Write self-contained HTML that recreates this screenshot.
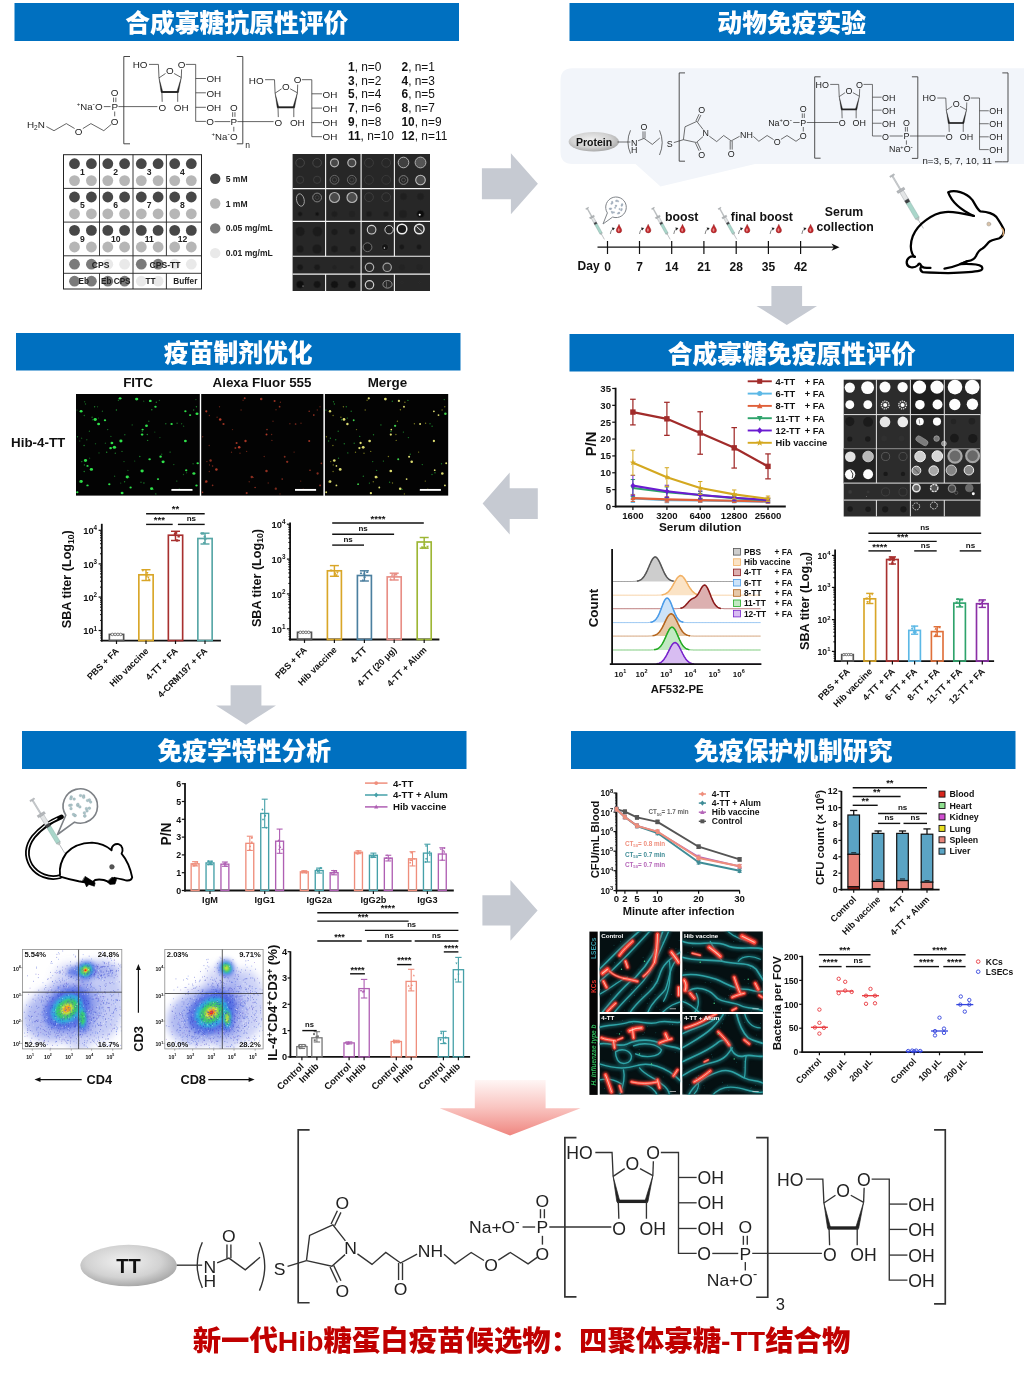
<!DOCTYPE html>
<html lang="zh"><head><meta charset="utf-8"><title>Hib glycoconjugate vaccine</title>
<style>
html,body{margin:0;padding:0;background:#fff;}
svg{display:block;font-family:"Liberation Sans","Noto Sans CJK SC",sans-serif;}
text{font-family:"Liberation Sans","Noto Sans CJK SC",sans-serif;}
</style></head><body>
<svg width="1024" height="1374" viewBox="0 0 1024 1374">
<rect width="1024" height="1374" fill="#fff"/>
<rect x="14.5" y="3" width="444.5" height="38" fill="#0070C0"/>
<text x="236.75" y="31.88" font-size="24.8" font-weight="900" fill="#fff"  text-anchor="middle">合成寡糖抗原性评价</text>
<rect x="569.5" y="3" width="444.5" height="38" fill="#0070C0"/>
<text x="791.75" y="31.88" font-size="24.8" font-weight="900" fill="#fff"  text-anchor="middle">动物免疫实验</text>
<rect x="16" y="333" width="444.5" height="37.5" fill="#0070C0"/>
<text x="238.25" y="361.63" font-size="24.8" font-weight="900" fill="#fff"  text-anchor="middle">疫苗制剂优化</text>
<rect x="569.5" y="334" width="444.5" height="37.5" fill="#0070C0"/>
<text x="791.75" y="362.63" font-size="24.8" font-weight="900" fill="#fff"  text-anchor="middle">合成寡糖免疫原性评价</text>
<rect x="22" y="731" width="444.5" height="38" fill="#0070C0"/>
<text x="244.25" y="759.88" font-size="24.8" font-weight="900" fill="#fff"  text-anchor="middle">免疫学特性分析</text>
<rect x="571" y="731" width="444.5" height="38" fill="#0070C0"/>
<text x="793.25" y="759.88" font-size="24.8" font-weight="900" fill="#fff"  text-anchor="middle">免疫保护机制研究</text>
<polygon points="481.9,168.3 510.9,168.3 510.9,153.3 537.9,183.8 510.9,214.3 510.9,199.3 481.9,199.3" fill="#C6CAD2"/>
<polygon points="802.1,286.1 802.1,305.9 817.0,305.9 786.8,324.9 756.5,305.9 771.4,305.9 771.4,286.1" fill="#C6CAD2"/>
<polygon points="537.8,519.1 509.7,519.1 509.7,534.6 482.6,503.6 509.7,472.6 509.7,488.2 537.8,488.2" fill="#C6CAD2"/>
<polygon points="261.4,685.3 261.4,705.4 276.0,705.4 246.0,724.7 216.0,705.4 230.6,705.4 230.6,685.3" fill="#C6CAD2"/>
<polygon points="482.4,895.2 510.4,895.2 510.4,880.1 537.6,910.4 510.4,940.7 510.4,925.6 482.4,925.6" fill="#C6CAD2"/>
<g id="panel1"><polyline points="130.00,56.50 123.80,56.50 123.80,143.80 130.00,143.80" fill="none" stroke="#333" stroke-width="0.9" stroke-linejoin="miter"/><polyline points="236.80,56.50 242.80,56.50 242.80,143.80 236.80,143.80" fill="none" stroke="#333" stroke-width="0.9" stroke-linejoin="miter"/><text x="245.20" y="148.34" font-size="8.5" text-anchor="start" fill="#222" font-weight="normal">n</text><text x="147.50" y="68.24" font-size="9.9" text-anchor="end" fill="#222" font-weight="normal">HO</text><polyline points="149.00,64.40 158.40,64.40 159.00,77.90" fill="none" stroke="#333" stroke-width="0.75" stroke-linejoin="miter"/><text x="169.80" y="74.44" font-size="9.9" text-anchor="middle" fill="#222" font-weight="normal">O</text><polyline points="165.50,73.50 159.00,77.90" fill="none" stroke="#333" stroke-width="0.75" stroke-linejoin="miter"/><polyline points="174.10,73.50 181.30,77.50" fill="none" stroke="#333" stroke-width="0.75" stroke-linejoin="miter"/><polygon points="159.00,77.90 161.07,92.17 162.73,91.83" fill="#222" stroke="#222" stroke-width="0.4"/><polygon points="181.30,77.50 176.88,91.80 178.52,92.20" fill="#222" stroke="#222" stroke-width="0.4"/><polyline points="161.20,92.00 178.40,92.00" fill="none" stroke="#222" stroke-width="1.9" stroke-linejoin="miter"/><polyline points="181.30,77.50 181.60,69.30" fill="none" stroke="#333" stroke-width="0.75" stroke-linejoin="miter"/><text x="181.50" y="68.14" font-size="9.9" text-anchor="middle" fill="#222" font-weight="normal">O</text><polyline points="161.90,92.00 162.20,101.80" fill="none" stroke="#333" stroke-width="0.75" stroke-linejoin="miter"/><text x="162.30" y="110.74" font-size="9.9" text-anchor="middle" fill="#222" font-weight="normal">O</text><polyline points="177.70,92.00 177.70,101.80" fill="none" stroke="#333" stroke-width="0.75" stroke-linejoin="miter"/><text x="173.80" y="110.74" font-size="9.9" text-anchor="start" fill="#222" font-weight="normal">OH</text><polyline points="185.80,64.40 195.70,64.40 195.70,121.40 205.90,121.40" fill="none" stroke="#333" stroke-width="0.75" stroke-linejoin="miter"/><polyline points="195.70,78.50 205.90,78.50" fill="none" stroke="#333" stroke-width="0.75" stroke-linejoin="miter"/><text x="206.40" y="82.24" font-size="9.9" text-anchor="start" fill="#222" font-weight="normal">OH</text><polyline points="195.70,92.80 205.90,92.80" fill="none" stroke="#333" stroke-width="0.75" stroke-linejoin="miter"/><text x="206.40" y="96.54" font-size="9.9" text-anchor="start" fill="#222" font-weight="normal">OH</text><polyline points="195.70,107.30 205.90,107.30" fill="none" stroke="#333" stroke-width="0.75" stroke-linejoin="miter"/><text x="206.40" y="111.04" font-size="9.9" text-anchor="start" fill="#222" font-weight="normal">OH</text><text x="210.10" y="125.34" font-size="9.9" text-anchor="middle" fill="#222" font-weight="normal">O</text><text x="263.60" y="83.54" font-size="9.9" text-anchor="end" fill="#222" font-weight="normal">HO</text><polyline points="265.10,79.70 274.50,79.70 275.10,93.20" fill="none" stroke="#333" stroke-width="0.75" stroke-linejoin="miter"/><text x="285.90" y="89.74" font-size="9.9" text-anchor="middle" fill="#222" font-weight="normal">O</text><polyline points="281.60,88.80 275.10,93.20" fill="none" stroke="#333" stroke-width="0.75" stroke-linejoin="miter"/><polyline points="290.20,88.80 297.40,92.80" fill="none" stroke="#333" stroke-width="0.75" stroke-linejoin="miter"/><polygon points="275.10,93.20 277.17,107.47 278.83,107.13" fill="#222" stroke="#222" stroke-width="0.4"/><polygon points="297.40,92.80 292.98,107.10 294.62,107.50" fill="#222" stroke="#222" stroke-width="0.4"/><polyline points="277.30,107.30 294.50,107.30" fill="none" stroke="#222" stroke-width="1.9" stroke-linejoin="miter"/><polyline points="297.40,92.80 297.70,84.60" fill="none" stroke="#333" stroke-width="0.75" stroke-linejoin="miter"/><text x="297.60" y="83.44" font-size="9.9" text-anchor="middle" fill="#222" font-weight="normal">O</text><polyline points="278.00,107.30 278.30,117.10" fill="none" stroke="#333" stroke-width="0.75" stroke-linejoin="miter"/><text x="278.40" y="126.04" font-size="9.9" text-anchor="middle" fill="#222" font-weight="normal">O</text><polyline points="293.80,107.30 293.80,117.10" fill="none" stroke="#333" stroke-width="0.75" stroke-linejoin="miter"/><text x="289.90" y="126.04" font-size="9.9" text-anchor="start" fill="#222" font-weight="normal">OH</text><polyline points="301.90,79.70 311.80,79.70 311.80,136.70 322.00,136.70" fill="none" stroke="#333" stroke-width="0.75" stroke-linejoin="miter"/><polyline points="311.80,93.80 322.00,93.80" fill="none" stroke="#333" stroke-width="0.75" stroke-linejoin="miter"/><text x="322.50" y="97.54" font-size="9.9" text-anchor="start" fill="#222" font-weight="normal">OH</text><polyline points="311.80,108.10 322.00,108.10" fill="none" stroke="#333" stroke-width="0.75" stroke-linejoin="miter"/><text x="322.50" y="111.84" font-size="9.9" text-anchor="start" fill="#222" font-weight="normal">OH</text><polyline points="311.80,122.60 322.00,122.60" fill="none" stroke="#333" stroke-width="0.75" stroke-linejoin="miter"/><text x="322.50" y="126.34" font-size="9.9" text-anchor="start" fill="#222" font-weight="normal">OH</text><text x="322.50" y="140.44" font-size="9.9" text-anchor="start" fill="#222" font-weight="normal">OH</text><text x="44.80" y="128.14" font-size="9.9" text-anchor="end" fill="#222" font-weight="normal">H<tspan font-size="6.5" dy="2">2</tspan><tspan dy="-2">N</tspan></text><polyline points="46.40,126.60 54.00,130.70 66.30,123.60 74.60,128.50" fill="none" stroke="#333" stroke-width="0.75" stroke-linejoin="miter"/><text x="78.70" y="134.74" font-size="9.9" text-anchor="middle" fill="#222" font-weight="normal">O</text><polyline points="82.80,128.60 90.90,123.60 103.80,130.70 111.50,124.20" fill="none" stroke="#333" stroke-width="0.75" stroke-linejoin="miter"/><text x="114.70" y="124.84" font-size="9.9" text-anchor="middle" fill="#222" font-weight="normal">O</text><polyline points="114.70,111.50 114.70,116.30" fill="none" stroke="#333" stroke-width="0.75" stroke-linejoin="miter"/><text x="114.70" y="110.34" font-size="9.9" text-anchor="middle" fill="#222" font-weight="normal">P</text><text x="114.70" y="96.14" font-size="9.9" text-anchor="middle" fill="#222" font-weight="normal">O</text><polyline points="113.55,97.60 113.55,102.10" fill="none" stroke="#333" stroke-width="0.75" stroke-linejoin="miter"/><polyline points="115.85,97.60 115.85,102.10" fill="none" stroke="#333" stroke-width="0.75" stroke-linejoin="miter"/><text x="98.80" y="110.34" font-size="9.9" text-anchor="middle" fill="#222" font-weight="normal">O</text><polyline points="103.80,106.60 110.60,106.60" fill="none" stroke="#333" stroke-width="0.75" stroke-linejoin="miter"/><text x="76.8" y="110.2" font-size="9.6" fill="#222"><tspan font-size="6" dy="-4">+</tspan><tspan dy="4">Na</tspan><tspan font-size="7" dy="-4">-</tspan></text><polyline points="118.40,106.60 157.40,106.60" fill="none" stroke="#333" stroke-width="0.75" stroke-linejoin="miter"/><polyline points="214.60,121.60 230.30,121.60" fill="none" stroke="#333" stroke-width="0.75" stroke-linejoin="miter"/><text x="233.80" y="125.44" font-size="9.9" text-anchor="middle" fill="#222" font-weight="normal">P</text><text x="233.80" y="111.04" font-size="9.9" text-anchor="middle" fill="#222" font-weight="normal">O</text><polyline points="232.65,112.20 232.65,116.90" fill="none" stroke="#333" stroke-width="0.75" stroke-linejoin="miter"/><polyline points="234.95,112.20 234.95,116.90" fill="none" stroke="#333" stroke-width="0.75" stroke-linejoin="miter"/><polyline points="233.80,126.80 233.80,131.50" fill="none" stroke="#333" stroke-width="0.75" stroke-linejoin="miter"/><text x="233.80" y="140.14" font-size="9.9" text-anchor="middle" fill="#222" font-weight="normal">O</text><text x="211.6" y="140" font-size="9.6" fill="#222"><tspan font-size="6" dy="-4">+</tspan><tspan dy="4">Na</tspan><tspan font-size="7" dy="-4">-</tspan></text><polyline points="237.40,121.60 273.60,121.60" fill="none" stroke="#333" stroke-width="0.75" stroke-linejoin="miter"/><text x="348" y="70.5" font-size="11.9" fill="#111"><tspan font-weight="bold">1</tspan>, n=0</text><text x="401.5" y="70.5" font-size="11.9" fill="#111"><tspan font-weight="bold">2</tspan>, n=1</text><text x="348" y="84.5" font-size="11.9" fill="#111"><tspan font-weight="bold">3</tspan>, n=2</text><text x="401.5" y="84.5" font-size="11.9" fill="#111"><tspan font-weight="bold">4</tspan>, n=3</text><text x="348" y="98.2" font-size="11.9" fill="#111"><tspan font-weight="bold">5</tspan>, n=4</text><text x="401.5" y="98.2" font-size="11.9" fill="#111"><tspan font-weight="bold">6</tspan>, n=5</text><text x="348" y="112" font-size="11.9" fill="#111"><tspan font-weight="bold">7</tspan>, n=6</text><text x="401.5" y="112" font-size="11.9" fill="#111"><tspan font-weight="bold">8</tspan>, n=7</text><text x="348" y="126" font-size="11.9" fill="#111"><tspan font-weight="bold">9</tspan>, n=8</text><text x="401.5" y="126" font-size="11.9" fill="#111"><tspan font-weight="bold">10</tspan>, n=9</text><text x="348" y="139.8" font-size="11.9" fill="#111"><tspan font-weight="bold">11</tspan>, n=10</text><text x="401.5" y="139.8" font-size="11.9" fill="#111"><tspan font-weight="bold">12</tspan>, n=11</text><rect x="63.5" y="154.7" width="138.0" height="134.3" fill="#fff" stroke="#222" stroke-width="1"/><polyline points="63.50,188.40 201.50,188.40" fill="none" stroke="#222" stroke-width="0.9" stroke-linejoin="miter"/><polyline points="63.50,222.10 201.50,222.10" fill="none" stroke="#222" stroke-width="0.9" stroke-linejoin="miter"/><polyline points="63.50,255.80 201.50,255.80" fill="none" stroke="#222" stroke-width="0.9" stroke-linejoin="miter"/><polyline points="63.50,273.30 201.50,273.30" fill="none" stroke="#222" stroke-width="0.9" stroke-linejoin="miter"/><polyline points="99.50,154.70 99.50,255.80" fill="none" stroke="#222" stroke-width="0.9" stroke-linejoin="miter"/><polyline points="99.50,273.30 99.50,289.00" fill="none" stroke="#222" stroke-width="0.9" stroke-linejoin="miter"/><polyline points="133.00,154.70 133.00,255.80" fill="none" stroke="#222" stroke-width="0.9" stroke-linejoin="miter"/><polyline points="133.00,273.30 133.00,289.00" fill="none" stroke="#222" stroke-width="0.9" stroke-linejoin="miter"/><polyline points="166.40,154.70 166.40,255.80" fill="none" stroke="#222" stroke-width="0.9" stroke-linejoin="miter"/><polyline points="166.40,273.30 166.40,289.00" fill="none" stroke="#222" stroke-width="0.9" stroke-linejoin="miter"/><polyline points="133.00,255.80 133.00,273.30" fill="none" stroke="#222" stroke-width="0.9" stroke-linejoin="miter"/><circle cx="74.5" cy="163.7" r="5.4" fill="#474747"/><circle cx="74.5" cy="180.6" r="5.4" fill="#b6b6b6"/><circle cx="91.4" cy="163.7" r="5.4" fill="#474747"/><circle cx="91.4" cy="180.6" r="5.4" fill="#b6b6b6"/><text x="82.45" y="175.0" font-size="8.6" font-weight="bold" text-anchor="middle" fill="#222">1</text><circle cx="107.8" cy="163.7" r="5.4" fill="#474747"/><circle cx="107.8" cy="180.6" r="5.4" fill="#b6b6b6"/><circle cx="124.6" cy="163.7" r="5.4" fill="#474747"/><circle cx="124.6" cy="180.6" r="5.4" fill="#b6b6b6"/><text x="115.69999999999999" y="175.0" font-size="8.6" font-weight="bold" text-anchor="middle" fill="#222">2</text><circle cx="141.3" cy="163.7" r="5.4" fill="#474747"/><circle cx="141.3" cy="180.6" r="5.4" fill="#b6b6b6"/><circle cx="158.1" cy="163.7" r="5.4" fill="#474747"/><circle cx="158.1" cy="180.6" r="5.4" fill="#b6b6b6"/><text x="149.2" y="175.0" font-size="8.6" font-weight="bold" text-anchor="middle" fill="#222">3</text><circle cx="174.7" cy="163.7" r="5.4" fill="#474747"/><circle cx="174.7" cy="180.6" r="5.4" fill="#b6b6b6"/><circle cx="191.3" cy="163.7" r="5.4" fill="#474747"/><circle cx="191.3" cy="180.6" r="5.4" fill="#b6b6b6"/><text x="182.5" y="175.0" font-size="8.6" font-weight="bold" text-anchor="middle" fill="#222">4</text><circle cx="74.5" cy="197" r="5.4" fill="#474747"/><circle cx="74.5" cy="213.8" r="5.4" fill="#b6b6b6"/><circle cx="91.4" cy="197" r="5.4" fill="#474747"/><circle cx="91.4" cy="213.8" r="5.4" fill="#b6b6b6"/><text x="82.45" y="208.3" font-size="8.6" font-weight="bold" text-anchor="middle" fill="#222">5</text><circle cx="107.8" cy="197" r="5.4" fill="#474747"/><circle cx="107.8" cy="213.8" r="5.4" fill="#b6b6b6"/><circle cx="124.6" cy="197" r="5.4" fill="#474747"/><circle cx="124.6" cy="213.8" r="5.4" fill="#b6b6b6"/><text x="115.69999999999999" y="208.3" font-size="8.6" font-weight="bold" text-anchor="middle" fill="#222">6</text><circle cx="141.3" cy="197" r="5.4" fill="#474747"/><circle cx="141.3" cy="213.8" r="5.4" fill="#b6b6b6"/><circle cx="158.1" cy="197" r="5.4" fill="#474747"/><circle cx="158.1" cy="213.8" r="5.4" fill="#b6b6b6"/><text x="149.2" y="208.3" font-size="8.6" font-weight="bold" text-anchor="middle" fill="#222">7</text><circle cx="174.7" cy="197" r="5.4" fill="#474747"/><circle cx="174.7" cy="213.8" r="5.4" fill="#b6b6b6"/><circle cx="191.3" cy="197" r="5.4" fill="#474747"/><circle cx="191.3" cy="213.8" r="5.4" fill="#b6b6b6"/><text x="182.5" y="208.3" font-size="8.6" font-weight="bold" text-anchor="middle" fill="#222">8</text><circle cx="74.5" cy="230.4" r="5.4" fill="#474747"/><circle cx="74.5" cy="247" r="5.4" fill="#b6b6b6"/><circle cx="91.4" cy="230.4" r="5.4" fill="#474747"/><circle cx="91.4" cy="247" r="5.4" fill="#b6b6b6"/><text x="82.45" y="241.70000000000002" font-size="8.6" font-weight="bold" text-anchor="middle" fill="#222">9</text><circle cx="107.8" cy="230.4" r="5.4" fill="#474747"/><circle cx="107.8" cy="247" r="5.4" fill="#b6b6b6"/><circle cx="124.6" cy="230.4" r="5.4" fill="#474747"/><circle cx="124.6" cy="247" r="5.4" fill="#b6b6b6"/><text x="115.69999999999999" y="241.70000000000002" font-size="8.6" font-weight="bold" text-anchor="middle" fill="#222">10</text><circle cx="141.3" cy="230.4" r="5.4" fill="#474747"/><circle cx="141.3" cy="247" r="5.4" fill="#b6b6b6"/><circle cx="158.1" cy="230.4" r="5.4" fill="#474747"/><circle cx="158.1" cy="247" r="5.4" fill="#b6b6b6"/><text x="149.2" y="241.70000000000002" font-size="8.6" font-weight="bold" text-anchor="middle" fill="#222">11</text><circle cx="174.7" cy="230.4" r="5.4" fill="#474747"/><circle cx="174.7" cy="247" r="5.4" fill="#b6b6b6"/><circle cx="191.3" cy="230.4" r="5.4" fill="#474747"/><circle cx="191.3" cy="247" r="5.4" fill="#b6b6b6"/><text x="182.5" y="241.70000000000002" font-size="8.6" font-weight="bold" text-anchor="middle" fill="#222">12</text><circle cx="74.5" cy="264.2" r="5.4" fill="#7a7a7a"/><circle cx="91.4" cy="264.2" r="5.4" fill="#7a7a7a"/><circle cx="107.8" cy="264.2" r="5.4" fill="#e9e9e9"/><circle cx="124.6" cy="264.2" r="5.4" fill="#e9e9e9"/><circle cx="141.3" cy="264.2" r="5.4" fill="#7a7a7a"/><circle cx="158.1" cy="264.2" r="5.4" fill="#7a7a7a"/><circle cx="174.7" cy="264.2" r="5.4" fill="#e9e9e9"/><circle cx="191.3" cy="264.2" r="5.4" fill="#e9e9e9"/><circle cx="74.5" cy="281.2" r="5.4" fill="#7a7a7a"/><circle cx="91.4" cy="281.2" r="5.4" fill="#7a7a7a"/><circle cx="107.8" cy="281.2" r="5.4" fill="#7a7a7a"/><circle cx="124.6" cy="281.2" r="5.4" fill="#7a7a7a"/><circle cx="141.3" cy="281.2" r="5.4" fill="#e9e9e9"/><circle cx="158.1" cy="281.2" r="5.4" fill="#e9e9e9"/><text x="100.6" y="267.6" font-size="8.6" font-weight="bold" text-anchor="middle" fill="#222">CPS</text><text x="165" y="267.6" font-size="8.6" font-weight="bold" text-anchor="middle" fill="#222">CPS-TT</text><text x="83.8" y="284.3" font-size="8.2" font-weight="bold" text-anchor="middle" fill="#222">Eb</text><text x="115.8" y="284.3" font-size="8.2" font-weight="bold" text-anchor="middle" fill="#222">Eb CPS</text><text x="150.5" y="284.3" font-size="8.2" font-weight="bold" text-anchor="middle" fill="#222">TT</text><text x="185.3" y="284.3" font-size="8.2" font-weight="bold" text-anchor="middle" fill="#222">Buffer</text><circle cx="215.2" cy="178.8" r="5.2" fill="#474747"/><text x="225.7" y="181.8" font-size="8.55" font-weight="bold" text-anchor="start" fill="#222">5 mM</text><circle cx="215.2" cy="203.5" r="5.2" fill="#b6b6b6"/><text x="225.7" y="206.5" font-size="8.55" font-weight="bold" text-anchor="start" fill="#222">1 mM</text><circle cx="215.2" cy="228.4" r="5.2" fill="#7a7a7a"/><text x="225.7" y="231.4" font-size="8.55" font-weight="bold" text-anchor="start" fill="#222">0.05 mg/mL</text><circle cx="215.2" cy="253.1" r="5.2" fill="#e9e9e9"/><text x="225.7" y="256.1" font-size="8.55" font-weight="bold" text-anchor="start" fill="#222">0.01 mg/mL</text><rect x="292.6" y="154" width="137.39999999999998" height="137" fill="#272727"/><circle cx="300.1" cy="162.8" r="4.3" fill="none" stroke="#474747" stroke-width="1.0" opacity="1"/><circle cx="300.1" cy="179.8" r="3.6" fill="none" stroke="#3d3d3d" stroke-width="1.0" opacity="1"/><circle cx="317.1" cy="162.8" r="4.3" fill="none" stroke="#474747" stroke-width="1.0" opacity="1"/><circle cx="317.1" cy="179.8" r="3.6" fill="none" stroke="#3d3d3d" stroke-width="1.0" opacity="1"/><circle cx="334.5" cy="162.8" r="4.0" fill="#484848" stroke="#b4b4b4" stroke-width="1.2" opacity="1"/><circle cx="334.5" cy="179.8" r="4.4" fill="none" stroke="#777" stroke-width="0.8" opacity="1"/><circle cx="334.5" cy="179.8" r="2.2" fill="none" stroke="#555" stroke-width="0.6" opacity="1"/><circle cx="351.8" cy="162.8" r="4.0" fill="#484848" stroke="#b4b4b4" stroke-width="1.2" opacity="1"/><circle cx="351.8" cy="179.8" r="4.4" fill="none" stroke="#777" stroke-width="0.8" opacity="1"/><circle cx="351.8" cy="179.8" r="2.2" fill="none" stroke="#555" stroke-width="0.6" opacity="1"/><circle cx="369.0" cy="162.8" r="4.4" fill="none" stroke="#3c3c3c" stroke-width="1.0" opacity="1"/><circle cx="369.0" cy="179.8" r="4.4" fill="none" stroke="#383838" stroke-width="1.0" opacity="1"/><circle cx="386.2" cy="162.8" r="4.4" fill="none" stroke="#3c3c3c" stroke-width="1.0" opacity="1"/><circle cx="386.2" cy="179.8" r="4.4" fill="none" stroke="#383838" stroke-width="1.0" opacity="1"/><circle cx="403.5" cy="162.5" r="5.3" fill="#404040" stroke="#bdbdbd" stroke-width="0.9" opacity="1"/><circle cx="420.5" cy="162.5" r="5.4" fill="#555" stroke="#b0b0b0" stroke-width="1.0" opacity="1"/><circle cx="403.5" cy="180" r="4.4" fill="none" stroke="#8a8a8a" stroke-width="0.9" opacity="1"/><circle cx="403.5" cy="180" r="2" fill="none" stroke="#666" stroke-width="0.6" opacity="1"/><circle cx="420.5" cy="180" r="4.8" fill="#4c4c4c" stroke="#bdbdbd" stroke-width="1.1" opacity="1"/><ellipse cx="300.4" cy="200" rx="3.8" ry="6.3" fill="none" stroke="#a5a5a5" stroke-width="0.9" transform="rotate(-12 300.4 200)"/><circle cx="317.1" cy="197.5" r="4.4" fill="none" stroke="#8c8c8c" stroke-width="0.9" opacity="1"/><circle cx="317.1" cy="197.5" r="2" fill="none" stroke="#555" stroke-width="0.5" opacity="1"/><circle cx="334.5" cy="197.5" r="5" fill="#4a4a4a" stroke="#b0b0b0" stroke-width="1.2" opacity="1"/><circle cx="352" cy="197.5" r="5" fill="#4d4d4d" stroke="#b4b4b4" stroke-width="1.2" opacity="1"/><circle cx="369.0" cy="197.2" r="4.4" fill="none" stroke="#3e3e3e" stroke-width="1.0" opacity="1"/><circle cx="386.2" cy="197.2" r="4.4" fill="none" stroke="#3e3e3e" stroke-width="1.0" opacity="1"/><circle cx="403.5" cy="196.5" r="3.2" fill="#1f1f1f" stroke="#222" stroke-width="1.0" opacity="1"/><circle cx="420.5" cy="196.5" r="3.2" fill="#1f1f1f" stroke="#222" stroke-width="1.0" opacity="1"/><circle cx="300.1" cy="214" r="2.3" fill="#161616" stroke="#232323" stroke-width="0.8" opacity="1"/><circle cx="317.1" cy="214" r="2.0" fill="#121212" stroke="#232323" stroke-width="0.8" opacity="1"/><circle cx="334.5" cy="214" r="2.8" fill="#1e1e1e" stroke="#232323" stroke-width="0.8" opacity="1"/><circle cx="352" cy="214" r="3.0" fill="#222" stroke="#232323" stroke-width="0.8" opacity="1"/><circle cx="369" cy="214" r="2.8" fill="#1c1c1c" stroke="#232323" stroke-width="0.8" opacity="1"/><circle cx="386" cy="214" r="2.6" fill="#1d1d1d" stroke="#232323" stroke-width="0.8" opacity="1"/><circle cx="403" cy="214" r="4" fill="#1f1f1f" stroke="#232323" stroke-width="0.8" opacity="1"/><circle cx="420.5" cy="214" r="3.8" fill="#0c0c0c" stroke="#232323" stroke-width="0.8" opacity="1"/><circle cx="419.7" cy="214.8" r="1" fill="#fff"/><circle cx="300.1" cy="231.5" r="4.5" fill="#1b1b1b" stroke="#222" stroke-width="0.5" opacity="1"/><circle cx="317.5" cy="231.5" r="4.8" fill="#1b1b1b" stroke="#222" stroke-width="0.5" opacity="1"/><circle cx="300" cy="249" r="3.6" fill="#1b1b1b" stroke="#222" stroke-width="0.5" opacity="1"/><circle cx="317" cy="249" r="4.6" fill="#1b1b1b" stroke="#222" stroke-width="0.5" opacity="1"/><circle cx="334.5" cy="232" r="3" fill="#1b1b1b" stroke="#222" stroke-width="0.5" opacity="1"/><circle cx="352" cy="231.5" r="3" fill="#1b1b1b" stroke="#222" stroke-width="0.5" opacity="1"/><circle cx="334.5" cy="249" r="3.2" fill="#1b1b1b" stroke="#222" stroke-width="0.5" opacity="1"/><circle cx="353" cy="249" r="3" fill="#1b1b1b" stroke="#222" stroke-width="0.5" opacity="1"/><circle cx="371.6" cy="229.7" r="4.3" fill="#3a3a3a" stroke="#d0d0d0" stroke-width="1.1" opacity="1"/><circle cx="389.1" cy="229.7" r="4.2" fill="#222" stroke="#cfcfcf" stroke-width="1.0" opacity="1"/><circle cx="367.5" cy="247.2" r="4.4" fill="#1d1d1d" stroke="#7c7c7c" stroke-width="0.9" opacity="1"/><circle cx="385" cy="247.2" r="3.6" fill="#151515" stroke="#333" stroke-width="0.8" opacity="1"/><circle cx="384.4" cy="248" r="0.7" fill="#ddd"/><circle cx="402" cy="229" r="4.8" fill="#1a1a1a" stroke="#f0f0f0" stroke-width="1.5" opacity="1"/><circle cx="419.3" cy="229" r="4.8" fill="#333" stroke="#eaeaea" stroke-width="1.4" opacity="1"/><polyline points="416.50,226.50 422.00,231.50" fill="none" stroke="#ddd" stroke-width="1" stroke-linejoin="miter"/><circle cx="401.8" cy="247" r="2.4" fill="#181818" stroke="#222" stroke-width="0.5" opacity="1"/><circle cx="419" cy="247" r="2.4" fill="#181818" stroke="#222" stroke-width="0.5" opacity="1"/><circle cx="300.1" cy="267.3" r="3" fill="#181818" stroke="#252525" stroke-width="0.6" opacity="1"/><circle cx="317.1" cy="267.3" r="3" fill="#1a1a1a" stroke="#252525" stroke-width="0.6" opacity="1"/><circle cx="334.5" cy="267.3" r="2" fill="#222" stroke="#252525" stroke-width="0.6" opacity="1"/><circle cx="352" cy="267.3" r="1.8" fill="#222" stroke="#252525" stroke-width="0.6" opacity="1"/><circle cx="402" cy="267.3" r="2.8" fill="#232323" stroke="#252525" stroke-width="0.6" opacity="1"/><circle cx="419.5" cy="267.3" r="2.8" fill="#242424" stroke="#252525" stroke-width="0.6" opacity="1"/><circle cx="369.5" cy="267.3" r="4.2" fill="#2a2a2a" stroke="#b0b0b0" stroke-width="1.2" opacity="1"/><circle cx="387.2" cy="267.3" r="4.2" fill="#333" stroke="#a0a0a0" stroke-width="1.2" opacity="1"/><circle cx="300.1" cy="284.5" r="3.7" fill="#0e0e0e" stroke="#202020" stroke-width="0.6" opacity="1"/><circle cx="317.1" cy="284.5" r="3.4" fill="#141414" stroke="#202020" stroke-width="0.6" opacity="1"/><circle cx="334.5" cy="284.5" r="3.6" fill="#121212" stroke="#202020" stroke-width="0.6" opacity="1"/><circle cx="352" cy="284.5" r="3.8" fill="#131313" stroke="#202020" stroke-width="0.6" opacity="1"/><circle cx="303" cy="286" r="0.6" fill="#ccc"/><circle cx="369.5" cy="284.8" r="4.2" fill="#2c2c2c" stroke="#d0d0d0" stroke-width="1.2" opacity="1"/><ellipse cx="387.5" cy="284.3" rx="4.6" ry="3.8" fill="#2a2a2a" stroke="#9a9a9a" stroke-width="0.9"/><polyline points="386.50,281.50 386.50,287.30" fill="none" stroke="#888" stroke-width="0.6" stroke-linejoin="miter"/><circle cx="402" cy="282.5" r="1" fill="#262626" stroke="#333" stroke-width="0.4" opacity="1"/><circle cx="419.5" cy="282.5" r="1" fill="#262626" stroke="#333" stroke-width="0.4" opacity="1"/><polyline points="292.60,188.60 430.00,188.60" fill="none" stroke="#f4f4f4" stroke-width="1.1" stroke-linejoin="miter"/><polyline points="292.60,221.40 430.00,221.40" fill="none" stroke="#f4f4f4" stroke-width="1.1" stroke-linejoin="miter"/><polyline points="292.60,256.20 430.00,256.20" fill="none" stroke="#f4f4f4" stroke-width="1.1" stroke-linejoin="miter"/><polyline points="292.60,274.10 430.00,274.10" fill="none" stroke="#f4f4f4" stroke-width="1.1" stroke-linejoin="miter"/><polyline points="325.60,154.00 325.60,256.20" fill="none" stroke="#f4f4f4" stroke-width="1.1" stroke-linejoin="miter"/><polyline points="325.60,274.10 325.60,291.00" fill="none" stroke="#f4f4f4" stroke-width="1.1" stroke-linejoin="miter"/><polyline points="361.10,154.00 361.10,256.20" fill="none" stroke="#f4f4f4" stroke-width="1.1" stroke-linejoin="miter"/><polyline points="361.10,274.10 361.10,291.00" fill="none" stroke="#f4f4f4" stroke-width="1.1" stroke-linejoin="miter"/><polyline points="394.40,154.00 394.40,256.20" fill="none" stroke="#f4f4f4" stroke-width="1.1" stroke-linejoin="miter"/><polyline points="394.40,274.10 394.40,291.00" fill="none" stroke="#f4f4f4" stroke-width="1.1" stroke-linejoin="miter"/><polyline points="361.10,256.20 361.10,274.10" fill="none" stroke="#f4f4f4" stroke-width="1.1" stroke-linejoin="miter"/></g>
<g id="panel2"><path d="M572.5,68.3 H1024 V164 H755 L660.5,186.5 L635.5,164 H572.5 Q560.5,164 560.5,152 V80.3 Q560.5,68.3 572.5,68.3Z" fill="#f2f5fa"/><defs><radialGradient id="gPro" cx="0.45" cy="0.4" r="0.65"><stop offset="0" stop-color="#f1f1f1"/><stop offset="0.6" stop-color="#d2d2d2"/><stop offset="1" stop-color="#9f9f9f"/></radialGradient></defs><ellipse cx="593.8" cy="141.8" rx="25.2" ry="9.8" fill="url(#gPro)"/><text x="594" y="145.5" font-size="10.5" font-weight="bold" text-anchor="middle" fill="#111">Protein</text><polyline points="617.50,142.00 630.40,142.00" fill="none" stroke="#333" stroke-width="0.7" stroke-linejoin="miter"/><path d="M630.5,130.3 Q625.3,142 630.5,153.7" fill="none" stroke="#333" stroke-width="0.7"/><text x="634.30" y="145.79" font-size="8.9" text-anchor="middle" fill="#222" font-weight="normal">N</text><text x="634.30" y="153.19" font-size="8.9" text-anchor="middle" fill="#222" font-weight="normal">H</text><polyline points="638.00,140.80 644.00,138.40 652.30,144.40 659.80,138.00" fill="none" stroke="#333" stroke-width="0.7" stroke-linejoin="miter"/><polyline points="645.00,138.40 645.00,131.40" fill="none" stroke="#333" stroke-width="0.7" stroke-linejoin="miter"/><polyline points="643.00,138.40 643.00,131.40" fill="none" stroke="#333" stroke-width="0.7" stroke-linejoin="miter"/><text x="644.00" y="129.99" font-size="8.9" text-anchor="middle" fill="#222" font-weight="normal">O</text><path d="M659.5,130.3 Q664.9,142.5 659.5,155" fill="none" stroke="#333" stroke-width="0.7"/><text x="669.80" y="147.09" font-size="8.9" text-anchor="middle" fill="#222" font-weight="normal">S</text><polyline points="673.80,142.60 683.40,139.70" fill="none" stroke="#333" stroke-width="0.7" stroke-linejoin="miter"/><polyline points="685.00,72.90 679.20,72.90 679.20,161.20 685.00,161.20" fill="none" stroke="#333" stroke-width="0.85" stroke-linejoin="miter"/><polyline points="683.40,139.70 685.00,126.80 696.80,121.40 703.20,129.60" fill="none" stroke="#333" stroke-width="0.7" stroke-linejoin="miter"/><polyline points="683.40,139.70 696.30,142.50 703.00,136.60" fill="none" stroke="#333" stroke-width="0.7" stroke-linejoin="miter"/><text x="705.80" y="136.39" font-size="8.9" text-anchor="middle" fill="#222" font-weight="normal">N</text><polyline points="697.70,121.83 700.90,115.03" fill="none" stroke="#333" stroke-width="0.7" stroke-linejoin="miter"/><polyline points="695.90,120.97 699.10,114.17" fill="none" stroke="#333" stroke-width="0.7" stroke-linejoin="miter"/><text x="701.60" y="113.49" font-size="8.9" text-anchor="middle" fill="#222" font-weight="normal">O</text><polyline points="695.39,142.92 699.09,150.82" fill="none" stroke="#333" stroke-width="0.7" stroke-linejoin="miter"/><polyline points="697.21,142.08 700.91,149.98" fill="none" stroke="#333" stroke-width="0.7" stroke-linejoin="miter"/><text x="701.60" y="158.09" font-size="8.9" text-anchor="middle" fill="#222" font-weight="normal">O</text><polyline points="709.30,136.20 716.70,141.60 723.70,135.50 731.20,140.90 739.60,136.30" fill="none" stroke="#333" stroke-width="0.7" stroke-linejoin="miter"/><polyline points="730.20,140.90 730.20,149.60" fill="none" stroke="#333" stroke-width="0.7" stroke-linejoin="miter"/><polyline points="732.20,140.90 732.20,149.60" fill="none" stroke="#333" stroke-width="0.7" stroke-linejoin="miter"/><text x="731.20" y="157.39" font-size="8.9" text-anchor="middle" fill="#222" font-weight="normal">O</text><text x="740.00" y="137.79" font-size="8.9" text-anchor="start" fill="#222" font-weight="normal">NH</text><polyline points="753.30,136.40 758.90,141.30 767.10,135.50 773.60,139.60" fill="none" stroke="#333" stroke-width="0.7" stroke-linejoin="miter"/><text x="777.20" y="145.19" font-size="8.9" text-anchor="middle" fill="#222" font-weight="normal">O</text><polyline points="780.90,139.40 787.00,135.50 796.00,141.30 800.60,138.00" fill="none" stroke="#333" stroke-width="0.7" stroke-linejoin="miter"/><text x="803.30" y="139.19" font-size="8.9" text-anchor="middle" fill="#222" font-weight="normal">O</text><polyline points="803.30,127.00 803.30,131.50" fill="none" stroke="#333" stroke-width="0.7" stroke-linejoin="miter"/><text x="803.30" y="125.79" font-size="8.9" text-anchor="middle" fill="#222" font-weight="normal">P</text><text x="803.30" y="112.19" font-size="8.9" text-anchor="middle" fill="#222" font-weight="normal">O</text><polyline points="802.30,113.40 802.30,118.00" fill="none" stroke="#333" stroke-width="0.7" stroke-linejoin="miter"/><polyline points="804.30,113.40 804.30,118.00" fill="none" stroke="#333" stroke-width="0.7" stroke-linejoin="miter"/><text x="768.2" y="125.79" font-size="8.9" fill="#222">Na<tspan font-size="5.6" dy="-3.6">+</tspan><tspan dy="3.6">O</tspan><tspan font-size="6.5" dy="-3.8">-</tspan></text><polyline points="793.20,122.50 799.60,122.50" fill="none" stroke="#333" stroke-width="0.7" stroke-linejoin="miter"/><polyline points="806.80,122.50 838.30,122.50" fill="none" stroke="#333" stroke-width="0.7" stroke-linejoin="miter"/><polyline points="820.60,76.80 814.70,76.80 814.70,158.20 820.60,158.20" fill="none" stroke="#333" stroke-width="0.85" stroke-linejoin="miter"/><polyline points="911.90,76.80 917.80,76.80 917.80,158.40 911.90,158.40" fill="none" stroke="#333" stroke-width="0.85" stroke-linejoin="miter"/><g transform="translate(849,90.3) scale(0.905)"><text x="-22.30" y="-2.66" font-size="9.9" text-anchor="end" fill="#222" font-weight="normal">HO</text><polyline points="-20.80,-6.50 -11.40,-6.50 -10.80,7.00" fill="none" stroke="#333" stroke-width="0.75" stroke-linejoin="miter"/><text x="0.00" y="3.54" font-size="9.9" text-anchor="middle" fill="#222" font-weight="normal">O</text><polyline points="-4.30,2.60 -10.80,7.00" fill="none" stroke="#333" stroke-width="0.75" stroke-linejoin="miter"/><polyline points="4.30,2.60 11.50,6.60" fill="none" stroke="#333" stroke-width="0.75" stroke-linejoin="miter"/><polygon points="-10.80,7.00 -8.73,21.27 -7.07,20.93" fill="#222" stroke="#222" stroke-width="0.4"/><polygon points="11.50,6.60 7.08,20.90 8.72,21.30" fill="#222" stroke="#222" stroke-width="0.4"/><polyline points="-8.60,21.10 8.60,21.10" fill="none" stroke="#222" stroke-width="1.9" stroke-linejoin="miter"/><polyline points="11.50,6.60 11.80,-1.60" fill="none" stroke="#333" stroke-width="0.75" stroke-linejoin="miter"/><text x="11.70" y="-2.76" font-size="9.9" text-anchor="middle" fill="#222" font-weight="normal">O</text><polyline points="-7.90,21.10 -7.60,30.90" fill="none" stroke="#333" stroke-width="0.75" stroke-linejoin="miter"/><text x="-7.50" y="39.84" font-size="9.9" text-anchor="middle" fill="#222" font-weight="normal">O</text><polyline points="7.90,21.10 7.90,30.90" fill="none" stroke="#333" stroke-width="0.75" stroke-linejoin="miter"/><text x="4.00" y="39.84" font-size="9.9" text-anchor="start" fill="#222" font-weight="normal">OH</text><polyline points="16.00,-6.50 25.90,-6.50 25.90,50.50 36.10,50.50" fill="none" stroke="#333" stroke-width="0.75" stroke-linejoin="miter"/><polyline points="25.90,7.60 36.10,7.60" fill="none" stroke="#333" stroke-width="0.75" stroke-linejoin="miter"/><text x="36.60" y="11.34" font-size="9.9" text-anchor="start" fill="#222" font-weight="normal">OH</text><polyline points="25.90,21.90 36.10,21.90" fill="none" stroke="#333" stroke-width="0.75" stroke-linejoin="miter"/><text x="36.60" y="25.64" font-size="9.9" text-anchor="start" fill="#222" font-weight="normal">OH</text><polyline points="25.90,36.40 36.10,36.40" fill="none" stroke="#333" stroke-width="0.75" stroke-linejoin="miter"/><text x="36.60" y="40.14" font-size="9.9" text-anchor="start" fill="#222" font-weight="normal">OH</text><text x="40.30" y="54.44" font-size="9.9" text-anchor="middle" fill="#222" font-weight="normal">O</text></g><g transform="translate(956.1,103.9) scale(0.905)"><text x="-22.30" y="-2.66" font-size="9.9" text-anchor="end" fill="#222" font-weight="normal">HO</text><polyline points="-20.80,-6.50 -11.40,-6.50 -10.80,7.00" fill="none" stroke="#333" stroke-width="0.75" stroke-linejoin="miter"/><text x="0.00" y="3.54" font-size="9.9" text-anchor="middle" fill="#222" font-weight="normal">O</text><polyline points="-4.30,2.60 -10.80,7.00" fill="none" stroke="#333" stroke-width="0.75" stroke-linejoin="miter"/><polyline points="4.30,2.60 11.50,6.60" fill="none" stroke="#333" stroke-width="0.75" stroke-linejoin="miter"/><polygon points="-10.80,7.00 -8.73,21.27 -7.07,20.93" fill="#222" stroke="#222" stroke-width="0.4"/><polygon points="11.50,6.60 7.08,20.90 8.72,21.30" fill="#222" stroke="#222" stroke-width="0.4"/><polyline points="-8.60,21.10 8.60,21.10" fill="none" stroke="#222" stroke-width="1.9" stroke-linejoin="miter"/><polyline points="11.50,6.60 11.80,-1.60" fill="none" stroke="#333" stroke-width="0.75" stroke-linejoin="miter"/><text x="11.70" y="-2.76" font-size="9.9" text-anchor="middle" fill="#222" font-weight="normal">O</text><polyline points="-7.90,21.10 -7.60,30.90" fill="none" stroke="#333" stroke-width="0.75" stroke-linejoin="miter"/><text x="-7.50" y="39.84" font-size="9.9" text-anchor="middle" fill="#222" font-weight="normal">O</text><polyline points="7.90,21.10 7.90,30.90" fill="none" stroke="#333" stroke-width="0.75" stroke-linejoin="miter"/><text x="4.00" y="39.84" font-size="9.9" text-anchor="start" fill="#222" font-weight="normal">OH</text><polyline points="16.00,-6.50 25.90,-6.50 25.90,50.50 36.10,50.50" fill="none" stroke="#333" stroke-width="0.75" stroke-linejoin="miter"/><polyline points="25.90,7.60 36.10,7.60" fill="none" stroke="#333" stroke-width="0.75" stroke-linejoin="miter"/><text x="36.60" y="11.34" font-size="9.9" text-anchor="start" fill="#222" font-weight="normal">OH</text><polyline points="25.90,21.90 36.10,21.90" fill="none" stroke="#333" stroke-width="0.75" stroke-linejoin="miter"/><text x="36.60" y="25.64" font-size="9.9" text-anchor="start" fill="#222" font-weight="normal">OH</text><polyline points="25.90,36.40 36.10,36.40" fill="none" stroke="#333" stroke-width="0.75" stroke-linejoin="miter"/><text x="36.60" y="40.14" font-size="9.9" text-anchor="start" fill="#222" font-weight="normal">OH</text><text x="36.60" y="54.24" font-size="9.9" text-anchor="start" fill="#222" font-weight="normal">OH</text></g><polyline points="889.60,136.00 902.80,136.00" fill="none" stroke="#333" stroke-width="0.7" stroke-linejoin="miter"/><text x="906.40" y="139.19" font-size="8.9" text-anchor="middle" fill="#222" font-weight="normal">P</text><text x="906.40" y="125.79" font-size="8.9" text-anchor="middle" fill="#222" font-weight="normal">O</text><polyline points="905.40,127.00 905.40,131.60" fill="none" stroke="#333" stroke-width="0.7" stroke-linejoin="miter"/><polyline points="907.40,127.00 907.40,131.60" fill="none" stroke="#333" stroke-width="0.7" stroke-linejoin="miter"/><polyline points="906.40,140.40 906.40,144.70" fill="none" stroke="#333" stroke-width="0.7" stroke-linejoin="miter"/><text x="889" y="152.39" font-size="8.9" fill="#222">Na<tspan font-size="5.6" dy="-3.6">+</tspan><tspan dy="3.6">O</tspan><tspan font-size="6.5" dy="-3.8">-</tspan></text><polyline points="909.90,136.00 945.30,136.00" fill="none" stroke="#333" stroke-width="0.7" stroke-linejoin="miter"/><polyline points="1002.30,72.90 1008.00,72.90 1008.00,161.80 1002.30,161.80" fill="none" stroke="#333" stroke-width="0.85" stroke-linejoin="miter"/><polyline points="995.00,161.80 1002.30,161.80" fill="none" stroke="#333" stroke-width="0.85" stroke-linejoin="miter"/><text x="922.40" y="163.87" font-size="9.7" text-anchor="start" fill="#222" font-weight="normal">n=3, 5, 7, 10, 11</text><line x1="597.5" y1="247.2" x2="834" y2="247.2" stroke="#111" stroke-width="1.3"/><polygon points="839.5,247.2 831.5,243.6 833.8,247.2 831.5,250.8" fill="#111"/><line x1="607.5" y1="241" x2="607.5" y2="254" stroke="#111" stroke-width="1.2"/><text x="607.5" y="270.6" font-size="12" font-weight="bold" text-anchor="middle" fill="#111">0</text><line x1="639.5" y1="241" x2="639.5" y2="254" stroke="#111" stroke-width="1.2"/><text x="639.5" y="270.6" font-size="12" font-weight="bold" text-anchor="middle" fill="#111">7</text><line x1="671.7" y1="241" x2="671.7" y2="254" stroke="#111" stroke-width="1.2"/><text x="671.7" y="270.6" font-size="12" font-weight="bold" text-anchor="middle" fill="#111">14</text><line x1="703.9" y1="241" x2="703.9" y2="254" stroke="#111" stroke-width="1.2"/><text x="703.9" y="270.6" font-size="12" font-weight="bold" text-anchor="middle" fill="#111">21</text><line x1="736.2" y1="241" x2="736.2" y2="254" stroke="#111" stroke-width="1.2"/><text x="736.2" y="270.6" font-size="12" font-weight="bold" text-anchor="middle" fill="#111">28</text><line x1="768.4" y1="241" x2="768.4" y2="254" stroke="#111" stroke-width="1.2"/><text x="768.4" y="270.6" font-size="12" font-weight="bold" text-anchor="middle" fill="#111">35</text><line x1="800.6" y1="241" x2="800.6" y2="254" stroke="#111" stroke-width="1.2"/><text x="800.6" y="270.6" font-size="12" font-weight="bold" text-anchor="middle" fill="#111">42</text><text x="577.6" y="269.6" font-size="12" font-weight="bold" fill="#111">Day</text><path d="M619.00,224.30 C619.81,226.88 621.70,228.60 621.70,230.20 A2.70,2.70 0 0 1 616.30,230.20 C616.30,228.60 618.19,226.88 619.00,224.30Z" fill="#c3272b" stroke="#7d1416" stroke-width="0.4"/><ellipse cx="618.70" cy="229.93" rx="0.92" ry="1.72" fill="#e9a3a0" opacity="0.8"/><path d="M610.30,234.00 q0.30,-3.60 2.60,-5.20" fill="none" stroke="#333" stroke-width="0.6"/><polygon points="611.80,227.40 614.90,228.10 613.00,230.40" fill="#222"/><path d="M648.20,224.30 C649.01,226.88 650.90,228.60 650.90,230.20 A2.70,2.70 0 0 1 645.50,230.20 C645.50,228.60 647.39,226.88 648.20,224.30Z" fill="#c3272b" stroke="#7d1416" stroke-width="0.4"/><ellipse cx="647.90" cy="229.93" rx="0.92" ry="1.72" fill="#e9a3a0" opacity="0.8"/><path d="M639.50,234.00 q0.30,-3.60 2.60,-5.20" fill="none" stroke="#333" stroke-width="0.6"/><polygon points="641.00,227.40 644.10,228.10 642.20,230.40" fill="#222"/><path d="M682.50,224.30 C683.31,226.88 685.20,228.60 685.20,230.20 A2.70,2.70 0 0 1 679.80,230.20 C679.80,228.60 681.69,226.88 682.50,224.30Z" fill="#c3272b" stroke="#7d1416" stroke-width="0.4"/><ellipse cx="682.20" cy="229.93" rx="0.92" ry="1.72" fill="#e9a3a0" opacity="0.8"/><path d="M673.80,234.00 q0.30,-3.60 2.60,-5.20" fill="none" stroke="#333" stroke-width="0.6"/><polygon points="675.30,227.40 678.40,228.10 676.50,230.40" fill="#222"/><path d="M713.80,224.30 C714.61,226.88 716.50,228.60 716.50,230.20 A2.70,2.70 0 0 1 711.10,230.20 C711.10,228.60 712.99,226.88 713.80,224.30Z" fill="#c3272b" stroke="#7d1416" stroke-width="0.4"/><ellipse cx="713.50" cy="229.93" rx="0.92" ry="1.72" fill="#e9a3a0" opacity="0.8"/><path d="M705.10,234.00 q0.30,-3.60 2.60,-5.20" fill="none" stroke="#333" stroke-width="0.6"/><polygon points="706.60,227.40 709.70,228.10 707.80,230.40" fill="#222"/><path d="M747.20,224.30 C748.01,226.88 749.90,228.60 749.90,230.20 A2.70,2.70 0 0 1 744.50,230.20 C744.50,228.60 746.39,226.88 747.20,224.30Z" fill="#c3272b" stroke="#7d1416" stroke-width="0.4"/><ellipse cx="746.90" cy="229.93" rx="0.92" ry="1.72" fill="#e9a3a0" opacity="0.8"/><path d="M738.50,234.00 q0.30,-3.60 2.60,-5.20" fill="none" stroke="#333" stroke-width="0.6"/><polygon points="740.00,227.40 743.10,228.10 741.20,230.40" fill="#222"/><path d="M778.80,224.30 C779.61,226.88 781.50,228.60 781.50,230.20 A2.70,2.70 0 0 1 776.10,230.20 C776.10,228.60 777.99,226.88 778.80,224.30Z" fill="#c3272b" stroke="#7d1416" stroke-width="0.4"/><ellipse cx="778.50" cy="229.93" rx="0.92" ry="1.72" fill="#e9a3a0" opacity="0.8"/><path d="M770.10,234.00 q0.30,-3.60 2.60,-5.20" fill="none" stroke="#333" stroke-width="0.6"/><polygon points="771.60,227.40 774.70,228.10 772.80,230.40" fill="#222"/><path d="M810.60,224.30 C811.41,226.88 813.30,228.60 813.30,230.20 A2.70,2.70 0 0 1 807.90,230.20 C807.90,228.60 809.79,226.88 810.60,224.30Z" fill="#c3272b" stroke="#7d1416" stroke-width="0.4"/><ellipse cx="810.30" cy="229.93" rx="0.92" ry="1.72" fill="#e9a3a0" opacity="0.8"/><path d="M801.90,234.00 q0.30,-3.60 2.60,-5.20" fill="none" stroke="#333" stroke-width="0.6"/><polygon points="803.40,227.40 806.50,228.10 804.60,230.40" fill="#222"/><text x="665" y="221.3" font-size="12.3" font-weight="bold" fill="#111">boost</text><text x="730.8" y="221.3" font-size="12.3" font-weight="bold" fill="#111">final boost</text><text x="844" y="215.6" font-size="12.3" font-weight="bold" text-anchor="middle" fill="#111">Serum</text><text x="845.2" y="231.2" font-size="12.3" font-weight="bold" text-anchor="middle" fill="#111">collection</text><path d="M612.65,217.04 A10.3,10.3 0 1 0 607.38,212.94 L603.00,224.00Z" fill="#fff" stroke="#7d8186" stroke-width="0.98" stroke-linejoin="round"/><circle cx="611.45" cy="203.73" r="0.83" fill="#aab6c4" stroke="#8593a3" stroke-width="0.2"/><circle cx="612.14" cy="201.92" r="0.83" fill="#aab6c4" stroke="#8593a3" stroke-width="0.2"/><circle cx="612.41" cy="202.92" r="0.83" fill="#aab6c4" stroke="#8593a3" stroke-width="0.2"/><circle cx="616.18" cy="200.99" r="0.83" fill="#aab6c4" stroke="#8593a3" stroke-width="0.2"/><circle cx="618.07" cy="201.37" r="0.83" fill="#aab6c4" stroke="#8593a3" stroke-width="0.2"/><circle cx="616.92" cy="200.57" r="0.83" fill="#aab6c4" stroke="#8593a3" stroke-width="0.2"/><circle cx="622.22" cy="204.81" r="0.83" fill="#aab6c4" stroke="#8593a3" stroke-width="0.2"/><circle cx="621.66" cy="205.67" r="0.83" fill="#aab6c4" stroke="#8593a3" stroke-width="0.2"/><circle cx="622.11" cy="204.25" r="0.83" fill="#aab6c4" stroke="#8593a3" stroke-width="0.2"/><circle cx="610.44" cy="208.88" r="0.83" fill="#aab6c4" stroke="#8593a3" stroke-width="0.2"/><circle cx="609.82" cy="208.76" r="0.83" fill="#aab6c4" stroke="#8593a3" stroke-width="0.2"/><circle cx="611.03" cy="208.63" r="0.83" fill="#aab6c4" stroke="#8593a3" stroke-width="0.2"/><circle cx="616.04" cy="205.87" r="0.83" fill="#aab6c4" stroke="#8593a3" stroke-width="0.2"/><circle cx="615.88" cy="205.79" r="0.83" fill="#aab6c4" stroke="#8593a3" stroke-width="0.2"/><circle cx="615.11" cy="207.79" r="0.83" fill="#aab6c4" stroke="#8593a3" stroke-width="0.2"/><circle cx="621.26" cy="210.23" r="0.83" fill="#aab6c4" stroke="#8593a3" stroke-width="0.2"/><circle cx="621.69" cy="209.15" r="0.83" fill="#aab6c4" stroke="#8593a3" stroke-width="0.2"/><circle cx="619.59" cy="209.12" r="0.83" fill="#aab6c4" stroke="#8593a3" stroke-width="0.2"/><circle cx="611.85" cy="211.78" r="0.83" fill="#aab6c4" stroke="#8593a3" stroke-width="0.2"/><circle cx="613.86" cy="212.42" r="0.83" fill="#aab6c4" stroke="#8593a3" stroke-width="0.2"/><circle cx="612.34" cy="212.84" r="0.83" fill="#aab6c4" stroke="#8593a3" stroke-width="0.2"/><circle cx="619.05" cy="212.87" r="0.83" fill="#aab6c4" stroke="#8593a3" stroke-width="0.2"/><circle cx="618.96" cy="213.04" r="0.83" fill="#aab6c4" stroke="#8593a3" stroke-width="0.2"/><circle cx="618.00" cy="213.52" r="0.83" fill="#aab6c4" stroke="#8593a3" stroke-width="0.2"/><g transform="translate(587.00,208.00) rotate(61.01)"><rect x="0.00" y="-1.49" width="0.78" height="2.99" fill="#bfc2c4" stroke="#8d9296" stroke-width="0.35"/><rect x="0.78" y="-0.39" width="8.97" height="0.78" fill="#cfd2d4" stroke="#8d9296" stroke-width="0.35"/><rect x="10.98" y="-1.30" width="5.75" height="2.60" fill="#e3e5e6" stroke="#8d9296" stroke-width="0.35"/><rect x="9.58" y="-2.47" width="1.39" height="4.94" fill="#b4b7ba" stroke="#8d9296" stroke-width="0.35"/><rect x="16.73" y="-1.30" width="1.92" height="2.60" fill="#3c3f42" stroke="#3c3f42" stroke-width="0.35"/><rect x="18.65" y="-1.30" width="10.28" height="2.60" fill="#a9d6ca" stroke="#7fa39b" stroke-width="0.35"/><polygon points="28.93,-1.30 30.15,-0.47 30.15,0.47 28.93,1.30" fill="#b9c9c5" stroke="#8d9296" stroke-width="0.3"/><line x1="30.15" y1="0" x2="35.90" y2="0" stroke="#8a8f94" stroke-width="0.50"/></g><g transform="translate(652.80,208.00) rotate(61.01)"><rect x="0.00" y="-1.49" width="0.78" height="2.99" fill="#bfc2c4" stroke="#8d9296" stroke-width="0.35"/><rect x="0.78" y="-0.39" width="8.97" height="0.78" fill="#cfd2d4" stroke="#8d9296" stroke-width="0.35"/><rect x="10.98" y="-1.30" width="5.75" height="2.60" fill="#e3e5e6" stroke="#8d9296" stroke-width="0.35"/><rect x="9.58" y="-2.47" width="1.39" height="4.94" fill="#b4b7ba" stroke="#8d9296" stroke-width="0.35"/><rect x="16.73" y="-1.30" width="1.92" height="2.60" fill="#3c3f42" stroke="#3c3f42" stroke-width="0.35"/><rect x="18.65" y="-1.30" width="10.28" height="2.60" fill="#a9d6ca" stroke="#7fa39b" stroke-width="0.35"/><polygon points="28.93,-1.30 30.15,-0.47 30.15,0.47 28.93,1.30" fill="#b9c9c5" stroke="#8d9296" stroke-width="0.3"/><line x1="30.15" y1="0" x2="35.90" y2="0" stroke="#8a8f94" stroke-width="0.50"/></g><g transform="translate(719.40,208.00) rotate(61.01)"><rect x="0.00" y="-1.49" width="0.78" height="2.99" fill="#bfc2c4" stroke="#8d9296" stroke-width="0.35"/><rect x="0.78" y="-0.39" width="8.97" height="0.78" fill="#cfd2d4" stroke="#8d9296" stroke-width="0.35"/><rect x="10.98" y="-1.30" width="5.75" height="2.60" fill="#e3e5e6" stroke="#8d9296" stroke-width="0.35"/><rect x="9.58" y="-2.47" width="1.39" height="4.94" fill="#b4b7ba" stroke="#8d9296" stroke-width="0.35"/><rect x="16.73" y="-1.30" width="1.92" height="2.60" fill="#3c3f42" stroke="#3c3f42" stroke-width="0.35"/><rect x="18.65" y="-1.30" width="10.28" height="2.60" fill="#a9d6ca" stroke="#7fa39b" stroke-width="0.35"/><polygon points="28.93,-1.30 30.15,-0.47 30.15,0.47 28.93,1.30" fill="#b9c9c5" stroke="#8d9296" stroke-width="0.3"/><line x1="30.15" y1="0" x2="35.90" y2="0" stroke="#8a8f94" stroke-width="0.50"/></g><g transform="translate(891.80,175.00) rotate(59.38)"><rect x="0.00" y="-2.47" width="1.36" height="4.94" fill="#bfc2c4" stroke="#8d9296" stroke-width="0.35"/><rect x="1.36" y="-0.64" width="15.51" height="1.29" fill="#cfd2d4" stroke="#8d9296" stroke-width="0.35"/><rect x="18.98" y="-2.15" width="9.94" height="4.30" fill="#e3e5e6" stroke="#8d9296" stroke-width="0.35"/><rect x="16.57" y="-4.08" width="2.41" height="8.17" fill="#b4b7ba" stroke="#8d9296" stroke-width="0.35"/><rect x="28.92" y="-2.15" width="3.31" height="4.30" fill="#3c3f42" stroke="#3c3f42" stroke-width="0.35"/><rect x="32.23" y="-2.15" width="17.77" height="4.30" fill="#a9d6ca" stroke="#7fa39b" stroke-width="0.35"/><polygon points="50.00,-2.15 52.11,-0.77 52.11,0.77 50.00,2.15" fill="#b9c9c5" stroke="#8d9296" stroke-width="0.3"/><line x1="52.11" y1="0" x2="62.05" y2="0" stroke="#8a8f94" stroke-width="0.56"/></g><g transform="translate(870,160) scale(0.1504)" fill="none" stroke="#000" stroke-width="15" stroke-linecap="round" stroke-linejoin="round"><path d="M690,372 C640,360 560,340 500,346 C450,350 400,378 372,400 C330,430 300,470 285,505 C270,545 268,590 280,620 C284,632 290,640 298,644 " /><path d="M690,372 C600,330 540,270 520,215 C560,195 640,215 680,265 C700,295 712,330 735,342 C780,345 815,352 840,378 C862,410 880,440 890,462 C892,490 880,508 860,520 C835,528 815,530 798,540 C780,552 770,575 748,588 C725,598 715,615 705,638 C695,658 675,668 650,672 C630,682 610,688 600,692 C650,690 720,692 742,708 C752,722 745,732 730,736 C690,746 600,750 520,752 C460,750 400,750 352,746 C338,740 332,728 338,712"/><path d="M298,644 C270,632 242,655 244,685 C248,715 290,725 318,700 C322,690 328,686 334,692 C338,704 345,712 360,715 C375,718 390,718 402,718"/><path d="M495,722 C530,718 560,708 590,696 C615,686 635,678 650,672"/><circle cx="790" cy="426" r="13" fill="#d9c2a8" stroke="#a9a39b" stroke-width="4"/><path d="M874,452 C888,462 892,480 884,500" stroke="#e9b27a" stroke-width="9"/></g></g>
<g id="panel3"><text x="138.00" y="387.30" font-size="13.4" font-weight="bold" text-anchor="middle" fill="#111">FITC</text><text x="262.00" y="387.30" font-size="13.4" font-weight="bold" text-anchor="middle" fill="#111">Alexa Fluor 555</text><text x="387.40" y="387.30" font-size="13.4" font-weight="bold" text-anchor="middle" fill="#111">Merge</text><text x="11.00" y="446.80" font-size="13.4" font-weight="bold" text-anchor="start" fill="#111">Hib-4-TT</text><rect x="76" y="394" width="123.8" height="101.6" fill="#030303"/><ellipse cx="120.1" cy="398.3" rx="1.37" ry="1.17" fill="#2fe24a"/><ellipse cx="136.7" cy="399.1" rx="1.65" ry="1.45" fill="#2fe24a"/><ellipse cx="150.3" cy="400.9" rx="1.40" ry="1.20" fill="#2fe24a"/><ellipse cx="155.5" cy="406.7" rx="1.21" ry="1.01" fill="#2fe24a"/><ellipse cx="81.1" cy="411.3" rx="1.48" ry="1.28" fill="#2fe24a"/><ellipse cx="185.4" cy="411.3" rx="1.16" ry="0.96" fill="#2fe24a"/><ellipse cx="190.1" cy="415.1" rx="1.15" ry="0.95" fill="#2fe24a"/><ellipse cx="197.0" cy="413.8" rx="1.52" ry="1.32" fill="#2fe24a"/><ellipse cx="95.2" cy="419.4" rx="1.69" ry="1.49" fill="#2fe24a"/><ellipse cx="98.6" cy="424.0" rx="1.49" ry="1.29" fill="#2fe24a"/><ellipse cx="105.0" cy="420.2" rx="1.19" ry="0.99" fill="#2fe24a"/><ellipse cx="146.5" cy="425.8" rx="1.42" ry="1.22" fill="#2fe24a"/><ellipse cx="171.6" cy="424.0" rx="1.21" ry="1.01" fill="#2fe24a"/><ellipse cx="142.6" cy="429.6" rx="1.12" ry="0.92" fill="#2fe24a"/><ellipse cx="142.1" cy="434.6" rx="1.36" ry="1.16" fill="#2fe24a"/><ellipse cx="185.4" cy="441.0" rx="1.41" ry="1.21" fill="#2fe24a"/><ellipse cx="111.9" cy="443.0" rx="1.40" ry="1.20" fill="#2fe24a"/><ellipse cx="110.6" cy="448.1" rx="1.37" ry="1.17" fill="#2fe24a"/><ellipse cx="114.4" cy="447.3" rx="1.70" ry="1.50" fill="#2fe24a"/><ellipse cx="120.9" cy="441.0" rx="1.60" ry="1.40" fill="#2fe24a"/><ellipse cx="160.6" cy="456.7" rx="1.29" ry="1.09" fill="#2fe24a"/><ellipse cx="149.6" cy="459.3" rx="1.27" ry="1.07" fill="#2fe24a"/><ellipse cx="163.1" cy="461.8" rx="1.56" ry="1.36" fill="#2fe24a"/><ellipse cx="85.5" cy="460.5" rx="1.61" ry="1.41" fill="#2fe24a"/><ellipse cx="91.4" cy="469.4" rx="1.67" ry="1.47" fill="#2fe24a"/><ellipse cx="87.5" cy="465.9" rx="1.10" ry="0.90" fill="#2fe24a"/><ellipse cx="142.1" cy="471.0" rx="1.65" ry="1.45" fill="#2fe24a"/><ellipse cx="127.3" cy="477.1" rx="1.69" ry="1.49" fill="#2fe24a"/><ellipse cx="186.2" cy="470.2" rx="1.14" ry="0.94" fill="#2fe24a"/><ellipse cx="193.9" cy="473.5" rx="1.57" ry="1.37" fill="#2fe24a"/><ellipse cx="158.0" cy="479.1" rx="1.15" ry="0.95" fill="#2fe24a"/><ellipse cx="81.1" cy="481.6" rx="1.68" ry="1.48" fill="#2fe24a"/><ellipse cx="87.5" cy="485.4" rx="1.17" ry="0.97" fill="#2fe24a"/><ellipse cx="109.3" cy="484.2" rx="1.16" ry="0.96" fill="#2fe24a"/><ellipse cx="151.6" cy="488.7" rx="1.58" ry="1.38" fill="#2fe24a"/><ellipse cx="122.1" cy="493.1" rx="1.44" ry="1.24" fill="#2fe24a"/><ellipse cx="196.5" cy="485.4" rx="1.21" ry="1.01" fill="#2fe24a"/><ellipse cx="77.3" cy="492.3" rx="1.18" ry="0.98" fill="#2fe24a"/><ellipse cx="130.6" cy="487.5" rx="1.17" ry="0.97" fill="#2fe24a"/><ellipse cx="197.7" cy="463.3" rx="1.23" ry="1.03" fill="#2fe24a"/><circle cx="116.4" cy="410.0" r="0.7" fill="#1f8f30" opacity="0.99"/><circle cx="156.3" cy="402.2" r="0.7" fill="#1f8f30" opacity="0.90"/><circle cx="142.3" cy="431.4" r="0.7" fill="#1f8f30" opacity="0.65"/><circle cx="84.1" cy="445.5" r="0.7" fill="#1f8f30" opacity="0.94"/><circle cx="81.6" cy="438.2" r="0.7" fill="#1f8f30" opacity="0.61"/><circle cx="85.5" cy="404.0" r="0.7" fill="#1f8f30" opacity="0.70"/><circle cx="128.7" cy="477.4" r="0.7" fill="#1f8f30" opacity="0.93"/><circle cx="92.1" cy="417.2" r="0.7" fill="#1f8f30" opacity="0.82"/><circle cx="153.4" cy="489.4" r="0.7" fill="#1f8f30" opacity="0.55"/><circle cx="147.3" cy="434.5" r="0.7" fill="#1f8f30" opacity="0.99"/><circle cx="195.9" cy="399.6" r="0.7" fill="#1f8f30" opacity="0.61"/><circle cx="181.6" cy="423.8" r="0.7" fill="#1f8f30" opacity="0.63"/><circle cx="94.6" cy="406.7" r="0.7" fill="#1f8f30" opacity="0.89"/><circle cx="114.6" cy="476.3" r="0.7" fill="#1f8f30" opacity="0.66"/><circle cx="99.0" cy="452.9" r="0.7" fill="#1f8f30" opacity="0.65"/><circle cx="154.8" cy="432.1" r="0.7" fill="#1f8f30" opacity="0.54"/><circle cx="143.7" cy="401.3" r="0.7" fill="#1f8f30" opacity="0.55"/><circle cx="84.3" cy="415.5" r="0.7" fill="#1f8f30" opacity="0.79"/><circle cx="159.9" cy="437.6" r="0.7" fill="#1f8f30" opacity="0.62"/><circle cx="115.3" cy="453.3" r="0.7" fill="#1f8f30" opacity="0.80"/><circle cx="132.2" cy="424.9" r="0.7" fill="#1f8f30" opacity="0.69"/><circle cx="173.8" cy="464.6" r="0.7" fill="#1f8f30" opacity="0.73"/><circle cx="106.7" cy="452.2" r="0.7" fill="#1f8f30" opacity="0.98"/><circle cx="141.0" cy="482.2" r="0.7" fill="#1f8f30" opacity="0.74"/><circle cx="165.8" cy="423.7" r="0.7" fill="#1f8f30" opacity="0.79"/><circle cx="196.4" cy="406.8" r="0.7" fill="#1f8f30" opacity="0.93"/><circle cx="127.9" cy="470.4" r="0.7" fill="#1f8f30" opacity="0.59"/><circle cx="95.5" cy="443.7" r="0.7" fill="#1f8f30" opacity="0.58"/><circle cx="81.8" cy="461.6" r="0.7" fill="#1f8f30" opacity="0.95"/><circle cx="170.1" cy="452.1" r="0.7" fill="#1f8f30" opacity="0.91"/><circle cx="183.6" cy="426.2" r="0.7" fill="#1f8f30" opacity="0.62"/><circle cx="161.7" cy="454.2" r="0.7" fill="#1f8f30" opacity="0.59"/><circle cx="147.6" cy="440.4" r="0.7" fill="#1f8f30" opacity="0.87"/><circle cx="179.3" cy="489.1" r="0.7" fill="#1f8f30" opacity="0.97"/><circle cx="134.7" cy="461.1" r="0.7" fill="#1f8f30" opacity="0.60"/><circle cx="84.4" cy="464.9" r="0.7" fill="#1f8f30" opacity="0.98"/><circle cx="155.8" cy="493.9" r="0.7" fill="#1f8f30" opacity="0.94"/><circle cx="177.1" cy="423.3" r="0.7" fill="#1f8f30" opacity="0.80"/><circle cx="124.0" cy="461.6" r="0.7" fill="#1f8f30" opacity="0.71"/><circle cx="79.7" cy="441.0" r="0.7" fill="#1f8f30" opacity="0.55"/><circle cx="97.5" cy="406.7" r="0.7" fill="#1f8f30" opacity="0.52"/><circle cx="84.2" cy="471.5" r="0.7" fill="#1f8f30" opacity="0.98"/><circle cx="92.8" cy="419.7" r="0.7" fill="#1f8f30" opacity="0.62"/><circle cx="124.6" cy="481.8" r="0.7" fill="#1f8f30" opacity="0.85"/><circle cx="86.8" cy="439.7" r="0.7" fill="#1f8f30" opacity="0.63"/><circle cx="143.9" cy="483.0" r="0.7" fill="#1f8f30" opacity="0.91"/><circle cx="176.8" cy="481.1" r="0.7" fill="#1f8f30" opacity="0.80"/><circle cx="110.9" cy="436.4" r="0.7" fill="#1f8f30" opacity="0.65"/><circle cx="120.7" cy="483.1" r="0.7" fill="#1f8f30" opacity="0.59"/><circle cx="193.7" cy="410.0" r="0.7" fill="#1f8f30" opacity="0.86"/><circle cx="98.5" cy="418.1" r="0.7" fill="#1f8f30" opacity="0.53"/><circle cx="105.4" cy="443.3" r="0.7" fill="#1f8f30" opacity="0.61"/><circle cx="148.8" cy="421.2" r="0.7" fill="#1f8f30" opacity="0.78"/><circle cx="77.5" cy="436.7" r="0.7" fill="#1f8f30" opacity="0.93"/><circle cx="122.0" cy="451.4" r="0.7" fill="#1f8f30" opacity="0.81"/><circle cx="193.1" cy="463.8" r="0.7" fill="#1f8f30" opacity="0.64"/><circle cx="139.8" cy="456.5" r="0.7" fill="#1f8f30" opacity="0.96"/><circle cx="159.4" cy="400.4" r="0.7" fill="#1f8f30" opacity="0.60"/><circle cx="186.6" cy="472.7" r="0.7" fill="#1f8f30" opacity="0.51"/><circle cx="183.5" cy="474.5" r="0.7" fill="#1f8f30" opacity="0.63"/><circle cx="124.8" cy="434.7" r="0.7" fill="#1f8f30" opacity="0.72"/><circle cx="89.6" cy="458.2" r="0.7" fill="#1f8f30" opacity="0.53"/><circle cx="84.6" cy="401.7" r="0.7" fill="#1f8f30" opacity="0.59"/><circle cx="102.4" cy="411.2" r="0.7" fill="#1f8f30" opacity="0.68"/><circle cx="118.4" cy="400.2" r="0.7" fill="#1f8f30" opacity="0.79"/><circle cx="77.0" cy="410.1" r="0.7" fill="#1f8f30" opacity="0.57"/><circle cx="89.4" cy="431.2" r="0.7" fill="#1f8f30" opacity="0.68"/><circle cx="80.1" cy="482.1" r="0.7" fill="#1f8f30" opacity="0.95"/><circle cx="151.8" cy="409.8" r="0.7" fill="#1f8f30" opacity="0.99"/><circle cx="107.7" cy="429.6" r="0.7" fill="#1f8f30" opacity="0.83"/><line x1="171.40" y1="489.90" x2="192.50" y2="489.90" stroke="#fff" stroke-width="1.9" stroke-linecap="butt"/><rect x="201.2" y="394" width="122.2" height="101.6" fill="#030303"/><circle cx="244.7" cy="398.3" r="1.00" fill="#c4402c" opacity="0.77"/><circle cx="261.2" cy="399.1" r="1.24" fill="#c4402c" opacity="0.74"/><circle cx="274.6" cy="400.9" r="1.02" fill="#c4402c" opacity="0.78"/><circle cx="279.6" cy="406.7" r="0.86" fill="#c4402c" opacity="0.75"/><circle cx="206.3" cy="411.3" r="1.09" fill="#c4402c" opacity="0.87"/><circle cx="309.2" cy="411.3" r="0.81" fill="#c4402c" opacity="0.67"/><circle cx="313.8" cy="415.1" r="0.81" fill="#c4402c" opacity="0.87"/><circle cx="220.2" cy="419.4" r="1.27" fill="#c4402c" opacity="0.94"/><circle cx="223.5" cy="424.0" r="1.10" fill="#c4402c" opacity="0.80"/><circle cx="295.6" cy="424.0" r="0.86" fill="#c4402c" opacity="0.65"/><circle cx="267.0" cy="429.6" r="0.78" fill="#c4402c" opacity="0.74"/><circle cx="266.5" cy="434.6" r="0.99" fill="#c4402c" opacity="0.89"/><circle cx="309.2" cy="441.0" r="1.03" fill="#c4402c" opacity="0.81"/><circle cx="236.6" cy="443.0" r="1.02" fill="#c4402c" opacity="0.81"/><circle cx="235.4" cy="448.1" r="1.00" fill="#c4402c" opacity="0.66"/><circle cx="239.2" cy="447.3" r="1.27" fill="#c4402c" opacity="0.95"/><circle cx="245.5" cy="441.0" r="1.19" fill="#c4402c" opacity="0.83"/><circle cx="284.7" cy="456.7" r="0.93" fill="#c4402c" opacity="0.64"/><circle cx="287.2" cy="461.8" r="1.16" fill="#c4402c" opacity="0.71"/><circle cx="210.6" cy="460.5" r="1.20" fill="#c4402c" opacity="0.70"/><circle cx="216.4" cy="469.4" r="1.25" fill="#c4402c" opacity="0.89"/><circle cx="212.6" cy="465.9" r="0.77" fill="#c4402c" opacity="0.63"/><circle cx="266.5" cy="471.0" r="1.23" fill="#c4402c" opacity="0.74"/><circle cx="251.8" cy="477.1" r="1.26" fill="#c4402c" opacity="0.71"/><circle cx="310.0" cy="470.2" r="0.80" fill="#c4402c" opacity="0.80"/><circle cx="317.6" cy="473.5" r="1.16" fill="#c4402c" opacity="0.66"/><circle cx="282.2" cy="479.1" r="0.81" fill="#c4402c" opacity="0.68"/><circle cx="206.3" cy="481.6" r="1.26" fill="#c4402c" opacity="0.85"/><circle cx="212.6" cy="485.4" r="0.83" fill="#c4402c" opacity="0.65"/><circle cx="275.8" cy="488.7" r="1.17" fill="#c4402c" opacity="0.62"/><circle cx="246.7" cy="493.1" r="1.05" fill="#c4402c" opacity="0.73"/><circle cx="320.1" cy="485.4" r="0.86" fill="#c4402c" opacity="0.84"/><circle cx="202.5" cy="492.3" r="0.83" fill="#c4402c" opacity="0.81"/><circle cx="255.1" cy="487.5" r="0.82" fill="#c4402c" opacity="0.72"/><circle cx="321.4" cy="463.3" r="0.87" fill="#c4402c" opacity="0.66"/><circle cx="241.1" cy="410.0" r="0.7" fill="#7a2a1c" opacity="0.8"/><circle cx="280.4" cy="402.2" r="0.7" fill="#7a2a1c" opacity="0.8"/><circle cx="209.2" cy="445.5" r="0.7" fill="#7a2a1c" opacity="0.8"/><circle cx="253.2" cy="477.4" r="0.7" fill="#7a2a1c" opacity="0.8"/><circle cx="217.1" cy="417.2" r="0.7" fill="#7a2a1c" opacity="0.8"/><circle cx="271.6" cy="434.5" r="0.7" fill="#7a2a1c" opacity="0.8"/><circle cx="219.5" cy="406.7" r="0.7" fill="#7a2a1c" opacity="0.8"/><circle cx="209.4" cy="415.5" r="0.7" fill="#7a2a1c" opacity="0.8"/><circle cx="240.0" cy="453.3" r="0.7" fill="#7a2a1c" opacity="0.8"/><circle cx="231.5" cy="452.2" r="0.7" fill="#7a2a1c" opacity="0.8"/><circle cx="289.9" cy="423.7" r="0.7" fill="#7a2a1c" opacity="0.8"/><circle cx="320.0" cy="406.8" r="0.7" fill="#7a2a1c" opacity="0.8"/><circle cx="206.9" cy="461.6" r="0.7" fill="#7a2a1c" opacity="0.8"/><circle cx="294.1" cy="452.1" r="0.7" fill="#7a2a1c" opacity="0.8"/><circle cx="271.9" cy="440.4" r="0.7" fill="#7a2a1c" opacity="0.8"/><circle cx="303.2" cy="489.1" r="0.7" fill="#7a2a1c" opacity="0.8"/><circle cx="209.5" cy="464.9" r="0.7" fill="#7a2a1c" opacity="0.8"/><circle cx="280.0" cy="493.9" r="0.7" fill="#7a2a1c" opacity="0.8"/><circle cx="301.0" cy="423.3" r="0.7" fill="#7a2a1c" opacity="0.8"/><circle cx="209.3" cy="471.5" r="0.7" fill="#7a2a1c" opacity="0.8"/><circle cx="249.2" cy="481.8" r="0.7" fill="#7a2a1c" opacity="0.8"/><circle cx="268.2" cy="483.0" r="0.7" fill="#7a2a1c" opacity="0.8"/><circle cx="300.7" cy="481.1" r="0.7" fill="#7a2a1c" opacity="0.8"/><circle cx="317.3" cy="410.0" r="0.7" fill="#7a2a1c" opacity="0.8"/><circle cx="273.0" cy="421.2" r="0.7" fill="#7a2a1c" opacity="0.8"/><circle cx="202.7" cy="436.7" r="0.7" fill="#7a2a1c" opacity="0.8"/><circle cx="246.6" cy="451.4" r="0.7" fill="#7a2a1c" opacity="0.8"/><circle cx="264.2" cy="456.5" r="0.7" fill="#7a2a1c" opacity="0.8"/><circle cx="243.1" cy="400.2" r="0.7" fill="#7a2a1c" opacity="0.8"/><circle cx="205.3" cy="482.1" r="0.7" fill="#7a2a1c" opacity="0.8"/><circle cx="276.0" cy="409.8" r="0.7" fill="#7a2a1c" opacity="0.8"/><circle cx="232.5" cy="429.6" r="0.7" fill="#7a2a1c" opacity="0.8"/><line x1="295.00" y1="489.90" x2="316.10" y2="489.90" stroke="#fff" stroke-width="1.9" stroke-linecap="butt"/><rect x="324.9" y="394" width="123.3" height="101.6" fill="#030303"/><circle cx="368.8" cy="398.3" r="1.11" fill="#dcdc70"/><circle cx="385.4" cy="399.1" r="1.38" fill="#dcdc70"/><circle cx="398.9" cy="400.9" r="1.14" fill="#dcdc70"/><circle cx="404.0" cy="406.7" r="0.96" fill="#dcdc70"/><circle cx="330.0" cy="411.3" r="1.21" fill="#dcdc70"/><circle cx="433.9" cy="411.3" r="0.91" fill="#dcdc70"/><circle cx="438.5" cy="415.1" r="0.91" fill="#dcdc70"/><circle cx="445.4" cy="413.8" r="1.25" fill="#3fd24a"/><circle cx="344.0" cy="419.4" r="1.41" fill="#dcdc70"/><circle cx="347.4" cy="424.0" r="1.23" fill="#dcdc70"/><circle cx="353.7" cy="420.2" r="0.94" fill="#3fd24a"/><circle cx="395.1" cy="425.8" r="1.16" fill="#3fd24a"/><circle cx="420.1" cy="424.0" r="0.96" fill="#dcdc70"/><circle cx="391.3" cy="429.6" r="0.87" fill="#dcdc70"/><circle cx="390.8" cy="434.6" r="1.11" fill="#dcdc70"/><circle cx="433.9" cy="441.0" r="1.15" fill="#dcdc70"/><circle cx="360.6" cy="443.0" r="1.14" fill="#dcdc70"/><circle cx="359.4" cy="448.1" r="1.12" fill="#dcdc70"/><circle cx="363.2" cy="447.3" r="1.42" fill="#dcdc70"/><circle cx="369.6" cy="441.0" r="1.33" fill="#dcdc70"/><circle cx="409.1" cy="456.7" r="1.03" fill="#dcdc70"/><circle cx="398.2" cy="459.3" r="1.02" fill="#3fd24a"/><circle cx="411.7" cy="461.8" r="1.29" fill="#dcdc70"/><circle cx="334.3" cy="460.5" r="1.34" fill="#dcdc70"/><circle cx="340.2" cy="469.4" r="1.40" fill="#dcdc70"/><circle cx="336.4" cy="465.9" r="0.86" fill="#dcdc70"/><circle cx="390.8" cy="471.0" r="1.37" fill="#dcdc70"/><circle cx="376.0" cy="477.1" r="1.41" fill="#dcdc70"/><circle cx="434.7" cy="470.2" r="0.90" fill="#dcdc70"/><circle cx="442.3" cy="473.5" r="1.30" fill="#dcdc70"/><circle cx="406.6" cy="479.1" r="0.90" fill="#dcdc70"/><circle cx="330.0" cy="481.6" r="1.40" fill="#dcdc70"/><circle cx="336.4" cy="485.4" r="0.92" fill="#dcdc70"/><circle cx="358.1" cy="484.2" r="0.91" fill="#3fd24a"/><circle cx="400.2" cy="488.7" r="1.31" fill="#dcdc70"/><circle cx="370.9" cy="493.1" r="1.17" fill="#dcdc70"/><circle cx="444.9" cy="485.4" r="0.96" fill="#dcdc70"/><circle cx="326.2" cy="492.3" r="0.93" fill="#dcdc70"/><circle cx="379.3" cy="487.5" r="0.92" fill="#dcdc70"/><circle cx="446.2" cy="463.3" r="0.98" fill="#dcdc70"/><circle cx="365.2" cy="410.0" r="0.7" fill="#8a8a22" opacity="0.85"/><circle cx="404.9" cy="402.2" r="0.7" fill="#8a8a22" opacity="0.85"/><circle cx="390.9" cy="431.4" r="0.7" fill="#1f8f30" opacity="0.85"/><circle cx="332.9" cy="445.5" r="0.7" fill="#8a8a22" opacity="0.85"/><circle cx="330.4" cy="438.2" r="0.7" fill="#1f8f30" opacity="0.85"/><circle cx="334.4" cy="404.0" r="0.7" fill="#1f8f30" opacity="0.85"/><circle cx="377.4" cy="477.4" r="0.7" fill="#8a8a22" opacity="0.85"/><circle cx="340.9" cy="417.2" r="0.7" fill="#8a8a22" opacity="0.85"/><circle cx="402.0" cy="489.4" r="0.7" fill="#1f8f30" opacity="0.85"/><circle cx="395.9" cy="434.5" r="0.7" fill="#8a8a22" opacity="0.85"/><circle cx="444.3" cy="399.6" r="0.7" fill="#1f8f30" opacity="0.85"/><circle cx="430.0" cy="423.8" r="0.7" fill="#1f8f30" opacity="0.85"/><circle cx="343.4" cy="406.7" r="0.7" fill="#8a8a22" opacity="0.85"/><circle cx="363.3" cy="476.3" r="0.7" fill="#1f8f30" opacity="0.85"/><circle cx="347.8" cy="452.9" r="0.7" fill="#1f8f30" opacity="0.85"/><circle cx="403.4" cy="432.1" r="0.7" fill="#1f8f30" opacity="0.85"/><circle cx="392.3" cy="401.3" r="0.7" fill="#1f8f30" opacity="0.85"/><circle cx="333.1" cy="415.5" r="0.7" fill="#8a8a22" opacity="0.85"/><circle cx="408.4" cy="437.6" r="0.7" fill="#1f8f30" opacity="0.85"/><circle cx="364.0" cy="453.3" r="0.7" fill="#8a8a22" opacity="0.85"/><circle cx="380.9" cy="424.9" r="0.7" fill="#1f8f30" opacity="0.85"/><circle cx="422.3" cy="464.6" r="0.7" fill="#1f8f30" opacity="0.85"/><circle cx="355.5" cy="452.2" r="0.7" fill="#8a8a22" opacity="0.85"/><circle cx="389.6" cy="482.2" r="0.7" fill="#1f8f30" opacity="0.85"/><circle cx="414.4" cy="423.7" r="0.7" fill="#8a8a22" opacity="0.85"/><circle cx="444.8" cy="406.8" r="0.7" fill="#8a8a22" opacity="0.85"/><circle cx="376.6" cy="470.4" r="0.7" fill="#1f8f30" opacity="0.85"/><circle cx="344.3" cy="443.7" r="0.7" fill="#1f8f30" opacity="0.85"/><circle cx="330.7" cy="461.6" r="0.7" fill="#8a8a22" opacity="0.85"/><circle cx="418.6" cy="452.1" r="0.7" fill="#8a8a22" opacity="0.85"/><circle cx="432.1" cy="426.2" r="0.7" fill="#1f8f30" opacity="0.85"/><circle cx="410.2" cy="454.2" r="0.7" fill="#1f8f30" opacity="0.85"/><circle cx="396.2" cy="440.4" r="0.7" fill="#8a8a22" opacity="0.85"/><circle cx="427.8" cy="489.1" r="0.7" fill="#8a8a22" opacity="0.85"/><circle cx="383.4" cy="461.1" r="0.7" fill="#1f8f30" opacity="0.85"/><circle cx="333.3" cy="464.9" r="0.7" fill="#8a8a22" opacity="0.85"/><circle cx="404.4" cy="493.9" r="0.7" fill="#8a8a22" opacity="0.85"/><circle cx="425.6" cy="423.3" r="0.7" fill="#8a8a22" opacity="0.85"/><circle cx="372.7" cy="461.6" r="0.7" fill="#1f8f30" opacity="0.85"/><circle cx="328.6" cy="441.0" r="0.7" fill="#1f8f30" opacity="0.85"/><circle cx="346.3" cy="406.7" r="0.7" fill="#1f8f30" opacity="0.85"/><circle cx="333.1" cy="471.5" r="0.7" fill="#8a8a22" opacity="0.85"/><circle cx="341.6" cy="419.7" r="0.7" fill="#1f8f30" opacity="0.85"/><circle cx="373.3" cy="481.8" r="0.7" fill="#8a8a22" opacity="0.85"/><circle cx="335.7" cy="439.7" r="0.7" fill="#1f8f30" opacity="0.85"/><circle cx="392.5" cy="483.0" r="0.7" fill="#8a8a22" opacity="0.85"/><circle cx="425.3" cy="481.1" r="0.7" fill="#8a8a22" opacity="0.85"/><circle cx="359.7" cy="436.4" r="0.7" fill="#1f8f30" opacity="0.85"/><circle cx="369.4" cy="483.1" r="0.7" fill="#1f8f30" opacity="0.85"/><circle cx="442.1" cy="410.0" r="0.7" fill="#8a8a22" opacity="0.85"/><circle cx="347.3" cy="418.1" r="0.7" fill="#1f8f30" opacity="0.85"/><circle cx="354.2" cy="443.3" r="0.7" fill="#1f8f30" opacity="0.85"/><circle cx="397.4" cy="421.2" r="0.7" fill="#8a8a22" opacity="0.85"/><circle cx="326.4" cy="436.7" r="0.7" fill="#8a8a22" opacity="0.85"/><circle cx="370.7" cy="451.4" r="0.7" fill="#8a8a22" opacity="0.85"/><circle cx="441.5" cy="463.8" r="0.7" fill="#1f8f30" opacity="0.85"/><circle cx="388.4" cy="456.5" r="0.7" fill="#8a8a22" opacity="0.85"/><circle cx="407.9" cy="400.4" r="0.7" fill="#1f8f30" opacity="0.85"/><circle cx="435.0" cy="472.7" r="0.7" fill="#1f8f30" opacity="0.85"/><circle cx="432.0" cy="474.5" r="0.7" fill="#1f8f30" opacity="0.85"/><circle cx="373.5" cy="434.7" r="0.7" fill="#1f8f30" opacity="0.85"/><circle cx="338.5" cy="458.2" r="0.7" fill="#1f8f30" opacity="0.85"/><circle cx="333.5" cy="401.7" r="0.7" fill="#1f8f30" opacity="0.85"/><circle cx="351.2" cy="411.2" r="0.7" fill="#1f8f30" opacity="0.85"/><circle cx="367.1" cy="400.2" r="0.7" fill="#8a8a22" opacity="0.85"/><circle cx="325.9" cy="410.1" r="0.7" fill="#1f8f30" opacity="0.85"/><circle cx="338.2" cy="431.2" r="0.7" fill="#1f8f30" opacity="0.85"/><circle cx="329.0" cy="482.1" r="0.7" fill="#8a8a22" opacity="0.85"/><circle cx="400.4" cy="409.8" r="0.7" fill="#8a8a22" opacity="0.85"/><circle cx="356.5" cy="429.6" r="0.7" fill="#8a8a22" opacity="0.85"/><line x1="419.80" y1="489.90" x2="440.90" y2="489.90" stroke="#fff" stroke-width="1.9" stroke-linecap="butt"/><line x1="101.80" y1="523.80" x2="101.80" y2="641.50" stroke="#111" stroke-width="1.8" stroke-linecap="butt"/><line x1="98.60" y1="630.50" x2="101.80" y2="630.50" stroke="#111" stroke-width="1.2" stroke-linecap="butt"/><text x="97.10" y="634.41" font-size="9.3" font-weight="bold" text-anchor="end" fill="#111">10<tspan font-size="6.32" dy="-3.91">1</tspan></text><line x1="100.20" y1="620.45" x2="101.80" y2="620.45" stroke="#111" stroke-width="0.8" stroke-linecap="butt"/><line x1="100.20" y1="614.56" x2="101.80" y2="614.56" stroke="#111" stroke-width="0.8" stroke-linecap="butt"/><line x1="100.20" y1="610.39" x2="101.80" y2="610.39" stroke="#111" stroke-width="0.8" stroke-linecap="butt"/><line x1="100.20" y1="607.15" x2="101.80" y2="607.15" stroke="#111" stroke-width="0.8" stroke-linecap="butt"/><line x1="100.20" y1="640.55" x2="101.80" y2="640.55" stroke="#111" stroke-width="0.8" stroke-linecap="butt"/><line x1="100.20" y1="604.51" x2="101.80" y2="604.51" stroke="#111" stroke-width="0.8" stroke-linecap="butt"/><line x1="100.20" y1="637.91" x2="101.80" y2="637.91" stroke="#111" stroke-width="0.8" stroke-linecap="butt"/><line x1="100.20" y1="602.27" x2="101.80" y2="602.27" stroke="#111" stroke-width="0.8" stroke-linecap="butt"/><line x1="100.20" y1="635.67" x2="101.80" y2="635.67" stroke="#111" stroke-width="0.8" stroke-linecap="butt"/><line x1="100.20" y1="600.34" x2="101.80" y2="600.34" stroke="#111" stroke-width="0.8" stroke-linecap="butt"/><line x1="100.20" y1="633.74" x2="101.80" y2="633.74" stroke="#111" stroke-width="0.8" stroke-linecap="butt"/><line x1="100.20" y1="598.63" x2="101.80" y2="598.63" stroke="#111" stroke-width="0.8" stroke-linecap="butt"/><line x1="100.20" y1="632.03" x2="101.80" y2="632.03" stroke="#111" stroke-width="0.8" stroke-linecap="butt"/><line x1="98.60" y1="597.10" x2="101.80" y2="597.10" stroke="#111" stroke-width="1.2" stroke-linecap="butt"/><text x="97.10" y="601.01" font-size="9.3" font-weight="bold" text-anchor="end" fill="#111">10<tspan font-size="6.32" dy="-3.91">2</tspan></text><line x1="100.20" y1="587.05" x2="101.80" y2="587.05" stroke="#111" stroke-width="0.8" stroke-linecap="butt"/><line x1="100.20" y1="620.45" x2="101.80" y2="620.45" stroke="#111" stroke-width="0.8" stroke-linecap="butt"/><line x1="100.20" y1="581.16" x2="101.80" y2="581.16" stroke="#111" stroke-width="0.8" stroke-linecap="butt"/><line x1="100.20" y1="614.56" x2="101.80" y2="614.56" stroke="#111" stroke-width="0.8" stroke-linecap="butt"/><line x1="100.20" y1="576.99" x2="101.80" y2="576.99" stroke="#111" stroke-width="0.8" stroke-linecap="butt"/><line x1="100.20" y1="610.39" x2="101.80" y2="610.39" stroke="#111" stroke-width="0.8" stroke-linecap="butt"/><line x1="100.20" y1="573.75" x2="101.80" y2="573.75" stroke="#111" stroke-width="0.8" stroke-linecap="butt"/><line x1="100.20" y1="607.15" x2="101.80" y2="607.15" stroke="#111" stroke-width="0.8" stroke-linecap="butt"/><line x1="100.20" y1="571.11" x2="101.80" y2="571.11" stroke="#111" stroke-width="0.8" stroke-linecap="butt"/><line x1="100.20" y1="604.51" x2="101.80" y2="604.51" stroke="#111" stroke-width="0.8" stroke-linecap="butt"/><line x1="100.20" y1="568.87" x2="101.80" y2="568.87" stroke="#111" stroke-width="0.8" stroke-linecap="butt"/><line x1="100.20" y1="602.27" x2="101.80" y2="602.27" stroke="#111" stroke-width="0.8" stroke-linecap="butt"/><line x1="100.20" y1="566.94" x2="101.80" y2="566.94" stroke="#111" stroke-width="0.8" stroke-linecap="butt"/><line x1="100.20" y1="600.34" x2="101.80" y2="600.34" stroke="#111" stroke-width="0.8" stroke-linecap="butt"/><line x1="100.20" y1="565.23" x2="101.80" y2="565.23" stroke="#111" stroke-width="0.8" stroke-linecap="butt"/><line x1="100.20" y1="598.63" x2="101.80" y2="598.63" stroke="#111" stroke-width="0.8" stroke-linecap="butt"/><line x1="98.60" y1="563.90" x2="101.80" y2="563.90" stroke="#111" stroke-width="1.2" stroke-linecap="butt"/><text x="97.10" y="567.81" font-size="9.3" font-weight="bold" text-anchor="end" fill="#111">10<tspan font-size="6.32" dy="-3.91">3</tspan></text><line x1="100.20" y1="553.85" x2="101.80" y2="553.85" stroke="#111" stroke-width="0.8" stroke-linecap="butt"/><line x1="100.20" y1="587.25" x2="101.80" y2="587.25" stroke="#111" stroke-width="0.8" stroke-linecap="butt"/><line x1="100.20" y1="547.96" x2="101.80" y2="547.96" stroke="#111" stroke-width="0.8" stroke-linecap="butt"/><line x1="100.20" y1="581.36" x2="101.80" y2="581.36" stroke="#111" stroke-width="0.8" stroke-linecap="butt"/><line x1="100.20" y1="543.79" x2="101.80" y2="543.79" stroke="#111" stroke-width="0.8" stroke-linecap="butt"/><line x1="100.20" y1="577.19" x2="101.80" y2="577.19" stroke="#111" stroke-width="0.8" stroke-linecap="butt"/><line x1="100.20" y1="540.55" x2="101.80" y2="540.55" stroke="#111" stroke-width="0.8" stroke-linecap="butt"/><line x1="100.20" y1="573.95" x2="101.80" y2="573.95" stroke="#111" stroke-width="0.8" stroke-linecap="butt"/><line x1="100.20" y1="537.91" x2="101.80" y2="537.91" stroke="#111" stroke-width="0.8" stroke-linecap="butt"/><line x1="100.20" y1="571.31" x2="101.80" y2="571.31" stroke="#111" stroke-width="0.8" stroke-linecap="butt"/><line x1="100.20" y1="535.67" x2="101.80" y2="535.67" stroke="#111" stroke-width="0.8" stroke-linecap="butt"/><line x1="100.20" y1="569.07" x2="101.80" y2="569.07" stroke="#111" stroke-width="0.8" stroke-linecap="butt"/><line x1="100.20" y1="533.74" x2="101.80" y2="533.74" stroke="#111" stroke-width="0.8" stroke-linecap="butt"/><line x1="100.20" y1="567.14" x2="101.80" y2="567.14" stroke="#111" stroke-width="0.8" stroke-linecap="butt"/><line x1="100.20" y1="532.03" x2="101.80" y2="532.03" stroke="#111" stroke-width="0.8" stroke-linecap="butt"/><line x1="100.20" y1="565.43" x2="101.80" y2="565.43" stroke="#111" stroke-width="0.8" stroke-linecap="butt"/><line x1="98.60" y1="530.30" x2="101.80" y2="530.30" stroke="#111" stroke-width="1.2" stroke-linecap="butt"/><text x="97.10" y="534.21" font-size="9.3" font-weight="bold" text-anchor="end" fill="#111">10<tspan font-size="6.32" dy="-3.91">4</tspan></text><line x1="100.20" y1="553.65" x2="101.80" y2="553.65" stroke="#111" stroke-width="0.8" stroke-linecap="butt"/><line x1="100.20" y1="547.76" x2="101.80" y2="547.76" stroke="#111" stroke-width="0.8" stroke-linecap="butt"/><line x1="100.20" y1="543.59" x2="101.80" y2="543.59" stroke="#111" stroke-width="0.8" stroke-linecap="butt"/><line x1="100.20" y1="540.35" x2="101.80" y2="540.35" stroke="#111" stroke-width="0.8" stroke-linecap="butt"/><line x1="100.20" y1="537.71" x2="101.80" y2="537.71" stroke="#111" stroke-width="0.8" stroke-linecap="butt"/><line x1="100.20" y1="535.47" x2="101.80" y2="535.47" stroke="#111" stroke-width="0.8" stroke-linecap="butt"/><line x1="100.20" y1="533.54" x2="101.80" y2="533.54" stroke="#111" stroke-width="0.8" stroke-linecap="butt"/><line x1="100.20" y1="531.83" x2="101.80" y2="531.83" stroke="#111" stroke-width="0.8" stroke-linecap="butt"/><line x1="100.90" y1="640.60" x2="220.90" y2="640.60" stroke="#111" stroke-width="1.8" stroke-linecap="butt"/><text x="71.00" y="579.20" font-size="12.6" font-weight="bold" text-anchor="middle" fill="#111" transform="rotate(-90 71.00 579.20)">SBA titer (Log<tspan font-size="8.57" dy="2.52">10</tspan><tspan dy="-2.52">)</tspan></text><rect x="109.35" y="634.40" width="14.30" height="6.20" fill="none" stroke="#555" stroke-width="1.65"/><line x1="116.50" y1="640.60" x2="116.50" y2="644.00" stroke="#111" stroke-width="1.2" stroke-linecap="butt"/><circle cx="112.30" cy="634.40" r="1.3" fill="#fff" stroke="#555" stroke-width="0.7"/><circle cx="115.10" cy="634.40" r="1.3" fill="#fff" stroke="#555" stroke-width="0.7"/><circle cx="117.90" cy="634.40" r="1.3" fill="#fff" stroke="#555" stroke-width="0.7"/><circle cx="120.70" cy="634.40" r="1.3" fill="#fff" stroke="#555" stroke-width="0.7"/><rect x="138.85" y="574.80" width="14.30" height="65.80" fill="none" stroke="#d9a627" stroke-width="1.65"/><line x1="146.00" y1="640.60" x2="146.00" y2="644.00" stroke="#111" stroke-width="1.2" stroke-linecap="butt"/><line x1="146.00" y1="569.70" x2="146.00" y2="580.50" stroke="#d9a627" stroke-width="1.45" stroke-linecap="butt"/><line x1="141.50" y1="569.70" x2="150.50" y2="569.70" stroke="#d9a627" stroke-width="1.45" stroke-linecap="butt"/><line x1="141.50" y1="580.50" x2="150.50" y2="580.50" stroke="#d9a627" stroke-width="1.45" stroke-linecap="butt"/><polygon points="149.19,581.38 150.51,578.86 147.87,578.86" fill="#d9a627"/><polygon points="142.90,572.06 144.22,569.54 141.58,569.54" fill="#d9a627"/><polygon points="148.35,579.09 149.67,576.57 147.03,576.57" fill="#d9a627"/><polygon points="147.19,574.47 148.51,571.95 145.87,571.95" fill="#d9a627"/><polygon points="146.74,577.69 148.06,575.17 145.42,575.17" fill="#d9a627"/><rect x="168.35" y="535.20" width="14.30" height="105.40" fill="none" stroke="#a8302f" stroke-width="1.65"/><line x1="175.50" y1="640.60" x2="175.50" y2="644.00" stroke="#111" stroke-width="1.2" stroke-linecap="butt"/><line x1="175.50" y1="531.30" x2="175.50" y2="540.50" stroke="#a8302f" stroke-width="1.45" stroke-linecap="butt"/><line x1="171.00" y1="531.30" x2="180.00" y2="531.30" stroke="#a8302f" stroke-width="1.45" stroke-linecap="butt"/><line x1="171.00" y1="540.50" x2="180.00" y2="540.50" stroke="#a8302f" stroke-width="1.45" stroke-linecap="butt"/><rect x="174.87" y="531.56" width="2.4" height="2.4" fill="#a8302f"/><rect x="173.81" y="533.72" width="2.4" height="2.4" fill="#a8302f"/><rect x="175.86" y="539.25" width="2.4" height="2.4" fill="#a8302f"/><rect x="177.45" y="535.11" width="2.4" height="2.4" fill="#a8302f"/><rect x="173.91" y="532.57" width="2.4" height="2.4" fill="#a8302f"/><rect x="197.85" y="538.50" width="14.30" height="102.10" fill="none" stroke="#57a6a6" stroke-width="1.65"/><line x1="205.00" y1="640.60" x2="205.00" y2="644.00" stroke="#111" stroke-width="1.2" stroke-linecap="butt"/><line x1="205.00" y1="533.20" x2="205.00" y2="544.00" stroke="#57a6a6" stroke-width="1.45" stroke-linecap="butt"/><line x1="200.50" y1="533.20" x2="209.50" y2="533.20" stroke="#57a6a6" stroke-width="1.45" stroke-linecap="butt"/><line x1="200.50" y1="544.00" x2="209.50" y2="544.00" stroke="#57a6a6" stroke-width="1.45" stroke-linecap="butt"/><circle cx="201.75" cy="533.50" r="1.2" fill="#57a6a6"/><circle cx="204.75" cy="536.64" r="1.2" fill="#57a6a6"/><circle cx="204.16" cy="542.83" r="1.2" fill="#57a6a6"/><circle cx="205.18" cy="539.25" r="1.2" fill="#57a6a6"/><circle cx="203.15" cy="533.46" r="1.2" fill="#57a6a6"/><line x1="146.10" y1="513.70" x2="204.70" y2="513.70" stroke="#111" stroke-width="1.4" stroke-linecap="butt"/><text x="175.40" y="512.40" font-size="9.5" font-weight="bold" text-anchor="middle" fill="#111">**</text><line x1="146.10" y1="524.40" x2="172.70" y2="524.40" stroke="#111" stroke-width="1.4" stroke-linecap="butt"/><text x="159.40" y="523.10" font-size="9.5" font-weight="bold" text-anchor="middle" fill="#111">***</text><line x1="177.90" y1="524.40" x2="204.70" y2="524.40" stroke="#111" stroke-width="1.4" stroke-linecap="butt"/><text x="191.30" y="521.20" font-size="8" font-weight="bold" text-anchor="middle" fill="#111">ns</text><text x="119.50" y="651.60" font-size="9.1" font-weight="bold" text-anchor="end" fill="#111" transform="rotate(-45 119.50 651.60)">PBS + FA</text><text x="149.00" y="651.60" font-size="9.1" font-weight="bold" text-anchor="end" fill="#111" transform="rotate(-45 149.00 651.60)">Hib vaccine</text><text x="178.50" y="651.60" font-size="9.1" font-weight="bold" text-anchor="end" fill="#111" transform="rotate(-45 178.50 651.60)">4-TT + FA</text><text x="208.00" y="651.60" font-size="9.1" font-weight="bold" text-anchor="end" fill="#111" transform="rotate(-45 208.00 651.60)">4-CRM197 + FA</text><line x1="290.10" y1="522.60" x2="290.10" y2="640.40" stroke="#111" stroke-width="1.8" stroke-linecap="butt"/><line x1="286.90" y1="628.80" x2="290.10" y2="628.80" stroke="#111" stroke-width="1.2" stroke-linecap="butt"/><text x="285.40" y="632.71" font-size="9.3" font-weight="bold" text-anchor="end" fill="#111">10<tspan font-size="6.32" dy="-3.91">1</tspan></text><line x1="288.50" y1="618.29" x2="290.10" y2="618.29" stroke="#111" stroke-width="0.8" stroke-linecap="butt"/><line x1="288.50" y1="612.15" x2="290.10" y2="612.15" stroke="#111" stroke-width="0.8" stroke-linecap="butt"/><line x1="288.50" y1="607.79" x2="290.10" y2="607.79" stroke="#111" stroke-width="0.8" stroke-linecap="butt"/><line x1="288.50" y1="604.41" x2="290.10" y2="604.41" stroke="#111" stroke-width="0.8" stroke-linecap="butt"/><line x1="288.50" y1="639.31" x2="290.10" y2="639.31" stroke="#111" stroke-width="0.8" stroke-linecap="butt"/><line x1="288.50" y1="601.64" x2="290.10" y2="601.64" stroke="#111" stroke-width="0.8" stroke-linecap="butt"/><line x1="288.50" y1="636.54" x2="290.10" y2="636.54" stroke="#111" stroke-width="0.8" stroke-linecap="butt"/><line x1="288.50" y1="599.31" x2="290.10" y2="599.31" stroke="#111" stroke-width="0.8" stroke-linecap="butt"/><line x1="288.50" y1="634.21" x2="290.10" y2="634.21" stroke="#111" stroke-width="0.8" stroke-linecap="butt"/><line x1="288.50" y1="597.28" x2="290.10" y2="597.28" stroke="#111" stroke-width="0.8" stroke-linecap="butt"/><line x1="288.50" y1="632.18" x2="290.10" y2="632.18" stroke="#111" stroke-width="0.8" stroke-linecap="butt"/><line x1="288.50" y1="595.50" x2="290.10" y2="595.50" stroke="#111" stroke-width="0.8" stroke-linecap="butt"/><line x1="288.50" y1="630.40" x2="290.10" y2="630.40" stroke="#111" stroke-width="0.8" stroke-linecap="butt"/><line x1="286.90" y1="593.90" x2="290.10" y2="593.90" stroke="#111" stroke-width="1.2" stroke-linecap="butt"/><text x="285.40" y="597.81" font-size="9.3" font-weight="bold" text-anchor="end" fill="#111">10<tspan font-size="6.32" dy="-3.91">2</tspan></text><line x1="288.50" y1="583.39" x2="290.10" y2="583.39" stroke="#111" stroke-width="0.8" stroke-linecap="butt"/><line x1="288.50" y1="618.29" x2="290.10" y2="618.29" stroke="#111" stroke-width="0.8" stroke-linecap="butt"/><line x1="288.50" y1="577.25" x2="290.10" y2="577.25" stroke="#111" stroke-width="0.8" stroke-linecap="butt"/><line x1="288.50" y1="612.15" x2="290.10" y2="612.15" stroke="#111" stroke-width="0.8" stroke-linecap="butt"/><line x1="288.50" y1="572.89" x2="290.10" y2="572.89" stroke="#111" stroke-width="0.8" stroke-linecap="butt"/><line x1="288.50" y1="607.79" x2="290.10" y2="607.79" stroke="#111" stroke-width="0.8" stroke-linecap="butt"/><line x1="288.50" y1="569.51" x2="290.10" y2="569.51" stroke="#111" stroke-width="0.8" stroke-linecap="butt"/><line x1="288.50" y1="604.41" x2="290.10" y2="604.41" stroke="#111" stroke-width="0.8" stroke-linecap="butt"/><line x1="288.50" y1="566.74" x2="290.10" y2="566.74" stroke="#111" stroke-width="0.8" stroke-linecap="butt"/><line x1="288.50" y1="601.64" x2="290.10" y2="601.64" stroke="#111" stroke-width="0.8" stroke-linecap="butt"/><line x1="288.50" y1="564.41" x2="290.10" y2="564.41" stroke="#111" stroke-width="0.8" stroke-linecap="butt"/><line x1="288.50" y1="599.31" x2="290.10" y2="599.31" stroke="#111" stroke-width="0.8" stroke-linecap="butt"/><line x1="288.50" y1="562.38" x2="290.10" y2="562.38" stroke="#111" stroke-width="0.8" stroke-linecap="butt"/><line x1="288.50" y1="597.28" x2="290.10" y2="597.28" stroke="#111" stroke-width="0.8" stroke-linecap="butt"/><line x1="288.50" y1="560.60" x2="290.10" y2="560.60" stroke="#111" stroke-width="0.8" stroke-linecap="butt"/><line x1="288.50" y1="595.50" x2="290.10" y2="595.50" stroke="#111" stroke-width="0.8" stroke-linecap="butt"/><line x1="286.90" y1="559.10" x2="290.10" y2="559.10" stroke="#111" stroke-width="1.2" stroke-linecap="butt"/><text x="285.40" y="563.01" font-size="9.3" font-weight="bold" text-anchor="end" fill="#111">10<tspan font-size="6.32" dy="-3.91">3</tspan></text><line x1="288.50" y1="548.59" x2="290.10" y2="548.59" stroke="#111" stroke-width="0.8" stroke-linecap="butt"/><line x1="288.50" y1="583.49" x2="290.10" y2="583.49" stroke="#111" stroke-width="0.8" stroke-linecap="butt"/><line x1="288.50" y1="542.45" x2="290.10" y2="542.45" stroke="#111" stroke-width="0.8" stroke-linecap="butt"/><line x1="288.50" y1="577.35" x2="290.10" y2="577.35" stroke="#111" stroke-width="0.8" stroke-linecap="butt"/><line x1="288.50" y1="538.09" x2="290.10" y2="538.09" stroke="#111" stroke-width="0.8" stroke-linecap="butt"/><line x1="288.50" y1="572.99" x2="290.10" y2="572.99" stroke="#111" stroke-width="0.8" stroke-linecap="butt"/><line x1="288.50" y1="534.71" x2="290.10" y2="534.71" stroke="#111" stroke-width="0.8" stroke-linecap="butt"/><line x1="288.50" y1="569.61" x2="290.10" y2="569.61" stroke="#111" stroke-width="0.8" stroke-linecap="butt"/><line x1="288.50" y1="531.94" x2="290.10" y2="531.94" stroke="#111" stroke-width="0.8" stroke-linecap="butt"/><line x1="288.50" y1="566.84" x2="290.10" y2="566.84" stroke="#111" stroke-width="0.8" stroke-linecap="butt"/><line x1="288.50" y1="529.61" x2="290.10" y2="529.61" stroke="#111" stroke-width="0.8" stroke-linecap="butt"/><line x1="288.50" y1="564.51" x2="290.10" y2="564.51" stroke="#111" stroke-width="0.8" stroke-linecap="butt"/><line x1="288.50" y1="527.58" x2="290.10" y2="527.58" stroke="#111" stroke-width="0.8" stroke-linecap="butt"/><line x1="288.50" y1="562.48" x2="290.10" y2="562.48" stroke="#111" stroke-width="0.8" stroke-linecap="butt"/><line x1="288.50" y1="525.80" x2="290.10" y2="525.80" stroke="#111" stroke-width="0.8" stroke-linecap="butt"/><line x1="288.50" y1="560.70" x2="290.10" y2="560.70" stroke="#111" stroke-width="0.8" stroke-linecap="butt"/><line x1="286.90" y1="524.20" x2="290.10" y2="524.20" stroke="#111" stroke-width="1.2" stroke-linecap="butt"/><text x="285.40" y="528.11" font-size="9.3" font-weight="bold" text-anchor="end" fill="#111">10<tspan font-size="6.32" dy="-3.91">4</tspan></text><line x1="288.50" y1="548.59" x2="290.10" y2="548.59" stroke="#111" stroke-width="0.8" stroke-linecap="butt"/><line x1="288.50" y1="542.45" x2="290.10" y2="542.45" stroke="#111" stroke-width="0.8" stroke-linecap="butt"/><line x1="288.50" y1="538.09" x2="290.10" y2="538.09" stroke="#111" stroke-width="0.8" stroke-linecap="butt"/><line x1="288.50" y1="534.71" x2="290.10" y2="534.71" stroke="#111" stroke-width="0.8" stroke-linecap="butt"/><line x1="288.50" y1="531.94" x2="290.10" y2="531.94" stroke="#111" stroke-width="0.8" stroke-linecap="butt"/><line x1="288.50" y1="529.61" x2="290.10" y2="529.61" stroke="#111" stroke-width="0.8" stroke-linecap="butt"/><line x1="288.50" y1="527.58" x2="290.10" y2="527.58" stroke="#111" stroke-width="0.8" stroke-linecap="butt"/><line x1="288.50" y1="525.80" x2="290.10" y2="525.80" stroke="#111" stroke-width="0.8" stroke-linecap="butt"/><line x1="289.20" y1="639.50" x2="439.40" y2="639.50" stroke="#111" stroke-width="1.8" stroke-linecap="butt"/><text x="260.60" y="578.05" font-size="12.6" font-weight="bold" text-anchor="middle" fill="#111" transform="rotate(-90 260.60 578.05)">SBA titer (Log<tspan font-size="8.57" dy="2.52">10</tspan><tspan dy="-2.52">)</tspan></text><rect x="297.50" y="632.30" width="14.00" height="7.20" fill="none" stroke="#555" stroke-width="1.65"/><line x1="304.50" y1="639.50" x2="304.50" y2="642.90" stroke="#111" stroke-width="1.2" stroke-linecap="butt"/><circle cx="300.30" cy="632.30" r="1.3" fill="#fff" stroke="#555" stroke-width="0.7"/><circle cx="303.10" cy="632.30" r="1.3" fill="#fff" stroke="#555" stroke-width="0.7"/><circle cx="305.90" cy="632.30" r="1.3" fill="#fff" stroke="#555" stroke-width="0.7"/><circle cx="308.70" cy="632.30" r="1.3" fill="#fff" stroke="#555" stroke-width="0.7"/><rect x="327.40" y="570.80" width="14.00" height="68.70" fill="none" stroke="#d9a627" stroke-width="1.65"/><line x1="334.40" y1="639.50" x2="334.40" y2="642.90" stroke="#111" stroke-width="1.2" stroke-linecap="butt"/><line x1="334.40" y1="565.60" x2="334.40" y2="576.30" stroke="#d9a627" stroke-width="1.45" stroke-linecap="butt"/><line x1="329.90" y1="565.60" x2="338.90" y2="565.60" stroke="#d9a627" stroke-width="1.45" stroke-linecap="butt"/><line x1="329.90" y1="576.30" x2="338.90" y2="576.30" stroke="#d9a627" stroke-width="1.45" stroke-linecap="butt"/><polygon points="335.26,574.98 336.58,572.46 333.94,572.46" fill="#d9a627"/><polygon points="336.47,577.12 337.79,574.60 335.15,574.60" fill="#d9a627"/><polygon points="336.08,576.91 337.40,574.39 334.76,574.39" fill="#d9a627"/><polygon points="331.10,572.02 332.42,569.50 329.78,569.50" fill="#d9a627"/><polygon points="337.50,573.98 338.82,571.46 336.18,571.46" fill="#d9a627"/><rect x="357.40" y="575.50" width="14.00" height="64.00" fill="none" stroke="#4b7f9f" stroke-width="1.65"/><line x1="364.40" y1="639.50" x2="364.40" y2="642.90" stroke="#111" stroke-width="1.2" stroke-linecap="butt"/><line x1="364.40" y1="570.80" x2="364.40" y2="581.00" stroke="#4b7f9f" stroke-width="1.45" stroke-linecap="butt"/><line x1="359.90" y1="570.80" x2="368.90" y2="570.80" stroke="#4b7f9f" stroke-width="1.45" stroke-linecap="butt"/><line x1="359.90" y1="581.00" x2="368.90" y2="581.00" stroke="#4b7f9f" stroke-width="1.45" stroke-linecap="butt"/><polygon points="367.21,570.51 368.53,573.03 365.89,573.03" fill="#4b7f9f"/><polygon points="364.18,571.88 365.50,574.40 362.86,574.40" fill="#4b7f9f"/><polygon points="364.71,575.21 366.03,577.73 363.39,577.73" fill="#4b7f9f"/><polygon points="360.99,571.57 362.31,574.09 359.67,574.09" fill="#4b7f9f"/><polygon points="362.86,578.71 364.18,581.23 361.54,581.23" fill="#4b7f9f"/><rect x="387.20" y="576.90" width="14.00" height="62.60" fill="none" stroke="#e88e85" stroke-width="1.65"/><line x1="394.20" y1="639.50" x2="394.20" y2="642.90" stroke="#111" stroke-width="1.2" stroke-linecap="butt"/><line x1="394.20" y1="573.20" x2="394.20" y2="580.00" stroke="#e88e85" stroke-width="1.45" stroke-linecap="butt"/><line x1="389.70" y1="573.20" x2="398.70" y2="573.20" stroke="#e88e85" stroke-width="1.45" stroke-linecap="butt"/><line x1="389.70" y1="580.00" x2="398.70" y2="580.00" stroke="#e88e85" stroke-width="1.45" stroke-linecap="butt"/><polygon points="396.06,572.85 397.38,575.37 394.74,575.37" fill="#e88e85"/><polygon points="396.28,572.70 397.60,575.22 394.96,575.22" fill="#e88e85"/><polygon points="395.02,572.62 396.34,575.14 393.70,575.14" fill="#e88e85"/><polygon points="390.71,577.69 392.03,580.21 389.39,580.21" fill="#e88e85"/><polygon points="392.17,573.23 393.49,575.75 390.85,575.75" fill="#e88e85"/><rect x="417.20" y="542.00" width="14.00" height="97.50" fill="none" stroke="#9db634" stroke-width="1.65"/><line x1="424.20" y1="639.50" x2="424.20" y2="642.90" stroke="#111" stroke-width="1.2" stroke-linecap="butt"/><line x1="424.20" y1="537.50" x2="424.20" y2="548.20" stroke="#9db634" stroke-width="1.45" stroke-linecap="butt"/><line x1="419.70" y1="537.50" x2="428.70" y2="537.50" stroke="#9db634" stroke-width="1.45" stroke-linecap="butt"/><line x1="419.70" y1="548.20" x2="428.70" y2="548.20" stroke="#9db634" stroke-width="1.45" stroke-linecap="butt"/><polygon points="427.58,548.27 428.90,545.75 426.26,545.75" fill="#9db634"/><polygon points="422.73,549.23 424.05,546.71 421.41,546.71" fill="#9db634"/><polygon points="424.47,546.19 425.79,543.67 423.15,543.67" fill="#9db634"/><polygon points="422.13,549.01 423.45,546.49 420.81,546.49" fill="#9db634"/><polygon points="425.53,549.28 426.85,546.76 424.21,546.76" fill="#9db634"/><line x1="332.20" y1="523.00" x2="423.80" y2="523.00" stroke="#111" stroke-width="1.4" stroke-linecap="butt"/><text x="378.00" y="521.70" font-size="9.5" font-weight="bold" text-anchor="middle" fill="#111">****</text><line x1="332.20" y1="534.20" x2="394.10" y2="534.20" stroke="#111" stroke-width="1.4" stroke-linecap="butt"/><text x="363.15" y="531.00" font-size="8" font-weight="bold" text-anchor="middle" fill="#111">ns</text><line x1="332.20" y1="545.10" x2="364.00" y2="545.10" stroke="#111" stroke-width="1.4" stroke-linecap="butt"/><text x="348.10" y="541.90" font-size="8" font-weight="bold" text-anchor="middle" fill="#111">ns</text><text x="307.50" y="650.50" font-size="9.1" font-weight="bold" text-anchor="end" fill="#111" transform="rotate(-45 307.50 650.50)">PBS + FA</text><text x="337.40" y="650.50" font-size="9.1" font-weight="bold" text-anchor="end" fill="#111" transform="rotate(-45 337.40 650.50)">Hib vaccine</text><text x="367.40" y="650.50" font-size="9.1" font-weight="bold" text-anchor="end" fill="#111" transform="rotate(-45 367.40 650.50)">4-TT</text><text x="397.20" y="650.50" font-size="9.1" font-weight="bold" text-anchor="end" fill="#111" transform="rotate(-45 397.20 650.50)">4-TT (20 μg)</text><text x="427.20" y="650.50" font-size="9.1" font-weight="bold" text-anchor="end" fill="#111" transform="rotate(-45 427.20 650.50)">4-TT + Alum</text></g>
<g id="panel4"><line x1="615.60" y1="387.70" x2="615.60" y2="507.40" stroke="#111" stroke-width="1.8" stroke-linecap="butt"/><line x1="614.85" y1="506.50" x2="785.80" y2="506.50" stroke="#111" stroke-width="1.8" stroke-linecap="butt"/><line x1="612.20" y1="506.50" x2="615.60" y2="506.50" stroke="#111" stroke-width="1.2" stroke-linecap="butt"/><text x="611.00" y="509.90" font-size="9.6" font-weight="bold" text-anchor="end" fill="#111">0</text><line x1="612.20" y1="489.64" x2="615.60" y2="489.64" stroke="#111" stroke-width="1.2" stroke-linecap="butt"/><text x="611.00" y="493.04" font-size="9.6" font-weight="bold" text-anchor="end" fill="#111">5</text><line x1="612.20" y1="472.78" x2="615.60" y2="472.78" stroke="#111" stroke-width="1.2" stroke-linecap="butt"/><text x="611.00" y="476.18" font-size="9.6" font-weight="bold" text-anchor="end" fill="#111">10</text><line x1="612.20" y1="455.92" x2="615.60" y2="455.92" stroke="#111" stroke-width="1.2" stroke-linecap="butt"/><text x="611.00" y="459.32" font-size="9.6" font-weight="bold" text-anchor="end" fill="#111">15</text><line x1="612.20" y1="439.06" x2="615.60" y2="439.06" stroke="#111" stroke-width="1.2" stroke-linecap="butt"/><text x="611.00" y="442.46" font-size="9.6" font-weight="bold" text-anchor="end" fill="#111">20</text><line x1="612.20" y1="422.20" x2="615.60" y2="422.20" stroke="#111" stroke-width="1.2" stroke-linecap="butt"/><text x="611.00" y="425.60" font-size="9.6" font-weight="bold" text-anchor="end" fill="#111">25</text><line x1="612.20" y1="405.34" x2="615.60" y2="405.34" stroke="#111" stroke-width="1.2" stroke-linecap="butt"/><text x="611.00" y="408.74" font-size="9.6" font-weight="bold" text-anchor="end" fill="#111">30</text><line x1="612.20" y1="388.48" x2="615.60" y2="388.48" stroke="#111" stroke-width="1.2" stroke-linecap="butt"/><text x="611.00" y="391.88" font-size="9.6" font-weight="bold" text-anchor="end" fill="#111">35</text><line x1="632.90" y1="506.50" x2="632.90" y2="509.90" stroke="#111" stroke-width="1.2" stroke-linecap="butt"/><text x="632.90" y="518.80" font-size="9.6" font-weight="bold" text-anchor="middle" fill="#111">1600</text><line x1="666.90" y1="506.50" x2="666.90" y2="509.90" stroke="#111" stroke-width="1.2" stroke-linecap="butt"/><text x="666.90" y="518.80" font-size="9.6" font-weight="bold" text-anchor="middle" fill="#111">3200</text><line x1="700.20" y1="506.50" x2="700.20" y2="509.90" stroke="#111" stroke-width="1.2" stroke-linecap="butt"/><text x="700.20" y="518.80" font-size="9.6" font-weight="bold" text-anchor="middle" fill="#111">6400</text><line x1="734.20" y1="506.50" x2="734.20" y2="509.90" stroke="#111" stroke-width="1.2" stroke-linecap="butt"/><text x="734.20" y="518.80" font-size="9.6" font-weight="bold" text-anchor="middle" fill="#111">12800</text><line x1="768.00" y1="506.50" x2="768.00" y2="509.90" stroke="#111" stroke-width="1.2" stroke-linecap="butt"/><text x="768.00" y="518.80" font-size="9.6" font-weight="bold" text-anchor="middle" fill="#111">25600</text><text x="700.20" y="531.00" font-size="11.8" font-weight="bold" text-anchor="middle" fill="#111">Serum dilution</text><text x="596.30" y="444.00" font-size="14.8" font-weight="bold" text-anchor="middle" fill="#111" transform="rotate(-90 596.30 444.00)">P/N</text><line x1="632.90" y1="494.36" x2="632.90" y2="502.45" stroke="#5cb8e6" stroke-width="1.0" stroke-linecap="butt"/><line x1="630.70" y1="494.36" x2="635.10" y2="494.36" stroke="#5cb8e6" stroke-width="1.0" stroke-linecap="butt"/><line x1="630.70" y1="502.45" x2="635.10" y2="502.45" stroke="#5cb8e6" stroke-width="1.0" stroke-linecap="butt"/><line x1="666.90" y1="497.40" x2="666.90" y2="502.79" stroke="#5cb8e6" stroke-width="1.0" stroke-linecap="butt"/><line x1="664.70" y1="497.40" x2="669.10" y2="497.40" stroke="#5cb8e6" stroke-width="1.0" stroke-linecap="butt"/><line x1="664.70" y1="502.79" x2="669.10" y2="502.79" stroke="#5cb8e6" stroke-width="1.0" stroke-linecap="butt"/><line x1="700.20" y1="498.41" x2="700.20" y2="502.45" stroke="#5cb8e6" stroke-width="1.0" stroke-linecap="butt"/><line x1="698.00" y1="498.41" x2="702.40" y2="498.41" stroke="#5cb8e6" stroke-width="1.0" stroke-linecap="butt"/><line x1="698.00" y1="502.45" x2="702.40" y2="502.45" stroke="#5cb8e6" stroke-width="1.0" stroke-linecap="butt"/><line x1="734.20" y1="499.42" x2="734.20" y2="502.79" stroke="#5cb8e6" stroke-width="1.0" stroke-linecap="butt"/><line x1="732.00" y1="499.42" x2="736.40" y2="499.42" stroke="#5cb8e6" stroke-width="1.0" stroke-linecap="butt"/><line x1="732.00" y1="502.79" x2="736.40" y2="502.79" stroke="#5cb8e6" stroke-width="1.0" stroke-linecap="butt"/><line x1="768.00" y1="500.43" x2="768.00" y2="503.13" stroke="#5cb8e6" stroke-width="1.0" stroke-linecap="butt"/><line x1="765.80" y1="500.43" x2="770.20" y2="500.43" stroke="#5cb8e6" stroke-width="1.0" stroke-linecap="butt"/><line x1="765.80" y1="503.13" x2="770.20" y2="503.13" stroke="#5cb8e6" stroke-width="1.0" stroke-linecap="butt"/><polyline points="632.9,498.4 666.9,500.1 700.2,500.4 734.2,501.1 768.0,501.8" fill="none" stroke="#5cb8e6" stroke-width="2.1" stroke-linejoin="round"/><circle cx="632.90" cy="498.41" r="2.2" fill="#5cb8e6"/><circle cx="666.90" cy="500.09" r="2.2" fill="#5cb8e6"/><circle cx="700.20" cy="500.43" r="2.2" fill="#5cb8e6"/><circle cx="734.20" cy="501.10" r="2.2" fill="#5cb8e6"/><circle cx="768.00" cy="501.78" r="2.2" fill="#5cb8e6"/><line x1="632.90" y1="494.70" x2="632.90" y2="501.44" stroke="#e0603a" stroke-width="1.0" stroke-linecap="butt"/><line x1="630.70" y1="494.70" x2="635.10" y2="494.70" stroke="#e0603a" stroke-width="1.0" stroke-linecap="butt"/><line x1="630.70" y1="501.44" x2="635.10" y2="501.44" stroke="#e0603a" stroke-width="1.0" stroke-linecap="butt"/><line x1="666.90" y1="496.72" x2="666.90" y2="502.12" stroke="#e0603a" stroke-width="1.0" stroke-linecap="butt"/><line x1="664.70" y1="496.72" x2="669.10" y2="496.72" stroke="#e0603a" stroke-width="1.0" stroke-linecap="butt"/><line x1="664.70" y1="502.12" x2="669.10" y2="502.12" stroke="#e0603a" stroke-width="1.0" stroke-linecap="butt"/><line x1="700.20" y1="498.07" x2="700.20" y2="502.12" stroke="#e0603a" stroke-width="1.0" stroke-linecap="butt"/><line x1="698.00" y1="498.07" x2="702.40" y2="498.07" stroke="#e0603a" stroke-width="1.0" stroke-linecap="butt"/><line x1="698.00" y1="502.12" x2="702.40" y2="502.12" stroke="#e0603a" stroke-width="1.0" stroke-linecap="butt"/><line x1="734.20" y1="499.08" x2="734.20" y2="502.45" stroke="#e0603a" stroke-width="1.0" stroke-linecap="butt"/><line x1="732.00" y1="499.08" x2="736.40" y2="499.08" stroke="#e0603a" stroke-width="1.0" stroke-linecap="butt"/><line x1="732.00" y1="502.45" x2="736.40" y2="502.45" stroke="#e0603a" stroke-width="1.0" stroke-linecap="butt"/><line x1="768.00" y1="500.09" x2="768.00" y2="502.79" stroke="#e0603a" stroke-width="1.0" stroke-linecap="butt"/><line x1="765.80" y1="500.09" x2="770.20" y2="500.09" stroke="#e0603a" stroke-width="1.0" stroke-linecap="butt"/><line x1="765.80" y1="502.79" x2="770.20" y2="502.79" stroke="#e0603a" stroke-width="1.0" stroke-linecap="butt"/><polyline points="632.9,498.1 666.9,499.4 700.2,500.1 734.2,500.8 768.0,501.4" fill="none" stroke="#e0603a" stroke-width="2.1" stroke-linejoin="round"/><polygon points="632.90,495.43 635.32,500.05 630.48,500.05" fill="#e0603a"/><polygon points="666.90,496.78 669.32,501.40 664.48,501.40" fill="#e0603a"/><polygon points="700.20,497.45 702.62,502.07 697.78,502.07" fill="#e0603a"/><polygon points="734.20,498.13 736.62,502.75 731.78,502.75" fill="#e0603a"/><polygon points="768.00,498.80 770.42,503.42 765.58,503.42" fill="#e0603a"/><line x1="632.90" y1="479.52" x2="632.90" y2="496.38" stroke="#2ea36b" stroke-width="1.0" stroke-linecap="butt"/><line x1="630.70" y1="479.52" x2="635.10" y2="479.52" stroke="#2ea36b" stroke-width="1.0" stroke-linecap="butt"/><line x1="630.70" y1="496.38" x2="635.10" y2="496.38" stroke="#2ea36b" stroke-width="1.0" stroke-linecap="butt"/><line x1="666.90" y1="486.94" x2="666.90" y2="497.73" stroke="#2ea36b" stroke-width="1.0" stroke-linecap="butt"/><line x1="664.70" y1="486.94" x2="669.10" y2="486.94" stroke="#2ea36b" stroke-width="1.0" stroke-linecap="butt"/><line x1="664.70" y1="497.73" x2="669.10" y2="497.73" stroke="#2ea36b" stroke-width="1.0" stroke-linecap="butt"/><line x1="700.20" y1="491.66" x2="700.20" y2="498.41" stroke="#2ea36b" stroke-width="1.0" stroke-linecap="butt"/><line x1="698.00" y1="491.66" x2="702.40" y2="491.66" stroke="#2ea36b" stroke-width="1.0" stroke-linecap="butt"/><line x1="698.00" y1="498.41" x2="702.40" y2="498.41" stroke="#2ea36b" stroke-width="1.0" stroke-linecap="butt"/><line x1="734.20" y1="495.37" x2="734.20" y2="500.77" stroke="#2ea36b" stroke-width="1.0" stroke-linecap="butt"/><line x1="732.00" y1="495.37" x2="736.40" y2="495.37" stroke="#2ea36b" stroke-width="1.0" stroke-linecap="butt"/><line x1="732.00" y1="500.77" x2="736.40" y2="500.77" stroke="#2ea36b" stroke-width="1.0" stroke-linecap="butt"/><line x1="768.00" y1="498.74" x2="768.00" y2="502.12" stroke="#2ea36b" stroke-width="1.0" stroke-linecap="butt"/><line x1="765.80" y1="498.74" x2="770.20" y2="498.74" stroke="#2ea36b" stroke-width="1.0" stroke-linecap="butt"/><line x1="765.80" y1="502.12" x2="770.20" y2="502.12" stroke="#2ea36b" stroke-width="1.0" stroke-linecap="butt"/><polyline points="632.9,488.0 666.9,492.3 700.2,495.0 734.2,498.1 768.0,500.4" fill="none" stroke="#2ea36b" stroke-width="2.1" stroke-linejoin="round"/><polygon points="632.90,490.59 635.32,485.97 630.48,485.97" fill="#2ea36b"/><polygon points="666.90,494.98 669.32,490.36 664.48,490.36" fill="#2ea36b"/><polygon points="700.20,497.68 702.62,493.06 697.78,493.06" fill="#2ea36b"/><polygon points="734.20,500.71 736.62,496.09 731.78,496.09" fill="#2ea36b"/><polygon points="768.00,503.07 770.42,498.45 765.58,498.45" fill="#2ea36b"/><line x1="632.90" y1="475.48" x2="632.90" y2="495.71" stroke="#6a1bd1" stroke-width="1.0" stroke-linecap="butt"/><line x1="630.70" y1="475.48" x2="635.10" y2="475.48" stroke="#6a1bd1" stroke-width="1.0" stroke-linecap="butt"/><line x1="630.70" y1="495.71" x2="635.10" y2="495.71" stroke="#6a1bd1" stroke-width="1.0" stroke-linecap="butt"/><line x1="666.90" y1="485.26" x2="666.90" y2="497.40" stroke="#6a1bd1" stroke-width="1.0" stroke-linecap="butt"/><line x1="664.70" y1="485.26" x2="669.10" y2="485.26" stroke="#6a1bd1" stroke-width="1.0" stroke-linecap="butt"/><line x1="664.70" y1="497.40" x2="669.10" y2="497.40" stroke="#6a1bd1" stroke-width="1.0" stroke-linecap="butt"/><line x1="700.20" y1="490.99" x2="700.20" y2="499.08" stroke="#6a1bd1" stroke-width="1.0" stroke-linecap="butt"/><line x1="698.00" y1="490.99" x2="702.40" y2="490.99" stroke="#6a1bd1" stroke-width="1.0" stroke-linecap="butt"/><line x1="698.00" y1="499.08" x2="702.40" y2="499.08" stroke="#6a1bd1" stroke-width="1.0" stroke-linecap="butt"/><line x1="734.20" y1="494.70" x2="734.20" y2="500.77" stroke="#6a1bd1" stroke-width="1.0" stroke-linecap="butt"/><line x1="732.00" y1="494.70" x2="736.40" y2="494.70" stroke="#6a1bd1" stroke-width="1.0" stroke-linecap="butt"/><line x1="732.00" y1="500.77" x2="736.40" y2="500.77" stroke="#6a1bd1" stroke-width="1.0" stroke-linecap="butt"/><line x1="768.00" y1="498.07" x2="768.00" y2="502.12" stroke="#6a1bd1" stroke-width="1.0" stroke-linecap="butt"/><line x1="765.80" y1="498.07" x2="770.20" y2="498.07" stroke="#6a1bd1" stroke-width="1.0" stroke-linecap="butt"/><line x1="765.80" y1="502.12" x2="770.20" y2="502.12" stroke="#6a1bd1" stroke-width="1.0" stroke-linecap="butt"/><polyline points="632.9,485.6 666.9,491.3 700.2,495.0 734.2,497.7 768.0,500.1" fill="none" stroke="#6a1bd1" stroke-width="2.1" stroke-linejoin="round"/><polygon points="632.90,482.73 635.32,485.59 632.90,488.45 630.48,485.59" fill="#6a1bd1"/><polygon points="666.90,488.47 669.32,491.33 666.90,494.19 664.48,491.33" fill="#6a1bd1"/><polygon points="700.20,492.18 702.62,495.04 700.20,497.90 697.78,495.04" fill="#6a1bd1"/><polygon points="734.20,494.87 736.62,497.73 734.20,500.59 731.78,497.73" fill="#6a1bd1"/><polygon points="768.00,497.23 770.42,500.09 768.00,502.95 765.58,500.09" fill="#6a1bd1"/><line x1="632.90" y1="450.19" x2="632.90" y2="475.14" stroke="#d4a820" stroke-width="1.0" stroke-linecap="butt"/><line x1="630.70" y1="450.19" x2="635.10" y2="450.19" stroke="#d4a820" stroke-width="1.0" stroke-linecap="butt"/><line x1="630.70" y1="475.14" x2="635.10" y2="475.14" stroke="#d4a820" stroke-width="1.0" stroke-linecap="butt"/><line x1="666.90" y1="467.72" x2="666.90" y2="486.61" stroke="#d4a820" stroke-width="1.0" stroke-linecap="butt"/><line x1="664.70" y1="467.72" x2="669.10" y2="467.72" stroke="#d4a820" stroke-width="1.0" stroke-linecap="butt"/><line x1="664.70" y1="486.61" x2="669.10" y2="486.61" stroke="#d4a820" stroke-width="1.0" stroke-linecap="butt"/><line x1="700.20" y1="481.55" x2="700.20" y2="494.36" stroke="#d4a820" stroke-width="1.0" stroke-linecap="butt"/><line x1="698.00" y1="481.55" x2="702.40" y2="481.55" stroke="#d4a820" stroke-width="1.0" stroke-linecap="butt"/><line x1="698.00" y1="494.36" x2="702.40" y2="494.36" stroke="#d4a820" stroke-width="1.0" stroke-linecap="butt"/><line x1="734.20" y1="489.98" x2="734.20" y2="498.74" stroke="#d4a820" stroke-width="1.0" stroke-linecap="butt"/><line x1="732.00" y1="489.98" x2="736.40" y2="489.98" stroke="#d4a820" stroke-width="1.0" stroke-linecap="butt"/><line x1="732.00" y1="498.74" x2="736.40" y2="498.74" stroke="#d4a820" stroke-width="1.0" stroke-linecap="butt"/><line x1="768.00" y1="496.05" x2="768.00" y2="501.44" stroke="#d4a820" stroke-width="1.0" stroke-linecap="butt"/><line x1="765.80" y1="496.05" x2="770.20" y2="496.05" stroke="#d4a820" stroke-width="1.0" stroke-linecap="butt"/><line x1="765.80" y1="501.44" x2="770.20" y2="501.44" stroke="#d4a820" stroke-width="1.0" stroke-linecap="butt"/><polyline points="632.9,462.7 666.9,477.2 700.2,488.0 734.2,494.4 768.0,498.7" fill="none" stroke="#d4a820" stroke-width="2.1" stroke-linejoin="round"/><polygon points="632.90,459.36 633.68,461.60 636.04,461.64 634.16,463.07 634.84,465.33 632.90,463.98 630.96,465.33 631.64,463.07 629.76,461.64 632.12,461.60" fill="#d4a820"/><polygon points="666.90,473.86 667.68,476.10 670.04,476.14 668.16,477.57 668.84,479.83 666.90,478.48 664.96,479.83 665.64,477.57 663.76,476.14 666.12,476.10" fill="#d4a820"/><polygon points="700.20,484.65 700.98,486.89 703.34,486.93 701.46,488.36 702.14,490.62 700.20,489.27 698.26,490.62 698.94,488.36 697.06,486.93 699.42,486.89" fill="#d4a820"/><polygon points="734.20,491.06 734.98,493.29 737.34,493.34 735.46,494.77 736.14,497.03 734.20,495.68 732.26,497.03 732.94,494.77 731.06,493.34 733.42,493.29" fill="#d4a820"/><polygon points="768.00,495.44 768.78,497.68 771.14,497.72 769.26,499.15 769.94,501.41 768.00,500.06 766.06,501.41 766.74,499.15 764.86,497.72 767.22,497.68" fill="#d4a820"/><line x1="632.90" y1="399.27" x2="632.90" y2="424.90" stroke="#a12b2a" stroke-width="1.25" stroke-linecap="butt"/><line x1="630.10" y1="399.27" x2="635.70" y2="399.27" stroke="#a12b2a" stroke-width="1.25" stroke-linecap="butt"/><line x1="630.10" y1="424.90" x2="635.70" y2="424.90" stroke="#a12b2a" stroke-width="1.25" stroke-linecap="butt"/><line x1="666.90" y1="402.31" x2="666.90" y2="435.35" stroke="#a12b2a" stroke-width="1.25" stroke-linecap="butt"/><line x1="664.10" y1="402.31" x2="669.70" y2="402.31" stroke="#a12b2a" stroke-width="1.25" stroke-linecap="butt"/><line x1="664.10" y1="435.35" x2="669.70" y2="435.35" stroke="#a12b2a" stroke-width="1.25" stroke-linecap="butt"/><line x1="700.20" y1="411.75" x2="700.20" y2="454.23" stroke="#a12b2a" stroke-width="1.25" stroke-linecap="butt"/><line x1="697.40" y1="411.75" x2="703.00" y2="411.75" stroke="#a12b2a" stroke-width="1.25" stroke-linecap="butt"/><line x1="697.40" y1="454.23" x2="703.00" y2="454.23" stroke="#a12b2a" stroke-width="1.25" stroke-linecap="butt"/><line x1="734.20" y1="427.60" x2="734.20" y2="468.06" stroke="#a12b2a" stroke-width="1.25" stroke-linecap="butt"/><line x1="731.40" y1="427.60" x2="737.00" y2="427.60" stroke="#a12b2a" stroke-width="1.25" stroke-linecap="butt"/><line x1="731.40" y1="468.06" x2="737.00" y2="468.06" stroke="#a12b2a" stroke-width="1.25" stroke-linecap="butt"/><line x1="768.00" y1="453.90" x2="768.00" y2="478.85" stroke="#a12b2a" stroke-width="1.25" stroke-linecap="butt"/><line x1="765.20" y1="453.90" x2="770.80" y2="453.90" stroke="#a12b2a" stroke-width="1.25" stroke-linecap="butt"/><line x1="765.20" y1="478.85" x2="770.80" y2="478.85" stroke="#a12b2a" stroke-width="1.25" stroke-linecap="butt"/><polyline points="632.9,412.1 666.9,418.8 700.2,433.0 734.2,447.8 768.0,466.4" fill="none" stroke="#a12b2a" stroke-width="2.3" stroke-linejoin="round"/><rect x="630.20" y="409.38" width="5.4" height="5.4" fill="#a12b2a"/><rect x="664.20" y="416.13" width="5.4" height="5.4" fill="#a12b2a"/><rect x="697.50" y="430.29" width="5.4" height="5.4" fill="#a12b2a"/><rect x="731.50" y="445.13" width="5.4" height="5.4" fill="#a12b2a"/><rect x="765.30" y="463.67" width="5.4" height="5.4" fill="#a12b2a"/><line x1="747.70" y1="381.30" x2="771.80" y2="381.30" stroke="#a12b2a" stroke-width="1.9" stroke-linecap="butt"/><rect x="757.20" y="378.80" width="5.0" height="5.0" fill="#a12b2a"/><text x="775.60" y="384.60" font-size="9.3" font-weight="bold" text-anchor="start" fill="#111">4-TT</text><text x="804.80" y="384.60" font-size="9.3" font-weight="bold" text-anchor="start" fill="#111">+ FA</text><line x1="747.70" y1="393.60" x2="771.80" y2="393.60" stroke="#5cb8e6" stroke-width="1.9" stroke-linecap="butt"/><circle cx="759.70" cy="393.60" r="2.5" fill="#5cb8e6"/><text x="775.60" y="396.90" font-size="9.3" font-weight="bold" text-anchor="start" fill="#111">6-TT</text><text x="804.80" y="396.90" font-size="9.3" font-weight="bold" text-anchor="start" fill="#111">+ FA</text><line x1="747.70" y1="405.90" x2="771.80" y2="405.90" stroke="#e0603a" stroke-width="1.9" stroke-linecap="butt"/><polygon points="759.70,402.90 762.45,408.15 756.95,408.15" fill="#e0603a"/><text x="775.60" y="409.20" font-size="9.3" font-weight="bold" text-anchor="start" fill="#111">8-TT</text><text x="804.80" y="409.20" font-size="9.3" font-weight="bold" text-anchor="start" fill="#111">+ FA</text><line x1="747.70" y1="418.20" x2="771.80" y2="418.20" stroke="#2ea36b" stroke-width="1.9" stroke-linecap="butt"/><polygon points="759.70,421.20 762.45,415.95 756.95,415.95" fill="#2ea36b"/><text x="775.60" y="421.50" font-size="9.3" font-weight="bold" text-anchor="start" fill="#111">11-TT</text><text x="804.80" y="421.50" font-size="9.3" font-weight="bold" text-anchor="start" fill="#111">+ FA</text><line x1="747.70" y1="430.50" x2="771.80" y2="430.50" stroke="#6a1bd1" stroke-width="1.9" stroke-linecap="butt"/><polygon points="759.70,427.25 762.45,430.50 759.70,433.75 756.95,430.50" fill="#6a1bd1"/><text x="775.60" y="433.80" font-size="9.3" font-weight="bold" text-anchor="start" fill="#111">12-TT</text><text x="804.80" y="433.80" font-size="9.3" font-weight="bold" text-anchor="start" fill="#111">+ FA</text><line x1="747.70" y1="442.80" x2="771.80" y2="442.80" stroke="#d4a820" stroke-width="1.9" stroke-linecap="butt"/><polygon points="759.70,439.05 760.58,441.59 763.27,441.64 761.13,443.26 761.90,445.83 759.70,444.30 757.50,445.83 758.27,443.26 756.13,441.64 758.82,441.59" fill="#d4a820"/><text x="775.60" y="446.10" font-size="9.3" font-weight="bold" text-anchor="start" fill="#111">Hib vaccine</text><rect x="843.7" y="379.7" width="136.8" height="136.8" fill="#2c2c2c"/><rect x="910.4" y="379.7" width="34.0" height="34.9" fill="#1d1d1d"/><rect x="944.3" y="379.7" width="36.2" height="34.9" fill="#252525"/><rect x="910.4" y="414.6" width="34.0" height="34.1" fill="#242424"/><rect x="843.7" y="448.7" width="32.7" height="34.3" fill="#222"/><rect x="910.4" y="483.1" width="70.1" height="17.1" fill="#252525"/><circle cx="849.8" cy="387.6" r="5.14" fill="#fdfdfd" opacity="1"/><circle cx="867.6" cy="387.6" r="6.43" fill="#fdfdfd" opacity="1"/><circle cx="885.0" cy="387.1" r="5.51" fill="#fdfdfd" opacity="1"/><circle cx="902.6" cy="387.1" r="5.14" fill="#fdfdfd" opacity="1"/><circle cx="919.5" cy="387.1" r="6.61" fill="#fdfdfd" opacity="1"/><circle cx="937.0" cy="387.1" r="6.61" fill="#fdfdfd" opacity="1"/><circle cx="955.0" cy="387.1" r="7.34" fill="#fdfdfd" opacity="1"/><circle cx="972.2" cy="387.1" r="7.34" fill="#fdfdfd" opacity="1"/><circle cx="849.8" cy="404.7" r="4.41" fill="#fdfdfd" opacity="1"/><circle cx="867.8" cy="404.7" r="4.41" fill="#fdfdfd" opacity="1"/><circle cx="919.9" cy="404.7" r="4.77" fill="#fdfdfd" opacity="1"/><circle cx="937.5" cy="404.5" r="4.96" fill="#fdfdfd" opacity="1"/><circle cx="954.8" cy="404.5" r="5.69" fill="#fdfdfd" opacity="1"/><circle cx="972.4" cy="404.3" r="5.69" fill="#fdfdfd" opacity="1"/><circle cx="885.2" cy="405.0" r="3.86" fill="#3a3a3a" stroke="#e8e8e8" stroke-width="1.3" stroke-dasharray="1.2 0.9" opacity="1"/><circle cx="885.2" cy="405.0" r="2.02" fill="#fdfdfd" opacity="1"/><circle cx="902.6" cy="405.0" r="3.86" fill="#3a3a3a" stroke="#e8e8e8" stroke-width="1.3" stroke-dasharray="1.2 0.9" opacity="1"/><circle cx="902.6" cy="405.0" r="2.02" fill="#fdfdfd" opacity="1"/><circle cx="849.8" cy="421.6" r="4.59" fill="#1b1b1b" opacity="1"/><circle cx="868.1" cy="421.9" r="4.96" fill="#1b1b1b" opacity="1"/><circle cx="885.0" cy="421.9" r="5.32" fill="#e6e6e6" opacity="1"/><circle cx="902.8" cy="421.9" r="5.32" fill="#ececec" opacity="1"/><circle cx="919.9" cy="421.6" r="3.86" fill="#fdfdfd" opacity="1"/><circle cx="937.0" cy="421.6" r="4.04" fill="#fdfdfd" opacity="1"/><line x1="919.17" y1="419.37" x2="919.72" y2="423.77" stroke="#666" stroke-width="0.7" stroke-linecap="butt"/><circle cx="953.5" cy="421.6" r="2.75" fill="#242424" opacity="1"/><circle cx="971.9" cy="421.2" r="3.30" fill="#222" opacity="1"/><circle cx="849.8" cy="439.0" r="2.57" fill="#1a1a1a" opacity="1"/><circle cx="867.8" cy="439.0" r="2.75" fill="#1a1a1a" opacity="1"/><circle cx="954.4" cy="438.1" r="4.41" fill="#1a1a1a" opacity="1"/><circle cx="972.8" cy="438.5" r="4.59" fill="#1a1a1a" opacity="1"/><circle cx="884.1" cy="438.5" r="2.94" fill="#303030" opacity="1"/><circle cx="901.5" cy="438.5" r="2.94" fill="#303030" opacity="1"/><rect x="915.3" y="437.9" width="13.2" height="5.8" rx="2.9" fill="#7c7c7c" stroke="#9c9c9c" stroke-width="0.6" transform="rotate(32 921.9 440.8)"/><circle cx="936.6" cy="438.6" r="2.75" fill="#777" stroke="#a5a5a5" stroke-width="0.8" opacity="1"/><circle cx="943.9" cy="443.6" r="2.39" fill="#8a8a8a" stroke="#bbb" stroke-width="0.8" opacity="1"/><circle cx="850.3" cy="456.8" r="5.32" fill="#e2e2e2" opacity="1"/><circle cx="868.1" cy="456.5" r="5.32" fill="#b8b8b8" stroke="#d8d8d8" stroke-width="0.8" opacity="1"/><circle cx="885.6" cy="456.5" r="4.04" fill="none" stroke="#6c6c6c" stroke-width="0.7" opacity="1"/><circle cx="903.0" cy="456.5" r="4.04" fill="none" stroke="#5c5c5c" stroke-width="0.7" opacity="1"/><circle cx="920.1" cy="456.5" r="5.32" fill="#cfcfcf" stroke="#f4f4f4" stroke-width="1.0" opacity="1"/><circle cx="937.3" cy="456.1" r="5.32" fill="#d6d6d6" stroke="#f4f4f4" stroke-width="1.0" opacity="1"/><circle cx="955.0" cy="456.1" r="6.61" fill="#6a6a6a" stroke="#a8a8a8" stroke-width="2.2" opacity="1"/><circle cx="972.6" cy="455.7" r="6.43" fill="#686868" stroke="#a4a4a4" stroke-width="2.2" opacity="1"/><circle cx="850.1" cy="474.3" r="5.14" fill="#fdfdfd" opacity="1"/><circle cx="868.1" cy="474.3" r="4.96" fill="#fdfdfd" opacity="1"/><path d="M850.7,470.2 Q854.4,473.9 852.2,478.1" fill="none" stroke="#222" stroke-width="0.9"/><circle cx="885.6" cy="473.9" r="2.20" fill="#181818" opacity="1"/><circle cx="903.0" cy="473.9" r="2.20" fill="#1a1a1a" opacity="1"/><circle cx="916.4" cy="470.6" r="4.41" fill="#8c8c8c" stroke="#f0f0f0" stroke-width="1.0" opacity="1"/><circle cx="933.7" cy="470.6" r="4.77" fill="#a8a8a8" stroke="#f2f2f2" stroke-width="1.0" opacity="1"/><line x1="914.02" y1="468.38" x2="918.98" y2="473.34" stroke="#444" stroke-width="0.8" stroke-linecap="butt"/><circle cx="951.3" cy="470.2" r="5.14" fill="#858585" stroke="#cfcfcf" stroke-width="1.0" opacity="1"/><circle cx="968.9" cy="470.2" r="4.77" fill="#8a8a8a" stroke="#f0f0f0" stroke-width="1.0" opacity="1"/><circle cx="850.1" cy="491.9" r="1.84" fill="#3a3a3a" opacity="1"/><circle cx="868.1" cy="491.9" r="1.47" fill="#363636" opacity="1"/><circle cx="885.6" cy="491.9" r="4.04" fill="#2a2a2a" stroke="#3f3f3f" stroke-width="1.0" opacity="1"/><circle cx="903.0" cy="491.9" r="4.04" fill="#2a2a2a" stroke="#3f3f3f" stroke-width="1.0" opacity="1"/><circle cx="916.4" cy="488.0" r="3.67" fill="#6a6a6a" stroke="#e4e4e4" stroke-width="1.5" opacity="1"/><circle cx="934.2" cy="488.0" r="3.67" fill="#555" stroke="#e0e0e0" stroke-width="1.4" stroke-dasharray="2.2 0.8" opacity="1"/><circle cx="952.0" cy="488.6" r="3.67" fill="#4a4a4a" stroke="#8a8a8a" stroke-width="1.2" opacity="1"/><circle cx="969.3" cy="488.0" r="3.86" fill="#6a6a6a" stroke="#777" stroke-width="0.6" opacity="1"/><circle cx="956.2" cy="492.8" r="1.65" fill="none" stroke="#777" stroke-width="0.5" opacity="1"/><circle cx="973.3" cy="493.7" r="1.47" fill="#fdfdfd" opacity="1"/><circle cx="866.3" cy="496.5" r="0.37" fill="#fff" opacity="1"/><circle cx="850.1" cy="509.1" r="2.75" fill="#1a1a1a" opacity="1"/><circle cx="868.1" cy="509.3" r="2.75" fill="#1a1a1a" opacity="1"/><circle cx="885.2" cy="509.3" r="3.12" fill="#1a1a1a" opacity="1"/><circle cx="903.4" cy="509.3" r="3.12" fill="#1a1a1a" opacity="1"/><circle cx="916.2" cy="506.4" r="3.49" fill="none" stroke="#dcdcdc" stroke-width="0.9" stroke-dasharray="1.6 1.1" opacity="1"/><circle cx="933.9" cy="505.5" r="3.49" fill="none" stroke="#dcdcdc" stroke-width="0.9" stroke-dasharray="1.8 0.9" opacity="1"/><line x1="843.70" y1="414.60" x2="980.50" y2="414.60" stroke="#e6e6e6" stroke-width="1.0" stroke-linecap="butt"/><line x1="843.70" y1="483.10" x2="980.50" y2="483.10" stroke="#e6e6e6" stroke-width="1.0" stroke-linecap="butt"/><line x1="843.70" y1="500.10" x2="980.50" y2="500.10" stroke="#e6e6e6" stroke-width="1.0" stroke-linecap="butt"/><line x1="843.70" y1="448.70" x2="980.50" y2="448.70" stroke="#8f8f8f" stroke-width="1.0" stroke-linecap="butt"/><line x1="876.40" y1="379.70" x2="876.40" y2="483.10" stroke="#e6e6e6" stroke-width="1.0" stroke-linecap="butt"/><line x1="876.40" y1="500.10" x2="876.40" y2="516.50" stroke="#e6e6e6" stroke-width="1.0" stroke-linecap="butt"/><line x1="910.40" y1="379.70" x2="910.40" y2="483.10" stroke="#e6e6e6" stroke-width="1.0" stroke-linecap="butt"/><line x1="910.40" y1="500.10" x2="910.40" y2="516.50" stroke="#e6e6e6" stroke-width="1.0" stroke-linecap="butt"/><line x1="944.30" y1="379.70" x2="944.30" y2="483.10" stroke="#e6e6e6" stroke-width="1.0" stroke-linecap="butt"/><line x1="944.30" y1="500.10" x2="944.30" y2="516.50" stroke="#e6e6e6" stroke-width="1.0" stroke-linecap="butt"/><line x1="910.40" y1="483.10" x2="910.40" y2="500.10" stroke="#e6e6e6" stroke-width="1.0" stroke-linecap="butt"/><path d="M636.9,581.5 L636.9,581.1 L637.6,581.0 L638.4,580.8 L639.1,580.6 L639.9,580.2 L640.6,579.8 L641.4,579.3 L642.1,578.7 L642.9,577.9 L643.6,577.0 L644.4,575.9 L645.1,574.7 L645.9,573.4 L646.6,571.9 L647.4,570.2 L648.1,568.5 L648.9,566.8 L649.6,565.0 L650.4,563.3 L651.1,561.7 L651.9,560.2 L652.6,559.0 L653.4,558.0 L654.1,557.4 L654.9,557.0 L655.6,557.0 L656.4,557.4 L657.1,558.1 L657.9,559.1 L658.6,560.3 L659.4,561.8 L660.1,563.4 L660.9,565.1 L661.6,566.9 L662.4,568.6 L663.1,570.3 L663.9,572.0 L664.6,573.5 L665.4,574.8 L666.1,576.0 L666.9,577.1 L667.6,578.0 L668.4,578.7 L669.1,579.4 L669.9,579.9 L670.6,580.3 L671.4,580.6 L672.1,580.8 L672.9,581.0 L673.6,581.2 L673.6,581.5Z" fill="#cdcdcd"/><path d="M612.1,581.5 L612.9,581.5 L613.6,581.5 L614.4,581.5 L615.1,581.5 L615.9,581.5 L616.6,581.5 L617.4,581.5 L618.1,581.5 L618.9,581.5 L619.6,581.5 L620.4,581.5 L621.1,581.5 L621.9,581.5 L622.6,581.5 L623.4,581.5 L624.1,581.5 L624.9,581.5 L625.6,581.5 L626.4,581.5 L627.1,581.5 L627.9,581.5 L628.6,581.5 L629.4,581.5 L630.1,581.5 L630.9,581.5 L631.6,581.5 L632.4,581.5 L633.1,581.4 L633.9,581.4 L634.6,581.4 L635.4,581.3 L636.1,581.3 L636.9,581.1 L637.6,581.0 L638.4,580.8 L639.1,580.6 L639.9,580.2 L640.6,579.8 L641.4,579.3 L642.1,578.7 L642.9,577.9 L643.6,577.0 L644.4,575.9 L645.1,574.7 L645.9,573.4 L646.6,571.9 L647.4,570.2 L648.1,568.5 L648.9,566.8 L649.6,565.0 L650.4,563.3 L651.1,561.7 L651.9,560.2 L652.6,559.0 L653.4,558.0 L654.1,557.4 L654.9,557.0 L655.6,557.0 L656.4,557.4 L657.1,558.1 L657.9,559.1 L658.6,560.3 L659.4,561.8 L660.1,563.4 L660.9,565.1 L661.6,566.9 L662.4,568.6 L663.1,570.3 L663.9,572.0 L664.6,573.5 L665.4,574.8 L666.1,576.0 L666.9,577.1 L667.6,578.0 L668.4,578.7 L669.1,579.4 L669.9,579.9 L670.6,580.3 L671.4,580.6 L672.1,580.8 L672.9,581.0 L673.6,581.2 L674.4,581.3 L675.1,581.3 L675.9,581.4 L676.6,581.4 L677.4,581.4 L678.1,581.5 L678.9,581.5 L679.6,581.5 L680.4,581.5 L681.1,581.5 L681.9,581.5 L682.6,581.5 L683.4,581.5 L684.1,581.5 L684.9,581.5 L685.6,581.5 L686.4,581.5 L687.1,581.5 L687.9,581.5 L688.6,581.5 L689.4,581.5 L690.1,581.5 L690.9,581.5 L691.6,581.5 L692.4,581.5 L693.1,581.5 L693.9,581.5 L694.6,581.5 L695.4,581.5 L696.1,581.5 L696.9,581.5 L697.6,581.5 L698.4,581.5 L699.1,581.5 L699.9,581.5 L700.6,581.5 L701.4,581.5 L702.1,581.5 L702.9,581.5 L703.6,581.5 L704.4,581.5 L705.1,581.5 L705.9,581.5 L706.6,581.5 L707.4,581.5 L708.1,581.5 L708.9,581.5 L709.6,581.5 L710.4,581.5 L711.1,581.5 L711.9,581.5 L712.6,581.5 L713.4,581.5 L714.1,581.5 L714.9,581.5 L715.6,581.5 L716.4,581.5 L717.1,581.5 L717.9,581.5 L718.6,581.5 L719.4,581.5 L720.1,581.5 L720.9,581.5 L721.6,581.5 L722.4,581.5 L723.1,581.5 L723.9,581.5 L724.6,581.5 L725.4,581.5 L726.1,581.5 L726.9,581.5 L727.6,581.5 L728.4,581.5 L729.1,581.5 L729.9,581.5 L730.6,581.5 L731.4,581.5 L732.1,581.5 L732.9,581.5" fill="none" stroke="#555" stroke-width="0.6"/><path d="M636.9,581.1 L637.6,581.0 L638.4,580.8 L639.1,580.6 L639.9,580.2 L640.6,579.8 L641.4,579.3 L642.1,578.7 L642.9,577.9 L643.6,577.0 L644.4,575.9 L645.1,574.7 L645.9,573.4 L646.6,571.9 L647.4,570.2 L648.1,568.5 L648.9,566.8 L649.6,565.0 L650.4,563.3 L651.1,561.7 L651.9,560.2 L652.6,559.0 L653.4,558.0 L654.1,557.4 L654.9,557.0 L655.6,557.0 L656.4,557.4 L657.1,558.1 L657.9,559.1 L658.6,560.3 L659.4,561.8 L660.1,563.4 L660.9,565.1 L661.6,566.9 L662.4,568.6 L663.1,570.3 L663.9,572.0 L664.6,573.5 L665.4,574.8 L666.1,576.0 L666.9,577.1 L667.6,578.0 L668.4,578.7 L669.1,579.4 L669.9,579.9 L670.6,580.3 L671.4,580.6 L672.1,580.8 L672.9,581.0 L673.6,581.2" fill="none" stroke="#555" stroke-width="1.5" stroke-linejoin="round"/><path d="M661.6,595.2 L661.6,594.9 L662.4,594.8 L663.1,594.6 L663.9,594.4 L664.6,594.2 L665.4,593.8 L666.1,593.4 L666.9,593.0 L667.6,592.4 L668.4,591.7 L669.1,590.9 L669.9,590.0 L670.6,589.0 L671.4,587.9 L672.1,586.6 L672.9,585.4 L673.6,584.0 L674.4,582.7 L675.1,581.3 L675.9,580.1 L676.6,578.9 L677.4,577.8 L678.1,577.0 L678.9,576.3 L679.6,575.8 L680.4,575.6 L681.1,575.7 L681.9,575.9 L682.6,576.5 L683.4,577.2 L684.1,578.2 L684.9,579.3 L685.6,580.5 L686.4,581.8 L687.1,583.1 L687.9,584.5 L688.6,585.8 L689.4,587.1 L690.1,588.2 L690.9,589.3 L691.6,590.3 L692.4,591.2 L693.1,591.9 L693.9,592.6 L694.6,593.1 L695.4,593.6 L696.1,594.0 L696.9,594.3 L697.6,594.5 L698.4,594.7 L699.1,594.8 L699.9,594.9 L699.9,595.2Z" fill="#fbe3c5"/><path d="M612.1,595.2 L612.9,595.2 L613.6,595.2 L614.4,595.2 L615.1,595.2 L615.9,595.2 L616.6,595.2 L617.4,595.2 L618.1,595.2 L618.9,595.2 L619.6,595.2 L620.4,595.2 L621.1,595.2 L621.9,595.2 L622.6,595.2 L623.4,595.2 L624.1,595.2 L624.9,595.2 L625.6,595.2 L626.4,595.2 L627.1,595.2 L627.9,595.2 L628.6,595.2 L629.4,595.2 L630.1,595.2 L630.9,595.2 L631.6,595.2 L632.4,595.2 L633.1,595.2 L633.9,595.2 L634.6,595.2 L635.4,595.2 L636.1,595.2 L636.9,595.2 L637.6,595.2 L638.4,595.2 L639.1,595.2 L639.9,595.2 L640.6,595.2 L641.4,595.2 L642.1,595.2 L642.9,595.2 L643.6,595.2 L644.4,595.2 L645.1,595.2 L645.9,595.2 L646.6,595.2 L647.4,595.2 L648.1,595.2 L648.9,595.2 L649.6,595.2 L650.4,595.2 L651.1,595.2 L651.9,595.2 L652.6,595.2 L653.4,595.2 L654.1,595.2 L654.9,595.2 L655.6,595.2 L656.4,595.2 L657.1,595.2 L657.9,595.1 L658.6,595.1 L659.4,595.1 L660.1,595.0 L660.9,595.0 L661.6,594.9 L662.4,594.8 L663.1,594.6 L663.9,594.4 L664.6,594.2 L665.4,593.8 L666.1,593.4 L666.9,593.0 L667.6,592.4 L668.4,591.7 L669.1,590.9 L669.9,590.0 L670.6,589.0 L671.4,587.9 L672.1,586.6 L672.9,585.4 L673.6,584.0 L674.4,582.7 L675.1,581.3 L675.9,580.1 L676.6,578.9 L677.4,577.8 L678.1,577.0 L678.9,576.3 L679.6,575.8 L680.4,575.6 L681.1,575.7 L681.9,575.9 L682.6,576.5 L683.4,577.2 L684.1,578.2 L684.9,579.3 L685.6,580.5 L686.4,581.8 L687.1,583.1 L687.9,584.5 L688.6,585.8 L689.4,587.1 L690.1,588.2 L690.9,589.3 L691.6,590.3 L692.4,591.2 L693.1,591.9 L693.9,592.6 L694.6,593.1 L695.4,593.6 L696.1,594.0 L696.9,594.3 L697.6,594.5 L698.4,594.7 L699.1,594.8 L699.9,594.9 L700.6,595.0 L701.4,595.1 L702.1,595.1 L702.9,595.1 L703.6,595.2 L704.4,595.2 L705.1,595.2 L705.9,595.2 L706.6,595.2 L707.4,595.2 L708.1,595.2 L708.9,595.2 L709.6,595.2 L710.4,595.2 L711.1,595.2 L711.9,595.2 L712.6,595.2 L713.4,595.2 L714.1,595.2 L714.9,595.2 L715.6,595.2 L716.4,595.2 L717.1,595.2 L717.9,595.2 L718.6,595.2 L719.4,595.2 L720.1,595.2 L720.9,595.2 L721.6,595.2 L722.4,595.2 L723.1,595.2 L723.9,595.2 L724.6,595.2 L725.4,595.2 L726.1,595.2 L726.9,595.2 L727.6,595.2 L728.4,595.2 L729.1,595.2 L729.9,595.2 L730.6,595.2 L731.4,595.2 L732.1,595.2 L732.9,595.2 L733.6,595.2 L734.4,595.2 L735.1,595.2 L735.9,595.2 L736.6,595.2 L737.4,595.2 L738.1,595.2 L738.9,595.2 L739.6,595.2 L740.4,595.2 L741.1,595.2 L741.9,595.2 L742.6,595.2 L743.4,595.2 L744.1,595.2 L744.9,595.2 L745.6,595.2 L746.4,595.2 L747.1,595.2 L747.9,595.2 L748.6,595.2 L749.4,595.2 L750.1,595.2 L750.9,595.2 L751.6,595.2 L752.4,595.2 L753.1,595.2 L753.9,595.2 L754.6,595.2 L755.4,595.2 L756.1,595.2 L756.9,595.2 L757.6,595.2 L758.4,595.2 L759.1,595.2 L759.9,595.2 L760.6,595.2" fill="none" stroke="#f2b266" stroke-width="0.6"/><path d="M661.6,594.9 L662.4,594.8 L663.1,594.6 L663.9,594.4 L664.6,594.2 L665.4,593.8 L666.1,593.4 L666.9,593.0 L667.6,592.4 L668.4,591.7 L669.1,590.9 L669.9,590.0 L670.6,589.0 L671.4,587.9 L672.1,586.6 L672.9,585.4 L673.6,584.0 L674.4,582.7 L675.1,581.3 L675.9,580.1 L676.6,578.9 L677.4,577.8 L678.1,577.0 L678.9,576.3 L679.6,575.8 L680.4,575.6 L681.1,575.7 L681.9,575.9 L682.6,576.5 L683.4,577.2 L684.1,578.2 L684.9,579.3 L685.6,580.5 L686.4,581.8 L687.1,583.1 L687.9,584.5 L688.6,585.8 L689.4,587.1 L690.1,588.2 L690.9,589.3 L691.6,590.3 L692.4,591.2 L693.1,591.9 L693.9,592.6 L694.6,593.1 L695.4,593.6 L696.1,594.0 L696.9,594.3 L697.6,594.5 L698.4,594.7 L699.1,594.8 L699.9,594.9" fill="none" stroke="#f2b266" stroke-width="1.5" stroke-linejoin="round"/><path d="M680.4,608.7 L680.4,608.3 L681.1,608.1 L681.9,607.9 L682.6,607.6 L683.4,607.1 L684.1,606.6 L684.9,606.0 L685.6,605.2 L686.4,604.4 L687.1,603.6 L687.9,602.7 L688.6,601.8 L689.4,601.0 L690.1,600.3 L690.9,599.6 L691.6,599.1 L692.4,598.7 L693.1,598.3 L693.9,598.0 L694.6,597.6 L695.4,597.1 L696.1,596.5 L696.9,595.7 L697.6,594.7 L698.4,593.6 L699.1,592.3 L699.9,590.9 L700.6,589.5 L701.4,588.1 L702.1,586.9 L702.9,586.0 L703.6,585.4 L704.4,585.1 L705.1,585.2 L705.9,585.7 L706.6,586.6 L707.4,587.9 L708.1,589.4 L708.9,591.1 L709.6,592.9 L710.4,594.8 L711.1,596.7 L711.9,598.5 L712.6,600.2 L713.4,601.8 L714.1,603.1 L714.9,604.3 L715.6,605.3 L716.4,606.1 L717.1,606.8 L717.9,607.3 L718.6,607.7 L719.4,608.0 L720.1,608.2 L720.9,608.4 L720.9,608.7Z" fill="#dcb0b0"/><path d="M612.1,608.7 L612.9,608.7 L613.6,608.7 L614.4,608.7 L615.1,608.7 L615.9,608.7 L616.6,608.7 L617.4,608.7 L618.1,608.7 L618.9,608.7 L619.6,608.7 L620.4,608.7 L621.1,608.7 L621.9,608.7 L622.6,608.7 L623.4,608.7 L624.1,608.7 L624.9,608.7 L625.6,608.7 L626.4,608.7 L627.1,608.7 L627.9,608.7 L628.6,608.7 L629.4,608.7 L630.1,608.7 L630.9,608.7 L631.6,608.7 L632.4,608.7 L633.1,608.7 L633.9,608.7 L634.6,608.7 L635.4,608.7 L636.1,608.7 L636.9,608.7 L637.6,608.7 L638.4,608.7 L639.1,608.7 L639.9,608.7 L640.6,608.7 L641.4,608.7 L642.1,608.7 L642.9,608.7 L643.6,608.7 L644.4,608.7 L645.1,608.7 L645.9,608.7 L646.6,608.7 L647.4,608.7 L648.1,608.7 L648.9,608.7 L649.6,608.7 L650.4,608.7 L651.1,608.7 L651.9,608.7 L652.6,608.7 L653.4,608.7 L654.1,608.7 L654.9,608.7 L655.6,608.7 L656.4,608.7 L657.1,608.7 L657.9,608.7 L658.6,608.7 L659.4,608.7 L660.1,608.7 L660.9,608.7 L661.6,608.7 L662.4,608.7 L663.1,608.7 L663.9,608.7 L664.6,608.7 L665.4,608.7 L666.1,608.7 L666.9,608.7 L667.6,608.7 L668.4,608.7 L669.1,608.7 L669.9,608.7 L670.6,608.7 L671.4,608.7 L672.1,608.7 L672.9,608.7 L673.6,608.7 L674.4,608.7 L675.1,608.7 L675.9,608.7 L676.6,608.7 L677.4,608.6 L678.1,608.6 L678.9,608.5 L679.6,608.5 L680.4,608.3 L681.1,608.1 L681.9,607.9 L682.6,607.6 L683.4,607.1 L684.1,606.6 L684.9,606.0 L685.6,605.2 L686.4,604.4 L687.1,603.6 L687.9,602.7 L688.6,601.8 L689.4,601.0 L690.1,600.3 L690.9,599.6 L691.6,599.1 L692.4,598.7 L693.1,598.3 L693.9,598.0 L694.6,597.6 L695.4,597.1 L696.1,596.5 L696.9,595.7 L697.6,594.7 L698.4,593.6 L699.1,592.3 L699.9,590.9 L700.6,589.5 L701.4,588.1 L702.1,586.9 L702.9,586.0 L703.6,585.4 L704.4,585.1 L705.1,585.2 L705.9,585.7 L706.6,586.6 L707.4,587.9 L708.1,589.4 L708.9,591.1 L709.6,592.9 L710.4,594.8 L711.1,596.7 L711.9,598.5 L712.6,600.2 L713.4,601.8 L714.1,603.1 L714.9,604.3 L715.6,605.3 L716.4,606.1 L717.1,606.8 L717.9,607.3 L718.6,607.7 L719.4,608.0 L720.1,608.2 L720.9,608.4 L721.6,608.5 L722.4,608.5 L723.1,608.6 L723.9,608.6 L724.6,608.7 L725.4,608.7 L726.1,608.7 L726.9,608.7 L727.6,608.7 L728.4,608.7 L729.1,608.7 L729.9,608.7 L730.6,608.7 L731.4,608.7 L732.1,608.7 L732.9,608.7 L733.6,608.7 L734.4,608.7 L735.1,608.7 L735.9,608.7 L736.6,608.7 L737.4,608.7 L738.1,608.7 L738.9,608.7 L739.6,608.7 L740.4,608.7 L741.1,608.7 L741.9,608.7 L742.6,608.7 L743.4,608.7 L744.1,608.7 L744.9,608.7 L745.6,608.7 L746.4,608.7 L747.1,608.7 L747.9,608.7 L748.6,608.7 L749.4,608.7 L750.1,608.7 L750.9,608.7 L751.6,608.7 L752.4,608.7 L753.1,608.7 L753.9,608.7 L754.6,608.7 L755.4,608.7 L756.1,608.7 L756.9,608.7 L757.6,608.7 L758.4,608.7 L759.1,608.7 L759.9,608.7 L760.6,608.7" fill="none" stroke="#8b1a1a" stroke-width="0.6"/><path d="M680.4,608.3 L681.1,608.1 L681.9,607.9 L682.6,607.6 L683.4,607.1 L684.1,606.6 L684.9,606.0 L685.6,605.2 L686.4,604.4 L687.1,603.6 L687.9,602.7 L688.6,601.8 L689.4,601.0 L690.1,600.3 L690.9,599.6 L691.6,599.1 L692.4,598.7 L693.1,598.3 L693.9,598.0 L694.6,597.6 L695.4,597.1 L696.1,596.5 L696.9,595.7 L697.6,594.7 L698.4,593.6 L699.1,592.3 L699.9,590.9 L700.6,589.5 L701.4,588.1 L702.1,586.9 L702.9,586.0 L703.6,585.4 L704.4,585.1 L705.1,585.2 L705.9,585.7 L706.6,586.6 L707.4,587.9 L708.1,589.4 L708.9,591.1 L709.6,592.9 L710.4,594.8 L711.1,596.7 L711.9,598.5 L712.6,600.2 L713.4,601.8 L714.1,603.1 L714.9,604.3 L715.6,605.3 L716.4,606.1 L717.1,606.8 L717.9,607.3 L718.6,607.7 L719.4,608.0 L720.1,608.2 L720.9,608.4" fill="none" stroke="#8b1a1a" stroke-width="1.5" stroke-linejoin="round"/><path d="M650.4,622.6 L650.4,622.3 L651.1,622.2 L651.9,622.0 L652.6,621.7 L653.4,621.4 L654.1,620.9 L654.9,620.4 L655.6,619.6 L656.4,618.7 L657.1,617.6 L657.9,616.3 L658.6,614.9 L659.4,613.2 L660.1,611.4 L660.9,609.5 L661.6,607.5 L662.4,605.5 L663.1,603.6 L663.9,601.9 L664.6,600.4 L665.4,599.3 L666.1,598.5 L666.9,598.1 L667.6,598.2 L668.4,598.7 L669.1,599.6 L669.9,600.9 L670.6,602.4 L671.4,604.2 L672.1,606.2 L672.9,608.1 L673.6,610.1 L674.4,612.0 L675.1,613.8 L675.9,615.4 L676.6,616.8 L677.4,618.0 L678.1,619.0 L678.9,619.9 L679.6,620.6 L680.4,621.1 L681.1,621.5 L681.9,621.8 L682.6,622.1 L683.4,622.2 L683.4,622.6Z" fill="#cde3f8"/><path d="M612.1,622.6 L612.9,622.6 L613.6,622.6 L614.4,622.6 L615.1,622.6 L615.9,622.6 L616.6,622.6 L617.4,622.6 L618.1,622.6 L618.9,622.6 L619.6,622.6 L620.4,622.6 L621.1,622.6 L621.9,622.6 L622.6,622.6 L623.4,622.6 L624.1,622.6 L624.9,622.6 L625.6,622.6 L626.4,622.6 L627.1,622.6 L627.9,622.6 L628.6,622.6 L629.4,622.6 L630.1,622.6 L630.9,622.6 L631.6,622.6 L632.4,622.6 L633.1,622.6 L633.9,622.6 L634.6,622.6 L635.4,622.6 L636.1,622.6 L636.9,622.6 L637.6,622.6 L638.4,622.6 L639.1,622.6 L639.9,622.6 L640.6,622.6 L641.4,622.6 L642.1,622.6 L642.9,622.6 L643.6,622.6 L644.4,622.6 L645.1,622.6 L645.9,622.6 L646.6,622.6 L647.4,622.6 L648.1,622.5 L648.9,622.5 L649.6,622.4 L650.4,622.3 L651.1,622.2 L651.9,622.0 L652.6,621.7 L653.4,621.4 L654.1,620.9 L654.9,620.4 L655.6,619.6 L656.4,618.7 L657.1,617.6 L657.9,616.3 L658.6,614.9 L659.4,613.2 L660.1,611.4 L660.9,609.5 L661.6,607.5 L662.4,605.5 L663.1,603.6 L663.9,601.9 L664.6,600.4 L665.4,599.3 L666.1,598.5 L666.9,598.1 L667.6,598.2 L668.4,598.7 L669.1,599.6 L669.9,600.9 L670.6,602.4 L671.4,604.2 L672.1,606.2 L672.9,608.1 L673.6,610.1 L674.4,612.0 L675.1,613.8 L675.9,615.4 L676.6,616.8 L677.4,618.0 L678.1,619.0 L678.9,619.9 L679.6,620.6 L680.4,621.1 L681.1,621.5 L681.9,621.8 L682.6,622.1 L683.4,622.2 L684.1,622.4 L684.9,622.4 L685.6,622.5 L686.4,622.5 L687.1,622.6 L687.9,622.6 L688.6,622.6 L689.4,622.6 L690.1,622.6 L690.9,622.6 L691.6,622.6 L692.4,622.6 L693.1,622.6 L693.9,622.6 L694.6,622.6 L695.4,622.6 L696.1,622.6 L696.9,622.6 L697.6,622.6 L698.4,622.6 L699.1,622.6 L699.9,622.6 L700.6,622.6 L701.4,622.6 L702.1,622.6 L702.9,622.6 L703.6,622.6 L704.4,622.6 L705.1,622.6 L705.9,622.6 L706.6,622.6 L707.4,622.6 L708.1,622.6 L708.9,622.6 L709.6,622.6 L710.4,622.6 L711.1,622.6 L711.9,622.6 L712.6,622.6 L713.4,622.6 L714.1,622.6 L714.9,622.6 L715.6,622.6 L716.4,622.6 L717.1,622.6 L717.9,622.6 L718.6,622.6 L719.4,622.6 L720.1,622.6 L720.9,622.6 L721.6,622.6 L722.4,622.6 L723.1,622.6 L723.9,622.6 L724.6,622.6 L725.4,622.6 L726.1,622.6 L726.9,622.6 L727.6,622.6 L728.4,622.6 L729.1,622.6 L729.9,622.6 L730.6,622.6 L731.4,622.6 L732.1,622.6 L732.9,622.6 L733.6,622.6 L734.4,622.6 L735.1,622.6 L735.9,622.6 L736.6,622.6 L737.4,622.6 L738.1,622.6 L738.9,622.6 L739.6,622.6 L740.4,622.6 L741.1,622.6 L741.9,622.6 L742.6,622.6 L743.4,622.6 L744.1,622.6 L744.9,622.6 L745.6,622.6 L746.4,622.6 L747.1,622.6 L747.9,622.6 L748.6,622.6 L749.4,622.6 L750.1,622.6 L750.9,622.6 L751.6,622.6 L752.4,622.6 L753.1,622.6 L753.9,622.6 L754.6,622.6 L755.4,622.6 L756.1,622.6 L756.9,622.6 L757.6,622.6 L758.4,622.6 L759.1,622.6 L759.9,622.6 L760.6,622.6" fill="none" stroke="#4a9be8" stroke-width="0.6"/><path d="M650.4,622.3 L651.1,622.2 L651.9,622.0 L652.6,621.7 L653.4,621.4 L654.1,620.9 L654.9,620.4 L655.6,619.6 L656.4,618.7 L657.1,617.6 L657.9,616.3 L658.6,614.9 L659.4,613.2 L660.1,611.4 L660.9,609.5 L661.6,607.5 L662.4,605.5 L663.1,603.6 L663.9,601.9 L664.6,600.4 L665.4,599.3 L666.1,598.5 L666.9,598.1 L667.6,598.2 L668.4,598.7 L669.1,599.6 L669.9,600.9 L670.6,602.4 L671.4,604.2 L672.1,606.2 L672.9,608.1 L673.6,610.1 L674.4,612.0 L675.1,613.8 L675.9,615.4 L676.6,616.8 L677.4,618.0 L678.1,619.0 L678.9,619.9 L679.6,620.6 L680.4,621.1 L681.1,621.5 L681.9,621.8 L682.6,622.1 L683.4,622.2" fill="none" stroke="#4a9be8" stroke-width="1.5" stroke-linejoin="round"/><path d="M652.6,636.1 L652.6,635.8 L653.4,635.6 L654.1,635.4 L654.9,635.2 L655.6,634.9 L656.4,634.5 L657.1,634.1 L657.9,633.5 L658.6,632.8 L659.4,632.0 L660.1,631.0 L660.9,629.9 L661.6,628.7 L662.4,627.3 L663.1,625.9 L663.9,624.4 L664.6,622.8 L665.4,621.2 L666.1,619.7 L666.9,618.2 L667.6,616.9 L668.4,615.8 L669.1,614.9 L669.9,614.2 L670.6,613.9 L671.4,613.8 L672.1,614.1 L672.9,614.6 L673.6,615.4 L674.4,616.5 L675.1,617.8 L675.9,619.2 L676.6,620.7 L677.4,622.3 L678.1,623.8 L678.9,625.4 L679.6,626.9 L680.4,628.3 L681.1,629.5 L681.9,630.7 L682.6,631.7 L683.4,632.5 L684.1,633.3 L684.9,633.9 L685.6,634.4 L686.4,634.8 L687.1,635.1 L687.9,635.4 L688.6,635.6 L689.4,635.7 L690.1,635.8 L690.1,636.1Z" fill="#e6c8a8"/><path d="M612.1,636.1 L612.9,636.1 L613.6,636.1 L614.4,636.1 L615.1,636.1 L615.9,636.1 L616.6,636.1 L617.4,636.1 L618.1,636.1 L618.9,636.1 L619.6,636.1 L620.4,636.1 L621.1,636.1 L621.9,636.1 L622.6,636.1 L623.4,636.1 L624.1,636.1 L624.9,636.1 L625.6,636.1 L626.4,636.1 L627.1,636.1 L627.9,636.1 L628.6,636.1 L629.4,636.1 L630.1,636.1 L630.9,636.1 L631.6,636.1 L632.4,636.1 L633.1,636.1 L633.9,636.1 L634.6,636.1 L635.4,636.1 L636.1,636.1 L636.9,636.1 L637.6,636.1 L638.4,636.1 L639.1,636.1 L639.9,636.1 L640.6,636.1 L641.4,636.1 L642.1,636.1 L642.9,636.1 L643.6,636.1 L644.4,636.1 L645.1,636.1 L645.9,636.1 L646.6,636.1 L647.4,636.1 L648.1,636.1 L648.9,636.0 L649.6,636.0 L650.4,636.0 L651.1,635.9 L651.9,635.9 L652.6,635.8 L653.4,635.6 L654.1,635.4 L654.9,635.2 L655.6,634.9 L656.4,634.5 L657.1,634.1 L657.9,633.5 L658.6,632.8 L659.4,632.0 L660.1,631.0 L660.9,629.9 L661.6,628.7 L662.4,627.3 L663.1,625.9 L663.9,624.4 L664.6,622.8 L665.4,621.2 L666.1,619.7 L666.9,618.2 L667.6,616.9 L668.4,615.8 L669.1,614.9 L669.9,614.2 L670.6,613.9 L671.4,613.8 L672.1,614.1 L672.9,614.6 L673.6,615.4 L674.4,616.5 L675.1,617.8 L675.9,619.2 L676.6,620.7 L677.4,622.3 L678.1,623.8 L678.9,625.4 L679.6,626.9 L680.4,628.3 L681.1,629.5 L681.9,630.7 L682.6,631.7 L683.4,632.5 L684.1,633.3 L684.9,633.9 L685.6,634.4 L686.4,634.8 L687.1,635.1 L687.9,635.4 L688.6,635.6 L689.4,635.7 L690.1,635.8 L690.9,635.9 L691.6,636.0 L692.4,636.0 L693.1,636.0 L693.9,636.1 L694.6,636.1 L695.4,636.1 L696.1,636.1 L696.9,636.1 L697.6,636.1 L698.4,636.1 L699.1,636.1 L699.9,636.1 L700.6,636.1 L701.4,636.1 L702.1,636.1 L702.9,636.1 L703.6,636.1 L704.4,636.1 L705.1,636.1 L705.9,636.1 L706.6,636.1 L707.4,636.1 L708.1,636.1 L708.9,636.1 L709.6,636.1 L710.4,636.1 L711.1,636.1 L711.9,636.1 L712.6,636.1 L713.4,636.1 L714.1,636.1 L714.9,636.1 L715.6,636.1 L716.4,636.1 L717.1,636.1 L717.9,636.1 L718.6,636.1 L719.4,636.1 L720.1,636.1 L720.9,636.1 L721.6,636.1 L722.4,636.1 L723.1,636.1 L723.9,636.1 L724.6,636.1 L725.4,636.1 L726.1,636.1 L726.9,636.1 L727.6,636.1 L728.4,636.1 L729.1,636.1 L729.9,636.1 L730.6,636.1 L731.4,636.1 L732.1,636.1 L732.9,636.1 L733.6,636.1 L734.4,636.1 L735.1,636.1 L735.9,636.1 L736.6,636.1 L737.4,636.1 L738.1,636.1 L738.9,636.1 L739.6,636.1 L740.4,636.1 L741.1,636.1 L741.9,636.1 L742.6,636.1 L743.4,636.1 L744.1,636.1 L744.9,636.1 L745.6,636.1 L746.4,636.1 L747.1,636.1 L747.9,636.1 L748.6,636.1 L749.4,636.1 L750.1,636.1 L750.9,636.1 L751.6,636.1 L752.4,636.1 L753.1,636.1 L753.9,636.1 L754.6,636.1 L755.4,636.1 L756.1,636.1 L756.9,636.1 L757.6,636.1 L758.4,636.1 L759.1,636.1 L759.9,636.1 L760.6,636.1" fill="none" stroke="#b5651d" stroke-width="0.6"/><path d="M652.6,635.8 L653.4,635.6 L654.1,635.4 L654.9,635.2 L655.6,634.9 L656.4,634.5 L657.1,634.1 L657.9,633.5 L658.6,632.8 L659.4,632.0 L660.1,631.0 L660.9,629.9 L661.6,628.7 L662.4,627.3 L663.1,625.9 L663.9,624.4 L664.6,622.8 L665.4,621.2 L666.1,619.7 L666.9,618.2 L667.6,616.9 L668.4,615.8 L669.1,614.9 L669.9,614.2 L670.6,613.9 L671.4,613.8 L672.1,614.1 L672.9,614.6 L673.6,615.4 L674.4,616.5 L675.1,617.8 L675.9,619.2 L676.6,620.7 L677.4,622.3 L678.1,623.8 L678.9,625.4 L679.6,626.9 L680.4,628.3 L681.1,629.5 L681.9,630.7 L682.6,631.7 L683.4,632.5 L684.1,633.3 L684.9,633.9 L685.6,634.4 L686.4,634.8 L687.1,635.1 L687.9,635.4 L688.6,635.6 L689.4,635.7 L690.1,635.8" fill="none" stroke="#b5651d" stroke-width="1.5" stroke-linejoin="round"/><path d="M654.1,650.0 L654.1,649.7 L654.9,649.6 L655.6,649.5 L656.4,649.2 L657.1,649.0 L657.9,648.6 L658.6,648.1 L659.4,647.5 L660.1,646.8 L660.9,645.9 L661.6,644.9 L662.4,643.7 L663.1,642.4 L663.9,640.9 L664.6,639.3 L665.4,637.7 L666.1,635.9 L666.9,634.2 L667.6,632.6 L668.4,631.1 L669.1,629.7 L669.9,628.6 L670.6,627.8 L671.4,627.3 L672.1,627.2 L672.9,627.4 L673.6,628.0 L674.4,628.9 L675.1,630.0 L675.9,631.4 L676.6,633.0 L677.4,634.7 L678.1,636.4 L678.9,638.1 L679.6,639.8 L680.4,641.3 L681.1,642.8 L681.9,644.1 L682.6,645.2 L683.4,646.2 L684.1,647.0 L684.9,647.7 L685.6,648.3 L686.4,648.7 L687.1,649.0 L687.9,649.3 L688.6,649.5 L689.4,649.7 L689.4,650.0Z" fill="#c2e9c2"/><path d="M612.1,650.0 L612.9,650.0 L613.6,650.0 L614.4,650.0 L615.1,650.0 L615.9,650.0 L616.6,650.0 L617.4,650.0 L618.1,650.0 L618.9,650.0 L619.6,650.0 L620.4,650.0 L621.1,650.0 L621.9,650.0 L622.6,650.0 L623.4,650.0 L624.1,650.0 L624.9,650.0 L625.6,650.0 L626.4,650.0 L627.1,650.0 L627.9,650.0 L628.6,650.0 L629.4,650.0 L630.1,650.0 L630.9,650.0 L631.6,650.0 L632.4,650.0 L633.1,650.0 L633.9,650.0 L634.6,650.0 L635.4,650.0 L636.1,650.0 L636.9,650.0 L637.6,650.0 L638.4,650.0 L639.1,650.0 L639.9,650.0 L640.6,650.0 L641.4,650.0 L642.1,650.0 L642.9,650.0 L643.6,650.0 L644.4,650.0 L645.1,650.0 L645.9,650.0 L646.6,650.0 L647.4,650.0 L648.1,650.0 L648.9,650.0 L649.6,650.0 L650.4,650.0 L651.1,649.9 L651.9,649.9 L652.6,649.9 L653.4,649.8 L654.1,649.7 L654.9,649.6 L655.6,649.5 L656.4,649.2 L657.1,649.0 L657.9,648.6 L658.6,648.1 L659.4,647.5 L660.1,646.8 L660.9,645.9 L661.6,644.9 L662.4,643.7 L663.1,642.4 L663.9,640.9 L664.6,639.3 L665.4,637.7 L666.1,635.9 L666.9,634.2 L667.6,632.6 L668.4,631.1 L669.1,629.7 L669.9,628.6 L670.6,627.8 L671.4,627.3 L672.1,627.2 L672.9,627.4 L673.6,628.0 L674.4,628.9 L675.1,630.0 L675.9,631.4 L676.6,633.0 L677.4,634.7 L678.1,636.4 L678.9,638.1 L679.6,639.8 L680.4,641.3 L681.1,642.8 L681.9,644.1 L682.6,645.2 L683.4,646.2 L684.1,647.0 L684.9,647.7 L685.6,648.3 L686.4,648.7 L687.1,649.0 L687.9,649.3 L688.6,649.5 L689.4,649.7 L690.1,649.8 L690.9,649.8 L691.6,649.9 L692.4,649.9 L693.1,650.0 L693.9,650.0 L694.6,650.0 L695.4,650.0 L696.1,650.0 L696.9,650.0 L697.6,650.0 L698.4,650.0 L699.1,650.0 L699.9,650.0 L700.6,650.0 L701.4,650.0 L702.1,650.0 L702.9,650.0 L703.6,650.0 L704.4,650.0 L705.1,650.0 L705.9,650.0 L706.6,650.0 L707.4,650.0 L708.1,650.0 L708.9,650.0 L709.6,650.0 L710.4,650.0 L711.1,650.0 L711.9,650.0 L712.6,650.0 L713.4,650.0 L714.1,650.0 L714.9,650.0 L715.6,650.0 L716.4,650.0 L717.1,650.0 L717.9,650.0 L718.6,650.0 L719.4,650.0 L720.1,650.0 L720.9,650.0 L721.6,650.0 L722.4,650.0 L723.1,650.0 L723.9,650.0 L724.6,650.0 L725.4,650.0 L726.1,650.0 L726.9,650.0 L727.6,650.0 L728.4,650.0 L729.1,650.0 L729.9,650.0 L730.6,650.0 L731.4,650.0 L732.1,650.0 L732.9,650.0 L733.6,650.0 L734.4,650.0 L735.1,650.0 L735.9,650.0 L736.6,650.0 L737.4,650.0 L738.1,650.0 L738.9,650.0 L739.6,650.0 L740.4,650.0 L741.1,650.0 L741.9,650.0 L742.6,650.0 L743.4,650.0 L744.1,650.0 L744.9,650.0 L745.6,650.0 L746.4,650.0 L747.1,650.0 L747.9,650.0 L748.6,650.0 L749.4,650.0 L750.1,650.0 L750.9,650.0 L751.6,650.0 L752.4,650.0 L753.1,650.0 L753.9,650.0 L754.6,650.0 L755.4,650.0 L756.1,650.0 L756.9,650.0 L757.6,650.0 L758.4,650.0 L759.1,650.0 L759.9,650.0 L760.6,650.0" fill="none" stroke="#22aa22" stroke-width="0.6"/><path d="M654.1,649.7 L654.9,649.6 L655.6,649.5 L656.4,649.2 L657.1,649.0 L657.9,648.6 L658.6,648.1 L659.4,647.5 L660.1,646.8 L660.9,645.9 L661.6,644.9 L662.4,643.7 L663.1,642.4 L663.9,640.9 L664.6,639.3 L665.4,637.7 L666.1,635.9 L666.9,634.2 L667.6,632.6 L668.4,631.1 L669.1,629.7 L669.9,628.6 L670.6,627.8 L671.4,627.3 L672.1,627.2 L672.9,627.4 L673.6,628.0 L674.4,628.9 L675.1,630.0 L675.9,631.4 L676.6,633.0 L677.4,634.7 L678.1,636.4 L678.9,638.1 L679.6,639.8 L680.4,641.3 L681.1,642.8 L681.9,644.1 L682.6,645.2 L683.4,646.2 L684.1,647.0 L684.9,647.7 L685.6,648.3 L686.4,648.7 L687.1,649.0 L687.9,649.3 L688.6,649.5 L689.4,649.7" fill="none" stroke="#22aa22" stroke-width="1.5" stroke-linejoin="round"/><path d="M656.4,664.2 L656.4,663.9 L657.1,663.8 L657.9,663.6 L658.6,663.4 L659.4,663.1 L660.1,662.8 L660.9,662.3 L661.6,661.8 L662.4,661.1 L663.1,660.4 L663.9,659.5 L664.6,658.4 L665.4,657.3 L666.1,656.0 L666.9,654.6 L667.6,653.1 L668.4,651.6 L669.1,650.1 L669.9,648.6 L670.6,647.1 L671.4,645.8 L672.1,644.7 L672.9,643.8 L673.6,643.1 L674.4,642.7 L675.1,642.6 L675.9,642.8 L676.6,643.3 L677.4,644.0 L678.1,645.0 L678.9,646.2 L679.6,647.5 L680.4,649.0 L681.1,650.5 L681.9,652.0 L682.6,653.5 L683.4,655.0 L684.1,656.3 L684.9,657.6 L685.6,658.7 L686.4,659.7 L687.1,660.6 L687.9,661.3 L688.6,661.9 L689.4,662.5 L690.1,662.9 L690.9,663.2 L691.6,663.5 L692.4,663.7 L693.1,663.8 L693.9,663.9 L693.9,664.2Z" fill="#d8bdf2"/><path d="M612.1,664.2 L612.9,664.2 L613.6,664.2 L614.4,664.2 L615.1,664.2 L615.9,664.2 L616.6,664.2 L617.4,664.2 L618.1,664.2 L618.9,664.2 L619.6,664.2 L620.4,664.2 L621.1,664.2 L621.9,664.2 L622.6,664.2 L623.4,664.2 L624.1,664.2 L624.9,664.2 L625.6,664.2 L626.4,664.2 L627.1,664.2 L627.9,664.2 L628.6,664.2 L629.4,664.2 L630.1,664.2 L630.9,664.2 L631.6,664.2 L632.4,664.2 L633.1,664.2 L633.9,664.2 L634.6,664.2 L635.4,664.2 L636.1,664.2 L636.9,664.2 L637.6,664.2 L638.4,664.2 L639.1,664.2 L639.9,664.2 L640.6,664.2 L641.4,664.2 L642.1,664.2 L642.9,664.2 L643.6,664.2 L644.4,664.2 L645.1,664.2 L645.9,664.2 L646.6,664.2 L647.4,664.2 L648.1,664.2 L648.9,664.2 L649.6,664.2 L650.4,664.2 L651.1,664.2 L651.9,664.2 L652.6,664.2 L653.4,664.1 L654.1,664.1 L654.9,664.0 L655.6,664.0 L656.4,663.9 L657.1,663.8 L657.9,663.6 L658.6,663.4 L659.4,663.1 L660.1,662.8 L660.9,662.3 L661.6,661.8 L662.4,661.1 L663.1,660.4 L663.9,659.5 L664.6,658.4 L665.4,657.3 L666.1,656.0 L666.9,654.6 L667.6,653.1 L668.4,651.6 L669.1,650.1 L669.9,648.6 L670.6,647.1 L671.4,645.8 L672.1,644.7 L672.9,643.8 L673.6,643.1 L674.4,642.7 L675.1,642.6 L675.9,642.8 L676.6,643.3 L677.4,644.0 L678.1,645.0 L678.9,646.2 L679.6,647.5 L680.4,649.0 L681.1,650.5 L681.9,652.0 L682.6,653.5 L683.4,655.0 L684.1,656.3 L684.9,657.6 L685.6,658.7 L686.4,659.7 L687.1,660.6 L687.9,661.3 L688.6,661.9 L689.4,662.5 L690.1,662.9 L690.9,663.2 L691.6,663.5 L692.4,663.7 L693.1,663.8 L693.9,663.9 L694.6,664.0 L695.4,664.1 L696.1,664.1 L696.9,664.1 L697.6,664.2 L698.4,664.2 L699.1,664.2 L699.9,664.2 L700.6,664.2 L701.4,664.2 L702.1,664.2 L702.9,664.2 L703.6,664.2 L704.4,664.2 L705.1,664.2 L705.9,664.2 L706.6,664.2 L707.4,664.2 L708.1,664.2 L708.9,664.2 L709.6,664.2 L710.4,664.2 L711.1,664.2 L711.9,664.2 L712.6,664.2 L713.4,664.2 L714.1,664.2 L714.9,664.2 L715.6,664.2 L716.4,664.2 L717.1,664.2 L717.9,664.2 L718.6,664.2 L719.4,664.2 L720.1,664.2 L720.9,664.2 L721.6,664.2 L722.4,664.2 L723.1,664.2 L723.9,664.2 L724.6,664.2 L725.4,664.2 L726.1,664.2 L726.9,664.2 L727.6,664.2 L728.4,664.2 L729.1,664.2 L729.9,664.2 L730.6,664.2 L731.4,664.2 L732.1,664.2 L732.9,664.2 L733.6,664.2 L734.4,664.2 L735.1,664.2 L735.9,664.2 L736.6,664.2 L737.4,664.2 L738.1,664.2 L738.9,664.2 L739.6,664.2 L740.4,664.2 L741.1,664.2 L741.9,664.2 L742.6,664.2 L743.4,664.2 L744.1,664.2 L744.9,664.2 L745.6,664.2 L746.4,664.2 L747.1,664.2 L747.9,664.2 L748.6,664.2 L749.4,664.2 L750.1,664.2 L750.9,664.2 L751.6,664.2 L752.4,664.2 L753.1,664.2 L753.9,664.2 L754.6,664.2 L755.4,664.2 L756.1,664.2 L756.9,664.2 L757.6,664.2 L758.4,664.2 L759.1,664.2 L759.9,664.2 L760.6,664.2" fill="none" stroke="#7722cc" stroke-width="0.6"/><path d="M656.4,663.9 L657.1,663.8 L657.9,663.6 L658.6,663.4 L659.4,663.1 L660.1,662.8 L660.9,662.3 L661.6,661.8 L662.4,661.1 L663.1,660.4 L663.9,659.5 L664.6,658.4 L665.4,657.3 L666.1,656.0 L666.9,654.6 L667.6,653.1 L668.4,651.6 L669.1,650.1 L669.9,648.6 L670.6,647.1 L671.4,645.8 L672.1,644.7 L672.9,643.8 L673.6,643.1 L674.4,642.7 L675.1,642.6 L675.9,642.8 L676.6,643.3 L677.4,644.0 L678.1,645.0 L678.9,646.2 L679.6,647.5 L680.4,649.0 L681.1,650.5 L681.9,652.0 L682.6,653.5 L683.4,655.0 L684.1,656.3 L684.9,657.6 L685.6,658.7 L686.4,659.7 L687.1,660.6 L687.9,661.3 L688.6,661.9 L689.4,662.5 L690.1,662.9 L690.9,663.2 L691.6,663.5 L692.4,663.7 L693.1,663.8 L693.9,663.9" fill="none" stroke="#7722cc" stroke-width="1.5" stroke-linejoin="round"/><line x1="612.10" y1="548.90" x2="612.10" y2="665.10" stroke="#111" stroke-width="1.8" stroke-linecap="butt"/><line x1="609.80" y1="664.20" x2="761.40" y2="664.20" stroke="#111" stroke-width="1.8" stroke-linecap="butt"/><text x="626.20" y="676.60" font-size="8.0" font-weight="bold" text-anchor="end" fill="#111">10<tspan font-size="5.44" dy="-3.36">1</tspan></text><text x="647.50" y="676.60" font-size="8.0" font-weight="bold" text-anchor="end" fill="#111">10<tspan font-size="5.44" dy="-3.36">2</tspan></text><text x="672.20" y="676.60" font-size="8.0" font-weight="bold" text-anchor="end" fill="#111">10<tspan font-size="5.44" dy="-3.36">3</tspan></text><text x="696.20" y="676.60" font-size="8.0" font-weight="bold" text-anchor="end" fill="#111">10<tspan font-size="5.44" dy="-3.36">4</tspan></text><text x="720.50" y="676.60" font-size="8.0" font-weight="bold" text-anchor="end" fill="#111">10<tspan font-size="5.44" dy="-3.36">5</tspan></text><text x="744.70" y="676.60" font-size="8.0" font-weight="bold" text-anchor="end" fill="#111">10<tspan font-size="5.44" dy="-3.36">6</tspan></text><text x="677.20" y="692.90" font-size="11.3" font-weight="bold" text-anchor="middle" fill="#111">AF532-PE</text><text x="597.70" y="608.00" font-size="13.4" font-weight="bold" text-anchor="middle" fill="#111" transform="rotate(-90 597.70 608.00)">Count</text><rect x="733.6" y="548.5" width="6.8" height="6.6" fill="#cdcdcd" stroke="#555" stroke-width="0.8"/><text x="743.90" y="554.80" font-size="8.4" font-weight="bold" text-anchor="start" fill="#111">PBS</text><text x="774.60" y="554.80" font-size="8.4" font-weight="bold" text-anchor="start" fill="#111">+ FA</text><rect x="733.6" y="558.8" width="6.8" height="6.6" fill="#fbe3c5" stroke="#f2b266" stroke-width="0.8"/><text x="743.90" y="565.10" font-size="8.4" font-weight="bold" text-anchor="start" fill="#111">Hib vaccine</text><rect x="733.6" y="569.1" width="6.8" height="6.6" fill="#dcb0b0" stroke="#8b1a1a" stroke-width="0.8"/><text x="743.90" y="575.40" font-size="8.4" font-weight="bold" text-anchor="start" fill="#111">4-TT</text><text x="774.60" y="575.40" font-size="8.4" font-weight="bold" text-anchor="start" fill="#111">+ FA</text><rect x="733.6" y="579.4" width="6.8" height="6.6" fill="#cde3f8" stroke="#4a9be8" stroke-width="0.8"/><text x="743.90" y="585.70" font-size="8.4" font-weight="bold" text-anchor="start" fill="#111">6-TT</text><text x="774.60" y="585.70" font-size="8.4" font-weight="bold" text-anchor="start" fill="#111">+ FA</text><rect x="733.6" y="589.7" width="6.8" height="6.6" fill="#e6c8a8" stroke="#b5651d" stroke-width="0.8"/><text x="743.90" y="596.00" font-size="8.4" font-weight="bold" text-anchor="start" fill="#111">8-TT</text><text x="774.60" y="596.00" font-size="8.4" font-weight="bold" text-anchor="start" fill="#111">+ FA</text><rect x="733.6" y="600.0" width="6.8" height="6.6" fill="#c2e9c2" stroke="#22aa22" stroke-width="0.8"/><text x="743.90" y="606.30" font-size="8.4" font-weight="bold" text-anchor="start" fill="#111">11-TT</text><text x="774.60" y="606.30" font-size="8.4" font-weight="bold" text-anchor="start" fill="#111">+ FA</text><rect x="733.6" y="610.3" width="6.8" height="6.6" fill="#d8bdf2" stroke="#7722cc" stroke-width="0.8"/><text x="743.90" y="616.60" font-size="8.4" font-weight="bold" text-anchor="start" fill="#111">12-TT</text><text x="774.60" y="616.60" font-size="8.4" font-weight="bold" text-anchor="start" fill="#111">+ FA</text><line x1="835.10" y1="549.40" x2="835.10" y2="662.00" stroke="#111" stroke-width="1.8" stroke-linecap="butt"/><line x1="831.90" y1="651.40" x2="835.10" y2="651.40" stroke="#111" stroke-width="1.2" stroke-linecap="butt"/><text x="830.40" y="655.01" font-size="8.6" font-weight="bold" text-anchor="end" fill="#111">10<tspan font-size="5.85" dy="-3.61">1</tspan></text><line x1="833.50" y1="641.83" x2="835.10" y2="641.83" stroke="#111" stroke-width="0.8" stroke-linecap="butt"/><line x1="833.50" y1="636.23" x2="835.10" y2="636.23" stroke="#111" stroke-width="0.8" stroke-linecap="butt"/><line x1="833.50" y1="632.25" x2="835.10" y2="632.25" stroke="#111" stroke-width="0.8" stroke-linecap="butt"/><line x1="833.50" y1="629.17" x2="835.10" y2="629.17" stroke="#111" stroke-width="0.8" stroke-linecap="butt"/><line x1="833.50" y1="660.97" x2="835.10" y2="660.97" stroke="#111" stroke-width="0.8" stroke-linecap="butt"/><line x1="833.50" y1="626.65" x2="835.10" y2="626.65" stroke="#111" stroke-width="0.8" stroke-linecap="butt"/><line x1="833.50" y1="658.45" x2="835.10" y2="658.45" stroke="#111" stroke-width="0.8" stroke-linecap="butt"/><line x1="833.50" y1="624.53" x2="835.10" y2="624.53" stroke="#111" stroke-width="0.8" stroke-linecap="butt"/><line x1="833.50" y1="656.33" x2="835.10" y2="656.33" stroke="#111" stroke-width="0.8" stroke-linecap="butt"/><line x1="833.50" y1="622.68" x2="835.10" y2="622.68" stroke="#111" stroke-width="0.8" stroke-linecap="butt"/><line x1="833.50" y1="654.48" x2="835.10" y2="654.48" stroke="#111" stroke-width="0.8" stroke-linecap="butt"/><line x1="833.50" y1="621.06" x2="835.10" y2="621.06" stroke="#111" stroke-width="0.8" stroke-linecap="butt"/><line x1="833.50" y1="652.86" x2="835.10" y2="652.86" stroke="#111" stroke-width="0.8" stroke-linecap="butt"/><line x1="831.90" y1="619.60" x2="835.10" y2="619.60" stroke="#111" stroke-width="1.2" stroke-linecap="butt"/><text x="830.40" y="623.21" font-size="8.6" font-weight="bold" text-anchor="end" fill="#111">10<tspan font-size="5.85" dy="-3.61">2</tspan></text><line x1="833.50" y1="610.03" x2="835.10" y2="610.03" stroke="#111" stroke-width="0.8" stroke-linecap="butt"/><line x1="833.50" y1="641.83" x2="835.10" y2="641.83" stroke="#111" stroke-width="0.8" stroke-linecap="butt"/><line x1="833.50" y1="604.43" x2="835.10" y2="604.43" stroke="#111" stroke-width="0.8" stroke-linecap="butt"/><line x1="833.50" y1="636.23" x2="835.10" y2="636.23" stroke="#111" stroke-width="0.8" stroke-linecap="butt"/><line x1="833.50" y1="600.45" x2="835.10" y2="600.45" stroke="#111" stroke-width="0.8" stroke-linecap="butt"/><line x1="833.50" y1="632.25" x2="835.10" y2="632.25" stroke="#111" stroke-width="0.8" stroke-linecap="butt"/><line x1="833.50" y1="597.37" x2="835.10" y2="597.37" stroke="#111" stroke-width="0.8" stroke-linecap="butt"/><line x1="833.50" y1="629.17" x2="835.10" y2="629.17" stroke="#111" stroke-width="0.8" stroke-linecap="butt"/><line x1="833.50" y1="594.85" x2="835.10" y2="594.85" stroke="#111" stroke-width="0.8" stroke-linecap="butt"/><line x1="833.50" y1="626.65" x2="835.10" y2="626.65" stroke="#111" stroke-width="0.8" stroke-linecap="butt"/><line x1="833.50" y1="592.73" x2="835.10" y2="592.73" stroke="#111" stroke-width="0.8" stroke-linecap="butt"/><line x1="833.50" y1="624.53" x2="835.10" y2="624.53" stroke="#111" stroke-width="0.8" stroke-linecap="butt"/><line x1="833.50" y1="590.88" x2="835.10" y2="590.88" stroke="#111" stroke-width="0.8" stroke-linecap="butt"/><line x1="833.50" y1="622.68" x2="835.10" y2="622.68" stroke="#111" stroke-width="0.8" stroke-linecap="butt"/><line x1="833.50" y1="589.26" x2="835.10" y2="589.26" stroke="#111" stroke-width="0.8" stroke-linecap="butt"/><line x1="833.50" y1="621.06" x2="835.10" y2="621.06" stroke="#111" stroke-width="0.8" stroke-linecap="butt"/><line x1="831.90" y1="587.40" x2="835.10" y2="587.40" stroke="#111" stroke-width="1.2" stroke-linecap="butt"/><text x="830.40" y="591.01" font-size="8.6" font-weight="bold" text-anchor="end" fill="#111">10<tspan font-size="5.85" dy="-3.61">3</tspan></text><line x1="833.50" y1="577.83" x2="835.10" y2="577.83" stroke="#111" stroke-width="0.8" stroke-linecap="butt"/><line x1="833.50" y1="609.63" x2="835.10" y2="609.63" stroke="#111" stroke-width="0.8" stroke-linecap="butt"/><line x1="833.50" y1="572.23" x2="835.10" y2="572.23" stroke="#111" stroke-width="0.8" stroke-linecap="butt"/><line x1="833.50" y1="604.03" x2="835.10" y2="604.03" stroke="#111" stroke-width="0.8" stroke-linecap="butt"/><line x1="833.50" y1="568.25" x2="835.10" y2="568.25" stroke="#111" stroke-width="0.8" stroke-linecap="butt"/><line x1="833.50" y1="600.05" x2="835.10" y2="600.05" stroke="#111" stroke-width="0.8" stroke-linecap="butt"/><line x1="833.50" y1="565.17" x2="835.10" y2="565.17" stroke="#111" stroke-width="0.8" stroke-linecap="butt"/><line x1="833.50" y1="596.97" x2="835.10" y2="596.97" stroke="#111" stroke-width="0.8" stroke-linecap="butt"/><line x1="833.50" y1="562.65" x2="835.10" y2="562.65" stroke="#111" stroke-width="0.8" stroke-linecap="butt"/><line x1="833.50" y1="594.45" x2="835.10" y2="594.45" stroke="#111" stroke-width="0.8" stroke-linecap="butt"/><line x1="833.50" y1="560.53" x2="835.10" y2="560.53" stroke="#111" stroke-width="0.8" stroke-linecap="butt"/><line x1="833.50" y1="592.33" x2="835.10" y2="592.33" stroke="#111" stroke-width="0.8" stroke-linecap="butt"/><line x1="833.50" y1="558.68" x2="835.10" y2="558.68" stroke="#111" stroke-width="0.8" stroke-linecap="butt"/><line x1="833.50" y1="590.48" x2="835.10" y2="590.48" stroke="#111" stroke-width="0.8" stroke-linecap="butt"/><line x1="833.50" y1="557.06" x2="835.10" y2="557.06" stroke="#111" stroke-width="0.8" stroke-linecap="butt"/><line x1="833.50" y1="588.86" x2="835.10" y2="588.86" stroke="#111" stroke-width="0.8" stroke-linecap="butt"/><line x1="831.90" y1="555.40" x2="835.10" y2="555.40" stroke="#111" stroke-width="1.2" stroke-linecap="butt"/><text x="830.40" y="559.01" font-size="8.6" font-weight="bold" text-anchor="end" fill="#111">10<tspan font-size="5.85" dy="-3.61">4</tspan></text><line x1="833.50" y1="577.63" x2="835.10" y2="577.63" stroke="#111" stroke-width="0.8" stroke-linecap="butt"/><line x1="833.50" y1="572.03" x2="835.10" y2="572.03" stroke="#111" stroke-width="0.8" stroke-linecap="butt"/><line x1="833.50" y1="568.05" x2="835.10" y2="568.05" stroke="#111" stroke-width="0.8" stroke-linecap="butt"/><line x1="833.50" y1="564.97" x2="835.10" y2="564.97" stroke="#111" stroke-width="0.8" stroke-linecap="butt"/><line x1="833.50" y1="562.45" x2="835.10" y2="562.45" stroke="#111" stroke-width="0.8" stroke-linecap="butt"/><line x1="833.50" y1="560.33" x2="835.10" y2="560.33" stroke="#111" stroke-width="0.8" stroke-linecap="butt"/><line x1="833.50" y1="558.48" x2="835.10" y2="558.48" stroke="#111" stroke-width="0.8" stroke-linecap="butt"/><line x1="833.50" y1="556.86" x2="835.10" y2="556.86" stroke="#111" stroke-width="0.8" stroke-linecap="butt"/><line x1="834.20" y1="661.10" x2="994.10" y2="661.10" stroke="#111" stroke-width="1.8" stroke-linecap="butt"/><text x="809.40" y="601.00" font-size="12.6" font-weight="bold" text-anchor="middle" fill="#111" transform="rotate(-90 809.40 601.00)">SBA titer (Log<tspan font-size="8.57" dy="2.52">10</tspan><tspan dy="-2.52">)</tspan></text><rect x="841.70" y="654.60" width="11.60" height="6.50" fill="none" stroke="#555" stroke-width="1.65"/><line x1="847.50" y1="661.10" x2="847.50" y2="664.50" stroke="#111" stroke-width="1.2" stroke-linecap="butt"/><circle cx="843.90" cy="654.60" r="1.2" fill="#fff" stroke="#555" stroke-width="0.7"/><circle cx="846.30" cy="654.60" r="1.2" fill="#fff" stroke="#555" stroke-width="0.7"/><circle cx="848.70" cy="654.60" r="1.2" fill="#fff" stroke="#555" stroke-width="0.7"/><circle cx="851.10" cy="654.60" r="1.2" fill="#fff" stroke="#555" stroke-width="0.7"/><rect x="864.00" y="598.80" width="11.60" height="62.30" fill="none" stroke="#d9a627" stroke-width="1.65"/><line x1="869.80" y1="661.10" x2="869.80" y2="664.50" stroke="#111" stroke-width="1.2" stroke-linecap="butt"/><line x1="869.80" y1="593.40" x2="869.80" y2="603.50" stroke="#d9a627" stroke-width="1.45" stroke-linecap="butt"/><line x1="866.20" y1="593.40" x2="873.40" y2="593.40" stroke="#d9a627" stroke-width="1.45" stroke-linecap="butt"/><line x1="866.20" y1="603.50" x2="873.40" y2="603.50" stroke="#d9a627" stroke-width="1.45" stroke-linecap="butt"/><polygon points="869.58,598.61 870.90,596.09 868.26,596.09" fill="#d9a627"/><polygon points="867.63,603.59 868.95,601.07 866.31,601.07" fill="#d9a627"/><polygon points="866.84,599.92 868.16,597.40 865.52,597.40" fill="#d9a627"/><polygon points="872.19,595.66 873.51,593.14 870.87,593.14" fill="#d9a627"/><polygon points="870.13,601.07 871.45,598.55 868.81,598.55" fill="#d9a627"/><rect x="886.60" y="559.50" width="11.60" height="101.60" fill="none" stroke="#a8302f" stroke-width="1.65"/><line x1="892.40" y1="661.10" x2="892.40" y2="664.50" stroke="#111" stroke-width="1.2" stroke-linecap="butt"/><line x1="892.40" y1="556.90" x2="892.40" y2="564.00" stroke="#a8302f" stroke-width="1.45" stroke-linecap="butt"/><line x1="888.80" y1="556.90" x2="896.00" y2="556.90" stroke="#a8302f" stroke-width="1.45" stroke-linecap="butt"/><line x1="888.80" y1="564.00" x2="896.00" y2="564.00" stroke="#a8302f" stroke-width="1.45" stroke-linecap="butt"/><rect x="888.45" y="558.39" width="2.4" height="2.4" fill="#a8302f"/><rect x="892.42" y="558.91" width="2.4" height="2.4" fill="#a8302f"/><rect x="892.55" y="556.82" width="2.4" height="2.4" fill="#a8302f"/><rect x="889.63" y="556.49" width="2.4" height="2.4" fill="#a8302f"/><rect x="891.24" y="562.26" width="2.4" height="2.4" fill="#a8302f"/><rect x="908.80" y="630.40" width="11.60" height="30.70" fill="none" stroke="#5cb8e6" stroke-width="1.65"/><line x1="914.60" y1="661.10" x2="914.60" y2="664.50" stroke="#111" stroke-width="1.2" stroke-linecap="butt"/><line x1="914.60" y1="626.10" x2="914.60" y2="634.20" stroke="#5cb8e6" stroke-width="1.45" stroke-linecap="butt"/><line x1="911.00" y1="626.10" x2="918.20" y2="626.10" stroke="#5cb8e6" stroke-width="1.45" stroke-linecap="butt"/><line x1="911.00" y1="634.20" x2="918.20" y2="634.20" stroke="#5cb8e6" stroke-width="1.45" stroke-linecap="butt"/><polygon points="915.14,630.81 916.46,632.37 915.14,633.93 913.82,632.37" fill="#5cb8e6"/><polygon points="913.90,630.58 915.22,632.14 913.90,633.70 912.58,632.14" fill="#5cb8e6"/><polygon points="912.21,626.90 913.53,628.46 912.21,630.02 910.89,628.46" fill="#5cb8e6"/><polygon points="915.65,630.42 916.97,631.98 915.65,633.54 914.33,631.98" fill="#5cb8e6"/><polygon points="914.13,625.25 915.45,626.81 914.13,628.37 912.81,626.81" fill="#5cb8e6"/><rect x="931.40" y="631.60" width="11.60" height="29.50" fill="none" stroke="#e0703a" stroke-width="1.65"/><line x1="937.20" y1="661.10" x2="937.20" y2="664.50" stroke="#111" stroke-width="1.2" stroke-linecap="butt"/><line x1="937.20" y1="626.70" x2="937.20" y2="636.40" stroke="#e0703a" stroke-width="1.45" stroke-linecap="butt"/><line x1="933.60" y1="626.70" x2="940.80" y2="626.70" stroke="#e0703a" stroke-width="1.45" stroke-linecap="butt"/><line x1="933.60" y1="636.40" x2="940.80" y2="636.40" stroke="#e0703a" stroke-width="1.45" stroke-linecap="butt"/><polygon points="935.80,627.30 937.12,629.82 934.48,629.82" fill="#e0703a"/><polygon points="935.89,633.11 937.21,635.63 934.57,635.63" fill="#e0703a"/><polygon points="935.40,633.86 936.72,636.38 934.08,636.38" fill="#e0703a"/><polygon points="939.48,625.79 940.80,628.31 938.16,628.31" fill="#e0703a"/><polygon points="936.47,630.03 937.79,632.55 935.15,632.55" fill="#e0703a"/><rect x="953.80" y="603.10" width="11.60" height="58.00" fill="none" stroke="#2ea36b" stroke-width="1.65"/><line x1="959.60" y1="661.10" x2="959.60" y2="664.50" stroke="#111" stroke-width="1.2" stroke-linecap="butt"/><line x1="959.60" y1="599.20" x2="959.60" y2="606.90" stroke="#2ea36b" stroke-width="1.45" stroke-linecap="butt"/><line x1="956.00" y1="599.20" x2="963.20" y2="599.20" stroke="#2ea36b" stroke-width="1.45" stroke-linecap="butt"/><line x1="956.00" y1="606.90" x2="963.20" y2="606.90" stroke="#2ea36b" stroke-width="1.45" stroke-linecap="butt"/><polygon points="956.74,603.91 958.06,601.39 955.42,601.39" fill="#2ea36b"/><polygon points="962.04,601.50 963.36,598.98 960.72,598.98" fill="#2ea36b"/><polygon points="960.18,601.57 961.50,599.05 958.86,599.05" fill="#2ea36b"/><polygon points="960.07,607.53 961.39,605.01 958.75,605.01" fill="#2ea36b"/><polygon points="957.82,600.70 959.14,598.18 956.50,598.18" fill="#2ea36b"/><rect x="976.50" y="603.70" width="11.60" height="57.40" fill="none" stroke="#8b2fa6" stroke-width="1.65"/><line x1="982.30" y1="661.10" x2="982.30" y2="664.50" stroke="#111" stroke-width="1.2" stroke-linecap="butt"/><line x1="982.30" y1="599.90" x2="982.30" y2="607.40" stroke="#8b2fa6" stroke-width="1.45" stroke-linecap="butt"/><line x1="978.70" y1="599.90" x2="985.90" y2="599.90" stroke="#8b2fa6" stroke-width="1.45" stroke-linecap="butt"/><line x1="978.70" y1="607.40" x2="985.90" y2="607.40" stroke="#8b2fa6" stroke-width="1.45" stroke-linecap="butt"/><polygon points="979.80,602.51 981.12,605.03 978.48,605.03" fill="#8b2fa6"/><polygon points="979.40,599.10 980.72,601.62 978.08,601.62" fill="#8b2fa6"/><polygon points="982.28,605.37 983.60,607.89 980.96,607.89" fill="#8b2fa6"/><polygon points="981.82,601.45 983.14,603.97 980.50,603.97" fill="#8b2fa6"/><polygon points="983.13,599.16 984.45,601.68 981.81,601.68" fill="#8b2fa6"/><line x1="868.40" y1="533.30" x2="981.20" y2="533.30" stroke="#111" stroke-width="1.4" stroke-linecap="butt"/><text x="924.80" y="530.10" font-size="8" font-weight="bold" text-anchor="middle" fill="#111">ns</text><line x1="868.40" y1="541.40" x2="936.70" y2="541.40" stroke="#111" stroke-width="1.4" stroke-linecap="butt"/><text x="902.55" y="540.10" font-size="9.5" font-weight="bold" text-anchor="middle" fill="#111">***</text><line x1="868.40" y1="550.90" x2="891.00" y2="550.90" stroke="#111" stroke-width="1.4" stroke-linecap="butt"/><text x="879.70" y="549.60" font-size="9.5" font-weight="bold" text-anchor="middle" fill="#111">****</text><line x1="914.20" y1="550.90" x2="936.70" y2="550.90" stroke="#111" stroke-width="1.4" stroke-linecap="butt"/><text x="925.45" y="547.70" font-size="8" font-weight="bold" text-anchor="middle" fill="#111">ns</text><line x1="959.70" y1="550.90" x2="981.20" y2="550.90" stroke="#111" stroke-width="1.4" stroke-linecap="butt"/><text x="970.45" y="547.70" font-size="8" font-weight="bold" text-anchor="middle" fill="#111">ns</text><text x="850.50" y="672.00" font-size="9.1" font-weight="bold" text-anchor="end" fill="#111" transform="rotate(-45 850.50 672.00)">PBS + FA</text><text x="872.80" y="672.00" font-size="9.1" font-weight="bold" text-anchor="end" fill="#111" transform="rotate(-45 872.80 672.00)">Hib vaccine</text><text x="895.40" y="672.00" font-size="9.1" font-weight="bold" text-anchor="end" fill="#111" transform="rotate(-45 895.40 672.00)">4-TT + FA</text><text x="917.60" y="672.00" font-size="9.1" font-weight="bold" text-anchor="end" fill="#111" transform="rotate(-45 917.60 672.00)">6-TT + FA</text><text x="940.20" y="672.00" font-size="9.1" font-weight="bold" text-anchor="end" fill="#111" transform="rotate(-45 940.20 672.00)">8-TT + FA</text><text x="962.60" y="672.00" font-size="9.1" font-weight="bold" text-anchor="end" fill="#111" transform="rotate(-45 962.60 672.00)">11-TT + FA</text><text x="985.30" y="672.00" font-size="9.1" font-weight="bold" text-anchor="end" fill="#111" transform="rotate(-45 985.30 672.00)">12-TT + FA</text></g>
<g id="panel5"><g transform="translate(10,775) scale(0.15625)" fill="none" stroke="#000" stroke-linecap="round" stroke-linejoin="round"><path d="M322,650 C250,670 175,640 135,580 C100,520 105,455 150,395 C200,335 265,295 330,268" stroke-width="30"/><path d="M322,650 C250,670 175,640 135,580 C100,520 105,455 150,395 C200,335 262,297 300,280" stroke="#fff" stroke-width="8"/><path d="M320,640 C315,600 325,550 360,500 C400,455 460,435 525,433 C580,436 620,455 650,482 C648,452 672,438 695,442 C722,452 726,482 714,503 C745,540 770,595 782,655 C778,672 762,678 740,674 C720,670 700,662 668,658 L650,690 C630,684 615,676 600,672 C580,668 560,668 545,672 L520,694 C490,690 470,684 440,680 C400,672 360,662 322,650" fill="#fff" stroke-width="12"/><path d="M482,650 L545,690 L540,712 L505,700 L490,716 L478,688 L462,684Z" fill="#000" stroke-width="4"/><path d="M655,655 L682,668 L672,698 L640,700 L622,684Z" fill="#000" stroke-width="4"/><circle cx="652" cy="588" r="15" fill="#555" stroke="#444" stroke-width="3"/></g><path d="M74.49,822.19 A17.2,17.2 0 1 0 65.78,815.22 L57.50,834.50Z" fill="#fff" stroke="#7d8186" stroke-width="1.63" stroke-linejoin="round"/><circle cx="71.28" cy="797.01" r="1.39" fill="#a9c4c6" stroke="#8593a3" stroke-width="0.2"/><circle cx="74.15" cy="799.08" r="1.39" fill="#a9c4c6" stroke="#8593a3" stroke-width="0.2"/><circle cx="70.82" cy="798.67" r="1.39" fill="#a9c4c6" stroke="#8593a3" stroke-width="0.2"/><circle cx="83.69" cy="795.90" r="1.39" fill="#a9c4c6" stroke="#8593a3" stroke-width="0.2"/><circle cx="83.62" cy="797.34" r="1.39" fill="#a9c4c6" stroke="#8593a3" stroke-width="0.2"/><circle cx="80.51" cy="795.58" r="1.39" fill="#a9c4c6" stroke="#8593a3" stroke-width="0.2"/><circle cx="90.66" cy="802.02" r="1.39" fill="#a9c4c6" stroke="#8593a3" stroke-width="0.2"/><circle cx="89.45" cy="800.00" r="1.39" fill="#a9c4c6" stroke="#8593a3" stroke-width="0.2"/><circle cx="87.53" cy="800.55" r="1.39" fill="#a9c4c6" stroke="#8593a3" stroke-width="0.2"/><circle cx="69.78" cy="805.42" r="1.39" fill="#a9c4c6" stroke="#8593a3" stroke-width="0.2"/><circle cx="71.01" cy="808.64" r="1.39" fill="#a9c4c6" stroke="#8593a3" stroke-width="0.2"/><circle cx="71.19" cy="805.11" r="1.39" fill="#a9c4c6" stroke="#8593a3" stroke-width="0.2"/><circle cx="77.69" cy="805.49" r="1.39" fill="#a9c4c6" stroke="#8593a3" stroke-width="0.2"/><circle cx="77.88" cy="804.27" r="1.39" fill="#a9c4c6" stroke="#8593a3" stroke-width="0.2"/><circle cx="79.86" cy="806.88" r="1.39" fill="#a9c4c6" stroke="#8593a3" stroke-width="0.2"/><circle cx="86.44" cy="808.64" r="1.39" fill="#a9c4c6" stroke="#8593a3" stroke-width="0.2"/><circle cx="87.01" cy="810.90" r="1.39" fill="#a9c4c6" stroke="#8593a3" stroke-width="0.2"/><circle cx="89.38" cy="808.26" r="1.39" fill="#a9c4c6" stroke="#8593a3" stroke-width="0.2"/><circle cx="74.81" cy="815.50" r="1.39" fill="#a9c4c6" stroke="#8593a3" stroke-width="0.2"/><circle cx="75.14" cy="815.53" r="1.39" fill="#a9c4c6" stroke="#8593a3" stroke-width="0.2"/><circle cx="73.50" cy="814.46" r="1.39" fill="#a9c4c6" stroke="#8593a3" stroke-width="0.2"/><circle cx="84.70" cy="816.11" r="1.39" fill="#a9c4c6" stroke="#8593a3" stroke-width="0.2"/><circle cx="84.96" cy="815.91" r="1.39" fill="#a9c4c6" stroke="#8593a3" stroke-width="0.2"/><circle cx="84.37" cy="812.93" r="1.39" fill="#a9c4c6" stroke="#8593a3" stroke-width="0.2"/><g transform="translate(31.90,799.20) rotate(58.68)"><rect x="0.00" y="-2.47" width="1.38" height="4.94" fill="#bfc2c4" stroke="#8d9296" stroke-width="0.35"/><rect x="1.38" y="-0.64" width="15.77" height="1.29" fill="#cfd2d4" stroke="#8d9296" stroke-width="0.35"/><rect x="19.30" y="-2.15" width="10.11" height="4.30" fill="#e3e5e6" stroke="#8d9296" stroke-width="0.35"/><rect x="16.85" y="-4.08" width="2.45" height="8.17" fill="#b4b7ba" stroke="#8d9296" stroke-width="0.35"/><rect x="29.40" y="-2.15" width="3.37" height="4.30" fill="#3c3f42" stroke="#3c3f42" stroke-width="0.35"/><rect x="32.77" y="-2.15" width="18.07" height="4.30" fill="#a9d6ca" stroke="#7fa39b" stroke-width="0.35"/><polygon points="50.84,-2.15 52.99,-0.77 52.99,0.77 50.84,2.15" fill="#b9c9c5" stroke="#8d9296" stroke-width="0.3"/><line x1="52.99" y1="0" x2="63.10" y2="0" stroke="#8a8f94" stroke-width="0.56"/></g><line x1="185.00" y1="783.10" x2="185.00" y2="891.40" stroke="#111" stroke-width="1.8" stroke-linecap="butt"/><line x1="184.25" y1="890.50" x2="453.80" y2="890.50" stroke="#111" stroke-width="1.8" stroke-linecap="butt"/><line x1="181.80" y1="890.50" x2="185.00" y2="890.50" stroke="#111" stroke-width="1.2" stroke-linecap="butt"/><text x="181.20" y="893.70" font-size="8.9" font-weight="bold" text-anchor="end" fill="#111">0</text><line x1="181.80" y1="872.70" x2="185.00" y2="872.70" stroke="#111" stroke-width="1.2" stroke-linecap="butt"/><text x="181.20" y="875.90" font-size="8.9" font-weight="bold" text-anchor="end" fill="#111">1</text><line x1="181.80" y1="854.90" x2="185.00" y2="854.90" stroke="#111" stroke-width="1.2" stroke-linecap="butt"/><text x="181.20" y="858.10" font-size="8.9" font-weight="bold" text-anchor="end" fill="#111">2</text><line x1="181.80" y1="837.10" x2="185.00" y2="837.10" stroke="#111" stroke-width="1.2" stroke-linecap="butt"/><text x="181.20" y="840.30" font-size="8.9" font-weight="bold" text-anchor="end" fill="#111">3</text><line x1="181.80" y1="819.30" x2="185.00" y2="819.30" stroke="#111" stroke-width="1.2" stroke-linecap="butt"/><text x="181.20" y="822.50" font-size="8.9" font-weight="bold" text-anchor="end" fill="#111">4</text><line x1="181.80" y1="801.50" x2="185.00" y2="801.50" stroke="#111" stroke-width="1.2" stroke-linecap="butt"/><text x="181.20" y="804.70" font-size="8.9" font-weight="bold" text-anchor="end" fill="#111">5</text><line x1="181.80" y1="783.70" x2="185.00" y2="783.70" stroke="#111" stroke-width="1.2" stroke-linecap="butt"/><text x="181.20" y="786.90" font-size="8.9" font-weight="bold" text-anchor="end" fill="#111">6</text><text x="171.00" y="834.00" font-size="13.8" font-weight="bold" text-anchor="middle" fill="#111" transform="rotate(-90 171.00 834.00)">P/N</text><line x1="210.00" y1="890.50" x2="210.00" y2="893.90" stroke="#111" stroke-width="1.2" stroke-linecap="butt"/><text x="210.00" y="903.40" font-size="9.2" font-weight="bold" text-anchor="middle" fill="#111">IgM</text><rect x="191.15" y="863.80" width="7.90" height="26.70" fill="none" stroke="#ef8e7c" stroke-width="1.35"/><line x1="195.10" y1="861.66" x2="195.10" y2="865.94" stroke="#ef8e7c" stroke-width="1.1" stroke-linecap="butt"/><line x1="192.10" y1="861.66" x2="198.10" y2="861.66" stroke="#ef8e7c" stroke-width="1.1" stroke-linecap="butt"/><line x1="192.10" y1="865.94" x2="198.10" y2="865.94" stroke="#ef8e7c" stroke-width="1.1" stroke-linecap="butt"/><circle cx="193.78" cy="865.66" r="0.9" fill="#ef8e7c"/><circle cx="194.58" cy="865.42" r="0.9" fill="#ef8e7c"/><circle cx="192.93" cy="864.26" r="0.9" fill="#ef8e7c"/><circle cx="197.19" cy="862.39" r="0.9" fill="#ef8e7c"/><circle cx="196.43" cy="865.11" r="0.9" fill="#ef8e7c"/><rect x="206.05" y="862.91" width="7.90" height="27.59" fill="none" stroke="#45a0a8" stroke-width="1.35"/><line x1="210.00" y1="861.13" x2="210.00" y2="864.69" stroke="#45a0a8" stroke-width="1.1" stroke-linecap="butt"/><line x1="207.00" y1="861.13" x2="213.00" y2="861.13" stroke="#45a0a8" stroke-width="1.1" stroke-linecap="butt"/><line x1="207.00" y1="864.69" x2="213.00" y2="864.69" stroke="#45a0a8" stroke-width="1.1" stroke-linecap="butt"/><polygon points="210.18,862.61 211.17,863.78 210.18,864.95 209.19,863.78" fill="#45a0a8"/><polygon points="208.36,863.28 209.35,864.45 208.36,865.62 207.37,864.45" fill="#45a0a8"/><polygon points="208.57,860.07 209.56,861.24 208.57,862.41 207.58,861.24" fill="#45a0a8"/><polygon points="211.64,860.54 212.63,861.71 211.64,862.88 210.65,861.71" fill="#45a0a8"/><polygon points="211.50,862.94 212.49,864.11 211.50,865.28 210.51,864.11" fill="#45a0a8"/><rect x="220.95" y="864.16" width="7.90" height="26.34" fill="none" stroke="#af5fb3" stroke-width="1.35"/><line x1="224.90" y1="862.02" x2="224.90" y2="866.29" stroke="#af5fb3" stroke-width="1.1" stroke-linecap="butt"/><line x1="221.90" y1="862.02" x2="227.90" y2="862.02" stroke="#af5fb3" stroke-width="1.1" stroke-linecap="butt"/><line x1="221.90" y1="866.29" x2="227.90" y2="866.29" stroke="#af5fb3" stroke-width="1.1" stroke-linecap="butt"/><polygon points="223.95,862.48 224.94,864.37 222.96,864.37" fill="#af5fb3"/><polygon points="226.06,861.41 227.05,863.30 225.07,863.30" fill="#af5fb3"/><polygon points="226.80,865.02 227.79,866.91 225.81,866.91" fill="#af5fb3"/><polygon points="225.43,862.27 226.42,864.16 224.44,864.16" fill="#af5fb3"/><polygon points="224.93,864.59 225.92,866.48 223.94,866.48" fill="#af5fb3"/><line x1="264.70" y1="890.50" x2="264.70" y2="893.90" stroke="#111" stroke-width="1.2" stroke-linecap="butt"/><text x="264.70" y="903.40" font-size="9.2" font-weight="bold" text-anchor="middle" fill="#111">IgG1</text><rect x="245.85" y="843.33" width="7.90" height="47.17" fill="none" stroke="#ef8e7c" stroke-width="1.35"/><line x1="249.80" y1="836.21" x2="249.80" y2="850.45" stroke="#ef8e7c" stroke-width="1.1" stroke-linecap="butt"/><line x1="246.80" y1="836.21" x2="252.80" y2="836.21" stroke="#ef8e7c" stroke-width="1.1" stroke-linecap="butt"/><line x1="246.80" y1="850.45" x2="252.80" y2="850.45" stroke="#ef8e7c" stroke-width="1.1" stroke-linecap="butt"/><circle cx="249.67" cy="849.76" r="0.9" fill="#ef8e7c"/><circle cx="251.97" cy="837.61" r="0.9" fill="#ef8e7c"/><circle cx="250.04" cy="846.46" r="0.9" fill="#ef8e7c"/><circle cx="251.84" cy="842.20" r="0.9" fill="#ef8e7c"/><circle cx="251.71" cy="837.88" r="0.9" fill="#ef8e7c"/><rect x="260.75" y="813.43" width="7.90" height="77.07" fill="none" stroke="#45a0a8" stroke-width="1.35"/><line x1="264.70" y1="799.19" x2="264.70" y2="827.67" stroke="#45a0a8" stroke-width="1.1" stroke-linecap="butt"/><line x1="261.70" y1="799.19" x2="267.70" y2="799.19" stroke="#45a0a8" stroke-width="1.1" stroke-linecap="butt"/><line x1="261.70" y1="827.67" x2="267.70" y2="827.67" stroke="#45a0a8" stroke-width="1.1" stroke-linecap="butt"/><polygon points="264.74,814.95 265.73,816.12 264.74,817.29 263.75,816.12" fill="#45a0a8"/><polygon points="265.19,814.42 266.18,815.59 265.19,816.76 264.20,815.59" fill="#45a0a8"/><polygon points="263.01,818.36 264.00,819.53 263.01,820.70 262.02,819.53" fill="#45a0a8"/><polygon points="266.26,826.57 267.25,827.74 266.26,828.91 265.27,827.74" fill="#45a0a8"/><polygon points="262.43,808.30 263.42,809.47 262.43,810.64 261.44,809.47" fill="#45a0a8"/><rect x="275.65" y="841.19" width="7.90" height="49.31" fill="none" stroke="#af5fb3" stroke-width="1.35"/><line x1="279.60" y1="829.09" x2="279.60" y2="853.30" stroke="#af5fb3" stroke-width="1.1" stroke-linecap="butt"/><line x1="276.60" y1="829.09" x2="282.60" y2="829.09" stroke="#af5fb3" stroke-width="1.1" stroke-linecap="butt"/><line x1="276.60" y1="853.30" x2="282.60" y2="853.30" stroke="#af5fb3" stroke-width="1.1" stroke-linecap="butt"/><polygon points="278.50,839.19 279.49,841.08 277.51,841.08" fill="#af5fb3"/><polygon points="279.46,844.30 280.45,846.19 278.47,846.19" fill="#af5fb3"/><polygon points="282.09,848.22 283.08,850.11 281.10,850.11" fill="#af5fb3"/><polygon points="279.16,848.03 280.15,849.92 278.17,849.92" fill="#af5fb3"/><polygon points="280.26,846.07 281.25,847.96 279.27,847.96" fill="#af5fb3"/><line x1="319.20" y1="890.50" x2="319.20" y2="893.90" stroke="#111" stroke-width="1.2" stroke-linecap="butt"/><text x="319.20" y="903.40" font-size="9.2" font-weight="bold" text-anchor="middle" fill="#111">IgG2a</text><rect x="300.35" y="871.81" width="7.90" height="18.69" fill="none" stroke="#ef8e7c" stroke-width="1.35"/><line x1="304.30" y1="870.74" x2="304.30" y2="872.88" stroke="#ef8e7c" stroke-width="1.1" stroke-linecap="butt"/><line x1="301.30" y1="870.74" x2="307.30" y2="870.74" stroke="#ef8e7c" stroke-width="1.1" stroke-linecap="butt"/><line x1="301.30" y1="872.88" x2="307.30" y2="872.88" stroke="#ef8e7c" stroke-width="1.1" stroke-linecap="butt"/><circle cx="303.58" cy="871.23" r="0.9" fill="#ef8e7c"/><circle cx="303.40" cy="871.67" r="0.9" fill="#ef8e7c"/><circle cx="306.32" cy="872.75" r="0.9" fill="#ef8e7c"/><circle cx="302.11" cy="872.45" r="0.9" fill="#ef8e7c"/><circle cx="305.63" cy="871.54" r="0.9" fill="#ef8e7c"/><rect x="315.25" y="870.56" width="7.90" height="19.94" fill="none" stroke="#45a0a8" stroke-width="1.35"/><line x1="319.20" y1="868.07" x2="319.20" y2="873.06" stroke="#45a0a8" stroke-width="1.1" stroke-linecap="butt"/><line x1="316.20" y1="868.07" x2="322.20" y2="868.07" stroke="#45a0a8" stroke-width="1.1" stroke-linecap="butt"/><line x1="316.20" y1="873.06" x2="322.20" y2="873.06" stroke="#45a0a8" stroke-width="1.1" stroke-linecap="butt"/><polygon points="317.89,870.32 318.88,871.49 317.89,872.66 316.90,871.49" fill="#45a0a8"/><polygon points="317.59,869.62 318.58,870.79 317.59,871.96 316.60,870.79" fill="#45a0a8"/><polygon points="316.91,868.31 317.90,869.48 316.91,870.65 315.92,869.48" fill="#45a0a8"/><polygon points="321.18,866.90 322.17,868.07 321.18,869.24 320.19,868.07" fill="#45a0a8"/><polygon points="320.37,866.87 321.36,868.04 320.37,869.21 319.38,868.04" fill="#45a0a8"/><rect x="330.15" y="872.70" width="7.90" height="17.80" fill="none" stroke="#af5fb3" stroke-width="1.35"/><line x1="334.10" y1="870.56" x2="334.10" y2="874.84" stroke="#af5fb3" stroke-width="1.1" stroke-linecap="butt"/><line x1="331.10" y1="870.56" x2="337.10" y2="870.56" stroke="#af5fb3" stroke-width="1.1" stroke-linecap="butt"/><line x1="331.10" y1="874.84" x2="337.10" y2="874.84" stroke="#af5fb3" stroke-width="1.1" stroke-linecap="butt"/><polygon points="331.69,872.61 332.68,874.50 330.70,874.50" fill="#af5fb3"/><polygon points="336.43,870.33 337.42,872.22 335.44,872.22" fill="#af5fb3"/><polygon points="333.65,869.54 334.64,871.43 332.66,871.43" fill="#af5fb3"/><polygon points="334.70,870.13 335.69,872.02 333.71,872.02" fill="#af5fb3"/><polygon points="333.07,873.07 334.06,874.96 332.08,874.96" fill="#af5fb3"/><line x1="373.40" y1="890.50" x2="373.40" y2="893.90" stroke="#111" stroke-width="1.2" stroke-linecap="butt"/><text x="373.40" y="903.40" font-size="9.2" font-weight="bold" text-anchor="middle" fill="#111">IgG2b</text><rect x="354.55" y="852.23" width="7.90" height="38.27" fill="none" stroke="#ef8e7c" stroke-width="1.35"/><line x1="358.50" y1="850.81" x2="358.50" y2="853.65" stroke="#ef8e7c" stroke-width="1.1" stroke-linecap="butt"/><line x1="355.50" y1="850.81" x2="361.50" y2="850.81" stroke="#ef8e7c" stroke-width="1.1" stroke-linecap="butt"/><line x1="355.50" y1="853.65" x2="361.50" y2="853.65" stroke="#ef8e7c" stroke-width="1.1" stroke-linecap="butt"/><circle cx="358.22" cy="853.37" r="0.9" fill="#ef8e7c"/><circle cx="357.91" cy="850.78" r="0.9" fill="#ef8e7c"/><circle cx="357.66" cy="853.77" r="0.9" fill="#ef8e7c"/><circle cx="356.22" cy="853.27" r="0.9" fill="#ef8e7c"/><circle cx="359.92" cy="852.66" r="0.9" fill="#ef8e7c"/><rect x="369.45" y="855.26" width="7.90" height="35.24" fill="none" stroke="#45a0a8" stroke-width="1.35"/><line x1="373.40" y1="853.12" x2="373.40" y2="857.39" stroke="#45a0a8" stroke-width="1.1" stroke-linecap="butt"/><line x1="370.40" y1="853.12" x2="376.40" y2="853.12" stroke="#45a0a8" stroke-width="1.1" stroke-linecap="butt"/><line x1="370.40" y1="857.39" x2="376.40" y2="857.39" stroke="#45a0a8" stroke-width="1.1" stroke-linecap="butt"/><polygon points="372.35,855.98 373.34,857.15 372.35,858.32 371.36,857.15" fill="#45a0a8"/><polygon points="375.81,854.44 376.80,855.61 375.81,856.78 374.82,855.61" fill="#45a0a8"/><polygon points="371.94,856.16 372.93,857.33 371.94,858.50 370.95,857.33" fill="#45a0a8"/><polygon points="371.18,855.64 372.17,856.81 371.18,857.98 370.19,856.81" fill="#45a0a8"/><polygon points="374.28,855.73 375.27,856.90 374.28,858.07 373.29,856.90" fill="#45a0a8"/><rect x="384.35" y="858.10" width="7.90" height="32.40" fill="none" stroke="#af5fb3" stroke-width="1.35"/><line x1="388.30" y1="855.26" x2="388.30" y2="860.95" stroke="#af5fb3" stroke-width="1.1" stroke-linecap="butt"/><line x1="385.30" y1="855.26" x2="391.30" y2="855.26" stroke="#af5fb3" stroke-width="1.1" stroke-linecap="butt"/><line x1="385.30" y1="860.95" x2="391.30" y2="860.95" stroke="#af5fb3" stroke-width="1.1" stroke-linecap="butt"/><polygon points="386.00,857.08 386.99,858.97 385.01,858.97" fill="#af5fb3"/><polygon points="387.05,853.91 388.04,855.80 386.06,855.80" fill="#af5fb3"/><polygon points="386.41,856.84 387.40,858.73 385.42,858.73" fill="#af5fb3"/><polygon points="389.67,857.59 390.66,859.48 388.68,859.48" fill="#af5fb3"/><polygon points="390.74,857.16 391.73,859.05 389.75,859.05" fill="#af5fb3"/><line x1="427.40" y1="890.50" x2="427.40" y2="893.90" stroke="#111" stroke-width="1.2" stroke-linecap="butt"/><text x="427.40" y="903.40" font-size="9.2" font-weight="bold" text-anchor="middle" fill="#111">IgG3</text><rect x="408.55" y="858.82" width="7.90" height="31.68" fill="none" stroke="#ef8e7c" stroke-width="1.35"/><line x1="412.50" y1="851.70" x2="412.50" y2="865.94" stroke="#ef8e7c" stroke-width="1.1" stroke-linecap="butt"/><line x1="409.50" y1="851.70" x2="415.50" y2="851.70" stroke="#ef8e7c" stroke-width="1.1" stroke-linecap="butt"/><line x1="409.50" y1="865.94" x2="415.50" y2="865.94" stroke="#ef8e7c" stroke-width="1.1" stroke-linecap="butt"/><circle cx="411.21" cy="860.22" r="0.9" fill="#ef8e7c"/><circle cx="410.18" cy="860.05" r="0.9" fill="#ef8e7c"/><circle cx="411.24" cy="852.72" r="0.9" fill="#ef8e7c"/><circle cx="414.16" cy="858.84" r="0.9" fill="#ef8e7c"/><circle cx="410.16" cy="862.66" r="0.9" fill="#ef8e7c"/><rect x="423.45" y="853.12" width="7.90" height="37.38" fill="none" stroke="#45a0a8" stroke-width="1.35"/><line x1="427.40" y1="844.22" x2="427.40" y2="862.02" stroke="#45a0a8" stroke-width="1.1" stroke-linecap="butt"/><line x1="424.40" y1="844.22" x2="430.40" y2="844.22" stroke="#45a0a8" stroke-width="1.1" stroke-linecap="butt"/><line x1="424.40" y1="862.02" x2="430.40" y2="862.02" stroke="#45a0a8" stroke-width="1.1" stroke-linecap="butt"/><polygon points="426.11,857.67 427.10,858.84 426.11,860.01 425.12,858.84" fill="#45a0a8"/><polygon points="426.06,844.71 427.05,845.88 426.06,847.05 425.07,845.88" fill="#45a0a8"/><polygon points="425.61,860.74 426.60,861.91 425.61,863.08 424.62,861.91" fill="#45a0a8"/><polygon points="429.54,850.67 430.53,851.84 429.54,853.01 428.55,851.84" fill="#45a0a8"/><polygon points="429.85,853.85 430.84,855.02 429.85,856.19 428.86,855.02" fill="#45a0a8"/><rect x="438.35" y="854.01" width="7.90" height="36.49" fill="none" stroke="#af5fb3" stroke-width="1.35"/><line x1="442.30" y1="847.78" x2="442.30" y2="860.24" stroke="#af5fb3" stroke-width="1.1" stroke-linecap="butt"/><line x1="439.30" y1="847.78" x2="445.30" y2="847.78" stroke="#af5fb3" stroke-width="1.1" stroke-linecap="butt"/><line x1="439.30" y1="860.24" x2="445.30" y2="860.24" stroke="#af5fb3" stroke-width="1.1" stroke-linecap="butt"/><polygon points="444.30,850.82 445.29,852.71 443.31,852.71" fill="#af5fb3"/><polygon points="443.75,849.58 444.74,851.47 442.76,851.47" fill="#af5fb3"/><polygon points="442.27,858.51 443.26,860.40 441.28,860.40" fill="#af5fb3"/><polygon points="440.85,847.81 441.84,849.70 439.86,849.70" fill="#af5fb3"/><polygon points="444.30,847.11 445.29,849.00 443.31,849.00" fill="#af5fb3"/><line x1="365.00" y1="783.10" x2="387.50" y2="783.10" stroke="#ef8e7c" stroke-width="1.5" stroke-linecap="butt"/><circle cx="376.20" cy="783.10" r="1.9" fill="#ef8e7c"/><text x="393.00" y="786.50" font-size="9.6" font-weight="bold" text-anchor="start" fill="#111">4-TT</text><line x1="365.00" y1="795.00" x2="387.50" y2="795.00" stroke="#45a0a8" stroke-width="1.5" stroke-linecap="butt"/><polygon points="376.20,792.53 378.29,795.00 376.20,797.47 374.11,795.00" fill="#45a0a8"/><text x="393.00" y="798.40" font-size="9.6" font-weight="bold" text-anchor="start" fill="#111">4-TT + Alum</text><line x1="365.00" y1="806.90" x2="387.50" y2="806.90" stroke="#af5fb3" stroke-width="1.5" stroke-linecap="butt"/><polygon points="376.20,804.62 378.29,808.61 374.11,808.61" fill="#af5fb3"/><text x="393.00" y="810.30" font-size="9.6" font-weight="bold" text-anchor="start" fill="#111">Hib vaccine</text><defs><filter id="fb0" x="-30%" y="-30%" width="160%" height="160%"><feGaussianBlur stdDeviation="0.6"/></filter><filter id="fb1" x="-30%" y="-30%" width="160%" height="160%"><feGaussianBlur stdDeviation="1.0"/></filter><filter id="fb2" x="-30%" y="-30%" width="160%" height="160%"><feGaussianBlur stdDeviation="1.8"/></filter><filter id="fb3" x="-30%" y="-30%" width="160%" height="160%"><feGaussianBlur stdDeviation="2.8"/></filter><filter id="fb5" x="-30%" y="-30%" width="160%" height="160%"><feGaussianBlur stdDeviation="4.5"/></filter></defs><clipPath id="fc1"><rect x="22.4" y="949.5" width="99.4" height="99.4"/></clipPath><rect x="22.4" y="949.5" width="99.4" height="99.4" fill="#fff"/><g clip-path="url(#fc1)"><g filter="url(#fb5)"><ellipse cx="62" cy="1012" rx="40" ry="28" fill="#6f7fe6" opacity="0.55" transform="rotate(-20 62 1012)"/><ellipse cx="100" cy="1000" rx="24" ry="40" fill="#6f7fe6" opacity="0.4" transform="rotate(0 100 1000)"/><ellipse cx="104" cy="970" rx="20" ry="5" fill="#6f7fe6" opacity="0.45" transform="rotate(0 104 970)"/><ellipse cx="70" cy="985" rx="18" ry="22" fill="#6f7fe6" opacity="0.3" transform="rotate(0 70 985)"/><ellipse cx="80" cy="1035" rx="14" ry="16" fill="#6f7fe6" opacity="0.35" transform="rotate(0 80 1035)"/></g><g filter="url(#fb3)" opacity="0.75"><ellipse cx="67" cy="1009" rx="25.0" ry="19.0" fill="#3f5fe0" transform="rotate(-35 67 1009)"/><ellipse cx="85.5" cy="970.2" rx="11.0" ry="9.5" fill="#3f5fe0" transform="rotate(-20 85.5 970.2)"/><ellipse cx="85.5" cy="970.2" rx="5.0" ry="4.0" fill="#3f5fe0" transform="rotate(-20 85.5 970.2)"/><ellipse cx="82.4" cy="1018" rx="5.4" ry="15.0" fill="#3f5fe0" transform="rotate(0 82.4 1018)"/><ellipse cx="74" cy="972" rx="7.0" ry="5.0" fill="#3f5fe0" transform="rotate(0 74 972)"/></g><g filter="url(#fb2)" opacity="0.95"><ellipse cx="67" cy="1009" rx="17.0" ry="12.9" fill="#2fb4dc" transform="rotate(-35 67 1009)"/><ellipse cx="85.5" cy="970.2" rx="7.5" ry="6.5" fill="#2fb4dc" transform="rotate(-20 85.5 970.2)"/><ellipse cx="85.5" cy="970.2" rx="3.4" ry="2.7" fill="#2fb4dc" transform="rotate(-20 85.5 970.2)"/><ellipse cx="82.4" cy="1018" rx="3.7" ry="10.2" fill="#2fb4dc" transform="rotate(0 82.4 1018)"/></g><g filter="url(#fb1)" opacity="0.95"><ellipse cx="67" cy="1009" rx="12.0" ry="9.1" fill="#3ccf62" transform="rotate(-35 67 1009)"/><ellipse cx="85.5" cy="970.2" rx="5.3" ry="4.6" fill="#3ccf62" transform="rotate(-20 85.5 970.2)"/><ellipse cx="85.5" cy="970.2" rx="2.4" ry="1.9" fill="#3ccf62" transform="rotate(-20 85.5 970.2)"/><ellipse cx="82.4" cy="1018" rx="2.6" ry="7.2" fill="#3ccf62" transform="rotate(0 82.4 1018)"/></g><g filter="url(#fb1)" opacity="0.95"><ellipse cx="67" cy="1009" rx="7.0" ry="5.3" fill="#d8e234" transform="rotate(-35 67 1009)"/><ellipse cx="85.5" cy="970.2" rx="3.1" ry="2.7" fill="#d8e234" transform="rotate(-20 85.5 970.2)"/><ellipse cx="85.5" cy="970.2" rx="1.4" ry="1.1" fill="#d8e234" transform="rotate(-20 85.5 970.2)"/></g><g filter="url(#fb0)" opacity="0.95"><ellipse cx="67" cy="1009" rx="4.0" ry="3.0" fill="#f6a21f" transform="rotate(-35 67 1009)"/><ellipse cx="85.5" cy="970.2" rx="1.8" ry="1.5" fill="#f6a21f" transform="rotate(-20 85.5 970.2)"/><ellipse cx="85.5" cy="970.2" rx="0.8" ry="0.6" fill="#f6a21f" transform="rotate(-20 85.5 970.2)"/></g><g filter="url(#fb0)" opacity="0.95"><ellipse cx="85.5" cy="970.2" rx="0.9" ry="0.8" fill="#e8281c" transform="rotate(-20 85.5 970.2)"/><ellipse cx="85.5" cy="970.2" rx="0.4" ry="0.3" fill="#e8281c" transform="rotate(-20 85.5 970.2)"/></g><path d="M55.5 990.9h.7M83.4 970.6h.7M85.3 1012.3h.7M66.6 1016.7h.7M51.5 1005.6h.7M114.0 1009.9h.7M86.8 1036.4h.7M85.8 1004.3h.7M89.8 1030.0h.7M105.0 1019.4h.7M68.6 1001.3h.7M86.6 1017.6h.7M50.2 972.4h.7M28.9 1016.4h.7M103.0 996.5h.7M88.4 1026.3h.7M85.8 1011.5h.7M92.5 1026.1h.7M27.1 1030.3h.7M99.9 986.6h.7M79.1 992.4h.7M74.9 1025.0h.7M36.5 1043.3h.7M71.9 1015.6h.7M102.3 967.2h.7M56.6 954.4h.7M91.4 1018.8h.7M102.8 972.3h.7M102.4 966.5h.7M110.2 972.0h.7M55.3 1016.7h.7M43.5 1041.2h.7M54.3 1016.3h.7M89.6 1007.0h.7M79.5 987.0h.7M108.1 963.1h.7M81.1 1020.4h.7M93.8 975.6h.7M66.3 1009.7h.7M72.9 984.0h.7M80.7 965.1h.7M99.3 1031.5h.7M65.7 1026.4h.7M69.8 1014.0h.7M120.4 1045.4h.7M113.9 1028.1h.7M51.9 1012.4h.7M73.9 1026.3h.7M65.9 983.5h.7M87.0 965.3h.7M115.6 971.2h.7M67.1 1002.1h.7M69.6 1009.7h.7M85.2 1016.1h.7M79.6 1004.2h.7M62.9 985.7h.7M46.8 1000.7h.7M81.8 982.2h.7M52.3 981.7h.7M87.7 971.7h.7M72.9 1014.9h.7M101.0 966.6h.7M84.2 1002.2h.7M100.8 1013.1h.7M100.5 1045.6h.7M97.5 966.6h.7M48.6 1024.2h.7M106.6 1002.5h.7M74.6 1007.1h.7M61.2 1013.4h.7M56.4 957.4h.7M65.7 974.0h.7M30.0 1040.9h.7M59.4 1024.8h.7M81.5 1028.1h.7M50.4 1048.3h.7M63.5 986.8h.7M50.4 1022.2h.7M46.9 993.2h.7M82.8 1007.7h.7M72.5 1004.4h.7M75.9 1005.5h.7M31.5 1038.2h.7M79.6 1018.9h.7M75.0 1026.0h.7M83.3 977.3h.7M86.4 987.2h.7M41.8 996.4h.7M91.0 1013.0h.7M58.0 1028.4h.7M46.2 1034.7h.7M107.5 966.6h.7M73.8 1027.0h.7M58.9 1008.8h.7M54.2 1009.8h.7M100.2 1022.8h.7M86.9 984.9h.7M94.2 973.7h.7M57.7 1033.5h.7M63.1 1031.9h.7M95.5 989.8h.7M71.1 1013.6h.7M90.2 970.7h.7M102.7 1034.5h.7M79.4 1026.7h.7M64.4 984.0h.7M100.9 972.1h.7M38.5 1007.4h.7M60.1 993.9h.7M87.5 988.6h.7M47.8 1022.4h.7M84.2 973.7h.7M78.5 1027.8h.7M94.3 1021.7h.7M49.5 1029.7h.7M100.8 967.5h.7M88.5 1003.6h.7M104.2 962.9h.7M48.5 1033.8h.7M108.7 1034.2h.7M95.2 972.6h.7M42.7 1021.8h.7M59.0 1002.5h.7M87.9 1003.5h.7M42.8 1029.5h.7M40.6 1022.5h.7M70.2 961.8h.7M48.4 1018.6h.7M98.1 1037.1h.7M108.5 964.8h.7M83.6 984.4h.7M95.5 1012.6h.7M50.6 963.2h.7M70.6 1037.8h.7M95.3 971.1h.7M76.9 995.3h.7M82.7 1028.4h.7M88.8 956.2h.7M62.5 993.6h.7M108.6 962.2h.7M90.2 984.5h.7M55.9 1033.2h.7M73.7 1001.0h.7M67.2 995.8h.7M34.4 1012.4h.7M59.0 998.7h.7M92.9 1017.6h.7M94.9 1020.8h.7M82.3 1015.6h.7M31.0 1042.2h.7M90.2 1022.9h.7M59.8 971.7h.7M52.3 998.2h.7M43.4 1001.0h.7M54.0 1012.6h.7M94.2 974.2h.7M78.3 1015.1h.7M38.4 990.2h.7M84.9 1024.8h.7M38.0 1027.2h.7M58.3 993.1h.7M67.3 1033.6h.7M73.5 1032.1h.7M79.5 970.2h.7M60.3 1025.2h.7M28.7 1046.4h.7M23.9 1012.3h.7M62.2 980.1h.7M109.4 1044.9h.7M66.7 965.7h.7M50.0 1031.9h.7M77.9 1034.9h.7M64.0 1018.8h.7M74.9 986.2h.7M62.5 1019.3h.7M89.1 1011.7h.7M79.9 999.4h.7M59.0 972.0h.7M93.0 1018.1h.7M95.2 1026.9h.7M84.0 1003.3h.7M79.6 1014.2h.7M89.2 976.1h.7M53.2 997.8h.7M56.6 982.2h.7M34.7 995.1h.7M57.6 986.8h.7M62.7 1024.5h.7M103.3 966.4h.7M68.1 1023.8h.7M44.0 1040.4h.7M67.0 1040.4h.7M98.2 1025.3h.7M82.4 966.7h.7M120.6 964.9h.7M116.3 970.4h.7M33.2 981.3h.7M78.6 1021.2h.7M79.6 1023.5h.7M74.8 1012.2h.7M100.4 996.8h.7M114.6 1025.0h.7M36.2 1020.4h.7M79.9 1031.4h.7M47.9 1032.2h.7M110.7 970.6h.7M90.5 1042.4h.7M108.5 973.8h.7M34.6 1043.6h.7M95.6 977.9h.7M59.5 1020.1h.7M67.0 1015.5h.7M108.4 975.6h.7M118.1 964.2h.7M113.2 1043.4h.7M81.5 1006.0h.7M70.2 1027.7h.7M114.2 965.8h.7M70.5 999.1h.7M28.8 1025.3h.7M108.6 1045.6h.7M107.5 976.1h.7M93.6 1012.0h.7M60.9 994.0h.7M70.1 1043.1h.7M76.7 987.9h.7M62.0 1020.2h.7M96.1 998.2h.7M80.3 1027.2h.7M85.7 1031.9h.7M35.0 1021.7h.7M55.9 1037.9h.7M106.0 1026.8h.7M51.3 1019.4h.7M51.1 1027.9h.7M59.7 1010.9h.7M70.4 1023.3h.7M56.2 1041.5h.7M72.9 1012.5h.7M62.3 1005.3h.7M47.1 979.3h.7M111.3 996.1h.7M119.4 1000.4h.7M86.9 1040.8h.7M66.0 995.2h.7M100.1 1025.0h.7M87.8 966.6h.7M36.0 1006.2h.7M60.0 982.0h.7M101.2 975.2h.7M90.3 969.3h.7M58.5 996.1h.7M60.9 1027.0h.7M36.2 968.1h.7M71.0 976.5h.7M53.4 1023.8h.7M59.8 1014.4h.7M111.3 999.9h.7M47.9 1036.6h.7M67.6 1002.2h.7M95.7 966.7h.7M103.4 1003.6h.7M113.8 977.8h.7M36.4 1029.9h.7M109.3 1009.1h.7M41.4 1000.2h.7M66.2 1042.9h.7M59.6 1002.4h.7M103.4 1016.5h.7M80.7 1022.4h.7M72.8 990.9h.7M100.0 1029.5h.7M96.9 1015.9h.7M45.5 987.5h.7M88.8 965.8h.7M96.7 998.2h.7M97.1 968.0h.7M60.6 995.0h.7M67.8 1025.6h.7M74.0 985.9h.7M61.5 1035.4h.7M80.5 1025.6h.7M112.3 970.4h.7M63.9 1039.9h.7M49.0 997.8h.7M27.2 1028.8h.7M55.2 1023.3h.7M70.3 977.2h.7M30.1 1030.5h.7M63.8 1022.7h.7M65.2 1006.8h.7M78.7 980.5h.7M111.7 995.7h.7M52.2 1005.7h.7M87.3 1021.4h.7M100.6 975.6h.7M55.1 1024.8h.7M98.0 1000.2h.7M88.2 993.0h.7M62.4 951.0h.7M97.2 1041.3h.7M65.4 998.3h.7M82.8 1000.9h.7M81.2 1014.8h.7M87.0 974.1h.7M110.7 970.6h.7M74.9 957.1h.7M31.4 1016.5h.7M37.8 1014.0h.7M100.8 976.9h.7M78.6 1027.2h.7M75.2 956.2h.7M43.5 1008.5h.7M75.7 1007.6h.7M93.8 1017.8h.7M89.1 978.4h.7M54.0 1025.6h.7M47.9 1041.3h.7M71.4 1002.8h.7M90.4 975.3h.7M98.2 975.9h.7M85.5 992.5h.7M96.3 1018.9h.7M45.4 999.1h.7M111.6 976.0h.7M70.2 997.3h.7M78.8 1019.7h.7M82.8 998.2h.7M38.1 1034.2h.7M54.0 1032.2h.7M36.6 1016.4h.7M49.7 1034.3h.7M80.2 1034.5h.7M93.8 976.8h.7M62.1 970.2h.7M97.1 966.4h.7M95.4 1012.2h.7M69.5 1010.8h.7M57.1 966.9h.7M106.5 1003.7h.7M32.7 999.2h.7M103.9 980.6h.7M106.3 971.3h.7M65.8 1011.8h.7M91.5 1029.9h.7M64.5 1005.9h.7M50.6 977.8h.7M50.8 1001.4h.7M102.6 1007.2h.7M84.0 1000.3h.7M116.3 1034.4h.7M118.1 970.7h.7M84.3 1042.5h.7M46.0 996.3h.7M57.5 1024.8h.7M53.5 1024.6h.7M68.9 1005.4h.7M92.2 1040.1h.7M108.3 1003.3h.7M37.7 1019.9h.7M44.2 989.0h.7M60.2 992.8h.7M77.0 1001.3h.7M102.4 952.0h.7M81.7 976.7h.7M45.8 1006.6h.7M96.4 965.2h.7M91.3 974.5h.7M58.1 1020.6h.7M91.4 1010.8h.7M92.4 1009.3h.7M91.8 999.3h.7M38.6 1039.8h.7M54.8 1021.2h.7M112.0 972.7h.7M85.9 1008.0h.7M112.7 1013.5h.7M101.8 977.6h.7M92.7 987.8h.7M107.5 1038.9h.7M81.5 961.3h.7M110.2 970.8h.7M33.4 1033.9h.7M97.8 972.9h.7M51.4 990.0h.7M87.6 1016.6h.7M75.7 994.0h.7M107.4 999.1h.7M72.3 990.7h.7M86.2 1033.4h.7M105.8 1021.5h.7M58.9 1032.1h.7M100.3 975.9h.7M117.1 1000.4h.7M78.3 1045.2h.7M62.3 991.6h.7M96.6 971.1h.7M109.8 983.5h.7M87.5 972.2h.7M69.2 1030.7h.7M48.0 1027.4h.7M106.2 1013.8h.7M35.6 974.2h.7M63.8 1026.2h.7M108.9 1003.2h.7M78.8 1004.2h.7M99.9 1004.2h.7M68.5 976.2h.7M63.7 986.5h.7M110.9 1019.7h.7M43.7 1010.3h.7M67.3 1017.8h.7M105.8 1044.6h.7M61.4 994.7h.7M87.7 973.4h.7M82.0 991.9h.7M110.2 1015.6h.7M67.5 1018.7h.7M49.7 997.5h.7M80.0 1007.7h.7M74.9 1026.4h.7M44.9 1007.0h.7M102.2 1037.3h.7M45.7 1031.6h.7M100.7 1004.7h.7M71.3 977.2h.7M104.4 1014.6h.7M93.0 1041.4h.7M71.2 999.7h.7M34.2 1021.7h.7M90.5 987.2h.7M44.1 1020.6h.7M83.8 1044.7h.7M73.7 998.8h.7M60.0 1020.1h.7M68.8 1004.2h.7M91.3 1020.3h.7M60.4 1029.1h.7M102.9 1002.6h.7M67.9 1008.9h.7M76.5 975.0h.7M86.6 973.3h.7M99.5 974.4h.7M119.4 965.9h.7M60.8 1018.3h.7M108.5 971.8h.7M65.8 1024.6h.7M64.6 992.8h.7M76.8 979.4h.7M27.0 1032.5h.7M84.6 1029.6h.7M65.9 986.4h.7M105.1 1011.0h.7M74.6 1009.1h.7M104.6 989.3h.7M73.0 992.1h.7M103.0 970.8h.7M62.8 1012.0h.7M47.1 1044.6h.7M78.7 974.1h.7M35.7 1020.7h.7M80.8 1004.7h.7M114.9 975.2h.7M37.7 1021.1h.7M98.6 1025.3h.7M89.3 1023.7h.7M89.6 1019.6h.7M64.2 1028.2h.7M115.8 1000.5h.7M79.3 1034.9h.7M75.4 1017.7h.7M78.8 1041.2h.7M94.1 995.0h.7M42.2 997.3h.7M85.6 1004.9h.7M102.0 1000.7h.7M98.1 1017.0h.7M59.6 987.1h.7M65.5 1041.2h.7M91.8 971.9h.7M104.8 977.8h.7M79.8 1024.1h.7M78.8 978.9h.7M31.6 1016.2h.7M69.1 1019.6h.7M113.7 1028.5h.7M104.4 974.2h.7M44.1 1017.2h.7M29.2 1006.5h.7M37.2 1021.5h.7M40.7 1002.3h.7M76.1 1038.8h.7M52.4 999.3h.7M80.3 1000.7h.7M107.7 966.4h.7M41.0 1046.5h.7M54.7 1006.2h.7M58.8 953.9h.7M118.2 994.0h.7M41.9 1019.2h.7M51.2 961.5h.7M78.5 999.9h.7M93.7 970.1h.7M98.9 968.4h.7M82.0 969.2h.7M51.4 1029.6h.7M117.2 954.3h.7M93.6 974.7h.7M109.0 1010.8h.7M98.4 998.9h.7M59.4 1017.0h.7M109.3 1007.5h.7M113.2 1012.5h.7M105.3 1018.8h.7M29.3 1020.1h.7M92.8 965.4h.7M104.7 966.5h.7M73.9 1023.3h.7M46.9 1001.1h.7M82.2 1034.8h.7M51.1 1023.7h.7M75.3 966.1h.7M111.8 982.4h.7M83.0 1011.6h.7M108.1 1038.9h.7M88.6 972.2h.7M105.7 983.7h.7M46.6 1013.4h.7M50.2 1008.2h.7M109.7 975.9h.7M59.5 1037.3h.7M61.5 999.4h.7M27.1 975.8h.7M101.3 975.1h.7M83.5 1018.6h.7M60.3 972.8h.7M78.7 1031.1h.7M74.6 993.7h.7M87.9 1028.7h.7M80.4 1034.8h.7M115.8 1008.6h.7M70.0 1013.3h.7M110.4 958.3h.7M103.5 1041.6h.7M68.2 1026.2h.7M110.7 1042.1h.7M96.2 1007.6h.7M86.2 1000.5h.7M44.0 1011.1h.7M57.3 1030.9h.7M77.2 999.1h.7M44.3 1030.4h.7M99.2 1008.1h.7M78.5 1004.0h.7M62.4 1022.6h.7M119.0 1014.8h.7M79.0 997.1h.7M40.2 1028.8h.7M72.0 1002.8h.7M118.9 981.9h.7M55.2 1021.7h.7M52.4 1007.9h.7M78.4 967.8h.7M57.8 996.2h.7M53.8 1015.2h.7M80.7 1018.9h.7M51.7 1007.2h.7M104.1 966.8h.7M80.9 1037.0h.7M106.0 970.1h.7M57.3 1035.7h.7M95.2 994.7h.7M106.9 974.0h.7M37.5 1036.2h.7M52.2 1045.4h.7M117.2 1000.0h.7M75.1 1017.2h.7M120.6 1026.9h.7M96.8 1018.7h.7M100.7 970.9h.7M101.4 1025.5h.7M99.5 1015.7h.7M67.5 1029.7h.7M56.5 1013.6h.7M105.0 986.5h.7M99.3 978.4h.7M70.5 1015.3h.7M113.0 990.6h.7M100.2 967.1h.7M54.8 972.4h.7M111.0 1031.0h.7M58.4 1035.7h.7M87.7 1001.1h.7M54.1 1008.0h.7M72.7 1010.7h.7M99.2 1040.7h.7M60.7 1034.0h.7M108.1 1007.7h.7M105.5 1039.1h.7M51.9 992.6h.7M47.9 978.8h.7M90.4 1034.8h.7M46.8 1020.9h.7M58.7 1005.9h.7M115.7 974.3h.7M107.7 1007.6h.7M92.8 1014.6h.7M70.2 1041.1h.7M66.4 1004.1h.7M103.8 962.8h.7M86.4 1009.4h.7M104.3 991.9h.7M61.1 1001.2h.7M53.7 1012.4h.7M68.6 1018.7h.7M112.6 965.6h.7M117.7 989.7h.7M114.9 1008.3h.7M37.9 977.6h.7M68.0 1007.5h.7M57.1 995.1h.7M91.1 983.0h.7" stroke="#2b35c4" stroke-width="0.7" fill="none" opacity="0.8"/><path d="M55.0 980.8h.7M110.5 969.8h.7M84.1 1011.5h.7M50.2 1008.1h.7M97.3 1032.7h.7M102.7 961.8h.7M58.6 971.8h.7M59.3 1018.6h.7M58.1 988.6h.7M49.0 1013.3h.7M97.7 1001.3h.7M36.9 1008.4h.7M98.2 977.4h.7M58.2 1015.9h.7M104.4 985.1h.7M42.3 1012.1h.7M78.9 969.5h.7M99.5 1025.0h.7M83.1 982.0h.7M45.0 1044.8h.7M58.1 952.6h.7M67.6 1007.8h.7M44.4 1035.0h.7M26.2 1024.9h.7M115.2 1009.1h.7M113.1 1011.7h.7M74.9 1019.5h.7M45.4 985.5h.7M73.2 987.4h.7M78.7 1043.2h.7M47.5 996.9h.7M104.3 963.7h.7M58.8 978.4h.7M106.4 1002.2h.7M113.3 1000.6h.7M60.6 1026.9h.7M87.7 1004.3h.7M113.4 994.7h.7M93.3 999.4h.7M98.7 1012.1h.7M73.5 1041.4h.7M82.6 968.6h.7M105.4 1024.8h.7M53.0 985.7h.7M107.4 999.9h.7M67.7 1000.9h.7M76.2 1003.2h.7M82.4 1026.0h.7M69.2 1018.8h.7M62.0 1020.2h.7M34.9 1000.8h.7M27.2 1026.3h.7M100.7 979.9h.7M99.8 1015.5h.7M74.8 1026.7h.7M71.9 988.1h.7M74.9 1027.0h.7M111.0 965.8h.7M78.1 995.6h.7M90.1 998.0h.7M86.6 1019.6h.7M54.1 992.5h.7M49.8 1002.0h.7M72.4 1032.8h.7M81.3 969.9h.7M93.8 966.1h.7M88.7 1008.0h.7M60.4 985.3h.7M61.4 1009.3h.7M58.3 959.3h.7M114.5 992.0h.7M81.0 1019.5h.7M67.1 1018.9h.7M41.6 1012.1h.7M97.7 977.6h.7M64.8 1014.2h.7M87.9 980.9h.7M36.0 967.0h.7M49.8 1005.8h.7M61.5 1043.3h.7M83.8 1045.8h.7M102.6 1018.2h.7M55.1 1025.0h.7M84.1 972.9h.7M90.1 1013.7h.7M98.8 985.8h.7M79.1 992.5h.7M81.4 1017.6h.7M56.3 1016.4h.7M109.1 1034.2h.7M87.4 967.0h.7M84.7 964.9h.7M54.7 1002.5h.7M57.8 1023.5h.7M52.1 981.4h.7M99.6 1010.7h.7M95.1 1033.2h.7M65.9 1003.2h.7M58.2 996.0h.7M116.2 971.6h.7M104.5 1045.6h.7M75.0 1017.9h.7M37.2 1027.9h.7M62.2 1026.1h.7M91.9 989.9h.7M42.6 982.7h.7M62.2 1014.1h.7M81.8 1024.4h.7M64.1 996.4h.7M45.0 1006.2h.7M69.6 972.9h.7M56.4 970.7h.7M88.9 990.0h.7M92.4 1032.8h.7M63.9 1015.5h.7M78.3 1001.0h.7M55.7 1041.4h.7M62.9 992.0h.7M83.0 996.2h.7M116.1 1026.9h.7M102.5 1008.0h.7M37.6 1035.5h.7M73.6 1025.0h.7M90.2 973.6h.7M37.8 998.0h.7M51.6 996.8h.7M69.5 998.4h.7M49.7 1020.0h.7M103.8 974.9h.7M57.6 988.4h.7M51.4 1027.8h.7M87.3 984.7h.7M101.0 975.9h.7M53.8 983.4h.7M70.5 1007.6h.7M35.0 1036.2h.7M93.3 1021.0h.7M79.9 992.1h.7M82.2 1043.4h.7M25.5 1018.2h.7M109.3 968.7h.7M105.1 992.1h.7M115.8 999.4h.7M83.7 1018.6h.7M82.0 996.3h.7M64.8 1009.2h.7M47.8 992.9h.7M102.7 1031.0h.7M97.0 975.9h.7M118.1 968.4h.7M88.1 976.6h.7M89.4 1038.8h.7M82.8 1029.6h.7M120.6 967.0h.7M73.6 1019.1h.7M86.0 974.0h.7M41.5 1026.3h.7M95.5 1031.8h.7M94.2 988.2h.7M83.1 1030.5h.7M85.4 1030.8h.7M58.9 973.5h.7M98.3 1039.1h.7M45.3 1021.6h.7M60.2 1021.6h.7M77.2 1007.8h.7M61.6 1039.9h.7M87.1 966.7h.7M93.9 1012.0h.7M51.8 963.4h.7M83.3 1031.8h.7M55.0 1003.5h.7M47.9 1003.0h.7M88.8 998.4h.7M73.1 1015.1h.7M69.5 986.1h.7M83.3 994.3h.7M76.3 979.2h.7M78.2 1033.9h.7M68.4 1003.2h.7M37.8 1032.4h.7M76.6 963.0h.7M51.9 1027.2h.7M88.3 1008.6h.7M53.9 994.1h.7M59.3 980.5h.7M80.0 1024.3h.7M103.5 1011.2h.7M82.1 970.9h.7M116.6 1021.4h.7M77.6 1005.8h.7M92.7 968.4h.7M111.6 1013.4h.7M87.3 990.1h.7M95.1 1025.3h.7M94.7 974.5h.7M73.7 1014.6h.7M69.6 1026.1h.7M28.3 1015.5h.7M30.6 1017.7h.7M56.3 1036.7h.7M65.1 975.7h.7M98.4 991.1h.7M90.8 972.0h.7M82.0 959.2h.7M90.5 971.5h.7M86.4 1042.9h.7M92.0 969.6h.7M96.0 994.2h.7M70.1 1001.3h.7M69.7 1028.8h.7M50.3 1010.1h.7M53.4 992.4h.7M103.5 974.6h.7M49.5 1015.8h.7M84.8 1033.6h.7M85.7 990.3h.7M116.3 1031.5h.7M56.9 1045.4h.7M117.4 1027.8h.7M45.5 1026.4h.7M110.8 991.8h.7M106.0 968.4h.7M79.8 1028.3h.7M89.9 971.6h.7M107.2 1035.9h.7M101.8 1016.6h.7M94.3 978.9h.7M70.2 1046.8h.7M74.7 1006.6h.7M99.7 970.3h.7M103.4 1009.7h.7M80.5 1022.7h.7M55.2 1042.1h.7M68.6 992.9h.7M63.2 1017.4h.7M83.8 1011.4h.7M107.6 971.8h.7M26.2 1005.1h.7M83.4 976.3h.7M49.7 1010.2h.7M53.5 999.7h.7M63.1 1015.9h.7M88.4 1002.0h.7M41.7 1015.4h.7M50.7 1008.6h.7M68.7 1026.4h.7M85.3 990.5h.7M105.1 993.2h.7M96.2 972.8h.7M52.4 975.6h.7M97.1 992.5h.7M55.8 1018.3h.7M46.7 1028.9h.7M80.9 1001.2h.7M69.0 970.7h.7M78.2 1023.4h.7M97.7 993.7h.7M64.2 980.8h.7M42.2 1005.1h.7M59.2 1012.1h.7M42.7 1033.9h.7M72.1 1009.6h.7M64.2 1027.0h.7M115.0 1006.1h.7M71.6 1022.8h.7M85.4 998.6h.7M93.8 1040.1h.7M77.8 1013.5h.7M91.8 965.3h.7M97.5 1001.3h.7M111.4 974.1h.7M90.2 962.5h.7M117.3 1029.0h.7M103.4 1002.8h.7M104.0 1000.7h.7M81.7 966.6h.7M88.1 963.5h.7M97.4 1014.0h.7M73.1 1017.2h.7M75.3 1020.9h.7M68.3 992.7h.7M99.2 1013.4h.7M90.5 985.5h.7M61.8 1026.8h.7M66.4 979.9h.7M111.1 960.4h.7M70.1 993.9h.7M102.8 975.6h.7M70.2 965.2h.7M97.0 1024.1h.7M51.3 1007.3h.7M82.6 965.6h.7M75.0 1034.7h.7M120.9 1030.9h.7M112.0 973.3h.7M91.0 1020.1h.7M94.9 1016.7h.7M108.4 1018.5h.7M82.1 1006.2h.7M74.2 1015.6h.7M72.5 1035.7h.7M38.0 995.2h.7M57.0 972.6h.7M97.1 977.2h.7M75.5 980.6h.7M93.9 1023.5h.7M62.7 1032.2h.7M73.7 1029.6h.7M86.8 995.0h.7M76.0 1043.2h.7M120.5 1015.6h.7M91.7 996.3h.7M62.5 1018.4h.7M77.9 983.4h.7M24.3 1033.1h.7M78.7 1007.7h.7M65.6 985.5h.7M93.9 970.2h.7M76.4 1016.9h.7M70.3 1008.8h.7M61.3 1009.0h.7M40.9 1020.7h.7M84.4 1023.3h.7M59.7 970.7h.7M100.1 989.9h.7M54.7 1036.3h.7M95.7 1014.0h.7M58.1 987.5h.7M62.1 974.1h.7M96.4 1017.0h.7M71.4 1021.5h.7M61.0 994.5h.7M62.0 978.2h.7M69.2 1002.6h.7M63.6 1020.1h.7M91.2 976.8h.7M85.2 963.2h.7M86.0 977.9h.7M73.4 954.8h.7M104.6 977.5h.7M74.2 973.6h.7M72.4 1010.3h.7M55.0 1024.6h.7M63.4 1028.9h.7M77.7 1029.0h.7M67.3 989.7h.7M120.7 1016.0h.7M72.8 1018.8h.7M70.3 1010.9h.7M97.1 1023.7h.7M50.5 1021.4h.7M108.6 973.3h.7M93.9 1021.3h.7M92.1 1005.0h.7M110.1 991.0h.7M28.7 1027.9h.7M89.9 976.6h.7M95.8 1038.0h.7M105.5 1004.4h.7M114.4 991.5h.7M101.2 1007.9h.7M110.0 1024.1h.7M84.4 1040.7h.7M82.7 971.6h.7M28.6 1030.0h.7M80.8 987.8h.7M61.8 1011.8h.7M71.6 967.3h.7M31.7 1031.1h.7M50.4 1020.3h.7M73.2 978.3h.7M84.3 1000.1h.7M115.7 999.5h.7M68.3 983.9h.7M115.1 1002.1h.7M114.1 963.0h.7M36.2 1028.0h.7M95.6 995.4h.7M68.7 972.6h.7M65.3 1010.5h.7M51.9 1015.6h.7M87.0 1047.6h.7M65.2 1010.4h.7M67.8 1011.3h.7M66.3 992.2h.7M72.4 1006.3h.7M85.2 964.1h.7M62.8 985.0h.7M43.7 1005.3h.7M99.4 1009.1h.7M71.0 1026.2h.7M105.7 1022.7h.7M62.2 1011.9h.7M91.1 958.9h.7M77.0 1035.3h.7M116.0 1029.8h.7M58.2 987.1h.7M67.9 1016.2h.7M88.1 1030.3h.7M88.5 1026.6h.7M112.8 1016.4h.7M47.7 1006.4h.7M77.0 1019.9h.7M31.1 1007.1h.7M100.0 971.8h.7M68.7 989.6h.7M53.5 1013.7h.7M62.4 967.2h.7M87.6 1027.6h.7M62.8 999.9h.7M82.8 1003.2h.7M71.1 999.8h.7M78.3 982.1h.7M103.1 998.1h.7M92.7 998.4h.7M99.0 1006.9h.7M81.0 975.8h.7M24.6 1036.4h.7M69.4 1036.2h.7M81.0 998.0h.7M60.1 1023.7h.7M103.5 1019.9h.7M91.1 974.1h.7M96.1 1044.7h.7M89.7 1016.9h.7M70.3 1011.4h.7M43.4 1014.8h.7M68.6 973.2h.7M91.8 1008.1h.7M77.8 977.4h.7M88.3 995.2h.7M76.6 974.8h.7M49.4 1037.7h.7M67.0 1043.3h.7M48.5 995.8h.7M72.4 998.6h.7M76.4 1009.2h.7M85.0 1026.2h.7M86.0 966.2h.7M113.6 983.8h.7M85.8 1046.2h.7M100.5 992.0h.7M62.3 1008.9h.7M65.0 1010.3h.7M109.9 994.4h.7M51.8 1027.7h.7M63.8 1023.1h.7M115.9 1031.7h.7M65.3 989.1h.7M93.1 1023.0h.7M68.4 978.4h.7M86.8 973.8h.7M66.1 1027.9h.7M67.0 984.4h.7M41.1 1001.5h.7M82.8 954.6h.7M119.6 1007.1h.7M94.3 1042.2h.7M78.2 1005.8h.7M84.0 1002.7h.7M79.3 971.7h.7M70.2 996.7h.7M116.3 1010.6h.7M76.7 967.4h.7M32.3 1022.2h.7M91.3 986.5h.7M69.7 1003.5h.7M85.8 963.6h.7M69.0 1007.6h.7M87.6 968.9h.7M87.2 1001.4h.7M86.4 1016.2h.7M80.0 964.4h.7M100.4 1022.8h.7M29.7 1011.5h.7M82.1 994.5h.7M64.9 1008.3h.7M97.4 1033.5h.7M113.4 1003.7h.7M101.3 978.3h.7M58.7 994.7h.7M63.8 1010.4h.7M68.2 1040.5h.7M66.1 984.3h.7" stroke="#4a6ae8" stroke-width="0.7" fill="none" opacity="0.8"/><path d="M61.4 1041.4h.7M93.9 1036.0h.7M67.6 994.1h.7M109.2 982.4h.7M44.2 1041.0h.7M70.5 1022.7h.7M63.2 1002.9h.7M65.3 1027.4h.7M83.1 1009.6h.7M80.0 985.6h.7M85.7 1001.1h.7M98.0 978.8h.7M35.4 1011.5h.7M61.4 994.7h.7M81.8 980.7h.7M74.1 1031.2h.7M56.0 1017.7h.7M49.0 1001.2h.7M86.7 1013.4h.7M97.0 1046.0h.7M111.0 1025.1h.7M90.4 1017.0h.7M59.1 1031.2h.7M116.9 976.4h.7M83.4 1003.7h.7M61.8 1016.7h.7M56.0 1027.1h.7M118.4 996.0h.7M99.9 988.6h.7M63.7 1004.1h.7M116.7 1045.9h.7M62.7 1039.2h.7M66.2 1015.6h.7M95.6 968.2h.7M59.2 1039.1h.7M67.7 1014.6h.7M75.5 1005.1h.7M102.0 996.5h.7M102.0 993.6h.7M92.4 967.8h.7M98.5 973.3h.7M72.0 1016.9h.7M75.5 1007.3h.7M71.4 1017.8h.7M43.1 1013.9h.7M101.4 1001.6h.7M52.5 1000.9h.7M73.2 997.8h.7M47.5 1004.4h.7M90.3 983.9h.7M88.5 1023.5h.7M82.4 1030.0h.7M57.8 1009.4h.7M83.2 995.1h.7M95.5 972.1h.7M71.4 1033.0h.7M105.8 985.3h.7M107.6 1034.2h.7M68.8 994.9h.7M94.1 974.3h.7M113.9 960.3h.7M104.6 996.7h.7M71.0 997.4h.7M84.7 1010.9h.7M87.5 1017.6h.7M107.3 1007.6h.7M88.5 1008.3h.7M59.1 1030.0h.7M66.2 1023.4h.7M104.7 976.8h.7M99.6 1000.8h.7M44.7 1030.9h.7M63.4 972.2h.7M53.9 991.6h.7M107.1 958.0h.7M97.3 995.9h.7M65.4 968.8h.7M106.0 963.6h.7M119.8 1009.4h.7M56.9 1025.1h.7M71.2 1000.7h.7M46.8 1005.6h.7M45.7 993.1h.7M63.8 988.4h.7M56.2 973.1h.7M75.7 1013.6h.7M87.1 1011.2h.7M78.1 1036.4h.7M98.1 1015.6h.7M83.5 969.3h.7M104.3 992.0h.7M53.5 1028.5h.7M62.8 1018.3h.7M76.7 985.4h.7M72.6 1004.7h.7M39.5 999.9h.7M92.7 1007.0h.7M90.0 1010.3h.7M82.9 1002.2h.7M38.0 974.5h.7M65.6 1037.4h.7M112.1 1029.0h.7M75.6 1018.3h.7M62.6 1028.3h.7M97.7 966.7h.7M74.0 1024.6h.7M111.3 1004.8h.7M121.0 967.1h.7M50.4 987.4h.7M114.3 960.0h.7M90.1 972.3h.7M40.4 1032.5h.7M97.8 999.0h.7M76.5 990.6h.7M39.9 1014.6h.7M58.2 1012.4h.7M68.1 987.6h.7M26.8 1035.9h.7M95.0 998.5h.7M95.6 1043.4h.7M95.0 971.2h.7M64.0 1014.7h.7M55.0 1034.9h.7M84.3 1027.1h.7M39.9 1025.2h.7M70.4 1037.8h.7M75.3 1013.1h.7M84.1 991.1h.7M98.2 964.7h.7M48.1 990.6h.7M87.3 1016.1h.7M100.5 1026.1h.7M28.2 994.4h.7M49.8 1016.3h.7M66.0 982.8h.7M64.5 1017.5h.7M29.7 988.2h.7M78.7 1025.7h.7" stroke="#7f5fd0" stroke-width="0.7" fill="none" opacity="0.8"/><path d="M79.1 998.4h.7M88.0 1010.4h.7M106.4 1020.6h.7M103.7 1019.9h.7M82.0 1028.7h.7M62.3 1027.1h.7M60.2 1038.8h.7M104.2 989.2h.7M68.3 1028.6h.7M76.5 1004.4h.7M98.3 995.6h.7M116.3 981.7h.7M68.3 1018.0h.7M79.0 978.1h.7M75.3 960.0h.7M98.5 1019.8h.7M99.5 951.2h.7M102.2 980.5h.7M46.6 1016.7h.7M47.2 1000.0h.7M93.7 997.8h.7M120.5 1015.7h.7M53.7 1011.9h.7M117.7 1020.7h.7M56.4 1023.5h.7M49.7 1037.2h.7M115.2 1004.3h.7M50.0 988.5h.7M69.5 1022.8h.7M115.2 974.2h.7M56.8 991.7h.7M59.4 997.9h.7M63.2 1017.2h.7M115.6 1006.0h.7M76.5 1027.1h.7M108.4 969.3h.7M88.8 1014.3h.7M46.2 1018.6h.7M98.1 970.5h.7M81.6 1030.5h.7M33.0 1025.1h.7M94.8 978.1h.7M73.9 957.2h.7M65.3 1026.4h.7M78.2 1016.4h.7M53.7 1020.5h.7M110.2 990.3h.7M99.5 1010.4h.7M59.0 990.7h.7M67.3 986.9h.7M39.7 1002.0h.7M64.6 991.1h.7M82.9 975.0h.7M74.6 1032.6h.7M62.6 1007.3h.7M100.5 977.7h.7M65.9 1034.9h.7M88.2 969.5h.7M79.3 977.9h.7M112.9 1018.4h.7M91.9 1029.7h.7M83.8 1016.4h.7M89.9 1040.4h.7M60.6 1005.6h.7M86.2 1033.2h.7M49.2 991.8h.7M110.3 1021.9h.7M87.3 1044.9h.7M97.4 1006.4h.7M86.7 1012.2h.7M30.1 1020.9h.7M99.6 1004.7h.7M84.3 994.0h.7M56.0 1024.4h.7M33.7 994.2h.7M103.3 970.6h.7M59.7 978.4h.7M79.3 1013.9h.7M97.1 1016.3h.7M95.2 968.2h.7M42.7 996.5h.7M74.3 969.6h.7M75.9 1043.8h.7M75.2 1006.6h.7M57.6 1023.8h.7M73.6 959.4h.7M76.6 1035.7h.7M73.9 1017.3h.7M64.3 1036.8h.7M66.8 980.3h.7M83.2 1006.1h.7M103.0 1023.5h.7M77.1 1004.0h.7M79.9 1038.9h.7M65.8 1011.6h.7M98.5 1031.4h.7M32.3 1017.7h.7M55.4 1026.6h.7M73.8 1034.1h.7M108.9 1030.1h.7M73.6 982.0h.7M34.0 1001.9h.7M75.1 992.8h.7M50.6 1030.0h.7M68.0 995.1h.7M81.9 994.3h.7M79.1 1041.8h.7M94.5 1013.9h.7M107.4 972.4h.7M94.5 1023.7h.7M114.7 970.9h.7M47.5 1017.9h.7M76.5 970.6h.7M120.3 1017.5h.7M110.3 975.0h.7M78.4 999.9h.7M95.6 1016.6h.7M55.0 1009.9h.7M96.8 1009.2h.7M87.0 987.7h.7M79.2 1022.2h.7M46.2 1012.6h.7M86.4 1038.9h.7M104.4 1022.0h.7M90.9 1021.5h.7M77.0 1038.3h.7M86.9 994.4h.7M28.5 1020.8h.7M41.9 1019.2h.7M111.3 981.3h.7M98.6 1011.3h.7M117.1 972.8h.7M62.3 998.6h.7M60.8 1027.3h.7M106.4 969.0h.7M79.1 992.1h.7M62.4 1012.5h.7M71.8 1022.4h.7M55.5 1017.7h.7" stroke="#ffffff" stroke-width="0.7" fill="none" opacity="0.8"/></g><rect x="22.4" y="949.5" width="99.4" height="99.4" fill="none" stroke="#8a8a8a" stroke-width="0.8"/><line x1="78.60" y1="949.50" x2="78.60" y2="1048.90" stroke="#333" stroke-width="0.8" stroke-linecap="butt"/><line x1="22.40" y1="992.20" x2="121.80" y2="992.20" stroke="#333" stroke-width="0.8" stroke-linecap="butt"/><text x="24.40" y="957.10" font-size="7.6" font-weight="bold" text-anchor="start" fill="#111">5.54%</text><text x="119.40" y="957.10" font-size="7.6" font-weight="bold" text-anchor="end" fill="#111">24.8%</text><text x="24.40" y="1046.50" font-size="7.6" font-weight="bold" text-anchor="start" fill="#111">52.9%</text><text x="119.40" y="1046.50" font-size="7.6" font-weight="bold" text-anchor="end" fill="#111">16.7%</text><text x="20.80" y="970.50" font-size="5.2" font-weight="bold" text-anchor="end" fill="#111">10<tspan font-size="3.54" dy="-2.18">4</tspan></text><line x1="20.80" y1="967.70" x2="22.40" y2="967.70" stroke="#666" stroke-width="0.5" stroke-linecap="butt"/><text x="20.80" y="998.00" font-size="5.2" font-weight="bold" text-anchor="end" fill="#111">10<tspan font-size="3.54" dy="-2.18">3</tspan></text><line x1="20.80" y1="995.20" x2="22.40" y2="995.20" stroke="#666" stroke-width="0.5" stroke-linecap="butt"/><text x="20.80" y="1023.80" font-size="5.2" font-weight="bold" text-anchor="end" fill="#111">10<tspan font-size="3.54" dy="-2.18">2</tspan></text><line x1="20.80" y1="1021.00" x2="22.40" y2="1021.00" stroke="#666" stroke-width="0.5" stroke-linecap="butt"/><text x="20.80" y="1046.20" font-size="5.2" font-weight="bold" text-anchor="end" fill="#111">10<tspan font-size="3.54" dy="-2.18">1</tspan></text><line x1="20.80" y1="1043.40" x2="22.40" y2="1043.40" stroke="#666" stroke-width="0.5" stroke-linecap="butt"/><text x="33.90" y="1058.50" font-size="5.2" font-weight="bold" text-anchor="end" fill="#111">10<tspan font-size="3.54" dy="-2.18">1</tspan></text><line x1="32.30" y1="1048.90" x2="32.30" y2="1050.70" stroke="#666" stroke-width="0.5" stroke-linecap="butt"/><text x="51.80" y="1058.50" font-size="5.2" font-weight="bold" text-anchor="end" fill="#111">10<tspan font-size="3.54" dy="-2.18">2</tspan></text><line x1="50.20" y1="1048.90" x2="50.20" y2="1050.70" stroke="#666" stroke-width="0.5" stroke-linecap="butt"/><text x="72.90" y="1058.50" font-size="5.2" font-weight="bold" text-anchor="end" fill="#111">10<tspan font-size="3.54" dy="-2.18">3</tspan></text><line x1="71.30" y1="1048.90" x2="71.30" y2="1050.70" stroke="#666" stroke-width="0.5" stroke-linecap="butt"/><text x="93.20" y="1058.50" font-size="5.2" font-weight="bold" text-anchor="end" fill="#111">10<tspan font-size="3.54" dy="-2.18">4</tspan></text><line x1="91.60" y1="1048.90" x2="91.60" y2="1050.70" stroke="#666" stroke-width="0.5" stroke-linecap="butt"/><text x="114.30" y="1058.50" font-size="5.2" font-weight="bold" text-anchor="end" fill="#111">10<tspan font-size="3.54" dy="-2.18">5</tspan></text><line x1="112.70" y1="1048.90" x2="112.70" y2="1050.70" stroke="#666" stroke-width="0.5" stroke-linecap="butt"/><clipPath id="fc2"><rect x="164.8" y="949.5" width="98.3" height="99.4"/></clipPath><rect x="164.8" y="949.5" width="98.3" height="99.4" fill="#fff"/><g clip-path="url(#fc2)"><g filter="url(#fb5)"><ellipse cx="206" cy="1015" rx="40" ry="28" fill="#6f7fe6" opacity="0.55" transform="rotate(-20 206 1015)"/><ellipse cx="243" cy="1005" rx="22" ry="36" fill="#6f7fe6" opacity="0.36" transform="rotate(0 243 1005)"/><ellipse cx="222" cy="985" rx="18" ry="20" fill="#6f7fe6" opacity="0.3" transform="rotate(0 222 985)"/><ellipse cx="226" cy="1036" rx="14" ry="14" fill="#6f7fe6" opacity="0.35" transform="rotate(0 226 1036)"/></g><g filter="url(#fb3)" opacity="0.75"><ellipse cx="211.5" cy="1012.5" rx="26.0" ry="20.0" fill="#3f5fe0" transform="rotate(-35 211.5 1012.5)"/><ellipse cx="226.4" cy="968" rx="8.0" ry="9.0" fill="#3f5fe0" transform="rotate(-25 226.4 968)"/><ellipse cx="227.3" cy="1018" rx="5.6" ry="15.0" fill="#3f5fe0" transform="rotate(0 227.3 1018)"/></g><g filter="url(#fb2)" opacity="0.95"><ellipse cx="211.5" cy="1012.5" rx="17.7" ry="13.6" fill="#2fb4dc" transform="rotate(-35 211.5 1012.5)"/><ellipse cx="226.4" cy="968" rx="5.4" ry="6.1" fill="#2fb4dc" transform="rotate(-25 226.4 968)"/><ellipse cx="227.3" cy="1018" rx="3.8" ry="10.2" fill="#2fb4dc" transform="rotate(0 227.3 1018)"/></g><g filter="url(#fb1)" opacity="0.95"><ellipse cx="211.5" cy="1012.5" rx="12.5" ry="9.6" fill="#3ccf62" transform="rotate(-35 211.5 1012.5)"/><ellipse cx="226.4" cy="968" rx="3.8" ry="4.3" fill="#3ccf62" transform="rotate(-25 226.4 968)"/><ellipse cx="227.3" cy="1018" rx="2.7" ry="7.2" fill="#3ccf62" transform="rotate(0 227.3 1018)"/></g><g filter="url(#fb1)" opacity="0.95"><ellipse cx="211.5" cy="1012.5" rx="7.3" ry="5.6" fill="#d8e234" transform="rotate(-35 211.5 1012.5)"/><ellipse cx="226.4" cy="968" rx="2.2" ry="2.5" fill="#d8e234" transform="rotate(-25 226.4 968)"/><ellipse cx="227.3" cy="1018" rx="1.6" ry="4.2" fill="#d8e234" transform="rotate(0 227.3 1018)"/></g><g filter="url(#fb0)" opacity="0.95"><ellipse cx="211.5" cy="1012.5" rx="4.2" ry="3.2" fill="#f6a21f" transform="rotate(-35 211.5 1012.5)"/></g><g filter="url(#fb0)" opacity="0.95"><ellipse cx="211.5" cy="1012.5" rx="2.2" ry="1.7" fill="#e8281c" transform="rotate(-35 211.5 1012.5)"/></g><path d="M223.4 975.3h.7M185.7 987.5h.7M213.5 1048.1h.7M203.0 1006.7h.7M208.1 1027.4h.7M237.9 1027.6h.7M261.4 1018.7h.7M216.0 1028.8h.7M165.9 1025.8h.7M262.5 1030.4h.7M219.7 1048.2h.7M228.8 994.9h.7M209.7 1016.8h.7M237.0 1030.6h.7M214.0 1017.6h.7M199.5 1016.6h.7M216.0 1021.5h.7M225.0 1019.5h.7M220.2 1036.8h.7M191.4 1017.5h.7M244.8 987.9h.7M190.6 1016.8h.7M241.8 1005.9h.7M189.1 1010.5h.7M233.8 999.0h.7M182.5 1015.7h.7M233.1 1026.3h.7M226.7 1013.8h.7M195.1 1032.3h.7M215.8 1001.6h.7M222.5 1038.2h.7M237.3 1040.7h.7M245.8 978.6h.7M226.7 981.1h.7M200.1 1016.0h.7M254.4 980.8h.7M242.9 1018.5h.7M187.4 1004.6h.7M240.8 1002.7h.7M229.2 1008.8h.7M205.1 1026.0h.7M244.5 1018.6h.7M220.9 992.8h.7M220.0 990.0h.7M239.4 1028.0h.7M221.6 985.2h.7M184.3 1024.8h.7M201.0 1027.7h.7M232.4 1013.0h.7M213.0 1023.0h.7M200.9 1019.3h.7M205.1 980.1h.7M242.3 1013.2h.7M200.1 1027.9h.7M196.8 1043.4h.7M191.3 1019.9h.7M207.8 1003.7h.7M249.4 1043.6h.7M255.0 1002.2h.7M230.0 988.0h.7M195.4 982.2h.7M215.7 1010.5h.7M245.8 1022.8h.7M204.6 980.4h.7M244.2 1043.5h.7M208.2 1019.7h.7M237.9 1030.9h.7M211.0 1019.1h.7M193.0 1027.1h.7M180.0 1027.3h.7M226.0 1029.6h.7M227.1 1024.3h.7M254.0 979.2h.7M176.9 1029.7h.7M229.1 1007.1h.7M230.2 1002.7h.7M222.7 1009.1h.7M196.7 1044.8h.7M231.4 982.4h.7M205.3 1024.6h.7M216.7 1004.2h.7M213.7 1017.7h.7M194.5 1011.2h.7M208.5 967.0h.7M210.4 1005.4h.7M207.6 1022.7h.7M222.9 982.6h.7M256.4 1017.5h.7M227.5 1005.2h.7M234.9 1022.5h.7M213.1 1016.0h.7M240.4 972.3h.7M218.1 1014.5h.7M203.7 1023.7h.7M197.2 1025.8h.7M217.1 1000.6h.7M204.9 1028.6h.7M234.4 1037.8h.7M184.2 1010.3h.7M240.9 987.8h.7M234.3 1015.6h.7M239.8 1022.0h.7M248.6 1040.6h.7M239.8 986.7h.7M193.3 1036.9h.7M221.5 1011.4h.7M258.7 1023.3h.7M224.9 1027.9h.7M223.8 983.6h.7M238.0 976.4h.7M198.6 1020.3h.7M202.6 1007.5h.7M242.0 1016.1h.7M229.6 1008.2h.7M253.0 993.9h.7M212.0 980.0h.7M216.3 1021.0h.7M247.6 992.2h.7M229.2 988.2h.7M242.9 980.0h.7M232.7 1026.0h.7M252.0 1008.2h.7M202.7 1006.2h.7M239.0 1013.6h.7M216.5 990.2h.7M202.0 977.0h.7M192.0 1021.9h.7M182.5 1040.0h.7M223.6 1024.5h.7M253.7 1020.2h.7M260.2 1012.9h.7M166.5 1044.6h.7M255.3 1019.7h.7M223.9 959.8h.7M172.7 1044.8h.7M245.2 970.2h.7M187.4 1041.9h.7M251.4 1022.1h.7M213.5 1024.8h.7M240.1 1015.7h.7M229.4 981.2h.7M251.2 1016.5h.7M193.9 999.1h.7M207.4 962.4h.7M185.1 1027.7h.7M233.0 991.8h.7M218.3 1030.5h.7M202.0 1031.1h.7M168.6 1026.5h.7M204.7 1028.1h.7M213.2 998.0h.7M213.7 1014.3h.7M259.2 982.9h.7M195.7 1047.2h.7M217.1 1041.4h.7M217.9 1033.4h.7M248.7 1020.8h.7M194.2 1032.4h.7M200.1 971.6h.7M174.0 1018.7h.7M248.2 1027.0h.7M233.3 1032.2h.7M226.2 1000.3h.7M247.1 1016.8h.7M241.7 1025.8h.7M244.8 982.4h.7M208.1 999.7h.7M224.0 1029.5h.7M184.4 1019.9h.7M253.8 994.7h.7M193.1 1020.7h.7M227.9 1034.6h.7M225.1 1005.9h.7M225.6 1022.5h.7M220.2 1001.8h.7M196.1 1042.9h.7M235.5 1010.1h.7M238.0 1025.3h.7M217.0 1019.3h.7M199.1 1036.9h.7M226.6 1046.5h.7M217.4 987.8h.7M203.6 965.6h.7M219.6 980.3h.7M221.5 1028.9h.7M233.8 978.6h.7M182.1 998.4h.7M194.2 977.3h.7M219.3 1010.3h.7M249.6 986.8h.7M206.7 1030.0h.7M197.2 1021.2h.7M244.0 1026.5h.7M252.2 997.7h.7M214.1 994.1h.7M223.2 1013.2h.7M185.4 994.3h.7M237.3 1026.9h.7M218.6 1001.9h.7M211.4 1015.5h.7M230.7 1008.8h.7M237.3 1008.6h.7M243.9 1005.0h.7M248.1 1023.3h.7M207.9 1012.6h.7M188.7 1018.8h.7M212.7 1019.2h.7M226.1 1012.4h.7M262.5 992.7h.7M251.2 1006.8h.7M193.3 988.3h.7M217.3 963.4h.7M225.6 1001.7h.7M233.2 1040.2h.7M220.0 980.8h.7M236.2 1027.4h.7M233.6 1047.1h.7M208.2 1029.2h.7M221.1 1017.2h.7M210.8 1018.2h.7M248.2 988.8h.7M244.5 1003.7h.7M234.2 1000.1h.7M210.1 1018.0h.7M244.6 1000.9h.7M179.8 1030.5h.7M201.1 1013.1h.7M194.9 1003.5h.7M203.1 1026.5h.7M177.4 987.2h.7M224.5 1041.5h.7M191.4 1005.6h.7M191.3 1028.3h.7M234.5 1016.4h.7M208.0 1014.5h.7M196.3 999.7h.7M223.5 993.2h.7M235.8 1004.3h.7M216.2 1006.6h.7M184.7 987.5h.7M203.1 1033.5h.7M219.1 1016.5h.7M222.3 1036.9h.7M210.2 1038.7h.7M225.2 966.1h.7M205.2 1003.3h.7M228.3 1015.2h.7M189.1 1010.1h.7M235.6 996.7h.7M207.7 959.3h.7M214.3 996.6h.7M204.1 1044.6h.7M234.6 1043.0h.7M255.7 1010.6h.7M204.1 1040.2h.7M244.3 1030.9h.7M211.1 1015.3h.7M250.1 990.6h.7M198.9 1030.7h.7M248.1 1037.4h.7M200.0 1030.8h.7M238.6 1002.1h.7M207.1 1017.1h.7M232.2 989.8h.7M228.2 1007.1h.7M261.2 1019.9h.7M208.9 1024.2h.7M202.3 991.0h.7M229.9 996.2h.7M213.5 989.5h.7M221.7 1026.6h.7M216.3 995.6h.7M181.9 1015.0h.7M223.2 1003.7h.7M225.4 1013.5h.7M203.6 1040.4h.7M201.6 1028.0h.7M201.8 1019.2h.7M238.2 992.0h.7M222.4 1017.2h.7M216.8 968.0h.7M225.9 995.4h.7M214.3 1016.6h.7M210.1 1029.9h.7M232.1 995.3h.7M203.0 1024.6h.7M238.7 996.8h.7M189.9 1021.7h.7M246.6 1033.4h.7M183.6 1002.1h.7M245.5 989.6h.7M247.6 1044.6h.7M197.9 990.5h.7M252.3 1009.6h.7M196.4 986.9h.7M221.8 1010.1h.7M219.5 1004.4h.7M231.2 988.7h.7M216.0 978.2h.7M238.4 1007.0h.7M254.4 1036.3h.7M234.0 988.7h.7M183.0 1018.1h.7M183.5 1004.0h.7M209.7 1030.2h.7M210.0 1012.3h.7M230.8 1020.5h.7M225.5 963.6h.7M204.2 1032.0h.7M181.3 1013.0h.7M219.5 1011.4h.7M202.1 1032.1h.7M188.6 1042.5h.7M236.7 995.7h.7M194.8 1032.3h.7M219.4 1007.6h.7M225.5 976.1h.7M215.7 998.0h.7M242.8 1017.3h.7M222.2 992.0h.7M236.9 1013.1h.7M216.2 1023.9h.7M201.7 999.9h.7M208.8 1012.9h.7M179.2 1013.3h.7M190.9 1018.9h.7M227.7 1012.5h.7M197.9 1022.6h.7M190.0 1022.6h.7M181.5 1021.4h.7M237.6 1018.6h.7M222.6 988.4h.7M187.8 994.3h.7M254.3 1002.3h.7M206.4 1017.1h.7M200.6 993.0h.7M227.6 1004.1h.7M223.0 1014.6h.7M198.0 1033.8h.7M247.3 997.6h.7M190.3 998.8h.7M211.5 985.1h.7M247.6 998.7h.7M196.0 1022.0h.7M240.0 1003.9h.7M199.9 993.2h.7M204.1 1022.0h.7M208.6 1000.2h.7M196.4 1019.1h.7M247.8 960.5h.7M253.2 999.5h.7M234.1 1021.7h.7M217.6 1036.6h.7M201.8 989.8h.7M189.0 1031.0h.7M240.1 1005.2h.7M221.7 987.3h.7M211.6 989.3h.7M188.6 1031.1h.7M188.2 1013.0h.7M187.2 1035.2h.7M247.7 1013.8h.7M179.4 1027.7h.7M222.8 1028.0h.7M231.2 1008.8h.7M193.1 1015.2h.7M234.2 1018.2h.7M211.3 1008.3h.7M259.9 993.9h.7M231.7 996.0h.7M254.4 1015.2h.7M209.1 1016.6h.7M207.2 993.4h.7M211.8 987.0h.7M196.6 1005.3h.7M204.2 1034.3h.7M220.9 1012.8h.7M224.3 1034.0h.7M228.3 1014.2h.7M191.7 1036.2h.7M231.2 1022.3h.7M212.1 1023.8h.7M234.8 1014.1h.7M249.6 985.7h.7M260.3 1010.6h.7M215.6 991.3h.7M204.7 1021.8h.7M193.1 1027.4h.7M225.6 998.7h.7M187.4 979.1h.7M224.7 1007.9h.7M207.2 970.9h.7M231.9 998.7h.7M186.5 1036.5h.7M198.3 1031.4h.7M207.9 1004.7h.7M208.7 1038.2h.7M219.9 983.0h.7M217.8 1004.6h.7M216.3 1019.1h.7M201.9 991.5h.7M197.0 1038.4h.7M226.2 1009.4h.7M227.7 1021.6h.7M237.0 1011.9h.7M198.6 1032.5h.7M189.1 1035.5h.7M216.5 1023.7h.7M230.2 1001.7h.7M229.9 1046.3h.7M253.4 1007.4h.7M251.8 986.7h.7M205.2 1006.2h.7M232.4 1014.3h.7M212.6 1029.6h.7M210.9 1005.1h.7M243.8 1032.9h.7M216.2 1023.4h.7M205.0 1014.2h.7M261.8 990.0h.7M214.3 1036.8h.7M173.0 1025.9h.7M239.3 988.4h.7M187.8 1017.7h.7M201.8 1034.4h.7M253.6 1014.6h.7M210.5 1025.6h.7M232.3 1002.3h.7M233.4 1005.6h.7M253.9 1026.7h.7M226.2 1031.3h.7M212.6 983.7h.7M227.3 999.8h.7M201.5 1020.8h.7M178.9 1048.2h.7M194.6 1033.8h.7M255.2 969.2h.7M212.6 1003.4h.7M221.2 982.6h.7M215.8 991.4h.7M205.9 1044.1h.7M184.6 1023.8h.7M212.0 1021.1h.7M188.3 991.6h.7M233.3 970.8h.7M205.5 968.7h.7M223.0 987.4h.7M192.4 1025.1h.7M194.6 996.2h.7M222.3 1007.1h.7M225.1 1013.6h.7M228.1 1020.3h.7M229.2 1031.1h.7M195.1 980.6h.7M247.4 1001.0h.7M245.5 960.9h.7M221.1 1001.2h.7M216.6 1002.8h.7M203.8 1000.4h.7M195.7 1001.9h.7M191.8 1021.1h.7M191.3 1029.1h.7M189.6 1031.7h.7M214.2 1002.3h.7M192.8 1019.0h.7M219.1 993.7h.7M245.3 1026.2h.7M236.6 1039.6h.7M209.4 1031.3h.7M235.6 1010.5h.7M205.9 993.8h.7M250.1 996.0h.7M183.0 980.0h.7M228.5 990.1h.7M229.4 1002.8h.7M228.4 1023.9h.7M232.7 959.7h.7M189.9 1023.8h.7M189.4 1007.2h.7M217.0 1013.2h.7M218.2 1033.0h.7M244.1 1024.2h.7M256.3 992.5h.7M177.6 1024.1h.7M212.0 1030.4h.7M179.6 1014.8h.7M212.1 1023.4h.7M239.4 1018.2h.7M217.2 985.3h.7M218.7 1002.9h.7M244.4 1002.5h.7M208.7 1045.3h.7M188.8 1033.8h.7M214.4 1006.0h.7M203.0 1015.1h.7M223.5 1004.9h.7M199.8 980.1h.7M213.3 1038.4h.7M206.8 977.8h.7M205.8 1011.0h.7M220.2 997.1h.7M244.6 1016.2h.7M231.9 998.6h.7M230.4 1019.3h.7M235.9 1003.1h.7M201.6 994.5h.7M189.1 1012.1h.7M230.4 1037.9h.7M237.7 1031.4h.7M225.1 1019.3h.7M202.7 1019.2h.7M217.8 985.9h.7M259.4 1031.0h.7M191.4 1012.4h.7M218.0 992.7h.7M238.6 991.6h.7M240.6 996.3h.7M211.7 1001.3h.7M215.9 993.6h.7M191.5 1038.3h.7M210.6 1019.1h.7M229.0 1016.0h.7M241.0 1030.4h.7M202.9 1026.4h.7M216.1 1012.9h.7M212.8 986.7h.7M217.2 1002.3h.7M218.3 983.8h.7M200.3 1025.1h.7M207.9 1021.9h.7M218.6 970.1h.7M176.5 1030.8h.7M174.9 1013.3h.7M207.4 1012.0h.7M195.7 993.8h.7M172.2 1011.4h.7M225.1 1027.5h.7M208.9 998.6h.7M195.2 1038.1h.7M240.2 985.9h.7M234.0 1022.5h.7M224.0 987.5h.7M236.9 1042.7h.7M217.3 984.8h.7M220.0 1004.1h.7M226.6 997.4h.7M203.2 1004.8h.7M219.1 1004.8h.7M237.3 1017.5h.7M244.3 1026.6h.7M232.6 1015.9h.7M198.8 999.8h.7M233.8 1019.0h.7M250.1 978.0h.7M196.3 1044.5h.7M208.0 1012.5h.7M210.9 995.1h.7M224.0 1025.3h.7M257.8 995.2h.7M192.0 984.1h.7M179.8 1035.0h.7M232.4 1020.4h.7M171.7 1022.3h.7M227.6 977.6h.7M211.1 1042.1h.7M242.7 1028.3h.7M228.2 1036.4h.7M208.0 1028.8h.7M223.4 993.6h.7M192.6 985.7h.7M240.0 1012.7h.7M214.2 1021.5h.7M240.6 993.1h.7M246.2 989.0h.7M208.8 1024.8h.7M210.0 1018.0h.7M187.2 1027.6h.7M220.7 1011.4h.7M256.3 1021.6h.7M196.8 1018.7h.7M201.4 1003.5h.7M225.3 1025.7h.7M199.7 998.4h.7M175.6 978.9h.7M222.1 1016.5h.7M260.4 1007.9h.7M191.7 999.1h.7M187.7 992.3h.7M209.3 1020.0h.7M206.8 1012.3h.7M183.5 1026.9h.7M236.9 979.5h.7M229.0 993.5h.7M175.1 1041.8h.7M191.7 1040.4h.7M210.2 1026.0h.7M188.5 984.2h.7M218.9 1026.5h.7M212.6 1021.9h.7M236.6 996.9h.7M204.3 976.4h.7M204.0 1024.2h.7M190.5 1011.8h.7M214.4 1013.5h.7M213.7 997.5h.7M223.9 977.6h.7M213.7 1015.4h.7M251.3 1041.4h.7M242.6 995.9h.7M209.9 1028.4h.7M205.8 1030.0h.7M171.7 1011.1h.7M235.5 1008.6h.7M248.2 998.8h.7M234.3 1031.5h.7M251.5 1005.8h.7M245.5 978.9h.7M211.4 1018.7h.7M194.7 988.5h.7M210.3 1025.2h.7M237.4 986.7h.7M187.2 1013.6h.7M204.3 1015.9h.7" stroke="#2b35c4" stroke-width="0.7" fill="none" opacity="0.8"/><path d="M254.9 1013.5h.7M240.6 989.0h.7M199.5 980.9h.7M212.0 1012.1h.7M225.1 999.8h.7M197.4 996.0h.7M232.2 1000.5h.7M225.8 1037.2h.7M234.8 986.9h.7M194.0 1039.1h.7M222.1 1026.1h.7M248.2 1022.4h.7M196.0 1005.7h.7M191.0 1024.2h.7M220.3 1013.6h.7M248.8 1007.6h.7M223.6 985.5h.7M249.1 974.3h.7M219.6 1014.8h.7M246.7 967.3h.7M212.6 1033.0h.7M202.7 1038.9h.7M200.7 1027.3h.7M224.7 1017.1h.7M226.6 1002.5h.7M225.9 983.9h.7M202.6 1013.6h.7M210.4 1033.2h.7M213.1 1016.1h.7M171.9 1034.5h.7M236.5 1032.6h.7M203.4 996.0h.7M236.7 1008.6h.7M228.6 1014.6h.7M181.7 1028.3h.7M212.7 1031.2h.7M198.0 1038.0h.7M219.1 1017.9h.7M223.7 995.5h.7M232.3 982.4h.7M205.2 1020.7h.7M220.6 1006.5h.7M182.9 1021.8h.7M204.7 995.5h.7M234.5 1006.1h.7M242.9 1006.0h.7M218.8 1037.8h.7M213.4 1023.4h.7M196.6 1019.7h.7M173.5 1043.6h.7M204.7 1032.7h.7M214.7 999.5h.7M216.5 1044.1h.7M229.3 1017.7h.7M212.2 1024.7h.7M242.5 1001.4h.7M194.3 1034.8h.7M246.2 1025.5h.7M246.4 1017.4h.7M186.0 1007.9h.7M206.0 1028.2h.7M228.0 998.6h.7M203.1 1023.8h.7M215.5 1022.6h.7M234.2 1004.4h.7M178.5 1032.3h.7M226.5 1016.1h.7M184.2 1030.7h.7M227.6 999.9h.7M256.0 999.6h.7M221.0 1027.9h.7M244.3 1042.1h.7M238.2 1016.6h.7M211.8 1012.2h.7M214.8 1008.1h.7M231.2 1044.6h.7M202.0 1022.2h.7M258.3 1024.7h.7M224.6 977.7h.7M185.3 1021.8h.7M206.7 1031.6h.7M191.6 1036.3h.7M186.2 1007.3h.7M259.1 1036.1h.7M231.9 1034.4h.7M209.0 1009.6h.7M196.4 1025.5h.7M200.2 1008.6h.7M248.3 995.1h.7M227.5 1010.0h.7M185.0 1015.7h.7M180.7 1025.5h.7M195.8 1039.0h.7M184.2 1020.5h.7M226.3 1013.2h.7M239.7 996.2h.7M185.8 1006.8h.7M202.8 993.7h.7M246.1 1009.8h.7M206.1 1022.9h.7M204.1 997.7h.7M206.0 959.7h.7M231.2 962.8h.7M206.0 1004.3h.7M228.1 992.8h.7M186.3 978.5h.7M234.0 1019.9h.7M207.1 1036.2h.7M246.5 1016.8h.7M239.6 1023.6h.7M214.9 1010.5h.7M222.8 1032.8h.7M256.1 1011.8h.7M212.0 983.1h.7M216.4 1004.2h.7M220.6 1025.8h.7M224.0 1005.9h.7M226.4 1005.3h.7M224.2 998.6h.7M224.8 997.0h.7M192.0 1037.2h.7M231.1 997.6h.7M195.8 1036.6h.7M213.2 995.0h.7M195.2 1016.1h.7M194.9 1045.0h.7M235.4 1010.7h.7M233.0 1021.4h.7M241.0 969.8h.7M199.9 1003.8h.7M249.9 970.6h.7M219.1 975.1h.7M251.4 966.1h.7M246.4 991.3h.7M205.7 1032.8h.7M217.7 1041.0h.7M237.4 974.8h.7M208.5 1016.7h.7M216.1 983.1h.7M216.3 1041.4h.7M232.5 1027.7h.7M205.5 1013.5h.7M187.3 1039.8h.7M182.2 1011.3h.7M189.5 1027.1h.7M232.7 1025.0h.7M189.6 1044.1h.7M229.0 1029.6h.7M232.0 1025.8h.7M244.3 979.2h.7M209.8 1015.4h.7M227.8 1008.2h.7M236.9 967.8h.7M239.7 1004.6h.7M235.9 991.6h.7M217.6 986.4h.7M227.5 1035.2h.7M175.0 1008.1h.7M219.7 1045.8h.7M187.1 1009.6h.7M198.4 1008.6h.7M195.3 1014.7h.7M210.5 1008.8h.7M254.4 1040.4h.7M182.6 1022.1h.7M214.5 967.3h.7M219.8 1026.7h.7M243.7 991.9h.7M192.5 1015.8h.7M203.5 1016.9h.7M228.6 1010.9h.7M236.9 1020.4h.7M219.0 1027.3h.7M212.9 999.9h.7M229.4 1020.7h.7M197.4 1026.8h.7M211.1 1019.7h.7M196.7 1028.6h.7M173.1 998.7h.7M204.9 1029.7h.7M218.3 1030.9h.7M251.8 988.7h.7M193.3 1041.6h.7M217.0 1021.4h.7M198.2 994.8h.7M202.3 1009.0h.7M196.3 1031.7h.7M210.4 993.1h.7M231.6 1045.3h.7M207.7 984.0h.7M202.4 1032.2h.7M197.1 1028.5h.7M205.2 1030.2h.7M238.3 1035.7h.7M255.1 988.7h.7M236.7 978.4h.7M218.7 1002.4h.7M213.9 987.1h.7M252.9 1038.6h.7M230.4 1013.8h.7M255.6 1038.5h.7M223.4 988.3h.7M210.5 986.0h.7M252.5 954.8h.7M222.2 994.3h.7M238.6 998.9h.7M230.3 1046.6h.7M227.7 1018.4h.7M236.1 1013.2h.7M177.3 1043.6h.7M220.3 1028.9h.7M185.3 1025.8h.7M219.7 1026.9h.7M232.2 1021.6h.7M260.4 1026.3h.7M193.8 1036.7h.7M208.3 1011.8h.7M211.5 1004.4h.7M247.2 1018.3h.7M220.2 1000.0h.7M221.9 992.1h.7M205.6 994.4h.7M238.5 971.3h.7M243.1 1001.7h.7M197.1 1033.8h.7M179.3 1019.5h.7M203.3 990.0h.7M218.0 1004.4h.7M259.0 1040.9h.7M209.1 1014.4h.7M175.9 1015.7h.7M218.4 1026.9h.7M224.2 1034.3h.7M215.8 1018.3h.7M203.5 996.2h.7M206.9 965.9h.7M223.9 1016.5h.7M195.5 1022.7h.7M217.6 997.1h.7M245.7 989.5h.7M227.7 1006.1h.7M236.7 991.4h.7M221.4 1001.3h.7M241.8 1002.9h.7M188.3 1003.6h.7M252.5 1018.0h.7M194.8 987.5h.7M243.5 1046.4h.7M239.7 1031.6h.7M189.5 1001.2h.7M198.3 1041.1h.7M200.9 1022.0h.7M224.1 975.0h.7M193.5 1017.4h.7M187.8 976.1h.7M212.9 1016.4h.7M229.6 967.5h.7M202.9 1006.5h.7M245.6 1007.9h.7M251.7 977.9h.7M212.3 1014.4h.7M214.4 979.2h.7M209.0 1047.7h.7M238.3 1004.8h.7M171.4 1047.2h.7M220.9 986.8h.7M218.6 970.5h.7M237.2 986.4h.7M246.3 1008.8h.7M179.2 1043.8h.7M232.2 1029.4h.7M215.1 981.1h.7M225.0 977.2h.7M244.3 1014.3h.7M212.3 1011.0h.7M181.3 1043.6h.7M214.7 1000.6h.7M181.7 1006.5h.7M223.7 1015.3h.7M186.2 1027.1h.7M247.9 1046.6h.7M203.0 1031.4h.7M195.2 1041.5h.7M224.9 1032.6h.7M244.2 995.9h.7M257.2 994.1h.7M224.1 1011.0h.7M226.8 1023.5h.7M213.4 1028.3h.7M208.7 1024.7h.7M215.7 1011.3h.7M233.3 1024.7h.7M182.1 1016.9h.7M255.9 988.7h.7M211.3 1032.8h.7M221.4 1020.7h.7M248.8 986.2h.7M238.8 1011.4h.7M196.2 1021.2h.7M170.2 1004.8h.7M207.4 1034.1h.7M201.4 998.7h.7M215.0 1020.5h.7M226.8 1009.4h.7M227.8 1010.7h.7M201.7 1014.2h.7M176.6 1005.0h.7M221.7 1006.6h.7M210.6 1022.2h.7M183.6 1032.7h.7M218.5 972.3h.7M232.0 1002.0h.7M197.8 1020.0h.7M247.5 1038.5h.7M189.7 998.2h.7M252.1 1012.9h.7M236.5 1019.9h.7M220.2 995.6h.7M244.2 1018.2h.7M230.5 1009.8h.7M178.8 1024.2h.7M245.0 1014.6h.7M247.7 1000.3h.7M212.6 1006.5h.7M213.1 1023.3h.7M241.0 1005.5h.7M254.4 1039.5h.7M219.1 995.2h.7M191.8 1022.2h.7M214.8 1018.1h.7M243.5 1033.5h.7M214.0 1006.3h.7M216.0 1000.1h.7M204.8 1034.3h.7M250.3 1000.1h.7M220.6 958.4h.7M207.9 984.8h.7M244.7 1040.6h.7M210.7 995.1h.7M226.8 964.0h.7M233.2 995.7h.7M229.3 1031.0h.7M223.4 1005.9h.7M204.0 996.7h.7M175.5 1038.8h.7M229.4 1018.6h.7M229.4 1011.6h.7M252.2 991.4h.7M221.5 1016.1h.7M235.3 974.7h.7M226.8 1042.3h.7M212.1 1006.8h.7M176.6 1017.8h.7M228.2 990.5h.7M224.4 992.6h.7M201.5 1007.7h.7M205.9 1038.0h.7M223.9 998.0h.7M198.9 981.7h.7M202.6 1025.6h.7M220.0 1009.1h.7M187.1 1037.3h.7M222.1 1047.4h.7M259.8 1005.9h.7M241.8 999.0h.7M237.4 999.4h.7M219.5 993.5h.7M179.2 1025.6h.7M198.0 1032.5h.7M218.4 1004.5h.7M242.0 1006.6h.7M203.0 1018.0h.7M252.8 1002.7h.7M247.5 1009.7h.7M188.6 1032.0h.7M196.1 1032.7h.7M179.7 1030.5h.7M223.6 970.8h.7M240.8 1041.2h.7M228.2 1021.1h.7M238.6 1018.4h.7M213.8 993.0h.7M246.4 984.0h.7M190.9 1043.3h.7M224.0 1023.7h.7M231.3 996.8h.7M215.7 989.3h.7M223.2 1019.0h.7M215.4 1004.5h.7M183.0 1010.1h.7M237.3 1036.7h.7M219.4 967.7h.7M227.6 989.1h.7M243.4 1006.4h.7M244.9 995.1h.7M213.5 998.3h.7M245.2 1003.9h.7M255.9 1027.4h.7M227.5 1026.2h.7M240.4 1036.5h.7M255.5 1006.1h.7M215.3 1006.7h.7M229.6 1019.4h.7M213.6 980.3h.7M250.3 992.3h.7M224.0 1023.7h.7M237.2 1039.4h.7M221.1 981.6h.7M182.7 1036.3h.7M199.6 1005.7h.7M233.1 1030.9h.7M198.7 1018.8h.7M235.3 1012.7h.7M231.3 1028.7h.7M252.6 978.2h.7M187.1 998.8h.7M238.4 1026.9h.7M237.6 1029.0h.7M237.5 1035.8h.7M248.1 1018.8h.7M235.0 1037.0h.7M215.8 1015.7h.7M207.6 1020.2h.7M181.7 1001.8h.7M185.7 999.8h.7M253.7 957.5h.7M223.3 1002.4h.7M230.9 1038.5h.7M224.8 1012.5h.7M254.7 991.7h.7M185.2 1021.1h.7M219.3 1028.2h.7M244.6 1017.3h.7M205.8 992.5h.7M235.3 981.7h.7M228.0 1027.4h.7M210.4 979.4h.7M199.0 993.4h.7M239.6 999.2h.7M231.8 1023.2h.7M224.0 976.0h.7M239.4 986.8h.7M216.7 997.7h.7M181.8 1037.5h.7M202.6 1018.7h.7M245.2 964.8h.7M184.4 1021.9h.7M231.9 1006.1h.7M219.4 1017.7h.7M235.4 1016.4h.7M250.4 997.8h.7M214.2 1023.5h.7M187.3 1007.7h.7M229.1 1005.3h.7M219.8 1006.6h.7M187.8 1020.2h.7M224.5 1001.5h.7M245.8 1032.4h.7M246.7 978.7h.7M207.1 1011.1h.7M198.0 1004.7h.7M256.0 1003.3h.7M221.7 985.0h.7M232.8 1002.8h.7M225.1 1035.9h.7M201.5 1034.3h.7M234.8 984.7h.7M221.9 1029.2h.7M246.8 1029.0h.7M211.4 1009.2h.7M231.1 982.1h.7M245.5 1001.1h.7M225.8 996.4h.7M211.5 977.3h.7M224.6 987.0h.7M216.6 995.0h.7M173.6 990.0h.7M182.5 1013.5h.7M218.8 1034.4h.7M215.2 989.4h.7M222.7 1028.6h.7M186.4 1013.9h.7M236.3 997.7h.7M231.8 1017.1h.7M209.1 1000.5h.7" stroke="#4a6ae8" stroke-width="0.7" fill="none" opacity="0.8"/><path d="M221.7 1015.0h.7M180.1 1014.5h.7M200.4 1026.2h.7M210.9 1025.1h.7M238.2 986.4h.7M259.7 989.0h.7M247.1 1010.0h.7M229.6 1000.5h.7M209.0 1033.2h.7M223.1 976.8h.7M202.9 1002.6h.7M230.9 990.8h.7M228.0 1046.6h.7M234.4 1004.2h.7M217.6 1012.4h.7M219.7 957.2h.7M215.8 1040.8h.7M185.8 1027.3h.7M195.3 993.4h.7M200.7 1045.5h.7M217.9 1032.6h.7M199.1 1000.3h.7M206.6 999.6h.7M193.9 1021.4h.7M171.6 1031.9h.7M219.4 990.3h.7M225.9 996.0h.7M181.3 1018.5h.7M195.1 1021.4h.7M207.8 1007.6h.7M198.4 1006.2h.7M186.4 1030.8h.7M230.2 1028.4h.7M254.3 962.5h.7M227.2 1023.6h.7M227.9 978.7h.7M211.2 1010.1h.7M210.1 1040.1h.7M197.9 1001.6h.7M219.6 988.6h.7M238.5 1039.0h.7M226.0 1038.7h.7M194.6 1004.3h.7M213.0 1009.9h.7M200.4 1026.2h.7M239.2 1036.0h.7M243.0 1013.1h.7M187.6 989.7h.7M205.2 1001.6h.7M227.7 1014.2h.7M185.3 1034.4h.7M235.4 1016.6h.7M205.8 1044.0h.7M224.1 1001.9h.7M202.1 1042.1h.7M214.5 1032.1h.7M205.7 1018.1h.7M202.6 1012.1h.7M233.4 1037.8h.7M241.5 999.7h.7M252.6 1002.6h.7M230.0 995.5h.7M214.2 1010.8h.7M191.7 989.5h.7M203.1 1035.3h.7M214.6 1015.8h.7M254.1 1021.1h.7M215.7 1007.4h.7M172.9 1006.6h.7M211.4 1003.4h.7M246.0 1024.2h.7M195.7 1011.0h.7M234.7 1018.8h.7M246.1 1037.9h.7M214.3 1030.6h.7M182.0 1033.1h.7M218.5 1033.0h.7M199.3 986.4h.7M236.8 1036.3h.7M241.0 1021.2h.7M238.3 1017.1h.7M214.1 1042.8h.7M240.9 995.8h.7M202.9 1010.7h.7M224.6 995.0h.7M228.6 989.2h.7M224.3 970.8h.7M225.3 1001.1h.7M223.6 1001.2h.7M234.9 976.1h.7M195.3 1021.7h.7M197.5 1031.9h.7M182.4 1042.7h.7M252.4 1008.9h.7M233.3 1036.7h.7M243.7 957.0h.7M214.0 971.5h.7M214.7 1011.4h.7M179.8 1046.1h.7M237.9 974.7h.7M205.6 1020.3h.7M217.8 1006.7h.7M248.9 1008.2h.7M215.4 981.5h.7M250.2 992.6h.7M246.5 1012.1h.7M174.1 1016.7h.7M248.9 1038.2h.7M219.9 1025.3h.7M178.4 1022.3h.7M180.4 990.0h.7M211.8 1041.3h.7M217.4 1026.3h.7M230.5 1030.2h.7M230.8 964.6h.7M223.8 1006.9h.7M219.8 995.3h.7M200.8 1002.4h.7M207.2 1028.0h.7M257.3 978.4h.7M165.9 1039.4h.7M208.1 1033.2h.7M223.5 1032.2h.7M197.1 1045.4h.7M215.7 1004.9h.7M223.3 1032.7h.7M220.0 980.6h.7M195.0 1021.9h.7M191.9 1024.5h.7M207.7 1017.3h.7M240.1 1000.9h.7M229.0 993.1h.7M211.4 995.6h.7M236.0 970.9h.7M214.3 1030.9h.7M211.0 991.8h.7M217.6 1030.3h.7M188.9 1012.9h.7" stroke="#7f5fd0" stroke-width="0.7" fill="none" opacity="0.8"/><path d="M178.9 1037.7h.7M227.1 1007.3h.7M245.5 1010.6h.7M198.4 1029.8h.7M180.2 1013.5h.7M233.4 1032.1h.7M246.8 1005.7h.7M211.6 1036.5h.7M246.4 1004.2h.7M199.8 1003.3h.7M214.1 1036.1h.7M260.5 1047.8h.7M251.5 1013.1h.7M223.4 1047.1h.7M205.7 1039.0h.7M216.4 1007.7h.7M216.8 1001.5h.7M224.3 986.9h.7M209.8 985.4h.7M207.8 1030.7h.7M244.5 1014.3h.7M223.9 1010.6h.7M215.7 1009.5h.7M238.1 1020.1h.7M234.8 1008.6h.7M248.0 1007.4h.7M219.5 1019.1h.7M203.4 996.2h.7M222.3 1024.8h.7M241.5 1001.7h.7M245.2 1021.2h.7M184.4 1022.5h.7M188.9 1004.9h.7M210.9 993.6h.7M235.0 998.9h.7M186.7 1005.8h.7M181.5 1025.8h.7M236.4 1009.6h.7M251.5 1021.7h.7M223.4 1031.3h.7M196.7 1014.0h.7M201.1 1037.3h.7M251.8 1035.6h.7M221.5 1027.6h.7M197.7 1023.6h.7M209.1 1040.6h.7M241.9 1009.4h.7M186.7 1022.0h.7M201.1 1014.9h.7M256.1 1022.5h.7M168.4 1002.1h.7M191.0 1041.6h.7M220.6 990.9h.7M210.4 1044.8h.7M202.2 1031.7h.7M243.5 996.5h.7M236.9 987.7h.7M226.4 1020.6h.7M204.5 1021.4h.7M242.3 972.3h.7M236.1 1009.6h.7M200.6 1033.0h.7M237.6 1028.5h.7M198.0 999.0h.7M205.7 1015.2h.7M194.4 998.9h.7M207.0 1016.2h.7M213.1 1002.8h.7M261.3 993.6h.7M193.9 1028.9h.7M202.5 975.8h.7M242.7 1022.9h.7M210.6 1012.2h.7M213.6 973.8h.7M192.5 1014.6h.7M254.7 1033.6h.7M207.6 1025.3h.7M166.7 992.3h.7M201.2 1022.1h.7M224.0 1013.8h.7M178.2 977.0h.7M203.3 1024.1h.7M237.4 999.0h.7M256.7 1002.0h.7M256.9 1014.7h.7M212.7 1046.6h.7M256.4 989.7h.7M237.1 986.0h.7M187.4 1018.5h.7M209.6 994.3h.7M211.8 981.6h.7M235.7 1009.1h.7M228.0 1002.3h.7M237.5 1031.9h.7M241.9 1020.1h.7M220.5 1011.8h.7M239.7 980.5h.7M228.2 1023.5h.7M254.7 1005.4h.7M230.1 1028.4h.7M199.2 1006.0h.7M192.6 1016.0h.7M223.0 1047.6h.7M262.3 1021.5h.7M187.7 1011.7h.7M226.9 1026.0h.7M229.3 1026.7h.7M193.4 998.5h.7M229.2 966.3h.7M239.9 1023.0h.7M242.8 983.7h.7M226.8 1025.6h.7M226.6 989.3h.7M222.4 995.7h.7M217.4 1018.4h.7M252.4 1026.7h.7M249.5 1043.3h.7M248.8 1028.4h.7M246.9 1018.0h.7M234.9 1013.8h.7M253.3 1015.0h.7M210.9 1008.9h.7M207.3 1024.3h.7M194.1 1001.4h.7M246.7 986.2h.7M182.3 1022.4h.7M243.5 1023.4h.7M240.3 1013.5h.7M228.4 995.9h.7M173.7 1013.5h.7M212.0 1025.6h.7M204.2 1035.6h.7M244.2 1004.7h.7M200.8 1030.2h.7M215.4 992.4h.7M194.1 1009.6h.7M238.3 1017.1h.7M231.5 998.3h.7M213.6 1023.9h.7" stroke="#ffffff" stroke-width="0.7" fill="none" opacity="0.8"/></g><rect x="164.8" y="949.5" width="98.3" height="99.4" fill="none" stroke="#8a8a8a" stroke-width="0.8"/><line x1="222.30" y1="949.50" x2="222.30" y2="1048.90" stroke="#333" stroke-width="0.8" stroke-linecap="butt"/><line x1="164.80" y1="993.50" x2="263.10" y2="993.50" stroke="#333" stroke-width="0.8" stroke-linecap="butt"/><text x="166.80" y="957.10" font-size="7.6" font-weight="bold" text-anchor="start" fill="#111">2.03%</text><text x="260.70" y="957.10" font-size="7.6" font-weight="bold" text-anchor="end" fill="#111">9.71%</text><text x="166.80" y="1046.50" font-size="7.6" font-weight="bold" text-anchor="start" fill="#111">60.0%</text><text x="260.70" y="1046.50" font-size="7.6" font-weight="bold" text-anchor="end" fill="#111">28.2%</text><text x="163.20" y="970.50" font-size="5.2" font-weight="bold" text-anchor="end" fill="#111">10<tspan font-size="3.54" dy="-2.18">4</tspan></text><line x1="163.20" y1="967.70" x2="164.80" y2="967.70" stroke="#666" stroke-width="0.5" stroke-linecap="butt"/><text x="163.20" y="998.00" font-size="5.2" font-weight="bold" text-anchor="end" fill="#111">10<tspan font-size="3.54" dy="-2.18">3</tspan></text><line x1="163.20" y1="995.20" x2="164.80" y2="995.20" stroke="#666" stroke-width="0.5" stroke-linecap="butt"/><text x="163.20" y="1023.80" font-size="5.2" font-weight="bold" text-anchor="end" fill="#111">10<tspan font-size="3.54" dy="-2.18">2</tspan></text><line x1="163.20" y1="1021.00" x2="164.80" y2="1021.00" stroke="#666" stroke-width="0.5" stroke-linecap="butt"/><text x="163.20" y="1046.20" font-size="5.2" font-weight="bold" text-anchor="end" fill="#111">10<tspan font-size="3.54" dy="-2.18">1</tspan></text><line x1="163.20" y1="1043.40" x2="164.80" y2="1043.40" stroke="#666" stroke-width="0.5" stroke-linecap="butt"/><text x="176.30" y="1058.50" font-size="5.2" font-weight="bold" text-anchor="end" fill="#111">10<tspan font-size="3.54" dy="-2.18">1</tspan></text><line x1="174.70" y1="1048.90" x2="174.70" y2="1050.70" stroke="#666" stroke-width="0.5" stroke-linecap="butt"/><text x="194.20" y="1058.50" font-size="5.2" font-weight="bold" text-anchor="end" fill="#111">10<tspan font-size="3.54" dy="-2.18">2</tspan></text><line x1="192.60" y1="1048.90" x2="192.60" y2="1050.70" stroke="#666" stroke-width="0.5" stroke-linecap="butt"/><text x="215.30" y="1058.50" font-size="5.2" font-weight="bold" text-anchor="end" fill="#111">10<tspan font-size="3.54" dy="-2.18">3</tspan></text><line x1="213.70" y1="1048.90" x2="213.70" y2="1050.70" stroke="#666" stroke-width="0.5" stroke-linecap="butt"/><text x="235.60" y="1058.50" font-size="5.2" font-weight="bold" text-anchor="end" fill="#111">10<tspan font-size="3.54" dy="-2.18">4</tspan></text><line x1="234.00" y1="1048.90" x2="234.00" y2="1050.70" stroke="#666" stroke-width="0.5" stroke-linecap="butt"/><text x="256.70" y="1058.50" font-size="5.2" font-weight="bold" text-anchor="end" fill="#111">10<tspan font-size="3.54" dy="-2.18">5</tspan></text><line x1="255.10" y1="1048.90" x2="255.10" y2="1050.70" stroke="#666" stroke-width="0.5" stroke-linecap="butt"/><text x="99.30" y="1084.00" font-size="12.8" font-weight="bold" text-anchor="middle" fill="#111">CD4</text><line x1="81.70" y1="1079.60" x2="38.00" y2="1079.60" stroke="#111" stroke-width="1.2" stroke-linecap="butt"/><polygon points="34.5,1079.6 40.5,1077.2 40.5,1082" fill="#111"/><text x="193.20" y="1084.00" font-size="12.8" font-weight="bold" text-anchor="middle" fill="#111">CD8</text><line x1="208.30" y1="1079.60" x2="251.00" y2="1079.60" stroke="#111" stroke-width="1.2" stroke-linecap="butt"/><polygon points="254.6,1079.6 248.6,1077.2 248.6,1082" fill="#111"/><text x="142.80" y="1039.00" font-size="12.8" font-weight="bold" text-anchor="middle" fill="#111" transform="rotate(-90 142.80 1039.00)">CD3</text><line x1="138.40" y1="1012.80" x2="138.40" y2="967.50" stroke="#111" stroke-width="1.2" stroke-linecap="butt"/><polygon points="138.4,964 136,970 140.8,970" fill="#111"/><line x1="290.40" y1="951.30" x2="290.40" y2="1057.80" stroke="#111" stroke-width="1.8" stroke-linecap="butt"/><line x1="289.65" y1="1056.90" x2="470.10" y2="1056.90" stroke="#111" stroke-width="1.8" stroke-linecap="butt"/><line x1="287.60" y1="1056.90" x2="290.40" y2="1056.90" stroke="#111" stroke-width="1.2" stroke-linecap="butt"/><text x="287.20" y="1060.20" font-size="9.2" font-weight="bold" text-anchor="end" fill="#111">0</text><line x1="287.60" y1="1030.60" x2="290.40" y2="1030.60" stroke="#111" stroke-width="1.2" stroke-linecap="butt"/><text x="287.20" y="1033.90" font-size="9.2" font-weight="bold" text-anchor="end" fill="#111">1</text><line x1="287.60" y1="1004.30" x2="290.40" y2="1004.30" stroke="#111" stroke-width="1.2" stroke-linecap="butt"/><text x="287.20" y="1007.60" font-size="9.2" font-weight="bold" text-anchor="end" fill="#111">2</text><line x1="287.60" y1="978.00" x2="290.40" y2="978.00" stroke="#111" stroke-width="1.2" stroke-linecap="butt"/><text x="287.20" y="981.30" font-size="9.2" font-weight="bold" text-anchor="end" fill="#111">3</text><line x1="287.60" y1="951.70" x2="290.40" y2="951.70" stroke="#111" stroke-width="1.2" stroke-linecap="butt"/><text x="287.20" y="955.00" font-size="9.2" font-weight="bold" text-anchor="end" fill="#111">4</text><text x="277.3" y="1002.6" font-size="13.3" font-weight="bold" text-anchor="middle" fill="#111" transform="rotate(-90 277.3 1002.6)">IL-4<tspan font-size="8.6" dy="-4.6">+</tspan><tspan dy="4.6">CD4</tspan><tspan font-size="8.6" dy="-4.6">+</tspan><tspan dy="4.6">CD3</tspan><tspan font-size="8.6" dy="-4.6">+</tspan><tspan dy="4.6"> (%)</tspan></text><rect x="296.75" y="1046.60" width="10.30" height="10.30" fill="none" stroke="#777" stroke-width="1.3"/><line x1="301.90" y1="1056.90" x2="301.90" y2="1060.30" stroke="#111" stroke-width="1.2" stroke-linecap="butt"/><line x1="301.90" y1="1044.50" x2="301.90" y2="1048.50" stroke="#777" stroke-width="1.1" stroke-linecap="butt"/><line x1="298.70" y1="1044.50" x2="305.10" y2="1044.50" stroke="#777" stroke-width="1.1" stroke-linecap="butt"/><line x1="298.70" y1="1048.50" x2="305.10" y2="1048.50" stroke="#777" stroke-width="1.1" stroke-linecap="butt"/><circle cx="299.99" cy="1048.35" r="1.0" fill="#777"/><circle cx="299.28" cy="1047.32" r="1.0" fill="#777"/><circle cx="299.00" cy="1045.49" r="1.0" fill="#777"/><circle cx="305.39" cy="1045.34" r="1.0" fill="#777"/><rect x="311.75" y="1037.80" width="10.30" height="19.10" fill="none" stroke="#777" stroke-width="1.3"/><line x1="316.90" y1="1056.90" x2="316.90" y2="1060.30" stroke="#111" stroke-width="1.2" stroke-linecap="butt"/><line x1="316.90" y1="1031.70" x2="316.90" y2="1042.00" stroke="#777" stroke-width="1.1" stroke-linecap="butt"/><line x1="313.70" y1="1031.70" x2="320.10" y2="1031.70" stroke="#777" stroke-width="1.1" stroke-linecap="butt"/><line x1="313.70" y1="1042.00" x2="320.10" y2="1042.00" stroke="#777" stroke-width="1.1" stroke-linecap="butt"/><rect x="316.89" y="1035.43" width="2.0" height="2.0" fill="#777"/><rect x="315.57" y="1035.80" width="2.0" height="2.0" fill="#777"/><rect x="313.75" y="1039.25" width="2.0" height="2.0" fill="#777"/><rect x="313.03" y="1033.11" width="2.0" height="2.0" fill="#777"/><rect x="343.95" y="1042.90" width="10.30" height="14.00" fill="none" stroke="#af5fb3" stroke-width="1.3"/><line x1="349.10" y1="1056.90" x2="349.10" y2="1060.30" stroke="#111" stroke-width="1.2" stroke-linecap="butt"/><line x1="349.10" y1="1041.90" x2="349.10" y2="1043.90" stroke="#af5fb3" stroke-width="1.1" stroke-linecap="butt"/><line x1="345.90" y1="1041.90" x2="352.30" y2="1041.90" stroke="#af5fb3" stroke-width="1.1" stroke-linecap="butt"/><line x1="345.90" y1="1043.90" x2="352.30" y2="1043.90" stroke="#af5fb3" stroke-width="1.1" stroke-linecap="butt"/><polygon points="345.74,1041.23 346.84,1043.33 344.64,1043.33" fill="#af5fb3"/><polygon points="348.45,1042.50 349.55,1044.60 347.35,1044.60" fill="#af5fb3"/><polygon points="348.25,1040.93 349.35,1043.03 347.15,1043.03" fill="#af5fb3"/><polygon points="347.41,1042.68 348.51,1044.78 346.31,1044.78" fill="#af5fb3"/><rect x="358.95" y="988.60" width="10.30" height="68.30" fill="none" stroke="#af5fb3" stroke-width="1.3"/><line x1="364.10" y1="1056.90" x2="364.10" y2="1060.30" stroke="#111" stroke-width="1.2" stroke-linecap="butt"/><line x1="364.10" y1="979.40" x2="364.10" y2="998.00" stroke="#af5fb3" stroke-width="1.1" stroke-linecap="butt"/><line x1="360.90" y1="979.40" x2="367.30" y2="979.40" stroke="#af5fb3" stroke-width="1.1" stroke-linecap="butt"/><line x1="360.90" y1="998.00" x2="367.30" y2="998.00" stroke="#af5fb3" stroke-width="1.1" stroke-linecap="butt"/><polygon points="361.04,992.14 362.14,990.04 359.94,990.04" fill="#af5fb3"/><polygon points="363.24,992.89 364.34,990.79 362.14,990.79" fill="#af5fb3"/><polygon points="362.97,993.46 364.07,991.36 361.87,991.36" fill="#af5fb3"/><polygon points="364.08,992.68 365.18,990.58 362.98,990.58" fill="#af5fb3"/><rect x="391.15" y="1041.50" width="10.30" height="15.40" fill="none" stroke="#ef8e7c" stroke-width="1.3"/><line x1="396.30" y1="1056.90" x2="396.30" y2="1060.30" stroke="#111" stroke-width="1.2" stroke-linecap="butt"/><line x1="396.30" y1="1040.30" x2="396.30" y2="1042.70" stroke="#ef8e7c" stroke-width="1.1" stroke-linecap="butt"/><line x1="393.10" y1="1040.30" x2="399.50" y2="1040.30" stroke="#ef8e7c" stroke-width="1.1" stroke-linecap="butt"/><line x1="393.10" y1="1042.70" x2="399.50" y2="1042.70" stroke="#ef8e7c" stroke-width="1.1" stroke-linecap="butt"/><circle cx="399.11" cy="1041.70" r="1.0" fill="#ef8e7c"/><circle cx="393.79" cy="1040.45" r="1.0" fill="#ef8e7c"/><circle cx="399.42" cy="1041.47" r="1.0" fill="#ef8e7c"/><circle cx="394.16" cy="1042.57" r="1.0" fill="#ef8e7c"/><rect x="406.05" y="981.40" width="10.30" height="75.50" fill="none" stroke="#ef8e7c" stroke-width="1.3"/><line x1="411.20" y1="1056.90" x2="411.20" y2="1060.30" stroke="#111" stroke-width="1.2" stroke-linecap="butt"/><line x1="411.20" y1="969.30" x2="411.20" y2="990.90" stroke="#ef8e7c" stroke-width="1.1" stroke-linecap="butt"/><line x1="408.00" y1="969.30" x2="414.40" y2="969.30" stroke="#ef8e7c" stroke-width="1.1" stroke-linecap="butt"/><line x1="408.00" y1="990.90" x2="414.40" y2="990.90" stroke="#ef8e7c" stroke-width="1.1" stroke-linecap="butt"/><polygon points="411.75,983.85 412.85,985.95 410.65,985.95" fill="#ef8e7c"/><polygon points="413.87,974.27 414.97,976.37 412.77,976.37" fill="#ef8e7c"/><polygon points="410.20,987.07 411.30,989.17 409.10,989.17" fill="#ef8e7c"/><polygon points="408.64,984.61 409.74,986.71 407.54,986.71" fill="#ef8e7c"/><rect x="438.25" y="1037.80" width="10.30" height="19.10" fill="none" stroke="#45a0a8" stroke-width="1.3"/><line x1="443.40" y1="1056.90" x2="443.40" y2="1060.30" stroke="#111" stroke-width="1.2" stroke-linecap="butt"/><line x1="443.40" y1="1031.30" x2="443.40" y2="1043.60" stroke="#45a0a8" stroke-width="1.1" stroke-linecap="butt"/><line x1="440.20" y1="1031.30" x2="446.60" y2="1031.30" stroke="#45a0a8" stroke-width="1.1" stroke-linecap="butt"/><line x1="440.20" y1="1043.60" x2="446.60" y2="1043.60" stroke="#45a0a8" stroke-width="1.1" stroke-linecap="butt"/><polygon points="440.58,1038.49 441.68,1039.79 440.58,1041.09 439.48,1039.79" fill="#45a0a8"/><polygon points="444.82,1041.68 445.92,1042.98 444.82,1044.28 443.72,1042.98" fill="#45a0a8"/><polygon points="445.80,1036.19 446.90,1037.49 445.80,1038.79 444.70,1037.49" fill="#45a0a8"/><polygon points="441.28,1031.85 442.38,1033.15 441.28,1034.45 440.18,1033.15" fill="#45a0a8"/><rect x="453.25" y="969.70" width="10.30" height="87.20" fill="none" stroke="#45a0a8" stroke-width="1.3"/><line x1="458.40" y1="1056.90" x2="458.40" y2="1060.30" stroke="#111" stroke-width="1.2" stroke-linecap="butt"/><line x1="458.40" y1="957.40" x2="458.40" y2="982.00" stroke="#45a0a8" stroke-width="1.1" stroke-linecap="butt"/><line x1="455.20" y1="957.40" x2="461.60" y2="957.40" stroke="#45a0a8" stroke-width="1.1" stroke-linecap="butt"/><line x1="455.20" y1="982.00" x2="461.60" y2="982.00" stroke="#45a0a8" stroke-width="1.1" stroke-linecap="butt"/><polygon points="458.60,971.14 459.70,969.04 457.50,969.04" fill="#45a0a8"/><polygon points="455.40,980.82 456.50,978.72 454.30,978.72" fill="#45a0a8"/><polygon points="458.45,975.85 459.55,973.75 457.35,973.75" fill="#45a0a8"/><polygon points="456.44,964.60 457.54,962.50 455.34,962.50" fill="#45a0a8"/><line x1="302.30" y1="1030.60" x2="316.70" y2="1030.60" stroke="#111" stroke-width="1.4" stroke-linecap="butt"/><text x="309.50" y="1027.40" font-size="7.6" font-weight="bold" text-anchor="middle" fill="#111">ns</text><line x1="350.10" y1="973.80" x2="364.90" y2="973.80" stroke="#111" stroke-width="1.4" stroke-linecap="butt"/><text x="357.50" y="972.50" font-size="9.1" font-weight="bold" text-anchor="middle" fill="#111">****</text><line x1="396.90" y1="964.60" x2="411.60" y2="964.60" stroke="#111" stroke-width="1.4" stroke-linecap="butt"/><text x="404.25" y="963.30" font-size="9.1" font-weight="bold" text-anchor="middle" fill="#111">****</text><line x1="443.80" y1="951.90" x2="458.40" y2="951.90" stroke="#111" stroke-width="1.4" stroke-linecap="butt"/><text x="451.10" y="950.60" font-size="9.1" font-weight="bold" text-anchor="middle" fill="#111">****</text><line x1="317.30" y1="941.00" x2="361.80" y2="941.00" stroke="#111" stroke-width="1.4" stroke-linecap="butt"/><text x="339.55" y="939.70" font-size="9.1" font-weight="bold" text-anchor="middle" fill="#111">***</text><line x1="366.90" y1="941.00" x2="411.60" y2="941.00" stroke="#111" stroke-width="1.4" stroke-linecap="butt"/><text x="389.25" y="937.80" font-size="7.6" font-weight="bold" text-anchor="middle" fill="#111">ns</text><line x1="414.70" y1="941.00" x2="458.40" y2="941.00" stroke="#111" stroke-width="1.4" stroke-linecap="butt"/><text x="436.55" y="937.80" font-size="7.6" font-weight="bold" text-anchor="middle" fill="#111">ns</text><line x1="364.90" y1="930.40" x2="458.40" y2="930.40" stroke="#111" stroke-width="1.4" stroke-linecap="butt"/><text x="411.65" y="927.20" font-size="7.6" font-weight="bold" text-anchor="middle" fill="#111">ns</text><line x1="317.30" y1="921.10" x2="408.60" y2="921.10" stroke="#111" stroke-width="1.4" stroke-linecap="butt"/><text x="362.95" y="919.80" font-size="9.1" font-weight="bold" text-anchor="middle" fill="#111">***</text><line x1="317.30" y1="912.70" x2="458.40" y2="912.70" stroke="#111" stroke-width="1.4" stroke-linecap="butt"/><text x="387.85" y="911.40" font-size="9.1" font-weight="bold" text-anchor="middle" fill="#111">****</text><text x="304.40" y="1067.00" font-size="9.4" font-weight="bold" text-anchor="end" fill="#111" transform="rotate(-45 304.40 1067.00)">Control</text><text x="319.40" y="1067.00" font-size="9.4" font-weight="bold" text-anchor="end" fill="#111" transform="rotate(-45 319.40 1067.00)">InHib</text><text x="351.60" y="1067.00" font-size="9.4" font-weight="bold" text-anchor="end" fill="#111" transform="rotate(-45 351.60 1067.00)">Control</text><text x="366.60" y="1067.00" font-size="9.4" font-weight="bold" text-anchor="end" fill="#111" transform="rotate(-45 366.60 1067.00)">InHib</text><text x="398.80" y="1067.00" font-size="9.4" font-weight="bold" text-anchor="end" fill="#111" transform="rotate(-45 398.80 1067.00)">Control</text><text x="413.70" y="1067.00" font-size="9.4" font-weight="bold" text-anchor="end" fill="#111" transform="rotate(-45 413.70 1067.00)">InHib</text><text x="445.90" y="1067.00" font-size="9.4" font-weight="bold" text-anchor="end" fill="#111" transform="rotate(-45 445.90 1067.00)">Control</text><text x="460.90" y="1067.00" font-size="9.4" font-weight="bold" text-anchor="end" fill="#111" transform="rotate(-45 460.90 1067.00)">InHib</text></g>
<g id="panel6"><line x1="616.50" y1="792.60" x2="616.50" y2="891.50" stroke="#111" stroke-width="1.8" stroke-linecap="butt"/><line x1="615.75" y1="890.60" x2="739.80" y2="890.60" stroke="#111" stroke-width="1.8" stroke-linecap="butt"/><line x1="613.50" y1="793.00" x2="616.50" y2="793.00" stroke="#111" stroke-width="1.2" stroke-linecap="butt"/><text x="613.10" y="796.40" font-size="8.5" font-weight="bold" text-anchor="end" fill="#111">10<tspan font-size="5.78" dy="-3.57">8</tspan></text><line x1="615.00" y1="806.66" x2="616.50" y2="806.66" stroke="#111" stroke-width="0.7" stroke-linecap="butt"/><line x1="615.00" y1="803.22" x2="616.50" y2="803.22" stroke="#111" stroke-width="0.7" stroke-linecap="butt"/><line x1="615.00" y1="800.78" x2="616.50" y2="800.78" stroke="#111" stroke-width="0.7" stroke-linecap="butt"/><line x1="615.00" y1="798.89" x2="616.50" y2="798.89" stroke="#111" stroke-width="0.7" stroke-linecap="butt"/><line x1="615.00" y1="797.34" x2="616.50" y2="797.34" stroke="#111" stroke-width="0.7" stroke-linecap="butt"/><line x1="615.00" y1="796.03" x2="616.50" y2="796.03" stroke="#111" stroke-width="0.7" stroke-linecap="butt"/><line x1="615.00" y1="794.89" x2="616.50" y2="794.89" stroke="#111" stroke-width="0.7" stroke-linecap="butt"/><line x1="615.00" y1="793.89" x2="616.50" y2="793.89" stroke="#111" stroke-width="0.7" stroke-linecap="butt"/><line x1="613.50" y1="812.10" x2="616.50" y2="812.10" stroke="#111" stroke-width="1.2" stroke-linecap="butt"/><text x="613.10" y="815.50" font-size="8.5" font-weight="bold" text-anchor="end" fill="#111">10<tspan font-size="5.78" dy="-3.57">7</tspan></text><line x1="615.00" y1="825.76" x2="616.50" y2="825.76" stroke="#111" stroke-width="0.7" stroke-linecap="butt"/><line x1="615.00" y1="822.32" x2="616.50" y2="822.32" stroke="#111" stroke-width="0.7" stroke-linecap="butt"/><line x1="615.00" y1="819.88" x2="616.50" y2="819.88" stroke="#111" stroke-width="0.7" stroke-linecap="butt"/><line x1="615.00" y1="817.99" x2="616.50" y2="817.99" stroke="#111" stroke-width="0.7" stroke-linecap="butt"/><line x1="615.00" y1="816.44" x2="616.50" y2="816.44" stroke="#111" stroke-width="0.7" stroke-linecap="butt"/><line x1="615.00" y1="815.13" x2="616.50" y2="815.13" stroke="#111" stroke-width="0.7" stroke-linecap="butt"/><line x1="615.00" y1="813.99" x2="616.50" y2="813.99" stroke="#111" stroke-width="0.7" stroke-linecap="butt"/><line x1="615.00" y1="812.99" x2="616.50" y2="812.99" stroke="#111" stroke-width="0.7" stroke-linecap="butt"/><line x1="613.50" y1="831.60" x2="616.50" y2="831.60" stroke="#111" stroke-width="1.2" stroke-linecap="butt"/><text x="613.10" y="835.00" font-size="8.5" font-weight="bold" text-anchor="end" fill="#111">10<tspan font-size="5.78" dy="-3.57">6</tspan></text><line x1="615.00" y1="845.26" x2="616.50" y2="845.26" stroke="#111" stroke-width="0.7" stroke-linecap="butt"/><line x1="615.00" y1="841.82" x2="616.50" y2="841.82" stroke="#111" stroke-width="0.7" stroke-linecap="butt"/><line x1="615.00" y1="839.38" x2="616.50" y2="839.38" stroke="#111" stroke-width="0.7" stroke-linecap="butt"/><line x1="615.00" y1="837.49" x2="616.50" y2="837.49" stroke="#111" stroke-width="0.7" stroke-linecap="butt"/><line x1="615.00" y1="835.94" x2="616.50" y2="835.94" stroke="#111" stroke-width="0.7" stroke-linecap="butt"/><line x1="615.00" y1="834.63" x2="616.50" y2="834.63" stroke="#111" stroke-width="0.7" stroke-linecap="butt"/><line x1="615.00" y1="833.49" x2="616.50" y2="833.49" stroke="#111" stroke-width="0.7" stroke-linecap="butt"/><line x1="615.00" y1="832.49" x2="616.50" y2="832.49" stroke="#111" stroke-width="0.7" stroke-linecap="butt"/><line x1="613.50" y1="851.20" x2="616.50" y2="851.20" stroke="#111" stroke-width="1.2" stroke-linecap="butt"/><text x="613.10" y="854.60" font-size="8.5" font-weight="bold" text-anchor="end" fill="#111">10<tspan font-size="5.78" dy="-3.57">5</tspan></text><line x1="615.00" y1="864.86" x2="616.50" y2="864.86" stroke="#111" stroke-width="0.7" stroke-linecap="butt"/><line x1="615.00" y1="861.42" x2="616.50" y2="861.42" stroke="#111" stroke-width="0.7" stroke-linecap="butt"/><line x1="615.00" y1="858.98" x2="616.50" y2="858.98" stroke="#111" stroke-width="0.7" stroke-linecap="butt"/><line x1="615.00" y1="857.09" x2="616.50" y2="857.09" stroke="#111" stroke-width="0.7" stroke-linecap="butt"/><line x1="615.00" y1="855.54" x2="616.50" y2="855.54" stroke="#111" stroke-width="0.7" stroke-linecap="butt"/><line x1="615.00" y1="854.23" x2="616.50" y2="854.23" stroke="#111" stroke-width="0.7" stroke-linecap="butt"/><line x1="615.00" y1="853.09" x2="616.50" y2="853.09" stroke="#111" stroke-width="0.7" stroke-linecap="butt"/><line x1="615.00" y1="852.09" x2="616.50" y2="852.09" stroke="#111" stroke-width="0.7" stroke-linecap="butt"/><line x1="613.50" y1="870.70" x2="616.50" y2="870.70" stroke="#111" stroke-width="1.2" stroke-linecap="butt"/><text x="613.10" y="874.10" font-size="8.5" font-weight="bold" text-anchor="end" fill="#111">10<tspan font-size="5.78" dy="-3.57">4</tspan></text><line x1="615.00" y1="884.36" x2="616.50" y2="884.36" stroke="#111" stroke-width="0.7" stroke-linecap="butt"/><line x1="615.00" y1="880.92" x2="616.50" y2="880.92" stroke="#111" stroke-width="0.7" stroke-linecap="butt"/><line x1="615.00" y1="878.48" x2="616.50" y2="878.48" stroke="#111" stroke-width="0.7" stroke-linecap="butt"/><line x1="615.00" y1="876.59" x2="616.50" y2="876.59" stroke="#111" stroke-width="0.7" stroke-linecap="butt"/><line x1="615.00" y1="875.04" x2="616.50" y2="875.04" stroke="#111" stroke-width="0.7" stroke-linecap="butt"/><line x1="615.00" y1="873.73" x2="616.50" y2="873.73" stroke="#111" stroke-width="0.7" stroke-linecap="butt"/><line x1="615.00" y1="872.59" x2="616.50" y2="872.59" stroke="#111" stroke-width="0.7" stroke-linecap="butt"/><line x1="615.00" y1="871.59" x2="616.50" y2="871.59" stroke="#111" stroke-width="0.7" stroke-linecap="butt"/><line x1="613.50" y1="890.60" x2="616.50" y2="890.60" stroke="#111" stroke-width="1.2" stroke-linecap="butt"/><text x="613.10" y="894.00" font-size="8.5" font-weight="bold" text-anchor="end" fill="#111">10<tspan font-size="5.78" dy="-3.57">3</tspan></text><text x="599.20" y="839.50" font-size="11.2" font-weight="bold" text-anchor="middle" fill="#111" transform="rotate(-90 599.20 839.50)">CFU/mL Blood</text><line x1="616.50" y1="890.60" x2="616.50" y2="893.80" stroke="#111" stroke-width="1.2" stroke-linecap="butt"/><text x="616.50" y="902.40" font-size="9.6" font-weight="bold" text-anchor="middle" fill="#111">0</text><line x1="624.90" y1="890.60" x2="624.90" y2="893.80" stroke="#111" stroke-width="1.2" stroke-linecap="butt"/><text x="624.90" y="902.40" font-size="9.6" font-weight="bold" text-anchor="middle" fill="#111">2</text><line x1="637.00" y1="890.60" x2="637.00" y2="893.80" stroke="#111" stroke-width="1.2" stroke-linecap="butt"/><text x="637.00" y="902.40" font-size="9.6" font-weight="bold" text-anchor="middle" fill="#111">5</text><line x1="657.50" y1="890.60" x2="657.50" y2="893.80" stroke="#111" stroke-width="1.2" stroke-linecap="butt"/><text x="657.50" y="902.40" font-size="9.6" font-weight="bold" text-anchor="middle" fill="#111">10</text><line x1="698.60" y1="890.60" x2="698.60" y2="893.80" stroke="#111" stroke-width="1.2" stroke-linecap="butt"/><text x="698.60" y="902.40" font-size="9.6" font-weight="bold" text-anchor="middle" fill="#111">20</text><line x1="739.60" y1="890.60" x2="739.60" y2="893.80" stroke="#111" stroke-width="1.2" stroke-linecap="butt"/><text x="739.60" y="902.40" font-size="9.6" font-weight="bold" text-anchor="middle" fill="#111">30</text><text x="678.60" y="914.60" font-size="11.05" font-weight="bold" text-anchor="middle" fill="#111">Minute after infection</text><polyline points="616.5,809.2 624.9,811.7 637.0,817.4 657.5,821.9 698.6,846.7 739.6,859.4" fill="none" stroke="#555" stroke-width="1.9" stroke-linejoin="round"/><line x1="616.50" y1="807.40" x2="616.50" y2="811.00" stroke="#555" stroke-width="0.9" stroke-linecap="butt"/><line x1="614.50" y1="807.40" x2="618.50" y2="807.40" stroke="#555" stroke-width="0.9" stroke-linecap="butt"/><line x1="614.50" y1="811.00" x2="618.50" y2="811.00" stroke="#555" stroke-width="0.9" stroke-linecap="butt"/><rect x="614.40" y="807.10" width="4.2" height="4.2" fill="#555"/><line x1="624.90" y1="809.90" x2="624.90" y2="813.50" stroke="#555" stroke-width="0.9" stroke-linecap="butt"/><line x1="622.90" y1="809.90" x2="626.90" y2="809.90" stroke="#555" stroke-width="0.9" stroke-linecap="butt"/><line x1="622.90" y1="813.50" x2="626.90" y2="813.50" stroke="#555" stroke-width="0.9" stroke-linecap="butt"/><rect x="622.80" y="809.60" width="4.2" height="4.2" fill="#555"/><line x1="637.00" y1="815.60" x2="637.00" y2="819.20" stroke="#555" stroke-width="0.9" stroke-linecap="butt"/><line x1="635.00" y1="815.60" x2="639.00" y2="815.60" stroke="#555" stroke-width="0.9" stroke-linecap="butt"/><line x1="635.00" y1="819.20" x2="639.00" y2="819.20" stroke="#555" stroke-width="0.9" stroke-linecap="butt"/><rect x="634.90" y="815.30" width="4.2" height="4.2" fill="#555"/><line x1="657.50" y1="820.10" x2="657.50" y2="823.70" stroke="#555" stroke-width="0.9" stroke-linecap="butt"/><line x1="655.50" y1="820.10" x2="659.50" y2="820.10" stroke="#555" stroke-width="0.9" stroke-linecap="butt"/><line x1="655.50" y1="823.70" x2="659.50" y2="823.70" stroke="#555" stroke-width="0.9" stroke-linecap="butt"/><rect x="655.40" y="819.80" width="4.2" height="4.2" fill="#555"/><line x1="698.60" y1="844.90" x2="698.60" y2="848.50" stroke="#555" stroke-width="0.9" stroke-linecap="butt"/><line x1="696.60" y1="844.90" x2="700.60" y2="844.90" stroke="#555" stroke-width="0.9" stroke-linecap="butt"/><line x1="696.60" y1="848.50" x2="700.60" y2="848.50" stroke="#555" stroke-width="0.9" stroke-linecap="butt"/><rect x="696.50" y="844.60" width="4.2" height="4.2" fill="#555"/><line x1="739.60" y1="857.60" x2="739.60" y2="861.20" stroke="#555" stroke-width="0.9" stroke-linecap="butt"/><line x1="737.60" y1="857.60" x2="741.60" y2="857.60" stroke="#555" stroke-width="0.9" stroke-linecap="butt"/><line x1="737.60" y1="861.20" x2="741.60" y2="861.20" stroke="#555" stroke-width="0.9" stroke-linecap="butt"/><rect x="737.50" y="857.30" width="4.2" height="4.2" fill="#555"/><polyline points="616.5,809.2 624.9,817.0 637.0,825.8 657.5,832.0 698.6,857.0 739.6,866.4" fill="none" stroke="#b565b8" stroke-width="1.9" stroke-linejoin="round"/><line x1="616.50" y1="807.40" x2="616.50" y2="811.00" stroke="#b565b8" stroke-width="0.9" stroke-linecap="butt"/><line x1="614.50" y1="807.40" x2="618.50" y2="807.40" stroke="#b565b8" stroke-width="0.9" stroke-linecap="butt"/><line x1="614.50" y1="811.00" x2="618.50" y2="811.00" stroke="#b565b8" stroke-width="0.9" stroke-linecap="butt"/><polygon points="616.50,806.68 618.81,811.09 614.19,811.09" fill="#b565b8"/><line x1="624.90" y1="815.20" x2="624.90" y2="818.80" stroke="#b565b8" stroke-width="0.9" stroke-linecap="butt"/><line x1="622.90" y1="815.20" x2="626.90" y2="815.20" stroke="#b565b8" stroke-width="0.9" stroke-linecap="butt"/><line x1="622.90" y1="818.80" x2="626.90" y2="818.80" stroke="#b565b8" stroke-width="0.9" stroke-linecap="butt"/><polygon points="624.90,814.48 627.21,818.89 622.59,818.89" fill="#b565b8"/><line x1="637.00" y1="824.00" x2="637.00" y2="827.60" stroke="#b565b8" stroke-width="0.9" stroke-linecap="butt"/><line x1="635.00" y1="824.00" x2="639.00" y2="824.00" stroke="#b565b8" stroke-width="0.9" stroke-linecap="butt"/><line x1="635.00" y1="827.60" x2="639.00" y2="827.60" stroke="#b565b8" stroke-width="0.9" stroke-linecap="butt"/><polygon points="637.00,823.28 639.31,827.69 634.69,827.69" fill="#b565b8"/><line x1="657.50" y1="830.20" x2="657.50" y2="833.80" stroke="#b565b8" stroke-width="0.9" stroke-linecap="butt"/><line x1="655.50" y1="830.20" x2="659.50" y2="830.20" stroke="#b565b8" stroke-width="0.9" stroke-linecap="butt"/><line x1="655.50" y1="833.80" x2="659.50" y2="833.80" stroke="#b565b8" stroke-width="0.9" stroke-linecap="butt"/><polygon points="657.50,829.48 659.81,833.89 655.19,833.89" fill="#b565b8"/><line x1="698.60" y1="855.20" x2="698.60" y2="858.80" stroke="#b565b8" stroke-width="0.9" stroke-linecap="butt"/><line x1="696.60" y1="855.20" x2="700.60" y2="855.20" stroke="#b565b8" stroke-width="0.9" stroke-linecap="butt"/><line x1="696.60" y1="858.80" x2="700.60" y2="858.80" stroke="#b565b8" stroke-width="0.9" stroke-linecap="butt"/><polygon points="698.60,854.48 700.91,858.89 696.29,858.89" fill="#b565b8"/><line x1="739.60" y1="864.60" x2="739.60" y2="868.20" stroke="#b565b8" stroke-width="0.9" stroke-linecap="butt"/><line x1="737.60" y1="864.60" x2="741.60" y2="864.60" stroke="#b565b8" stroke-width="0.9" stroke-linecap="butt"/><line x1="737.60" y1="868.20" x2="741.60" y2="868.20" stroke="#b565b8" stroke-width="0.9" stroke-linecap="butt"/><polygon points="739.60,863.88 741.91,868.29 737.29,868.29" fill="#b565b8"/><polyline points="616.5,809.2 624.9,817.0 637.0,826.0 657.5,833.0 698.6,862.3 739.6,870.7" fill="none" stroke="#3f8c96" stroke-width="1.9" stroke-linejoin="round"/><line x1="616.50" y1="807.40" x2="616.50" y2="811.00" stroke="#3f8c96" stroke-width="0.9" stroke-linecap="butt"/><line x1="614.50" y1="807.40" x2="618.50" y2="807.40" stroke="#3f8c96" stroke-width="0.9" stroke-linecap="butt"/><line x1="614.50" y1="811.00" x2="618.50" y2="811.00" stroke="#3f8c96" stroke-width="0.9" stroke-linecap="butt"/><polygon points="616.50,806.47 618.81,809.20 616.50,811.93 614.19,809.20" fill="#3f8c96"/><line x1="624.90" y1="815.20" x2="624.90" y2="818.80" stroke="#3f8c96" stroke-width="0.9" stroke-linecap="butt"/><line x1="622.90" y1="815.20" x2="626.90" y2="815.20" stroke="#3f8c96" stroke-width="0.9" stroke-linecap="butt"/><line x1="622.90" y1="818.80" x2="626.90" y2="818.80" stroke="#3f8c96" stroke-width="0.9" stroke-linecap="butt"/><polygon points="624.90,814.27 627.21,817.00 624.90,819.73 622.59,817.00" fill="#3f8c96"/><line x1="637.00" y1="824.20" x2="637.00" y2="827.80" stroke="#3f8c96" stroke-width="0.9" stroke-linecap="butt"/><line x1="635.00" y1="824.20" x2="639.00" y2="824.20" stroke="#3f8c96" stroke-width="0.9" stroke-linecap="butt"/><line x1="635.00" y1="827.80" x2="639.00" y2="827.80" stroke="#3f8c96" stroke-width="0.9" stroke-linecap="butt"/><polygon points="637.00,823.27 639.31,826.00 637.00,828.73 634.69,826.00" fill="#3f8c96"/><line x1="657.50" y1="831.20" x2="657.50" y2="834.80" stroke="#3f8c96" stroke-width="0.9" stroke-linecap="butt"/><line x1="655.50" y1="831.20" x2="659.50" y2="831.20" stroke="#3f8c96" stroke-width="0.9" stroke-linecap="butt"/><line x1="655.50" y1="834.80" x2="659.50" y2="834.80" stroke="#3f8c96" stroke-width="0.9" stroke-linecap="butt"/><polygon points="657.50,830.27 659.81,833.00 657.50,835.73 655.19,833.00" fill="#3f8c96"/><line x1="698.60" y1="860.50" x2="698.60" y2="864.10" stroke="#3f8c96" stroke-width="0.9" stroke-linecap="butt"/><line x1="696.60" y1="860.50" x2="700.60" y2="860.50" stroke="#3f8c96" stroke-width="0.9" stroke-linecap="butt"/><line x1="696.60" y1="864.10" x2="700.60" y2="864.10" stroke="#3f8c96" stroke-width="0.9" stroke-linecap="butt"/><polygon points="698.60,859.57 700.91,862.30 698.60,865.03 696.29,862.30" fill="#3f8c96"/><line x1="739.60" y1="868.90" x2="739.60" y2="872.50" stroke="#3f8c96" stroke-width="0.9" stroke-linecap="butt"/><line x1="737.60" y1="868.90" x2="741.60" y2="868.90" stroke="#3f8c96" stroke-width="0.9" stroke-linecap="butt"/><line x1="737.60" y1="872.50" x2="741.60" y2="872.50" stroke="#3f8c96" stroke-width="0.9" stroke-linecap="butt"/><polygon points="739.60,867.97 741.91,870.70 739.60,873.43 737.29,870.70" fill="#3f8c96"/><polyline points="616.5,809.2 624.9,817.0 637.0,825.8 657.5,831.6 698.6,858.0 739.6,866.2" fill="none" stroke="#ef8e7c" stroke-width="1.9" stroke-linejoin="round"/><line x1="616.50" y1="807.40" x2="616.50" y2="811.00" stroke="#ef8e7c" stroke-width="0.9" stroke-linecap="butt"/><line x1="614.50" y1="807.40" x2="618.50" y2="807.40" stroke="#ef8e7c" stroke-width="0.9" stroke-linecap="butt"/><line x1="614.50" y1="811.00" x2="618.50" y2="811.00" stroke="#ef8e7c" stroke-width="0.9" stroke-linecap="butt"/><polygon points="616.50,806.47 618.81,809.20 616.50,811.93 614.19,809.20" fill="#ef8e7c"/><line x1="624.90" y1="815.20" x2="624.90" y2="818.80" stroke="#ef8e7c" stroke-width="0.9" stroke-linecap="butt"/><line x1="622.90" y1="815.20" x2="626.90" y2="815.20" stroke="#ef8e7c" stroke-width="0.9" stroke-linecap="butt"/><line x1="622.90" y1="818.80" x2="626.90" y2="818.80" stroke="#ef8e7c" stroke-width="0.9" stroke-linecap="butt"/><polygon points="624.90,814.27 627.21,817.00 624.90,819.73 622.59,817.00" fill="#ef8e7c"/><line x1="637.00" y1="824.00" x2="637.00" y2="827.60" stroke="#ef8e7c" stroke-width="0.9" stroke-linecap="butt"/><line x1="635.00" y1="824.00" x2="639.00" y2="824.00" stroke="#ef8e7c" stroke-width="0.9" stroke-linecap="butt"/><line x1="635.00" y1="827.60" x2="639.00" y2="827.60" stroke="#ef8e7c" stroke-width="0.9" stroke-linecap="butt"/><polygon points="637.00,823.07 639.31,825.80 637.00,828.53 634.69,825.80" fill="#ef8e7c"/><line x1="657.50" y1="829.80" x2="657.50" y2="833.40" stroke="#ef8e7c" stroke-width="0.9" stroke-linecap="butt"/><line x1="655.50" y1="829.80" x2="659.50" y2="829.80" stroke="#ef8e7c" stroke-width="0.9" stroke-linecap="butt"/><line x1="655.50" y1="833.40" x2="659.50" y2="833.40" stroke="#ef8e7c" stroke-width="0.9" stroke-linecap="butt"/><polygon points="657.50,828.87 659.81,831.60 657.50,834.33 655.19,831.60" fill="#ef8e7c"/><line x1="698.60" y1="856.20" x2="698.60" y2="859.80" stroke="#ef8e7c" stroke-width="0.9" stroke-linecap="butt"/><line x1="696.60" y1="856.20" x2="700.60" y2="856.20" stroke="#ef8e7c" stroke-width="0.9" stroke-linecap="butt"/><line x1="696.60" y1="859.80" x2="700.60" y2="859.80" stroke="#ef8e7c" stroke-width="0.9" stroke-linecap="butt"/><polygon points="698.60,855.27 700.91,858.00 698.60,860.73 696.29,858.00" fill="#ef8e7c"/><line x1="739.60" y1="864.40" x2="739.60" y2="868.00" stroke="#ef8e7c" stroke-width="0.9" stroke-linecap="butt"/><line x1="737.60" y1="864.40" x2="741.60" y2="864.40" stroke="#ef8e7c" stroke-width="0.9" stroke-linecap="butt"/><line x1="737.60" y1="868.00" x2="741.60" y2="868.00" stroke="#ef8e7c" stroke-width="0.9" stroke-linecap="butt"/><polygon points="739.60,863.47 741.91,866.20 739.60,868.93 737.29,866.20" fill="#ef8e7c"/><text x="648.4" y="814.4" font-size="6.3" font-weight="bold" fill="#666">CT<tspan font-size="4.2" dy="1.3">50</tspan><tspan dy="-1.3">= 1.7 min</tspan></text><text x="624.9" y="846" font-size="6.3" font-weight="bold" fill="#ef8e7c">CT<tspan font-size="4.2" dy="1.3">50</tspan><tspan dy="-1.3">= 0.8 min</tspan></text><text x="624.9" y="856.7" font-size="6.3" font-weight="bold" fill="#3f8c96">CT<tspan font-size="4.2" dy="1.3">50</tspan><tspan dy="-1.3">= 0.7 min</tspan></text><text x="624.9" y="866.8" font-size="6.3" font-weight="bold" fill="#b565b8">CT<tspan font-size="4.2" dy="1.3">50</tspan><tspan dy="-1.3">= 0.7 min</tspan></text><line x1="698.80" y1="794.00" x2="706.00" y2="794.00" stroke="#ef8e7c" stroke-width="1.4" stroke-linecap="butt"/><polygon points="702.40,791.40 704.60,794.00 702.40,796.60 700.20,794.00" fill="#ef8e7c"/><text x="711.80" y="797.10" font-size="8.6" font-weight="bold" text-anchor="start" fill="#111">4-TT</text><line x1="698.80" y1="803.10" x2="706.00" y2="803.10" stroke="#3f8c96" stroke-width="1.4" stroke-linecap="butt"/><polygon points="702.40,800.50 704.60,803.10 702.40,805.70 700.20,803.10" fill="#3f8c96"/><text x="711.80" y="806.20" font-size="8.6" font-weight="bold" text-anchor="start" fill="#111">4-TT + Alum</text><line x1="698.80" y1="812.20" x2="706.00" y2="812.20" stroke="#b565b8" stroke-width="1.4" stroke-linecap="butt"/><polygon points="702.40,809.80 704.60,814.00 700.20,814.00" fill="#b565b8"/><text x="711.80" y="815.30" font-size="8.6" font-weight="bold" text-anchor="start" fill="#111">Hib vaccine</text><line x1="698.80" y1="821.30" x2="706.00" y2="821.30" stroke="#555" stroke-width="1.4" stroke-linecap="butt"/><rect x="700.40" y="819.30" width="4.0" height="4.0" fill="#555"/><text x="711.80" y="824.40" font-size="8.6" font-weight="bold" text-anchor="start" fill="#111">Control</text><line x1="841.40" y1="791.00" x2="841.40" y2="890.50" stroke="#111" stroke-width="1.8" stroke-linecap="butt"/><line x1="840.65" y1="889.60" x2="939.60" y2="889.60" stroke="#111" stroke-width="1.8" stroke-linecap="butt"/><line x1="838.40" y1="889.60" x2="841.40" y2="889.60" stroke="#111" stroke-width="1.2" stroke-linecap="butt"/><text x="837.60" y="892.80" font-size="8.8" font-weight="bold" text-anchor="end" fill="#111">0</text><line x1="838.40" y1="873.20" x2="841.40" y2="873.20" stroke="#111" stroke-width="1.2" stroke-linecap="butt"/><text x="837.60" y="876.40" font-size="8.8" font-weight="bold" text-anchor="end" fill="#111">2</text><line x1="838.40" y1="856.80" x2="841.40" y2="856.80" stroke="#111" stroke-width="1.2" stroke-linecap="butt"/><text x="837.60" y="860.00" font-size="8.8" font-weight="bold" text-anchor="end" fill="#111">4</text><line x1="838.40" y1="840.40" x2="841.40" y2="840.40" stroke="#111" stroke-width="1.2" stroke-linecap="butt"/><text x="837.60" y="843.60" font-size="8.8" font-weight="bold" text-anchor="end" fill="#111">6</text><line x1="838.40" y1="824.00" x2="841.40" y2="824.00" stroke="#111" stroke-width="1.2" stroke-linecap="butt"/><text x="837.60" y="827.20" font-size="8.8" font-weight="bold" text-anchor="end" fill="#111">8</text><line x1="838.40" y1="807.60" x2="841.40" y2="807.60" stroke="#111" stroke-width="1.2" stroke-linecap="butt"/><text x="837.60" y="810.80" font-size="8.8" font-weight="bold" text-anchor="end" fill="#111">10</text><line x1="838.40" y1="791.20" x2="841.40" y2="791.20" stroke="#111" stroke-width="1.2" stroke-linecap="butt"/><text x="837.60" y="794.40" font-size="8.8" font-weight="bold" text-anchor="end" fill="#111">12</text><text x="823.8" y="837.5" font-size="11.4" font-weight="bold" text-anchor="middle" fill="#111" transform="rotate(-90 823.8 837.5)">CFU count (× 10<tspan font-size="7.6" dy="-4.2">6</tspan><tspan dy="4.2">)</tspan></text><line x1="853.70" y1="814.98" x2="853.70" y2="810.47" stroke="#111" stroke-width="1.3" stroke-linecap="butt"/><line x1="850.10" y1="810.47" x2="857.30" y2="810.47" stroke="#111" stroke-width="1.3" stroke-linecap="butt"/><rect x="847.9" y="815.0" width="11.6" height="39.4" fill="#5ba4c4" stroke="#111" stroke-width="1.2"/><rect x="847.9" y="854.3" width="11.6" height="32.4" fill="#e8847a" stroke="#111" stroke-width="1.2"/><rect x="847.9" y="886.7" width="11.6" height="2.9" fill="#7a1a14" stroke="#111" stroke-width="1.0"/><line x1="851.20" y1="852.74" x2="856.20" y2="852.74" stroke="#111" stroke-width="0.9" stroke-linecap="butt"/><line x1="853.70" y1="889.60" x2="853.70" y2="892.80" stroke="#111" stroke-width="1.2" stroke-linecap="butt"/><line x1="878.10" y1="833.43" x2="878.10" y2="830.97" stroke="#111" stroke-width="1.3" stroke-linecap="butt"/><line x1="874.50" y1="830.97" x2="881.70" y2="830.97" stroke="#111" stroke-width="1.3" stroke-linecap="butt"/><rect x="872.3" y="833.4" width="11.6" height="48.0" fill="#5ba4c4" stroke="#111" stroke-width="1.2"/><rect x="872.3" y="881.4" width="11.6" height="7.2" fill="#e8847a" stroke="#111" stroke-width="1.2"/><rect x="872.3" y="888.6" width="11.6" height="1.0" fill="#7a1a14" stroke="#111" stroke-width="1.0"/><line x1="875.60" y1="879.80" x2="880.60" y2="879.80" stroke="#111" stroke-width="0.9" stroke-linecap="butt"/><line x1="878.10" y1="889.60" x2="878.10" y2="892.80" stroke="#111" stroke-width="1.2" stroke-linecap="butt"/><line x1="902.50" y1="833.43" x2="902.50" y2="830.97" stroke="#111" stroke-width="1.3" stroke-linecap="butt"/><line x1="898.90" y1="830.97" x2="906.10" y2="830.97" stroke="#111" stroke-width="1.3" stroke-linecap="butt"/><rect x="896.7" y="833.4" width="11.6" height="47.1" fill="#5ba4c4" stroke="#111" stroke-width="1.2"/><rect x="896.7" y="880.6" width="11.6" height="8.2" fill="#e8847a" stroke="#111" stroke-width="1.2"/><rect x="896.7" y="888.8" width="11.6" height="0.8" fill="#7a1a14" stroke="#111" stroke-width="1.0"/><line x1="900.00" y1="878.98" x2="905.00" y2="878.98" stroke="#111" stroke-width="0.9" stroke-linecap="butt"/><line x1="902.50" y1="889.60" x2="902.50" y2="892.80" stroke="#111" stroke-width="1.2" stroke-linecap="butt"/><line x1="927.00" y1="834.25" x2="927.00" y2="828.92" stroke="#111" stroke-width="1.3" stroke-linecap="butt"/><line x1="923.40" y1="828.92" x2="930.60" y2="828.92" stroke="#111" stroke-width="1.3" stroke-linecap="butt"/><rect x="921.2" y="834.2" width="11.6" height="48.0" fill="#5ba4c4" stroke="#111" stroke-width="1.2"/><rect x="921.2" y="882.2" width="11.6" height="6.7" fill="#e8847a" stroke="#111" stroke-width="1.2"/><rect x="921.2" y="888.9" width="11.6" height="0.7" fill="#7a1a14" stroke="#111" stroke-width="1.0"/><line x1="924.50" y1="880.62" x2="929.50" y2="880.62" stroke="#111" stroke-width="0.9" stroke-linecap="butt"/><line x1="927.00" y1="889.60" x2="927.00" y2="892.80" stroke="#111" stroke-width="1.2" stroke-linecap="butt"/><line x1="852.70" y1="787.70" x2="927.00" y2="787.70" stroke="#111" stroke-width="1.4" stroke-linecap="butt"/><text x="889.85" y="786.40" font-size="9.5" font-weight="bold" text-anchor="middle" fill="#111">**</text><line x1="852.70" y1="796.50" x2="900.60" y2="796.50" stroke="#111" stroke-width="1.4" stroke-linecap="butt"/><text x="876.65" y="795.20" font-size="9.5" font-weight="bold" text-anchor="middle" fill="#111">**</text><line x1="852.70" y1="805.30" x2="877.70" y2="805.30" stroke="#111" stroke-width="1.4" stroke-linecap="butt"/><text x="865.20" y="804.00" font-size="9.5" font-weight="bold" text-anchor="middle" fill="#111">**</text><line x1="878.10" y1="813.50" x2="927.00" y2="813.50" stroke="#111" stroke-width="1.4" stroke-linecap="butt"/><text x="902.55" y="810.30" font-size="8" font-weight="bold" text-anchor="middle" fill="#111">ns</text><line x1="878.10" y1="823.40" x2="900.20" y2="823.40" stroke="#111" stroke-width="1.4" stroke-linecap="butt"/><text x="889.15" y="820.20" font-size="8" font-weight="bold" text-anchor="middle" fill="#111">ns</text><line x1="903.50" y1="823.40" x2="927.00" y2="823.40" stroke="#111" stroke-width="1.4" stroke-linecap="butt"/><text x="915.25" y="820.20" font-size="8" font-weight="bold" text-anchor="middle" fill="#111">ns</text><text x="856.70" y="900.00" font-size="9.0" font-weight="bold" text-anchor="end" fill="#111" transform="rotate(-45 856.70 900.00)">Control</text><text x="881.10" y="900.00" font-size="9.0" font-weight="bold" text-anchor="end" fill="#111" transform="rotate(-45 881.10 900.00)">Hib vaccine</text><text x="905.50" y="900.00" font-size="9.0" font-weight="bold" text-anchor="end" fill="#111" transform="rotate(-45 905.50 900.00)">4-TT</text><text x="930.00" y="900.00" font-size="9.0" font-weight="bold" text-anchor="end" fill="#111" transform="rotate(-45 930.00 900.00)">4-TT + Alum</text><rect x="939" y="791.1" width="6" height="6" fill="#d9271e" stroke="#111" stroke-width="0.9"/><text x="949.40" y="797.30" font-size="8.8" font-weight="bold" text-anchor="start" fill="#111">Blood</text><rect x="939" y="802.5" width="6" height="6" fill="#8fe08f" stroke="#111" stroke-width="0.9"/><text x="949.40" y="808.72" font-size="8.8" font-weight="bold" text-anchor="start" fill="#111">Heart</text><rect x="939" y="813.9" width="6" height="6" fill="#d14fd1" stroke="#111" stroke-width="0.9"/><text x="949.40" y="820.14" font-size="8.8" font-weight="bold" text-anchor="start" fill="#111">Kidney</text><rect x="939" y="825.4" width="6" height="6" fill="#e8e020" stroke="#111" stroke-width="0.9"/><text x="949.40" y="831.56" font-size="8.8" font-weight="bold" text-anchor="start" fill="#111">Lung</text><rect x="939" y="836.8" width="6" height="6" fill="#e8847a" stroke="#111" stroke-width="0.9"/><text x="949.40" y="842.98" font-size="8.8" font-weight="bold" text-anchor="start" fill="#111">Spleen</text><rect x="939" y="848.2" width="6" height="6" fill="#5ba4c4" stroke="#111" stroke-width="0.9"/><text x="949.40" y="854.40" font-size="8.8" font-weight="bold" text-anchor="start" fill="#111">Liver</text><rect x="589.4" y="931.6" width="8.3" height="163.3" fill="#050505"/><defs><filter id="bl1" x="-10%" y="-10%" width="120%" height="120%"><feGaussianBlur stdDeviation="0.7"/></filter><filter id="bl2" x="-20%" y="-20%" width="140%" height="140%"><feGaussianBlur stdDeviation="1.1"/></filter><filter id="bl3" x="-20%" y="-20%" width="140%" height="140%"><feGaussianBlur stdDeviation="1.7"/></filter></defs><text x="596.10" y="948.30" font-size="6.6" font-weight="bold" text-anchor="middle" fill="#3aa0ae" transform="rotate(-90 596.10 948.30)">LSECs</text><text x="596.10" y="986.40" font-size="6.6" font-weight="bold" text-anchor="middle" fill="#e8302a" transform="rotate(-90 596.10 986.40)">KCs</text><text x="596.1" y="1055" font-size="6.5" font-weight="bold" font-style="italic" text-anchor="middle" fill="#2db85a" transform="rotate(-90 596.1 1055)">H. influenzae type b</text><clipPath id="mc1"><rect x="599.5" y="931.3" width="80.7" height="80.8"/></clipPath><g clip-path="url(#mc1)"><rect x="599.5" y="931.3" width="80.7" height="80.8" fill="#051012"/><g transform="translate(599.5,931.3)"><g filter="url(#bl3)" opacity="0.85"><path d="M-2,40 C10,28 25,12 42,-2" fill="none" stroke="#125a5f" stroke-width="4.6"/><path d="M-2,52 C15,38 32,20 52,-2" fill="none" stroke="#125a5f" stroke-width="4.2"/><path d="M2,82 C18,62 30,50 36,46 C48,34 58,18 64,-2" fill="none" stroke="#125a5f" stroke-width="5.0"/><path d="M14,82 C30,62 46,52 54,34 C60,20 66,8 70,-2" fill="none" stroke="#125a5f" stroke-width="4.2"/><path d="M30,82 C40,66 56,60 60,44 C64,30 74,26 82,20" fill="none" stroke="#125a5f" stroke-width="4.6"/><path d="M48,82 C52,70 60,66 66,58 C70,48 70,36 76,30" fill="none" stroke="#125a5f" stroke-width="4.2"/><path d="M-2,64 C10,58 18,50 28,46" fill="none" stroke="#125a5f" stroke-width="3.8"/><path d="M62,82 C70,74 76,72 82,70" fill="none" stroke="#125a5f" stroke-width="3.8"/><path d="M70,30 C72,44 70,60 64,70" fill="none" stroke="#125a5f" stroke-width="3.8"/></g><g filter="url(#bl1)"><path d="M-2,40 C10,28 25,12 42,-2" fill="none" stroke="#2fa3a6" stroke-width="1.49" stroke-linecap="round"/><path d="M-2,52 C15,38 32,20 52,-2" fill="none" stroke="#2fa3a6" stroke-width="1.35" stroke-linecap="round"/><path d="M2,82 C18,62 30,50 36,46 C48,34 58,18 64,-2" fill="none" stroke="#2fa3a6" stroke-width="1.62" stroke-linecap="round"/><path d="M14,82 C30,62 46,52 54,34 C60,20 66,8 70,-2" fill="none" stroke="#2fa3a6" stroke-width="1.35" stroke-linecap="round"/><path d="M30,82 C40,66 56,60 60,44 C64,30 74,26 82,20" fill="none" stroke="#2fa3a6" stroke-width="1.49" stroke-linecap="round"/><path d="M48,82 C52,70 60,66 66,58 C70,48 70,36 76,30" fill="none" stroke="#2fa3a6" stroke-width="1.35" stroke-linecap="round"/><path d="M-2,64 C10,58 18,50 28,46" fill="none" stroke="#2fa3a6" stroke-width="1.22" stroke-linecap="round"/><path d="M62,82 C70,74 76,72 82,70" fill="none" stroke="#2fa3a6" stroke-width="1.22" stroke-linecap="round"/><path d="M70,30 C72,44 70,60 64,70" fill="none" stroke="#2fa3a6" stroke-width="1.22" stroke-linecap="round"/></g><g filter="url(#bl2)" opacity="0.9"><path d="M20,24 C24,18 29,14 33,10" fill="none" stroke="#d8302a" stroke-width="5.2" stroke-linecap="round" stroke-linejoin="round"/><path d="M58,3 C58,12 57,22 55,31" fill="none" stroke="#d8302a" stroke-width="5.6" stroke-linecap="round" stroke-linejoin="round"/><path d="M55,31 C52,37 48,42 44,45" fill="none" stroke="#d8302a" stroke-width="4.0" stroke-linecap="round" stroke-linejoin="round"/><path d="M72,21 C74,24 77,27 79,31" fill="none" stroke="#d8302a" stroke-width="6.0" stroke-linecap="round" stroke-linejoin="round"/><path d="M3,42 L8,38" fill="none" stroke="#d8302a" stroke-width="6.4" stroke-linecap="round" stroke-linejoin="round"/><path d="M4,50 L7,56" fill="none" stroke="#d8302a" stroke-width="4.8" stroke-linecap="round" stroke-linejoin="round"/><path d="M26,30 L28,36" fill="none" stroke="#d8302a" stroke-width="4.8" stroke-linecap="round" stroke-linejoin="round"/><path d="M24,47 C30,48 34,49 38,50" fill="none" stroke="#d8302a" stroke-width="4.4" stroke-linecap="round" stroke-linejoin="round"/><path d="M16,72 C13,75 11,77 8,80" fill="none" stroke="#d8302a" stroke-width="4.8" stroke-linecap="round" stroke-linejoin="round"/><path d="M79,56 L79,64" fill="none" stroke="#d8302a" stroke-width="4.8" stroke-linecap="round" stroke-linejoin="round"/><path d="M10,40 C14,44 20,46 24,47" fill="none" stroke="#d8302a" stroke-width="3.2" stroke-linecap="round" stroke-linejoin="round"/></g><g filter="url(#bl1)"><path d="M20,24 C24,18 29,14 33,10" fill="none" stroke="#ff4a3c" stroke-width="3.2" stroke-linecap="round" stroke-linejoin="round"/><path d="M58,3 C58,12 57,22 55,31" fill="none" stroke="#ff4a3c" stroke-width="3.5" stroke-linecap="round" stroke-linejoin="round"/><path d="M55,31 C52,37 48,42 44,45" fill="none" stroke="#ff4a3c" stroke-width="2.5" stroke-linecap="round" stroke-linejoin="round"/><path d="M72,21 C74,24 77,27 79,31" fill="none" stroke="#ff4a3c" stroke-width="3.8" stroke-linecap="round" stroke-linejoin="round"/><path d="M3,42 L8,38" fill="none" stroke="#ff4a3c" stroke-width="4.0" stroke-linecap="round" stroke-linejoin="round"/><path d="M4,50 L7,56" fill="none" stroke="#ff4a3c" stroke-width="3.0" stroke-linecap="round" stroke-linejoin="round"/><path d="M26,30 L28,36" fill="none" stroke="#ff4a3c" stroke-width="3.0" stroke-linecap="round" stroke-linejoin="round"/><path d="M24,47 C30,48 34,49 38,50" fill="none" stroke="#ff4a3c" stroke-width="2.8" stroke-linecap="round" stroke-linejoin="round"/><path d="M16,72 C13,75 11,77 8,80" fill="none" stroke="#ff4a3c" stroke-width="3.0" stroke-linecap="round" stroke-linejoin="round"/><path d="M79,56 L79,64" fill="none" stroke="#ff4a3c" stroke-width="3.0" stroke-linecap="round" stroke-linejoin="round"/><path d="M10,40 C14,44 20,46 24,47" fill="none" stroke="#ff4a3c" stroke-width="2.0" stroke-linecap="round" stroke-linejoin="round"/><path d="M20,24 C24,18 29,14 33,10" fill="none" stroke="#ffd2c0" stroke-width="0.9" stroke-linecap="round" opacity="0.85"/><path d="M58,3 C58,12 57,22 55,31" fill="none" stroke="#ffd2c0" stroke-width="1.0" stroke-linecap="round" opacity="0.85"/><path d="M55,31 C52,37 48,42 44,45" fill="none" stroke="#ffd2c0" stroke-width="0.7" stroke-linecap="round" opacity="0.85"/><path d="M72,21 C74,24 77,27 79,31" fill="none" stroke="#ffd2c0" stroke-width="1.1" stroke-linecap="round" opacity="0.85"/><path d="M3,42 L8,38" fill="none" stroke="#ffd2c0" stroke-width="1.2" stroke-linecap="round" opacity="0.85"/><path d="M4,50 L7,56" fill="none" stroke="#ffd2c0" stroke-width="0.9" stroke-linecap="round" opacity="0.85"/><path d="M26,30 L28,36" fill="none" stroke="#ffd2c0" stroke-width="0.9" stroke-linecap="round" opacity="0.85"/><path d="M24,47 C30,48 34,49 38,50" fill="none" stroke="#ffd2c0" stroke-width="0.8" stroke-linecap="round" opacity="0.85"/><path d="M16,72 C13,75 11,77 8,80" fill="none" stroke="#ffd2c0" stroke-width="0.9" stroke-linecap="round" opacity="0.85"/><path d="M79,56 L79,64" fill="none" stroke="#ffd2c0" stroke-width="0.9" stroke-linecap="round" opacity="0.85"/><path d="M10,40 C14,44 20,46 24,47" fill="none" stroke="#ffd2c0" stroke-width="0.6" stroke-linecap="round" opacity="0.85"/></g><circle cx="45" cy="30" r="0.7" fill="#48e08a"/><circle cx="22" cy="38" r="0.7" fill="#48e08a"/><circle cx="60.4" cy="78.1" r="0.45" fill="#2aa9ae" opacity="0.55"/><circle cx="35.1" cy="64.2" r="0.45" fill="#2aa9ae" opacity="0.55"/><circle cx="52.3" cy="49.9" r="0.45" fill="#2aa9ae" opacity="0.55"/><circle cx="66.4" cy="63.8" r="0.45" fill="#2aa9ae" opacity="0.55"/><circle cx="71.5" cy="26.4" r="0.45" fill="#2aa9ae" opacity="0.55"/><circle cx="79.6" cy="9.3" r="0.45" fill="#2aa9ae" opacity="0.55"/><circle cx="38.6" cy="37.8" r="0.45" fill="#2aa9ae" opacity="0.55"/><circle cx="21.2" cy="10.2" r="0.45" fill="#2aa9ae" opacity="0.55"/><circle cx="14.9" cy="31.5" r="0.45" fill="#2aa9ae" opacity="0.55"/><circle cx="42.0" cy="63.5" r="0.45" fill="#2aa9ae" opacity="0.55"/><circle cx="57.4" cy="75.6" r="0.45" fill="#2aa9ae" opacity="0.55"/><circle cx="46.8" cy="56.4" r="0.45" fill="#2aa9ae" opacity="0.55"/><circle cx="77.4" cy="65.7" r="0.45" fill="#2aa9ae" opacity="0.55"/><circle cx="6.0" cy="43.1" r="0.45" fill="#2aa9ae" opacity="0.55"/><circle cx="29.3" cy="79.7" r="0.45" fill="#2aa9ae" opacity="0.55"/><circle cx="58.5" cy="52.2" r="0.45" fill="#2aa9ae" opacity="0.55"/><circle cx="70.3" cy="16.2" r="0.45" fill="#2aa9ae" opacity="0.55"/><circle cx="64.4" cy="10.4" r="0.45" fill="#2aa9ae" opacity="0.55"/><circle cx="36.0" cy="55.2" r="0.45" fill="#2aa9ae" opacity="0.55"/><circle cx="29.9" cy="69.9" r="0.45" fill="#2aa9ae" opacity="0.55"/><circle cx="25.3" cy="78.8" r="0.45" fill="#2aa9ae" opacity="0.55"/><circle cx="66.1" cy="56.7" r="0.45" fill="#2aa9ae" opacity="0.55"/><circle cx="55.5" cy="63.4" r="0.45" fill="#2aa9ae" opacity="0.55"/><circle cx="31.9" cy="58.2" r="0.45" fill="#2aa9ae" opacity="0.55"/><circle cx="47.7" cy="71.9" r="0.45" fill="#2aa9ae" opacity="0.55"/><circle cx="37.3" cy="2.9" r="0.45" fill="#2aa9ae" opacity="0.55"/><circle cx="19.5" cy="44.1" r="0.45" fill="#2aa9ae" opacity="0.55"/><circle cx="11.2" cy="63.5" r="0.45" fill="#2aa9ae" opacity="0.55"/><circle cx="76.4" cy="17.4" r="0.45" fill="#2aa9ae" opacity="0.55"/><circle cx="50.0" cy="67.4" r="0.45" fill="#2aa9ae" opacity="0.55"/><circle cx="72.1" cy="62.9" r="0.45" fill="#2aa9ae" opacity="0.55"/><circle cx="43.6" cy="25.9" r="0.45" fill="#2aa9ae" opacity="0.55"/><circle cx="63.1" cy="11.4" r="0.45" fill="#2aa9ae" opacity="0.55"/><circle cx="14.5" cy="13.9" r="0.45" fill="#2aa9ae" opacity="0.55"/><circle cx="69.7" cy="24.3" r="0.45" fill="#2aa9ae" opacity="0.55"/><circle cx="42.5" cy="65.5" r="0.45" fill="#2aa9ae" opacity="0.55"/><circle cx="0.8" cy="58.2" r="0.45" fill="#2aa9ae" opacity="0.55"/><circle cx="0.1" cy="23.3" r="0.45" fill="#2aa9ae" opacity="0.55"/><circle cx="13.7" cy="76.3" r="0.45" fill="#2aa9ae" opacity="0.55"/><circle cx="19.6" cy="28.0" r="0.45" fill="#2aa9ae" opacity="0.55"/></g><rect x="669.7" y="1008.4999999999999" width="6.3" height="0.7" fill="#ddd"/><text x="601.20" y="937.70" font-size="6.2" font-weight="bold" text-anchor="start" fill="#fff">Control</text></g><clipPath id="mc2"><rect x="682.2" y="931.3" width="80.7" height="80.8"/></clipPath><g clip-path="url(#mc2)"><rect x="682.2" y="931.3" width="80.7" height="80.8" fill="#051012"/><g transform="translate(682.2,931.3)"><g filter="url(#bl3)" opacity="0.85"><path d="M0,10 C14,16 30,8 44,14 C56,20 68,14 82,18" fill="none" stroke="#125a5f" stroke-width="5.0"/><path d="M0,26 C12,30 28,28 40,30 C54,34 66,30 74,38 C78,44 80,48 82,50" fill="none" stroke="#125a5f" stroke-width="5.0"/><path d="M0,44 C10,42 22,44 34,48 C44,52 52,58 62,58 C70,58 76,62 82,60" fill="none" stroke="#125a5f" stroke-width="4.6"/><path d="M6,60 C14,54 26,58 32,64 C38,72 50,70 58,74 C66,78 74,76 82,80" fill="none" stroke="#125a5f" stroke-width="4.6"/><path d="M44,-2 C50,6 60,8 66,10" fill="none" stroke="#125a5f" stroke-width="3.8"/><path d="M0,70 C8,72 14,78 18,82" fill="none" stroke="#125a5f" stroke-width="3.8"/><path d="M28,10 C32,18 36,24 40,30" fill="none" stroke="#125a5f" stroke-width="3.8"/><path d="M14,62 C18,70 16,78 12,82" fill="none" stroke="#125a5f" stroke-width="3.8"/><path d="M56,30 C60,24 70,24 78,28" fill="none" stroke="#125a5f" stroke-width="3.8"/></g><g filter="url(#bl1)"><path d="M0,10 C14,16 30,8 44,14 C56,20 68,14 82,18" fill="none" stroke="#2fa3a6" stroke-width="1.62" stroke-linecap="round"/><path d="M0,26 C12,30 28,28 40,30 C54,34 66,30 74,38 C78,44 80,48 82,50" fill="none" stroke="#2fa3a6" stroke-width="1.62" stroke-linecap="round"/><path d="M0,44 C10,42 22,44 34,48 C44,52 52,58 62,58 C70,58 76,62 82,60" fill="none" stroke="#2fa3a6" stroke-width="1.49" stroke-linecap="round"/><path d="M6,60 C14,54 26,58 32,64 C38,72 50,70 58,74 C66,78 74,76 82,80" fill="none" stroke="#2fa3a6" stroke-width="1.49" stroke-linecap="round"/><path d="M44,-2 C50,6 60,8 66,10" fill="none" stroke="#2fa3a6" stroke-width="1.22" stroke-linecap="round"/><path d="M0,70 C8,72 14,78 18,82" fill="none" stroke="#2fa3a6" stroke-width="1.22" stroke-linecap="round"/><path d="M28,10 C32,18 36,24 40,30" fill="none" stroke="#2fa3a6" stroke-width="1.22" stroke-linecap="round"/><path d="M14,62 C18,70 16,78 12,82" fill="none" stroke="#2fa3a6" stroke-width="1.22" stroke-linecap="round"/><path d="M56,30 C60,24 70,24 78,28" fill="none" stroke="#2fa3a6" stroke-width="1.22" stroke-linecap="round"/></g><g filter="url(#bl2)" opacity="0.9"><path d="M60,5 C64,7 68,9 72,11" fill="none" stroke="#d8302a" stroke-width="6.8" stroke-linecap="round" stroke-linejoin="round"/><path d="M27,16 C31,19 35,22 38,25" fill="none" stroke="#d8302a" stroke-width="6.0" stroke-linecap="round" stroke-linejoin="round"/><path d="M2,49 C4,52 4,56 3,59" fill="none" stroke="#d8302a" stroke-width="6.0" stroke-linecap="round" stroke-linejoin="round"/><path d="M8,62 L12,67" fill="none" stroke="#d8302a" stroke-width="5.2" stroke-linecap="round" stroke-linejoin="round"/><path d="M52,46 C54,52 56,58 58,62" fill="none" stroke="#d8302a" stroke-width="5.2" stroke-linecap="round" stroke-linejoin="round"/><path d="M50,66 C54,64 58,63 62,62" fill="none" stroke="#d8302a" stroke-width="4.8" stroke-linecap="round" stroke-linejoin="round"/><path d="M73,52 L76,58" fill="none" stroke="#d8302a" stroke-width="5.2" stroke-linecap="round" stroke-linejoin="round"/><path d="M77,64 L80,66" fill="none" stroke="#d8302a" stroke-width="4.0" stroke-linecap="round" stroke-linejoin="round"/><path d="M50,79 L54,77" fill="none" stroke="#d8302a" stroke-width="4.0" stroke-linecap="round" stroke-linejoin="round"/><path d="M10,22 L18,24" fill="none" stroke="#d8302a" stroke-width="3.2" stroke-linecap="round" stroke-linejoin="round"/></g><g filter="url(#bl1)"><path d="M60,5 C64,7 68,9 72,11" fill="none" stroke="#ff4a3c" stroke-width="4.2" stroke-linecap="round" stroke-linejoin="round"/><path d="M27,16 C31,19 35,22 38,25" fill="none" stroke="#ff4a3c" stroke-width="3.8" stroke-linecap="round" stroke-linejoin="round"/><path d="M2,49 C4,52 4,56 3,59" fill="none" stroke="#ff4a3c" stroke-width="3.8" stroke-linecap="round" stroke-linejoin="round"/><path d="M8,62 L12,67" fill="none" stroke="#ff4a3c" stroke-width="3.2" stroke-linecap="round" stroke-linejoin="round"/><path d="M52,46 C54,52 56,58 58,62" fill="none" stroke="#ff4a3c" stroke-width="3.2" stroke-linecap="round" stroke-linejoin="round"/><path d="M50,66 C54,64 58,63 62,62" fill="none" stroke="#ff4a3c" stroke-width="3.0" stroke-linecap="round" stroke-linejoin="round"/><path d="M73,52 L76,58" fill="none" stroke="#ff4a3c" stroke-width="3.2" stroke-linecap="round" stroke-linejoin="round"/><path d="M77,64 L80,66" fill="none" stroke="#ff4a3c" stroke-width="2.5" stroke-linecap="round" stroke-linejoin="round"/><path d="M50,79 L54,77" fill="none" stroke="#ff4a3c" stroke-width="2.5" stroke-linecap="round" stroke-linejoin="round"/><path d="M10,22 L18,24" fill="none" stroke="#ff4a3c" stroke-width="2.0" stroke-linecap="round" stroke-linejoin="round"/><path d="M60,5 C64,7 68,9 72,11" fill="none" stroke="#ffd2c0" stroke-width="1.2" stroke-linecap="round" opacity="0.85"/><path d="M27,16 C31,19 35,22 38,25" fill="none" stroke="#ffd2c0" stroke-width="1.1" stroke-linecap="round" opacity="0.85"/><path d="M2,49 C4,52 4,56 3,59" fill="none" stroke="#ffd2c0" stroke-width="1.1" stroke-linecap="round" opacity="0.85"/><path d="M8,62 L12,67" fill="none" stroke="#ffd2c0" stroke-width="0.9" stroke-linecap="round" opacity="0.85"/><path d="M52,46 C54,52 56,58 58,62" fill="none" stroke="#ffd2c0" stroke-width="0.9" stroke-linecap="round" opacity="0.85"/><path d="M50,66 C54,64 58,63 62,62" fill="none" stroke="#ffd2c0" stroke-width="0.9" stroke-linecap="round" opacity="0.85"/><path d="M73,52 L76,58" fill="none" stroke="#ffd2c0" stroke-width="0.9" stroke-linecap="round" opacity="0.85"/><path d="M77,64 L80,66" fill="none" stroke="#ffd2c0" stroke-width="0.7" stroke-linecap="round" opacity="0.85"/><path d="M50,79 L54,77" fill="none" stroke="#ffd2c0" stroke-width="0.7" stroke-linecap="round" opacity="0.85"/><path d="M10,22 L18,24" fill="none" stroke="#ffd2c0" stroke-width="0.6" stroke-linecap="round" opacity="0.85"/></g><circle cx="18" cy="31" r="0.7" fill="#48e08a"/><circle cx="32" cy="72" r="0.7" fill="#48e08a"/><circle cx="66" cy="48" r="0.7" fill="#48e08a"/><circle cx="47.6" cy="57.9" r="0.45" fill="#2aa9ae" opacity="0.55"/><circle cx="78.0" cy="38.1" r="0.45" fill="#2aa9ae" opacity="0.55"/><circle cx="43.2" cy="67.0" r="0.45" fill="#2aa9ae" opacity="0.55"/><circle cx="5.8" cy="21.4" r="0.45" fill="#2aa9ae" opacity="0.55"/><circle cx="15.0" cy="28.5" r="0.45" fill="#2aa9ae" opacity="0.55"/><circle cx="28.6" cy="51.1" r="0.45" fill="#2aa9ae" opacity="0.55"/><circle cx="32.0" cy="69.4" r="0.45" fill="#2aa9ae" opacity="0.55"/><circle cx="46.2" cy="64.3" r="0.45" fill="#2aa9ae" opacity="0.55"/><circle cx="68.3" cy="37.2" r="0.45" fill="#2aa9ae" opacity="0.55"/><circle cx="10.5" cy="16.2" r="0.45" fill="#2aa9ae" opacity="0.55"/><circle cx="57.8" cy="68.5" r="0.45" fill="#2aa9ae" opacity="0.55"/><circle cx="53.3" cy="3.9" r="0.45" fill="#2aa9ae" opacity="0.55"/><circle cx="1.0" cy="76.0" r="0.45" fill="#2aa9ae" opacity="0.55"/><circle cx="49.6" cy="62.3" r="0.45" fill="#2aa9ae" opacity="0.55"/><circle cx="66.5" cy="61.8" r="0.45" fill="#2aa9ae" opacity="0.55"/><circle cx="64.5" cy="0.7" r="0.45" fill="#2aa9ae" opacity="0.55"/><circle cx="56.5" cy="26.8" r="0.45" fill="#2aa9ae" opacity="0.55"/><circle cx="2.8" cy="27.0" r="0.45" fill="#2aa9ae" opacity="0.55"/><circle cx="14.0" cy="19.6" r="0.45" fill="#2aa9ae" opacity="0.55"/><circle cx="60.0" cy="25.3" r="0.45" fill="#2aa9ae" opacity="0.55"/><circle cx="80.2" cy="44.0" r="0.45" fill="#2aa9ae" opacity="0.55"/><circle cx="12.8" cy="21.1" r="0.45" fill="#2aa9ae" opacity="0.55"/><circle cx="68.9" cy="79.9" r="0.45" fill="#2aa9ae" opacity="0.55"/><circle cx="62.1" cy="48.2" r="0.45" fill="#2aa9ae" opacity="0.55"/><circle cx="51.6" cy="10.2" r="0.45" fill="#2aa9ae" opacity="0.55"/><circle cx="24.0" cy="61.4" r="0.45" fill="#2aa9ae" opacity="0.55"/><circle cx="19.0" cy="7.0" r="0.45" fill="#2aa9ae" opacity="0.55"/><circle cx="7.0" cy="4.9" r="0.45" fill="#2aa9ae" opacity="0.55"/><circle cx="10.9" cy="68.7" r="0.45" fill="#2aa9ae" opacity="0.55"/><circle cx="23.0" cy="51.1" r="0.45" fill="#2aa9ae" opacity="0.55"/><circle cx="11.7" cy="69.5" r="0.45" fill="#2aa9ae" opacity="0.55"/><circle cx="3.0" cy="69.5" r="0.45" fill="#2aa9ae" opacity="0.55"/><circle cx="39.4" cy="77.6" r="0.45" fill="#2aa9ae" opacity="0.55"/><circle cx="50.7" cy="64.0" r="0.45" fill="#2aa9ae" opacity="0.55"/><circle cx="13.5" cy="12.5" r="0.45" fill="#2aa9ae" opacity="0.55"/><circle cx="48.0" cy="64.2" r="0.45" fill="#2aa9ae" opacity="0.55"/><circle cx="57.8" cy="10.4" r="0.45" fill="#2aa9ae" opacity="0.55"/><circle cx="3.5" cy="38.3" r="0.45" fill="#2aa9ae" opacity="0.55"/><circle cx="66.0" cy="52.5" r="0.45" fill="#2aa9ae" opacity="0.55"/><circle cx="75.5" cy="49.7" r="0.45" fill="#2aa9ae" opacity="0.55"/></g><rect x="752.4000000000001" y="1008.4999999999999" width="6.3" height="0.7" fill="#ddd"/><text x="683.90" y="937.70" font-size="6.2" font-weight="bold" text-anchor="start" fill="#fff">Hib vaccine</text></g><clipPath id="mc3"><rect x="599.5" y="1013.9" width="80.7" height="80.8"/></clipPath><g clip-path="url(#mc3)"><rect x="599.5" y="1013.9" width="80.7" height="80.8" fill="#051012"/><g transform="translate(599.5,1013.9)"><g filter="url(#bl3)" opacity="0.85"><path d="M-2,14 C8,10 20,12 30,8 C40,6 50,12 60,8 C68,6 76,10 82,8" fill="none" stroke="#125a5f" stroke-width="4.6"/><path d="M0,30 C10,28 18,34 28,30 C40,24 54,26 62,30 C70,34 76,32 82,36" fill="none" stroke="#125a5f" stroke-width="5.0"/><path d="M16,38 C22,34 30,36 32,42 C32,50 22,52 18,46 C16,42 16,40 16,38" fill="none" stroke="#125a5f" stroke-width="4.2"/><path d="M34,32 C44,28 58,30 62,36 C60,44 44,44 36,40" fill="none" stroke="#125a5f" stroke-width="4.2"/><path d="M0,50 C12,54 24,56 36,52 C48,48 60,52 70,58 C76,62 80,66 82,68" fill="none" stroke="#125a5f" stroke-width="4.6"/><path d="M24,56 C26,64 24,72 20,82" fill="none" stroke="#125a5f" stroke-width="4.2"/><path d="M40,54 C46,62 56,64 62,70 C68,74 70,78 70,82" fill="none" stroke="#125a5f" stroke-width="4.2"/><path d="M0,66 C8,64 16,66 22,70" fill="none" stroke="#125a5f" stroke-width="3.8"/><path d="M44,70 C50,72 56,76 58,82" fill="none" stroke="#125a5f" stroke-width="3.8"/></g><g filter="url(#bl1)"><path d="M-2,14 C8,10 20,12 30,8 C40,6 50,12 60,8 C68,6 76,10 82,8" fill="none" stroke="#2fa3a6" stroke-width="1.49" stroke-linecap="round"/><path d="M0,30 C10,28 18,34 28,30 C40,24 54,26 62,30 C70,34 76,32 82,36" fill="none" stroke="#2fa3a6" stroke-width="1.62" stroke-linecap="round"/><path d="M16,38 C22,34 30,36 32,42 C32,50 22,52 18,46 C16,42 16,40 16,38" fill="none" stroke="#2fa3a6" stroke-width="1.35" stroke-linecap="round"/><path d="M34,32 C44,28 58,30 62,36 C60,44 44,44 36,40" fill="none" stroke="#2fa3a6" stroke-width="1.35" stroke-linecap="round"/><path d="M0,50 C12,54 24,56 36,52 C48,48 60,52 70,58 C76,62 80,66 82,68" fill="none" stroke="#2fa3a6" stroke-width="1.49" stroke-linecap="round"/><path d="M24,56 C26,64 24,72 20,82" fill="none" stroke="#2fa3a6" stroke-width="1.35" stroke-linecap="round"/><path d="M40,54 C46,62 56,64 62,70 C68,74 70,78 70,82" fill="none" stroke="#2fa3a6" stroke-width="1.35" stroke-linecap="round"/><path d="M0,66 C8,64 16,66 22,70" fill="none" stroke="#2fa3a6" stroke-width="1.22" stroke-linecap="round"/><path d="M44,70 C50,72 56,76 58,82" fill="none" stroke="#2fa3a6" stroke-width="1.22" stroke-linecap="round"/></g><g filter="url(#bl2)" opacity="0.9"><path d="M30,17 C34,15 38,14 42,14" fill="none" stroke="#d8302a" stroke-width="6.4" stroke-linecap="round" stroke-linejoin="round"/><path d="M33,15 L34,24" fill="none" stroke="#d8302a" stroke-width="5.2" stroke-linecap="round" stroke-linejoin="round"/><path d="M66,20 L68,25" fill="none" stroke="#d8302a" stroke-width="6.0" stroke-linecap="round" stroke-linejoin="round"/><path d="M60,29 C64,27 68,26 72,25" fill="none" stroke="#d8302a" stroke-width="4.8" stroke-linecap="round" stroke-linejoin="round"/><path d="M2,24 C6,26 12,26 16,27" fill="none" stroke="#d8302a" stroke-width="4.8" stroke-linecap="round" stroke-linejoin="round"/><path d="M14,27 L15,34" fill="none" stroke="#d8302a" stroke-width="4.8" stroke-linecap="round" stroke-linejoin="round"/><path d="M18,26 L23,24" fill="none" stroke="#d8302a" stroke-width="3.6" stroke-linecap="round" stroke-linejoin="round"/><path d="M6,61 C8,66 10,72 12,78" fill="none" stroke="#d8302a" stroke-width="5.6" stroke-linecap="round" stroke-linejoin="round"/><path d="M32,68 C40,70 50,70 58,68" fill="none" stroke="#d8302a" stroke-width="4.4" stroke-linecap="round" stroke-linejoin="round"/><path d="M58,66 L60,74" fill="none" stroke="#d8302a" stroke-width="4.8" stroke-linecap="round" stroke-linejoin="round"/><path d="M74,62 L78,56" fill="none" stroke="#d8302a" stroke-width="4.4" stroke-linecap="round" stroke-linejoin="round"/><path d="M20,72 L22,78" fill="none" stroke="#d8302a" stroke-width="3.6" stroke-linecap="round" stroke-linejoin="round"/></g><g filter="url(#bl1)"><path d="M30,17 C34,15 38,14 42,14" fill="none" stroke="#ff4a3c" stroke-width="4.0" stroke-linecap="round" stroke-linejoin="round"/><path d="M33,15 L34,24" fill="none" stroke="#ff4a3c" stroke-width="3.2" stroke-linecap="round" stroke-linejoin="round"/><path d="M66,20 L68,25" fill="none" stroke="#ff4a3c" stroke-width="3.8" stroke-linecap="round" stroke-linejoin="round"/><path d="M60,29 C64,27 68,26 72,25" fill="none" stroke="#ff4a3c" stroke-width="3.0" stroke-linecap="round" stroke-linejoin="round"/><path d="M2,24 C6,26 12,26 16,27" fill="none" stroke="#ff4a3c" stroke-width="3.0" stroke-linecap="round" stroke-linejoin="round"/><path d="M14,27 L15,34" fill="none" stroke="#ff4a3c" stroke-width="3.0" stroke-linecap="round" stroke-linejoin="round"/><path d="M18,26 L23,24" fill="none" stroke="#ff4a3c" stroke-width="2.2" stroke-linecap="round" stroke-linejoin="round"/><path d="M6,61 C8,66 10,72 12,78" fill="none" stroke="#ff4a3c" stroke-width="3.5" stroke-linecap="round" stroke-linejoin="round"/><path d="M32,68 C40,70 50,70 58,68" fill="none" stroke="#ff4a3c" stroke-width="2.8" stroke-linecap="round" stroke-linejoin="round"/><path d="M58,66 L60,74" fill="none" stroke="#ff4a3c" stroke-width="3.0" stroke-linecap="round" stroke-linejoin="round"/><path d="M74,62 L78,56" fill="none" stroke="#ff4a3c" stroke-width="2.8" stroke-linecap="round" stroke-linejoin="round"/><path d="M20,72 L22,78" fill="none" stroke="#ff4a3c" stroke-width="2.2" stroke-linecap="round" stroke-linejoin="round"/><path d="M30,17 C34,15 38,14 42,14" fill="none" stroke="#ffd2c0" stroke-width="1.2" stroke-linecap="round" opacity="0.85"/><path d="M33,15 L34,24" fill="none" stroke="#ffd2c0" stroke-width="0.9" stroke-linecap="round" opacity="0.85"/><path d="M66,20 L68,25" fill="none" stroke="#ffd2c0" stroke-width="1.1" stroke-linecap="round" opacity="0.85"/><path d="M60,29 C64,27 68,26 72,25" fill="none" stroke="#ffd2c0" stroke-width="0.9" stroke-linecap="round" opacity="0.85"/><path d="M2,24 C6,26 12,26 16,27" fill="none" stroke="#ffd2c0" stroke-width="0.9" stroke-linecap="round" opacity="0.85"/><path d="M14,27 L15,34" fill="none" stroke="#ffd2c0" stroke-width="0.9" stroke-linecap="round" opacity="0.85"/><path d="M18,26 L23,24" fill="none" stroke="#ffd2c0" stroke-width="0.6" stroke-linecap="round" opacity="0.85"/><path d="M6,61 C8,66 10,72 12,78" fill="none" stroke="#ffd2c0" stroke-width="1.0" stroke-linecap="round" opacity="0.85"/><path d="M32,68 C40,70 50,70 58,68" fill="none" stroke="#ffd2c0" stroke-width="0.8" stroke-linecap="round" opacity="0.85"/><path d="M58,66 L60,74" fill="none" stroke="#ffd2c0" stroke-width="0.9" stroke-linecap="round" opacity="0.85"/><path d="M74,62 L78,56" fill="none" stroke="#ffd2c0" stroke-width="0.8" stroke-linecap="round" opacity="0.85"/><path d="M20,72 L22,78" fill="none" stroke="#ffd2c0" stroke-width="0.6" stroke-linecap="round" opacity="0.85"/></g><circle cx="52" cy="50" r="0.7" fill="#48e08a"/><circle cx="20" cy="20" r="0.7" fill="#48e08a"/><circle cx="40" cy="40" r="0.7" fill="#48e08a"/><circle cx="6.9" cy="4.0" r="0.45" fill="#2aa9ae" opacity="0.55"/><circle cx="44.7" cy="71.0" r="0.45" fill="#2aa9ae" opacity="0.55"/><circle cx="44.5" cy="71.9" r="0.45" fill="#2aa9ae" opacity="0.55"/><circle cx="17.5" cy="19.5" r="0.45" fill="#2aa9ae" opacity="0.55"/><circle cx="33.0" cy="9.5" r="0.45" fill="#2aa9ae" opacity="0.55"/><circle cx="70.9" cy="5.7" r="0.45" fill="#2aa9ae" opacity="0.55"/><circle cx="48.2" cy="12.5" r="0.45" fill="#2aa9ae" opacity="0.55"/><circle cx="30.6" cy="8.2" r="0.45" fill="#2aa9ae" opacity="0.55"/><circle cx="56.3" cy="18.9" r="0.45" fill="#2aa9ae" opacity="0.55"/><circle cx="26.6" cy="32.4" r="0.45" fill="#2aa9ae" opacity="0.55"/><circle cx="57.6" cy="32.7" r="0.45" fill="#2aa9ae" opacity="0.55"/><circle cx="32.6" cy="28.9" r="0.45" fill="#2aa9ae" opacity="0.55"/><circle cx="63.7" cy="63.0" r="0.45" fill="#2aa9ae" opacity="0.55"/><circle cx="74.2" cy="57.2" r="0.45" fill="#2aa9ae" opacity="0.55"/><circle cx="54.0" cy="64.6" r="0.45" fill="#2aa9ae" opacity="0.55"/><circle cx="4.9" cy="74.4" r="0.45" fill="#2aa9ae" opacity="0.55"/><circle cx="39.6" cy="35.9" r="0.45" fill="#2aa9ae" opacity="0.55"/><circle cx="54.4" cy="70.1" r="0.45" fill="#2aa9ae" opacity="0.55"/><circle cx="48.8" cy="72.0" r="0.45" fill="#2aa9ae" opacity="0.55"/><circle cx="14.7" cy="29.3" r="0.45" fill="#2aa9ae" opacity="0.55"/><circle cx="63.9" cy="74.4" r="0.45" fill="#2aa9ae" opacity="0.55"/><circle cx="22.9" cy="6.7" r="0.45" fill="#2aa9ae" opacity="0.55"/><circle cx="51.7" cy="52.9" r="0.45" fill="#2aa9ae" opacity="0.55"/><circle cx="72.9" cy="10.6" r="0.45" fill="#2aa9ae" opacity="0.55"/><circle cx="41.4" cy="16.4" r="0.45" fill="#2aa9ae" opacity="0.55"/><circle cx="43.5" cy="20.6" r="0.45" fill="#2aa9ae" opacity="0.55"/><circle cx="13.1" cy="36.9" r="0.45" fill="#2aa9ae" opacity="0.55"/><circle cx="73.3" cy="10.6" r="0.45" fill="#2aa9ae" opacity="0.55"/><circle cx="70.4" cy="10.3" r="0.45" fill="#2aa9ae" opacity="0.55"/><circle cx="38.0" cy="13.9" r="0.45" fill="#2aa9ae" opacity="0.55"/><circle cx="38.9" cy="50.7" r="0.45" fill="#2aa9ae" opacity="0.55"/><circle cx="80.6" cy="77.2" r="0.45" fill="#2aa9ae" opacity="0.55"/><circle cx="38.6" cy="31.2" r="0.45" fill="#2aa9ae" opacity="0.55"/><circle cx="42.8" cy="14.3" r="0.45" fill="#2aa9ae" opacity="0.55"/><circle cx="75.6" cy="38.9" r="0.45" fill="#2aa9ae" opacity="0.55"/><circle cx="32.0" cy="44.0" r="0.45" fill="#2aa9ae" opacity="0.55"/><circle cx="1.7" cy="52.7" r="0.45" fill="#2aa9ae" opacity="0.55"/><circle cx="69.8" cy="77.8" r="0.45" fill="#2aa9ae" opacity="0.55"/><circle cx="44.8" cy="18.8" r="0.45" fill="#2aa9ae" opacity="0.55"/><circle cx="21.6" cy="17.8" r="0.45" fill="#2aa9ae" opacity="0.55"/></g><rect x="669.7" y="1091.1000000000001" width="6.3" height="0.7" fill="#ddd"/><text x="601.20" y="1020.30" font-size="6.2" font-weight="bold" text-anchor="start" fill="#fff">4-TT</text></g><clipPath id="mc4"><rect x="682.2" y="1013.9" width="80.7" height="80.8"/></clipPath><g clip-path="url(#mc4)"><rect x="682.2" y="1013.9" width="80.7" height="80.8" fill="#051012"/><g transform="translate(682.2,1013.9)"><g filter="url(#bl3)" opacity="0.85"><path d="M0,20 C12,14 24,12 34,4" fill="none" stroke="#125a5f" stroke-width="5.0"/><path d="M0,34 C10,28 22,22 30,14 C36,8 40,4 42,-2" fill="none" stroke="#125a5f" stroke-width="4.6"/><path d="M0,48 C12,42 24,38 34,30 C40,24 46,26 48,32 C50,40 56,44 62,42 C70,40 76,44 82,42" fill="none" stroke="#125a5f" stroke-width="5.0"/><path d="M0,62 C12,54 22,50 32,48 C42,46 46,40 50,34" fill="none" stroke="#125a5f" stroke-width="4.6"/><path d="M6,82 C12,70 24,62 36,58 C48,54 54,60 62,64 C70,68 76,66 82,70" fill="none" stroke="#125a5f" stroke-width="4.6"/><path d="M54,-2 C56,8 60,18 66,24 C72,28 78,28 82,30" fill="none" stroke="#125a5f" stroke-width="5.0"/><path d="M62,-2 C64,8 70,14 78,14" fill="none" stroke="#125a5f" stroke-width="3.8"/><path d="M30,82 C36,74 46,72 56,74 C66,76 74,80 82,78" fill="none" stroke="#125a5f" stroke-width="4.2"/><path d="M64,42 C62,50 64,58 62,64" fill="none" stroke="#125a5f" stroke-width="3.8"/><path d="M14,64 C18,70 16,76 12,80" fill="none" stroke="#125a5f" stroke-width="3.8"/></g><g filter="url(#bl1)"><path d="M0,20 C12,14 24,12 34,4" fill="none" stroke="#2fa3a6" stroke-width="1.62" stroke-linecap="round"/><path d="M0,34 C10,28 22,22 30,14 C36,8 40,4 42,-2" fill="none" stroke="#2fa3a6" stroke-width="1.49" stroke-linecap="round"/><path d="M0,48 C12,42 24,38 34,30 C40,24 46,26 48,32 C50,40 56,44 62,42 C70,40 76,44 82,42" fill="none" stroke="#2fa3a6" stroke-width="1.62" stroke-linecap="round"/><path d="M0,62 C12,54 22,50 32,48 C42,46 46,40 50,34" fill="none" stroke="#2fa3a6" stroke-width="1.49" stroke-linecap="round"/><path d="M6,82 C12,70 24,62 36,58 C48,54 54,60 62,64 C70,68 76,66 82,70" fill="none" stroke="#2fa3a6" stroke-width="1.49" stroke-linecap="round"/><path d="M54,-2 C56,8 60,18 66,24 C72,28 78,28 82,30" fill="none" stroke="#2fa3a6" stroke-width="1.62" stroke-linecap="round"/><path d="M62,-2 C64,8 70,14 78,14" fill="none" stroke="#2fa3a6" stroke-width="1.22" stroke-linecap="round"/><path d="M30,82 C36,74 46,72 56,74 C66,76 74,80 82,78" fill="none" stroke="#2fa3a6" stroke-width="1.35" stroke-linecap="round"/><path d="M64,42 C62,50 64,58 62,64" fill="none" stroke="#2fa3a6" stroke-width="1.22" stroke-linecap="round"/><path d="M14,64 C18,70 16,76 12,80" fill="none" stroke="#2fa3a6" stroke-width="1.22" stroke-linecap="round"/></g><g filter="url(#bl2)" opacity="0.9"><path d="M3,14 C10,12 18,9 26,4" fill="none" stroke="#d8302a" stroke-width="4.8" stroke-linecap="round" stroke-linejoin="round"/><path d="M26,4 L34,0" fill="none" stroke="#d8302a" stroke-width="4.0" stroke-linecap="round" stroke-linejoin="round"/><path d="M36,18 C40,22 44,26 47,31" fill="none" stroke="#d8302a" stroke-width="4.8" stroke-linecap="round" stroke-linejoin="round"/><path d="M12,68 C16,66 22,62 28,57" fill="none" stroke="#d8302a" stroke-width="5.2" stroke-linecap="round" stroke-linejoin="round"/><path d="M62,26 L67,30" fill="none" stroke="#d8302a" stroke-width="4.4" stroke-linecap="round" stroke-linejoin="round"/><path d="M22,48 L26,46" fill="none" stroke="#d8302a" stroke-width="2.8" stroke-linecap="round" stroke-linejoin="round"/></g><g filter="url(#bl1)"><path d="M3,14 C10,12 18,9 26,4" fill="none" stroke="#ff4a3c" stroke-width="3.0" stroke-linecap="round" stroke-linejoin="round"/><path d="M26,4 L34,0" fill="none" stroke="#ff4a3c" stroke-width="2.5" stroke-linecap="round" stroke-linejoin="round"/><path d="M36,18 C40,22 44,26 47,31" fill="none" stroke="#ff4a3c" stroke-width="3.0" stroke-linecap="round" stroke-linejoin="round"/><path d="M12,68 C16,66 22,62 28,57" fill="none" stroke="#ff4a3c" stroke-width="3.2" stroke-linecap="round" stroke-linejoin="round"/><path d="M62,26 L67,30" fill="none" stroke="#ff4a3c" stroke-width="2.8" stroke-linecap="round" stroke-linejoin="round"/><path d="M22,48 L26,46" fill="none" stroke="#ff4a3c" stroke-width="1.8" stroke-linecap="round" stroke-linejoin="round"/><path d="M3,14 C10,12 18,9 26,4" fill="none" stroke="#ffd2c0" stroke-width="0.9" stroke-linecap="round" opacity="0.85"/><path d="M26,4 L34,0" fill="none" stroke="#ffd2c0" stroke-width="0.7" stroke-linecap="round" opacity="0.85"/><path d="M36,18 C40,22 44,26 47,31" fill="none" stroke="#ffd2c0" stroke-width="0.9" stroke-linecap="round" opacity="0.85"/><path d="M12,68 C16,66 22,62 28,57" fill="none" stroke="#ffd2c0" stroke-width="0.9" stroke-linecap="round" opacity="0.85"/><path d="M62,26 L67,30" fill="none" stroke="#ffd2c0" stroke-width="0.8" stroke-linecap="round" opacity="0.85"/><path d="M22,48 L26,46" fill="none" stroke="#ffd2c0" stroke-width="0.5" stroke-linecap="round" opacity="0.85"/></g><circle cx="52" cy="45" r="0.7" fill="#48e08a"/><circle cx="36" cy="20" r="0.7" fill="#48e08a"/><circle cx="10.0" cy="67.1" r="0.45" fill="#2aa9ae" opacity="0.55"/><circle cx="62.1" cy="47.8" r="0.45" fill="#2aa9ae" opacity="0.55"/><circle cx="22.5" cy="74.0" r="0.45" fill="#2aa9ae" opacity="0.55"/><circle cx="23.0" cy="49.1" r="0.45" fill="#2aa9ae" opacity="0.55"/><circle cx="46.7" cy="76.4" r="0.45" fill="#2aa9ae" opacity="0.55"/><circle cx="0.9" cy="79.4" r="0.45" fill="#2aa9ae" opacity="0.55"/><circle cx="54.3" cy="48.3" r="0.45" fill="#2aa9ae" opacity="0.55"/><circle cx="23.8" cy="44.3" r="0.45" fill="#2aa9ae" opacity="0.55"/><circle cx="26.0" cy="58.8" r="0.45" fill="#2aa9ae" opacity="0.55"/><circle cx="5.4" cy="30.8" r="0.45" fill="#2aa9ae" opacity="0.55"/><circle cx="45.3" cy="71.4" r="0.45" fill="#2aa9ae" opacity="0.55"/><circle cx="55.5" cy="73.2" r="0.45" fill="#2aa9ae" opacity="0.55"/><circle cx="74.4" cy="21.2" r="0.45" fill="#2aa9ae" opacity="0.55"/><circle cx="65.4" cy="29.2" r="0.45" fill="#2aa9ae" opacity="0.55"/><circle cx="30.1" cy="43.0" r="0.45" fill="#2aa9ae" opacity="0.55"/><circle cx="61.9" cy="53.3" r="0.45" fill="#2aa9ae" opacity="0.55"/><circle cx="69.1" cy="73.8" r="0.45" fill="#2aa9ae" opacity="0.55"/><circle cx="67.0" cy="77.6" r="0.45" fill="#2aa9ae" opacity="0.55"/><circle cx="29.2" cy="40.4" r="0.45" fill="#2aa9ae" opacity="0.55"/><circle cx="78.2" cy="9.3" r="0.45" fill="#2aa9ae" opacity="0.55"/><circle cx="7.5" cy="70.9" r="0.45" fill="#2aa9ae" opacity="0.55"/><circle cx="77.4" cy="42.6" r="0.45" fill="#2aa9ae" opacity="0.55"/><circle cx="43.5" cy="1.1" r="0.45" fill="#2aa9ae" opacity="0.55"/><circle cx="73.1" cy="71.6" r="0.45" fill="#2aa9ae" opacity="0.55"/><circle cx="73.9" cy="30.5" r="0.45" fill="#2aa9ae" opacity="0.55"/><circle cx="21.7" cy="71.5" r="0.45" fill="#2aa9ae" opacity="0.55"/><circle cx="68.4" cy="74.2" r="0.45" fill="#2aa9ae" opacity="0.55"/><circle cx="40.1" cy="68.4" r="0.45" fill="#2aa9ae" opacity="0.55"/><circle cx="46.6" cy="1.4" r="0.45" fill="#2aa9ae" opacity="0.55"/><circle cx="0.9" cy="54.2" r="0.45" fill="#2aa9ae" opacity="0.55"/><circle cx="41.5" cy="5.4" r="0.45" fill="#2aa9ae" opacity="0.55"/><circle cx="14.4" cy="68.8" r="0.45" fill="#2aa9ae" opacity="0.55"/><circle cx="28.2" cy="15.2" r="0.45" fill="#2aa9ae" opacity="0.55"/><circle cx="9.5" cy="69.0" r="0.45" fill="#2aa9ae" opacity="0.55"/><circle cx="16.3" cy="61.6" r="0.45" fill="#2aa9ae" opacity="0.55"/><circle cx="62.3" cy="8.4" r="0.45" fill="#2aa9ae" opacity="0.55"/><circle cx="38.3" cy="13.2" r="0.45" fill="#2aa9ae" opacity="0.55"/><circle cx="40.2" cy="9.9" r="0.45" fill="#2aa9ae" opacity="0.55"/><circle cx="0.1" cy="67.9" r="0.45" fill="#2aa9ae" opacity="0.55"/><circle cx="16.9" cy="74.7" r="0.45" fill="#2aa9ae" opacity="0.55"/></g><rect x="752.4000000000001" y="1091.1000000000001" width="6.3" height="0.7" fill="#ddd"/><text x="683.90" y="1020.30" font-size="6.2" font-weight="bold" text-anchor="start" fill="#fff">4-TT + Alum</text></g><line x1="802.20" y1="955.70" x2="802.20" y2="1053.00" stroke="#111" stroke-width="1.8" stroke-linecap="butt"/><line x1="801.45" y1="1052.10" x2="983.00" y2="1052.10" stroke="#111" stroke-width="1.8" stroke-linecap="butt"/><line x1="799.20" y1="1052.10" x2="802.20" y2="1052.10" stroke="#111" stroke-width="1.2" stroke-linecap="butt"/><text x="798.40" y="1055.30" font-size="8.7" font-weight="bold" text-anchor="end" fill="#111">0</text><line x1="799.20" y1="1028.20" x2="802.20" y2="1028.20" stroke="#111" stroke-width="1.2" stroke-linecap="butt"/><text x="798.40" y="1031.40" font-size="8.7" font-weight="bold" text-anchor="end" fill="#111">50</text><line x1="799.20" y1="1004.30" x2="802.20" y2="1004.30" stroke="#111" stroke-width="1.2" stroke-linecap="butt"/><text x="798.40" y="1007.50" font-size="8.7" font-weight="bold" text-anchor="end" fill="#111">100</text><line x1="799.20" y1="980.40" x2="802.20" y2="980.40" stroke="#111" stroke-width="1.2" stroke-linecap="butt"/><text x="798.40" y="983.60" font-size="8.7" font-weight="bold" text-anchor="end" fill="#111">150</text><line x1="799.20" y1="956.50" x2="802.20" y2="956.50" stroke="#111" stroke-width="1.2" stroke-linecap="butt"/><text x="798.40" y="959.70" font-size="8.7" font-weight="bold" text-anchor="end" fill="#111">200</text><text x="780.60" y="1003.30" font-size="11.6" font-weight="bold" text-anchor="middle" fill="#111" transform="rotate(-90 780.60 1003.30)">Bacteria per FOV</text><line x1="819.40" y1="1052.10" x2="819.40" y2="1055.30" stroke="#111" stroke-width="1.2" stroke-linecap="butt"/><line x1="810.90" y1="1027.30" x2="827.90" y2="1027.30" stroke="#e8383d" stroke-width="1.3" stroke-linecap="butt"/><circle cx="819.4" cy="1009.6" r="1.7" fill="none" stroke="#e8383d" stroke-width="0.9"/><circle cx="819.4" cy="1022.8" r="1.7" fill="none" stroke="#e8383d" stroke-width="0.9"/><circle cx="823.9" cy="1027.8" r="1.7" fill="none" stroke="#e8383d" stroke-width="0.9"/><circle cx="819.4" cy="1033.6" r="1.7" fill="none" stroke="#e8383d" stroke-width="0.9"/><circle cx="814.9" cy="1027.5" r="1.7" fill="none" stroke="#e8383d" stroke-width="0.9"/><line x1="844.70" y1="1052.10" x2="844.70" y2="1055.30" stroke="#111" stroke-width="1.2" stroke-linecap="butt"/><line x1="836.20" y1="991.10" x2="853.20" y2="991.10" stroke="#e8383d" stroke-width="1.3" stroke-linecap="butt"/><circle cx="838.7" cy="978.8" r="1.7" fill="none" stroke="#e8383d" stroke-width="0.9"/><circle cx="845.2" cy="981.8" r="1.7" fill="none" stroke="#e8383d" stroke-width="0.9"/><circle cx="838.7" cy="993.2" r="1.7" fill="none" stroke="#e8383d" stroke-width="0.9"/><circle cx="845.2" cy="990.6" r="1.7" fill="none" stroke="#e8383d" stroke-width="0.9"/><circle cx="851.7" cy="991.9" r="1.7" fill="none" stroke="#e8383d" stroke-width="0.9"/><line x1="870.50" y1="1052.10" x2="870.50" y2="1055.30" stroke="#111" stroke-width="1.2" stroke-linecap="butt"/><line x1="862.00" y1="995.70" x2="879.00" y2="995.70" stroke="#e8383d" stroke-width="1.3" stroke-linecap="butt"/><circle cx="870.5" cy="988.9" r="1.7" fill="none" stroke="#e8383d" stroke-width="0.9"/><circle cx="866.0" cy="995.7" r="1.7" fill="none" stroke="#e8383d" stroke-width="0.9"/><circle cx="875.0" cy="995.7" r="1.7" fill="none" stroke="#e8383d" stroke-width="0.9"/><circle cx="866.0" cy="1003.8" r="1.7" fill="none" stroke="#e8383d" stroke-width="0.9"/><circle cx="875.0" cy="1003.3" r="1.7" fill="none" stroke="#e8383d" stroke-width="0.9"/><line x1="914.20" y1="1052.10" x2="914.20" y2="1055.30" stroke="#111" stroke-width="1.2" stroke-linecap="butt"/><line x1="905.70" y1="1051.40" x2="922.70" y2="1051.40" stroke="#3344dd" stroke-width="1.3" stroke-linecap="butt"/><circle cx="908.2" cy="1051.0" r="1.7" fill="none" stroke="#3344dd" stroke-width="0.9"/><circle cx="912.2" cy="1050.6" r="1.7" fill="none" stroke="#3344dd" stroke-width="0.9"/><circle cx="916.2" cy="1050.6" r="1.7" fill="none" stroke="#3344dd" stroke-width="0.9"/><circle cx="920.2" cy="1051.0" r="1.7" fill="none" stroke="#3344dd" stroke-width="0.9"/><circle cx="914.2" cy="1051.3" r="1.7" fill="none" stroke="#3344dd" stroke-width="0.9"/><line x1="939.50" y1="1052.10" x2="939.50" y2="1055.30" stroke="#111" stroke-width="1.2" stroke-linecap="butt"/><line x1="931.00" y1="1031.00" x2="948.00" y2="1031.00" stroke="#3344dd" stroke-width="1.3" stroke-linecap="butt"/><circle cx="939.5" cy="1017.7" r="1.7" fill="none" stroke="#3344dd" stroke-width="0.9"/><circle cx="944.0" cy="1028.6" r="1.7" fill="none" stroke="#3344dd" stroke-width="0.9"/><circle cx="935.0" cy="1031.1" r="1.7" fill="none" stroke="#3344dd" stroke-width="0.9"/><circle cx="935.0" cy="1035.4" r="1.7" fill="none" stroke="#3344dd" stroke-width="0.9"/><circle cx="944.0" cy="1032.9" r="1.7" fill="none" stroke="#3344dd" stroke-width="0.9"/><line x1="964.80" y1="1052.10" x2="964.80" y2="1055.30" stroke="#111" stroke-width="1.2" stroke-linecap="butt"/><line x1="956.30" y1="1004.60" x2="973.30" y2="1004.60" stroke="#3344dd" stroke-width="1.3" stroke-linecap="butt"/><circle cx="960.8" cy="996.5" r="1.7" fill="none" stroke="#3344dd" stroke-width="0.9"/><circle cx="969.3" cy="1000.0" r="1.7" fill="none" stroke="#3344dd" stroke-width="0.9"/><circle cx="960.3" cy="1004.6" r="1.7" fill="none" stroke="#3344dd" stroke-width="0.9"/><circle cx="969.3" cy="1004.6" r="1.7" fill="none" stroke="#3344dd" stroke-width="0.9"/><circle cx="964.8" cy="1011.6" r="1.7" fill="none" stroke="#3344dd" stroke-width="0.9"/><line x1="818.90" y1="954.70" x2="870.50" y2="954.70" stroke="#111" stroke-width="1.4" stroke-linecap="butt"/><text x="844.70" y="953.40" font-size="9.5" font-weight="bold" text-anchor="middle" fill="#111">***</text><line x1="818.90" y1="966.60" x2="841.60" y2="966.60" stroke="#111" stroke-width="1.4" stroke-linecap="butt"/><text x="830.25" y="965.30" font-size="9.5" font-weight="bold" text-anchor="middle" fill="#111">****</text><line x1="845.90" y1="966.60" x2="870.50" y2="966.60" stroke="#111" stroke-width="1.4" stroke-linecap="butt"/><text x="858.20" y="963.40" font-size="8" font-weight="bold" text-anchor="middle" fill="#111">ns</text><line x1="913.70" y1="954.70" x2="965.60" y2="954.70" stroke="#111" stroke-width="1.4" stroke-linecap="butt"/><text x="939.65" y="953.40" font-size="9.5" font-weight="bold" text-anchor="middle" fill="#111">****</text><line x1="913.70" y1="966.60" x2="939.00" y2="966.60" stroke="#111" stroke-width="1.4" stroke-linecap="butt"/><text x="926.35" y="965.30" font-size="9.5" font-weight="bold" text-anchor="middle" fill="#111">****</text><line x1="943.30" y1="966.60" x2="965.60" y2="966.60" stroke="#111" stroke-width="1.4" stroke-linecap="butt"/><text x="954.45" y="965.30" font-size="9.5" font-weight="bold" text-anchor="middle" fill="#111">****</text><text x="821.90" y="1062.00" font-size="8.9" font-weight="bold" text-anchor="end" fill="#111" transform="rotate(-45 821.90 1062.00)">Control</text><text x="847.20" y="1062.00" font-size="8.9" font-weight="bold" text-anchor="end" fill="#111" transform="rotate(-45 847.20 1062.00)">100 μL</text><text x="873.00" y="1062.00" font-size="8.9" font-weight="bold" text-anchor="end" fill="#111" transform="rotate(-45 873.00 1062.00)">200 μL</text><text x="916.70" y="1062.00" font-size="8.9" font-weight="bold" text-anchor="end" fill="#111" transform="rotate(-45 916.70 1062.00)">Control</text><text x="942.00" y="1062.00" font-size="8.9" font-weight="bold" text-anchor="end" fill="#111" transform="rotate(-45 942.00 1062.00)">100 μL</text><text x="967.30" y="1062.00" font-size="8.9" font-weight="bold" text-anchor="end" fill="#111" transform="rotate(-45 967.30 1062.00)">200 μL</text><circle cx="978.2" cy="961.6" r="1.8" fill="none" stroke="#e8383d" stroke-width="0.9"/><text x="985.80" y="964.70" font-size="8.5" font-weight="bold" text-anchor="start" fill="#111">KCs</text><circle cx="978.2" cy="971.7" r="1.8" fill="none" stroke="#3344dd" stroke-width="0.9"/><text x="985.80" y="974.80" font-size="8.5" font-weight="bold" text-anchor="start" fill="#111">LSECs</text></g>
<g id="panel7"><defs><linearGradient id="gPink" x1="0" y1="0" x2="0" y2="1"><stop offset="0" stop-color="#fff6f5"/><stop offset="0.5" stop-color="#f9c4c0"/><stop offset="1" stop-color="#ef8680"/></linearGradient></defs><polygon points="474.8,1080 545.6,1080 545.6,1108.3 580.5,1108.3 510,1135.4 439.7,1108.3 474.8,1108.3" fill="url(#gPink)"/><g transform="translate(279.7,1268.9) scale(1.968,1.957) translate(-669.8,-143.9)"><defs><radialGradient id="gTT" cx="0.45" cy="0.4" r="0.65"><stop offset="0" stop-color="#f1f1f1"/><stop offset="0.6" stop-color="#d2d2d2"/><stop offset="1" stop-color="#9f9f9f"/></radialGradient></defs><ellipse cx="593" cy="142.2" rx="24.5" ry="10.6" fill="url(#gTT)"/><text x="593" y="145.9" font-size="10.2" font-weight="bold" text-anchor="middle" fill="#111">TT</text><polyline points="617.50,142.00 630.40,142.00" fill="none" stroke="#333" stroke-width="0.7" stroke-linejoin="miter"/><path d="M630.5,130.3 Q625.3,142 630.5,153.7" fill="none" stroke="#333" stroke-width="0.7"/><text x="634.30" y="145.79" font-size="8.9" text-anchor="middle" fill="#222" font-weight="normal">N</text><text x="634.30" y="153.19" font-size="8.9" text-anchor="middle" fill="#222" font-weight="normal">H</text><polyline points="638.00,140.80 644.00,138.40 652.30,144.40 659.80,138.00" fill="none" stroke="#333" stroke-width="0.7" stroke-linejoin="miter"/><polyline points="645.00,138.40 645.00,131.40" fill="none" stroke="#333" stroke-width="0.7" stroke-linejoin="miter"/><polyline points="643.00,138.40 643.00,131.40" fill="none" stroke="#333" stroke-width="0.7" stroke-linejoin="miter"/><text x="644.00" y="129.99" font-size="8.9" text-anchor="middle" fill="#222" font-weight="normal">O</text><path d="M659.5,130.3 Q664.9,142.5 659.5,155" fill="none" stroke="#333" stroke-width="0.7"/><text x="669.80" y="147.09" font-size="8.9" text-anchor="middle" fill="#222" font-weight="normal">S</text><polyline points="673.80,142.60 683.40,139.70" fill="none" stroke="#333" stroke-width="0.7" stroke-linejoin="miter"/><polyline points="685.00,72.90 679.20,72.90 679.20,161.20 685.00,161.20" fill="none" stroke="#333" stroke-width="0.85" stroke-linejoin="miter"/><polyline points="683.40,139.70 685.00,126.80 696.80,121.40 703.20,129.60" fill="none" stroke="#333" stroke-width="0.7" stroke-linejoin="miter"/><polyline points="683.40,139.70 696.30,142.50 703.00,136.60" fill="none" stroke="#333" stroke-width="0.7" stroke-linejoin="miter"/><text x="705.80" y="136.39" font-size="8.9" text-anchor="middle" fill="#222" font-weight="normal">N</text><polyline points="697.70,121.83 700.90,115.03" fill="none" stroke="#333" stroke-width="0.7" stroke-linejoin="miter"/><polyline points="695.90,120.97 699.10,114.17" fill="none" stroke="#333" stroke-width="0.7" stroke-linejoin="miter"/><text x="701.60" y="113.49" font-size="8.9" text-anchor="middle" fill="#222" font-weight="normal">O</text><polyline points="695.39,142.92 699.09,150.82" fill="none" stroke="#333" stroke-width="0.7" stroke-linejoin="miter"/><polyline points="697.21,142.08 700.91,149.98" fill="none" stroke="#333" stroke-width="0.7" stroke-linejoin="miter"/><text x="701.60" y="158.09" font-size="8.9" text-anchor="middle" fill="#222" font-weight="normal">O</text><polyline points="709.30,136.20 716.70,141.60 723.70,135.50 731.20,140.90 739.60,136.30" fill="none" stroke="#333" stroke-width="0.7" stroke-linejoin="miter"/><polyline points="730.20,140.90 730.20,149.60" fill="none" stroke="#333" stroke-width="0.7" stroke-linejoin="miter"/><polyline points="732.20,140.90 732.20,149.60" fill="none" stroke="#333" stroke-width="0.7" stroke-linejoin="miter"/><text x="731.20" y="157.39" font-size="8.9" text-anchor="middle" fill="#222" font-weight="normal">O</text><text x="740.00" y="137.79" font-size="8.9" text-anchor="start" fill="#222" font-weight="normal">NH</text><polyline points="753.30,136.40 758.90,141.30 767.10,135.50 773.60,139.60" fill="none" stroke="#333" stroke-width="0.7" stroke-linejoin="miter"/><text x="777.20" y="145.19" font-size="8.9" text-anchor="middle" fill="#222" font-weight="normal">O</text><polyline points="780.90,139.40 787.00,135.50 796.00,141.30 800.60,138.00" fill="none" stroke="#333" stroke-width="0.7" stroke-linejoin="miter"/><text x="803.30" y="139.19" font-size="8.9" text-anchor="middle" fill="#222" font-weight="normal">O</text><polyline points="803.30,127.00 803.30,131.50" fill="none" stroke="#333" stroke-width="0.7" stroke-linejoin="miter"/><text x="803.30" y="125.79" font-size="8.9" text-anchor="middle" fill="#222" font-weight="normal">P</text><text x="803.30" y="112.19" font-size="8.9" text-anchor="middle" fill="#222" font-weight="normal">O</text><polyline points="802.30,113.40 802.30,118.00" fill="none" stroke="#333" stroke-width="0.7" stroke-linejoin="miter"/><polyline points="804.30,113.40 804.30,118.00" fill="none" stroke="#333" stroke-width="0.7" stroke-linejoin="miter"/><text x="766.0" y="125.79" font-size="8.9" fill="#222">Na+O<tspan font-size="6.5" dy="-3.8">-</tspan></text><polyline points="793.20,122.50 799.60,122.50" fill="none" stroke="#333" stroke-width="0.7" stroke-linejoin="miter"/><polyline points="806.80,122.50 838.30,122.50" fill="none" stroke="#333" stroke-width="0.7" stroke-linejoin="miter"/><polyline points="820.60,76.80 814.70,76.80 814.70,158.20 820.60,158.20" fill="none" stroke="#333" stroke-width="0.85" stroke-linejoin="miter"/><polyline points="911.90,76.80 917.80,76.80 917.80,158.40 911.90,158.40" fill="none" stroke="#333" stroke-width="0.85" stroke-linejoin="miter"/><g transform="translate(849,90.3) scale(0.905)"><text x="-22.30" y="-2.66" font-size="9.9" text-anchor="end" fill="#222" font-weight="normal">HO</text><polyline points="-20.80,-6.50 -11.40,-6.50 -10.80,7.00" fill="none" stroke="#333" stroke-width="0.75" stroke-linejoin="miter"/><text x="0.00" y="3.54" font-size="9.9" text-anchor="middle" fill="#222" font-weight="normal">O</text><polyline points="-4.30,2.60 -10.80,7.00" fill="none" stroke="#333" stroke-width="0.75" stroke-linejoin="miter"/><polyline points="4.30,2.60 11.50,6.60" fill="none" stroke="#333" stroke-width="0.75" stroke-linejoin="miter"/><polygon points="-10.80,7.00 -8.73,21.27 -7.07,20.93" fill="#222" stroke="#222" stroke-width="0.4"/><polygon points="11.50,6.60 7.08,20.90 8.72,21.30" fill="#222" stroke="#222" stroke-width="0.4"/><polyline points="-8.60,21.10 8.60,21.10" fill="none" stroke="#222" stroke-width="1.9" stroke-linejoin="miter"/><polyline points="11.50,6.60 11.80,-1.60" fill="none" stroke="#333" stroke-width="0.75" stroke-linejoin="miter"/><text x="11.70" y="-2.76" font-size="9.9" text-anchor="middle" fill="#222" font-weight="normal">O</text><polyline points="-7.90,21.10 -7.60,30.90" fill="none" stroke="#333" stroke-width="0.75" stroke-linejoin="miter"/><text x="-7.50" y="39.84" font-size="9.9" text-anchor="middle" fill="#222" font-weight="normal">O</text><polyline points="7.90,21.10 7.90,30.90" fill="none" stroke="#333" stroke-width="0.75" stroke-linejoin="miter"/><text x="4.00" y="39.84" font-size="9.9" text-anchor="start" fill="#222" font-weight="normal">OH</text><polyline points="16.00,-6.50 25.90,-6.50 25.90,50.50 36.10,50.50" fill="none" stroke="#333" stroke-width="0.75" stroke-linejoin="miter"/><polyline points="25.90,7.60 36.10,7.60" fill="none" stroke="#333" stroke-width="0.75" stroke-linejoin="miter"/><text x="36.60" y="11.34" font-size="9.9" text-anchor="start" fill="#222" font-weight="normal">OH</text><polyline points="25.90,21.90 36.10,21.90" fill="none" stroke="#333" stroke-width="0.75" stroke-linejoin="miter"/><text x="36.60" y="25.64" font-size="9.9" text-anchor="start" fill="#222" font-weight="normal">OH</text><polyline points="25.90,36.40 36.10,36.40" fill="none" stroke="#333" stroke-width="0.75" stroke-linejoin="miter"/><text x="36.60" y="40.14" font-size="9.9" text-anchor="start" fill="#222" font-weight="normal">OH</text><text x="40.30" y="54.44" font-size="9.9" text-anchor="middle" fill="#222" font-weight="normal">O</text></g><g transform="translate(956.1,103.9) scale(0.905)"><text x="-22.30" y="-2.66" font-size="9.9" text-anchor="end" fill="#222" font-weight="normal">HO</text><polyline points="-20.80,-6.50 -11.40,-6.50 -10.80,7.00" fill="none" stroke="#333" stroke-width="0.75" stroke-linejoin="miter"/><text x="0.00" y="3.54" font-size="9.9" text-anchor="middle" fill="#222" font-weight="normal">O</text><polyline points="-4.30,2.60 -10.80,7.00" fill="none" stroke="#333" stroke-width="0.75" stroke-linejoin="miter"/><polyline points="4.30,2.60 11.50,6.60" fill="none" stroke="#333" stroke-width="0.75" stroke-linejoin="miter"/><polygon points="-10.80,7.00 -8.73,21.27 -7.07,20.93" fill="#222" stroke="#222" stroke-width="0.4"/><polygon points="11.50,6.60 7.08,20.90 8.72,21.30" fill="#222" stroke="#222" stroke-width="0.4"/><polyline points="-8.60,21.10 8.60,21.10" fill="none" stroke="#222" stroke-width="1.9" stroke-linejoin="miter"/><polyline points="11.50,6.60 11.80,-1.60" fill="none" stroke="#333" stroke-width="0.75" stroke-linejoin="miter"/><text x="11.70" y="-2.76" font-size="9.9" text-anchor="middle" fill="#222" font-weight="normal">O</text><polyline points="-7.90,21.10 -7.60,30.90" fill="none" stroke="#333" stroke-width="0.75" stroke-linejoin="miter"/><text x="-7.50" y="39.84" font-size="9.9" text-anchor="middle" fill="#222" font-weight="normal">O</text><polyline points="7.90,21.10 7.90,30.90" fill="none" stroke="#333" stroke-width="0.75" stroke-linejoin="miter"/><text x="4.00" y="39.84" font-size="9.9" text-anchor="start" fill="#222" font-weight="normal">OH</text><polyline points="16.00,-6.50 25.90,-6.50 25.90,50.50 36.10,50.50" fill="none" stroke="#333" stroke-width="0.75" stroke-linejoin="miter"/><polyline points="25.90,7.60 36.10,7.60" fill="none" stroke="#333" stroke-width="0.75" stroke-linejoin="miter"/><text x="36.60" y="11.34" font-size="9.9" text-anchor="start" fill="#222" font-weight="normal">OH</text><polyline points="25.90,21.90 36.10,21.90" fill="none" stroke="#333" stroke-width="0.75" stroke-linejoin="miter"/><text x="36.60" y="25.64" font-size="9.9" text-anchor="start" fill="#222" font-weight="normal">OH</text><polyline points="25.90,36.40 36.10,36.40" fill="none" stroke="#333" stroke-width="0.75" stroke-linejoin="miter"/><text x="36.60" y="40.14" font-size="9.9" text-anchor="start" fill="#222" font-weight="normal">OH</text><text x="36.60" y="54.24" font-size="9.9" text-anchor="start" fill="#222" font-weight="normal">OH</text></g><polyline points="889.60,136.00 902.80,136.00" fill="none" stroke="#333" stroke-width="0.7" stroke-linejoin="miter"/><text x="906.40" y="139.19" font-size="8.9" text-anchor="middle" fill="#222" font-weight="normal">P</text><text x="906.40" y="125.79" font-size="8.9" text-anchor="middle" fill="#222" font-weight="normal">O</text><polyline points="905.40,127.00 905.40,131.60" fill="none" stroke="#333" stroke-width="0.7" stroke-linejoin="miter"/><polyline points="907.40,127.00 907.40,131.60" fill="none" stroke="#333" stroke-width="0.7" stroke-linejoin="miter"/><polyline points="906.40,140.40 906.40,144.70" fill="none" stroke="#333" stroke-width="0.7" stroke-linejoin="miter"/><text x="886.8" y="152.39" font-size="8.9" fill="#222">Na+O<tspan font-size="6.5" dy="-3.8">-</tspan></text><polyline points="909.90,136.00 945.30,136.00" fill="none" stroke="#333" stroke-width="0.7" stroke-linejoin="miter"/><polyline points="1002.30,72.90 1008.00,72.90 1008.00,161.80 1002.30,161.80" fill="none" stroke="#333" stroke-width="0.85" stroke-linejoin="miter"/><text x="921.80" y="164.81" font-size="8.4" text-anchor="start" fill="#222" font-weight="normal">3</text></g></g>
<text x="521.5" y="1350.5" font-size="28.4" font-weight="900" fill="#C00000" text-anchor="middle">新一代Hib糖蛋白疫苗候选物：四聚体寡糖-TT结合物</text>
</svg>
</body></html>
